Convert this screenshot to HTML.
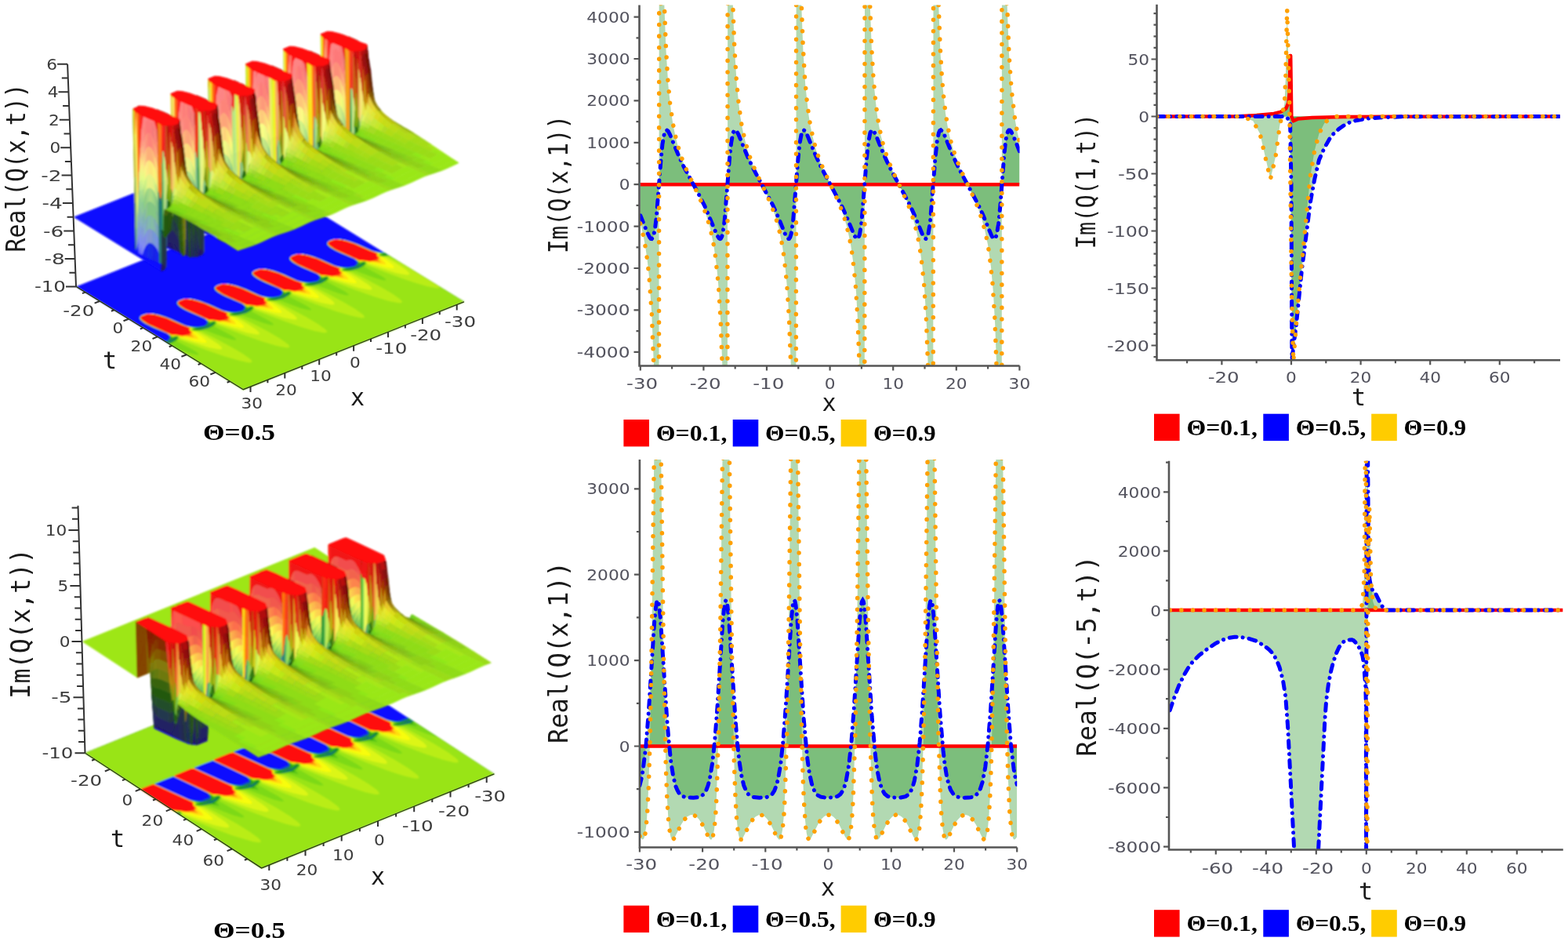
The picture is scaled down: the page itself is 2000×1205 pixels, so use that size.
<!DOCTYPE html><html><head><meta charset="utf-8"><title>Plots</title><style>html,body{margin:0;padding:0;background:#fff;overflow:hidden}svg{display:block}.m path{fill:currentColor;stroke:currentColor;stroke-width:.7;stroke-linejoin:round}</style></head><body><svg width="2000" height="1205" viewBox="0 0 2000 1205"><defs><clipPath id="c2"><rect x="815.5" y="6.5" width="485" height="460"/></clipPath><clipPath id="c5"><rect x="815.9" y="586" width="481.3" height="494.5"/></clipPath><clipPath id="c3"><rect x="1475.5" y="5.8" width="514.5" height="453.4"/></clipPath><clipPath id="c6"><rect x="1491" y="587.8" width="502.8" height="495.7"/></clipPath><filter id="fb1" x="-5%" y="-5%" width="110%" height="110%"><feGaussianBlur stdDeviation="0.9"/></filter><filter id="fb2" x="-5%" y="-5%" width="110%" height="110%"><feGaussianBlur stdDeviation="0.85"/></filter></defs><rect width="2000" height="1205" fill="#fff"/><g filter="url(#fb1)"><path fill="#0a0aff" d="M97 365.4 310.3 496.7 591.9 384.8 378.7 253.5Z"/><path fill="#0a2be2" fill-rule="evenodd" d="M310.3 496.7 210.1 435 213.5 433.7 215.5 431.7 216 429.1 214.8 426.8 212.1 425.1 196.2 418.6 185.4 413.4 178.7 408.7 177.2 406.9 177.1 405.5 181.9 401.4 189.9 399.7 195.7 399.7 203.6 401.3 213.3 404.3 240.9 416.2 251.2 416.9 259.7 415.5 262.2 414.1 263.7 412 263.8 409.7 262.4 407.6 235.4 395.6 228.7 391.5 225.2 388.2 224.8 386.9 225.3 385.7 229.8 382.4 239 380.6 246.6 381.2 257.6 384.1 289 397.2 299.2 397.9 307.6 396.4 310.1 395 311.5 393 311.6 390.6 310.3 388.6 283.6 376.8 277 372.9 273.3 369.5 272.7 368 273 366.9 277.5 363.5 284.8 361.8 292.5 361.9 303.9 364.6 314.6 368.6 332.7 376.9 336.9 378.2 347.2 378.9 355.6 377.4 358 376 359.4 373.9 359.4 371.5 358.1 369.6 331.1 357.6 324.7 353.7 321.1 350.5 320.5 348.5 322 346.8 325.4 344.4 331.4 343 339.2 342.7 350.4 345.2 361.5 349.2 380.7 358 384.7 359.2 395.1 359.9 403.5 358.4 405.9 356.9 407.2 354.8 407.1 352.4 405.8 350.5 379.7 339 373.3 335.3 369.5 332.2 368.4 330.4 368.6 329 373.3 325.4 382.7 323.6 390.4 324.2 406.3 329 431.8 340.1 441 340.9 449.4 340 452.8 338.6 454.7 336.6 455.1 333.9 453.9 331.8 451.1 330 436.4 324.1 425.3 318.8 418.9 314.6 416.2 311.2 417 309.3 421.2 306.4 427.9 304.9 434.1 304.6 443.3 306.4 457.9 311.5 477.4 320.4 482.3 321.6 489.8 321.9 591.9 384.8 310.3 496.7Z"/><path fill="#137277" fill-rule="evenodd" d="M310.3 496.7 210.7 435.4 214.3 433.9 216.3 431.9 216.7 429.2 215.2 426.6 212.3 424.7 197.7 418.8 186.8 413.6 180.5 409.5 177.7 406.1 178.4 404.1 182.4 401.5 189.6 399.9 195.1 400 203 401.5 211.9 404.3 236.2 415 240.3 416.3 251.3 417.2 260.6 415.7 263.2 414.1 264.5 412 264.3 409.5 262.9 407.5 259.9 405.6 235.6 395.1 229.5 391.4 226 388.1 225.4 386.8 225.9 385.5 230.1 382.5 238.5 380.8 246.3 381.5 257 384.4 268.9 389 284.1 396 288.3 397.3 299.7 398.2 308.5 396.7 310.9 395.2 312.2 393.4 312.3 391 311.2 389 307.8 386.6 285.9 377.4 276.6 371.9 274 369.4 273.3 367.4 274.4 365.8 278 363.5 287.5 361.8 297.8 363.3 310.7 367.5 332.1 377.1 337.1 378.5 347.7 379.2 355.9 377.9 358.6 376.3 360 374.3 360.1 371.8 358.7 369.6 355.8 367.7 338.3 360.5 327.6 355 321.7 350.2 321.1 348.6 321.9 347.1 325.9 344.5 330.2 343.4 334.8 342.8 339.7 343.1 347.3 344.7 356.4 347.7 379.7 358 383.7 359.3 394.8 360.2 403.8 358.8 406.5 357.3 407.9 355.2 407.9 352.7 406.5 350.6 403.6 348.7 386.8 341.8 376.5 336.7 370.4 332.2 369 330.3 369.1 328.9 373.5 325.5 380.9 323.9 386.8 324 394.6 325.6 403.7 328.5 427.5 339 431.8 340.3 442.8 341.2 451.7 339.8 454.4 338.2 455.7 336.1 455.7 333.7 454.2 331.5 451.1 329.6 426.7 319 420.3 315 417.1 311.8 417.2 309.5 421.5 306.5 427.8 305 432.7 304.8 440.7 306.2 450.8 309.2 476.8 320.6 482.8 321.9 490.3 322.2 591.9 384.8 310.3 496.7Z"/><path fill="#1c902e" fill-rule="evenodd" d="M310.3 496.7 214.3 437.6 221.1 434.6 223.3 432.9 223.9 431.5 212.7 436.7 211.4 435.8 215.1 434.4 217.1 432.2 217.4 429.3 215.8 426.7 212.3 424.4 195.5 417.4 185.3 412.3 179.1 407.6 178.1 406 178.4 404.6 182.6 401.6 185.6 400.8 190.3 400 195.4 400.2 202.5 401.7 211.4 404.5 235.6 415.1 240.2 416.5 251.9 417.6 261.3 416.2 263.9 414.6 265.3 412.2 265 409.6 263.2 407.3 260.1 405.4 236.1 394.9 229.8 391.1 226.4 387.9 226.1 385.8 228.1 383.9 233.4 381.8 238.2 381 245.9 381.7 256.5 384.6 268.2 389.1 283.4 396.1 288.3 397.5 299.8 398.6 309.3 397.2 311.8 395.5 313.1 393.3 312.8 390.6 311 388.3 307.7 386.3 284.3 376.1 278.1 372.4 274.4 369.2 273.8 367.2 275.3 365.3 278.2 363.6 284.1 362.2 291.7 362.3 302.8 365 314.9 369.6 331.3 377.1 336.2 378.6 347.8 379.6 357.2 378.1 359.8 376.3 360.9 374.1 360.6 371.6 358.8 369.3 355.6 367.3 331.7 356.9 325.7 353.3 322.3 350.2 321.6 348.2 322.8 346.6 326.1 344.6 330.7 343.4 338.1 343.1 349.3 345.6 362 350.3 379.3 358.2 384.3 359.6 395.8 360.6 404.8 359.2 407.4 357.6 408.7 355.2 408.4 352.6 406.7 350.3 403.6 348.4 380 338.1 373.7 334.4 370.2 331.3 369.4 329.4 370.3 327.8 373.8 325.7 377.3 324.7 385.2 324.1 396.3 326.4 409 330.9 427.1 339.2 432.3 340.7 443.7 341.6 452.7 340.2 455.1 338.7 456.5 336.6 456.5 334.2 455.2 332 451.4 329.4 429 319.8 420.6 314.7 417.9 312.2 417.2 310.2 418.4 308.6 421.6 306.6 430 305 439.3 306.1 454.4 311 476 320.6 482.7 322.1 490.9 322.6 493.9 324.4 491.4 325.3 494.9 325.1 591.9 384.8 310.3 496.7ZM443.9 344.3 449.4 343.6 456.1 341.7 460.6 339.4 463.1 336.7 453.1 341.2 443.9 344.3ZM395.9 363.3 401.6 362.6 408.2 360.7 412.8 358.4 415.3 355.7 404.6 360.4 395.9 363.3ZM347.9 382.3 353.7 381.6 360.5 379.7 365.6 376.9 367.4 374.5 359.4 378.4 347.9 382.3ZM300.4 401.3 305.9 400.6 312.6 398.7 317.1 396.4 319.6 393.7 309.6 398.2 300.4 401.3ZM252.4 420.3 258.1 419.6 264.7 417.7 269.3 415.4 271.8 412.7 261.2 417.4 252.4 420.3Z"/><path fill="#239d19" fill-rule="evenodd" d="M310.3 496.7 214.7 437.9 223.3 433.8 225.5 431.5 225.5 429.8 224.1 429.8 220.1 432.7 217.5 433.7 217.9 429.6 215.5 426.3 212.5 424.3 195.9 417.4 185.5 412.2 179.5 407.7 178.3 405.9 178.6 404.5 180.8 402.6 185.9 400.7 190.9 400 196.2 400.5 203.7 402.2 213 405.2 237.3 415.8 246.2 417.5 257.8 417.7 248 420.3 247.5 420.7 248 420.9 256.1 420.4 265.1 418 271.9 414.2 273.4 412.2 273.3 410.8 271.7 410.9 268 413.6 265.3 414.7 265.8 411.9 265.5 410 264.2 408.1 261.8 406.2 237.1 395.3 230.6 391.5 226.8 388.1 226.2 385.9 228.3 383.8 233.2 381.8 238.5 381 246 381.8 256.1 384.5 267.6 389 283 396.1 287.7 397.5 295.7 398.7 305.6 398.7 295.9 401.2 295.3 401.7 295.8 401.9 304 401.4 313.3 398.9 319.7 395.2 321.3 393.2 321.1 391.8 319.6 391.8 315.7 394.7 313.2 395.7 313.7 393 313.3 391 312 389.1 309.7 387.2 285.3 376.5 278.8 372.7 274.9 369.4 273.9 367.3 275.3 365.3 278.3 363.7 284.1 362.2 291.5 362.4 302.3 365 314.5 369.6 330.9 377.1 335.8 378.6 343.7 379.7 353.4 379.7 343.9 382.2 343.2 382.6 343.6 382.9 352 382.4 361.2 379.8 367.5 376.2 369.1 374.2 369 372.8 367.5 372.8 363.6 375.7 361 376.7 361.5 373.9 361.1 372 359.9 370.1 357.5 368.2 333.4 357.6 326.6 353.7 322.7 350.4 321.8 348.3 322.8 346.6 326.2 344.7 330.7 343.4 338.3 343.3 349.6 345.9 362.5 350.7 378.9 358.2 383.8 359.6 391.7 360.7 401.2 360.7 391.5 363.3 391 363.7 391.4 363.9 399.6 363.4 408.9 360.9 415.2 357.3 416.8 355.5 416.9 353.9 415.5 353.7 411.5 356.6 408.8 357.7 409.3 354.9 408.9 352.8 405.1 349.1 383.3 339.6 373.3 333.9 370.1 330.8 369.7 328.7 372 326.7 377.3 324.7 385 324.2 396.1 326.5 406.9 330.2 426.3 339 431.6 340.6 439.2 341.7 449.1 341.7 439.4 344.2 438.8 344.7 439.3 344.9 447.5 344.4 456.8 341.9 463.2 338.2 464.7 336.2 464.6 334.8 463.1 334.8 459.2 337.7 456.6 338.7 457.2 336 456.8 334 455.4 331.9 453 330.1 429.7 319.9 423.4 316.4 419.3 313.4 417.7 311.5 417.5 309.9 418.8 308.3 421.8 306.7 429.9 305 439.4 306.3 454 311 475.8 320.6 483 322.3 491.3 322.8 493.2 324 487.3 325.2 486.8 325.8 495.4 325.4 591.9 384.8 310.3 496.7Z"/><path fill="#2ca714" fill-rule="evenodd" d="M310.3 496.7 215.1 438.1 220.3 436 224.2 433.6 226.4 431 226.1 429.2 223.9 429.1 219 432.2 217.6 428.3 213.9 425 195.2 417 185.9 412.2 179.6 407.6 178.5 405.8 178.7 404.4 180.8 402.6 186 400.7 190.5 400.1 195.7 400.5 203.3 402.1 212.3 405.1 236.7 415.7 244.3 417.4 254 418.3 246.5 420.2 245.9 420.6 246.5 421.1 255.4 420.8 265.7 418.1 272.8 413.9 274.4 411.7 273.9 410.2 271.8 410.1 266.8 413.2 265.3 409.1 261.6 405.9 237.2 395.2 230.6 391.3 226.9 387.9 226.4 385.7 228.5 383.7 233.1 381.9 238.4 381.1 246.1 381.9 256.4 384.8 284.8 396.8 292.3 398.5 301.9 399.3 294.2 401.2 293.7 401.7 294.3 402.1 303.4 401.8 313.7 399.1 320.7 394.9 322.2 392.7 321.7 391.2 319.7 391.1 314.6 394.2 313.1 390.1 309.2 386.8 285.1 376.2 278.6 372.4 274.9 369.2 274.1 367.1 275.6 365.2 278.4 363.7 284.2 362.3 291.7 362.5 302.7 365.3 313.6 369.3 332.9 377.9 340 379.4 349.7 380.3 342.1 382.2 341.5 382.8 342.4 383.1 351.7 382.7 361.6 380 368.3 376.2 369.9 374.1 369.8 372.4 367.6 372 362.5 375.2 360.8 371 357.1 367.8 335.8 358.7 325.8 352.9 322.5 349.9 322.1 347.7 324.3 345.6 330.4 343.5 337.1 343.2 345.9 344.9 359.4 349.5 380 358.7 387.5 360.4 397.5 361.3 389.8 363.3 389.4 363.8 390.3 364.1 399.2 363.8 409.5 361 416.1 357.1 417.7 355.1 417.7 353.4 415.3 353.1 410.3 356.2 408.8 352.1 404.9 348.8 384.1 339.9 373.9 334.2 370.6 331.2 369.8 328.9 372 326.7 377.4 324.7 384.1 324.1 393.2 325.8 407.5 330.6 427.6 339.6 435.2 341.4 445.4 342.3 437.7 344.2 437.2 344.8 438.1 345.1 447.2 344.8 457.1 342.1 464 338 465.6 335.9 465.4 334.3 463.2 334.1 458.1 337.2 456.5 333 452.5 329.7 433.9 321.8 423.5 316.3 419.4 313.3 417.6 310.7 418.5 308.7 421.8 306.7 430 305.1 439.3 306.3 454.3 311.2 475.6 320.6 483.2 322.4 491.7 323.1 492.7 323.7 485.9 325.1 485.2 325.9 489.2 326.3 495.8 325.6 591.9 384.8 310.3 496.7Z"/><path fill="#59c417" fill-rule="evenodd" d="M310.3 496.7 215.4 438.3 220.7 436.3 224.8 433.7 227 431 226.6 429 224 428.7 219.6 431 217.2 427.5 213.3 424.5 194.4 416.5 183.9 411 179.4 407.2 178.5 405.6 178.8 404.4 180.8 402.6 186 400.7 190.9 400.1 196 400.6 204 402.4 212.7 405.3 236 415.6 242.7 417.3 251.2 418.5 245.3 420.2 245 420.7 246 421.3 255.1 421.1 266.1 418.3 270.7 416.1 273.5 413.8 274.9 411.6 274.4 410 271.9 409.7 267.4 412 265 408.5 261.3 405.6 237.3 395.2 230.9 391.4 227.1 388 226.4 385.8 228.6 383.7 233 381.9 238.3 381.1 244.4 381.7 253.2 383.8 265.7 388.4 283.5 396.4 290.4 398.2 299 399.5 293.3 401.2 292.8 401.7 293.8 402.3 303 402.1 314 399.3 321.1 395.1 322.7 392.9 322.5 391.2 319.9 390.6 315.2 393 312.7 389.4 308.9 386.5 288.3 377.7 277.9 371.8 274.6 368.6 274.5 366.4 278.4 363.8 283.9 362.3 290.2 362.4 299.7 364.4 312.9 369.1 331.4 377.4 338.1 379.2 346.8 380.5 340.9 382.3 340.7 382.9 341.7 383.3 351.3 383 361.9 380.3 369 376.1 370.5 373.9 370.3 372.2 367.8 371.6 363.1 374 360.6 370.5 356.8 367.5 336.6 358.9 326 353 322.6 349.9 322.2 347.6 324.3 345.6 330.4 343.5 337.3 343.3 346.9 345.3 360 349.8 379.4 358.5 386.2 360.3 394.7 361.5 388.8 363.2 388.5 363.8 389.8 364.3 399.2 364 409.9 361.2 416.9 357 418.3 354.9 418.2 353.2 417 352.6 415.4 352.7 410.9 355 408.3 351.4 404.6 348.5 384.8 340.1 374.2 334.3 370.7 331.2 369.9 328.8 372.1 326.7 377.4 324.7 381.7 324.1 386.2 324.4 400.3 328 427 339.4 433.8 341.2 442.5 342.5 436.5 344.3 436.4 344.9 437.6 345.3 447.2 345 457.5 342.3 464.6 338.1 466.2 335.9 465.9 334.1 463.4 333.6 458.7 336 456.2 332.4 452.2 329.4 433.8 321.6 423.8 316.4 419.4 313.1 417.7 310.6 418.5 308.7 421.9 306.8 430.1 305.1 440.6 306.7 454.9 311.5 474.9 320.4 481.6 322.2 490.3 323.5 484.6 325.1 484.1 325.7 484.8 326.2 489.5 326.6 496.1 325.8 591.9 384.8 310.3 496.7Z"/><path fill="#7dd918" fill-rule="evenodd" d="M310.3 496.7 215.9 438.6 221 436.7 225.2 433.9 227.4 431.1 227.6 429.8 226.9 428.8 224.3 428.4 219.8 430.2 216.6 426.8 213 424.3 194.5 416.5 184.5 411.3 179.5 407.3 178.7 405.8 178.9 404.4 180.8 402.6 186 400.7 190.9 400.2 195.9 400.6 211.9 405.1 235.9 415.6 249.1 418.5 244.6 420.3 244.5 420.9 245.6 421.4 255 421.4 267 418.6 270.9 416.5 274.1 413.9 275.4 411.5 274.7 409.8 272.3 409.3 267.7 411.2 261.2 405.5 237.4 395.1 231 391.3 227.3 388.1 226.5 385.8 228.7 383.6 232.9 382 238.2 381.2 245 381.8 254.2 384.2 266.1 388.6 283.4 396.4 297 399.5 292.5 401.2 292.4 401.9 293.5 402.4 303.3 402.3 314.9 399.6 318.8 397.5 321.8 395 323.2 392.9 322.9 391.1 320.2 390.3 315.5 392.2 312.2 388.8 308.8 386.4 288.2 377.6 277.9 371.7 274.7 368.5 274.5 366.4 278.4 363.8 283.9 362.4 290.9 362.5 300.7 364.8 313 369.2 331.3 377.5 344.5 380.4 344.7 380.8 340.2 382.3 340.2 382.9 341.6 383.5 351.3 383.3 362.5 380.6 369.4 376.3 371 373.9 370.7 372.1 367.9 371.3 363.3 373.2 360.2 369.9 356.6 367.4 336.4 358.8 326.3 353.1 322.7 349.8 322.2 347.6 324.3 345.6 330.5 343.6 334.8 343.2 340 343.7 354.2 347.6 378.7 358.3 392.6 361.5 388.1 363.3 388 363.9 389.4 364.5 399.2 364.3 410.4 361.6 417.2 357.2 418.8 354.9 418.5 353.1 415.8 352.3 411.2 354.2 407.9 350.8 404.3 348.3 384.7 340 374.4 334.3 370.7 331.1 370 328.8 372.1 326.6 377.1 324.8 381.7 324.2 386.5 324.5 400.5 328.1 426.9 339.4 440.4 342.5 435.8 344.4 435.8 344.9 437.3 345.5 446.8 345.3 458.4 342.6 462.3 340.5 465.3 338 466.7 335.7 466.2 334 463.6 333.3 459 335.2 455.7 331.8 452.1 329.3 434.5 321.9 424.2 316.6 419.7 313.4 417.8 310.8 418.6 308.7 421.9 306.8 426 305.6 430.5 305.2 440.8 306.8 455.1 311.6 474.8 320.5 488.3 323.5 483.9 325.2 483.6 325.8 484.3 326.3 489 326.8 496.5 326 591.9 384.8 310.3 496.7Z"/><path fill="#99e415" fill-rule="evenodd" d="M310.3 496.7 226.3 445.1 245.2 451.3 251.1 452.5 253.6 452.2 252.1 450.1 246.9 446.5 226 435.6 225.7 434.7 228 430.7 227.2 428.7 224.4 428.2 219.7 429.5 212.8 424.2 195.4 416.9 185 411.5 179.7 407.4 178.7 405.7 179 404.3 181.1 402.5 188.4 400.4 193.7 400.3 200.5 401.6 215.4 406.5 235.4 415.4 247.5 418.4 247.6 418.9 244.1 420.3 245.1 421.4 249.9 421.9 261.8 421.3 288.4 431 296.7 433.2 301.2 433.5 301.3 432.8 300.3 431.5 295.5 428 273.8 416.6 273.6 415.7 275.8 411.7 274.8 409.6 272.4 409.1 267.5 410.5 260.6 405.2 244.1 398.3 234.1 393.3 228.8 389.6 226.5 386.6 227 385.1 228.7 383.6 234.3 381.7 240 381.2 247.4 382.4 262.5 387.2 283.4 396.5 295.3 399.4 295.5 399.9 291.9 401.4 292.9 402.4 297.9 402.9 309.6 402.3 336.5 412.1 344.8 414.2 349.1 414.5 348.1 412.5 343.1 408.9 321.6 397.6 321.4 396.7 323.6 392.7 322.7 390.6 320.1 390.2 315.4 391.5 308.7 386.3 287.4 377.1 277.1 371 274.4 367.9 275.1 365.7 280.6 363 285.9 362.2 292.8 362.9 302.5 365.4 314.5 369.9 330.8 377.3 343.1 380.4 343.1 381 339.8 382.3 340.8 383.4 345.8 383.9 357.5 383.3 383.7 392.9 392.2 395.1 396.8 395.6 397 394.9 396.1 393.6 391.3 390.1 369.5 378.6 369.2 377.7 371.5 373.6 370.5 371.6 367.9 371.2 363.2 372.5 356.5 367.3 335.7 358.3 325 352.1 322.4 349.2 322.6 347.1 326.4 344.8 332.2 343.3 339.6 343.7 349.5 346.1 361.7 350.6 378.8 358.4 391 361.4 391 361.9 387.6 363.3 388.7 364.5 393.4 364.9 405.3 364.3 431.8 374 440.2 376.2 444.7 376.5 444.8 375.8 443.8 374.5 438.9 371 417.3 359.6 417.1 358.7 419.3 354.7 418.3 352.6 415.9 352.1 411 353.5 404.3 348.3 383.7 339.5 372.9 333.1 370.2 330.2 370.4 328.1 372.5 326.5 379.1 324.4 383.4 324.2 388.7 324.9 402.7 328.9 426.4 339.3 439 342.5 435.4 344.4 436.7 345.5 441.3 345.9 453.1 345.3 480 355.1 488.2 357.2 492.6 357.5 491.6 355.5 486.6 351.9 465.1 340.6 464.9 339.7 467.1 335.7 466.1 333.6 463.6 333.2 458.8 334.5 452.1 329.3 432.4 320.9 421.8 315 418.7 312.2 417.8 310.2 419.1 308.3 422 306.8 425.7 305.6 430.4 305.2 441.1 306.9 455.3 311.8 474.2 320.3 486.6 323.4 486.6 324 483.2 325.3 484 326.4 488.9 326.9 497 326.4 591.9 384.8 310.3 496.7Z"/><path fill="#b9ed14" fill-rule="evenodd" d="M428.7 319 422.1 315 418.5 311.8 418 309.5 420.2 307.6 425.7 305.7 432 305.3 440.4 306.8 449.9 309.8 473.9 320.2 485.3 323.4 485.6 323.9 482.8 325.3 483.7 326.5 495.7 327.5 511.1 335.2 560.5 365.5 560.6 366.3 559.4 367.2 556.1 367.3 544.5 365 526.7 359.7 503.2 351.6 468.6 338.6 467.6 337.7 467.5 334.8 466.2 333.4 463.6 333 458.8 333.9 451.8 329 428.7 319ZM380 337.5 374.1 333.9 370.7 330.8 370.2 328.5 372.5 326.5 377.8 324.7 383.8 324.3 391.7 325.6 401.8 328.7 426.1 339.3 437.5 342.4 437.7 342.9 434.9 344.4 435.7 345.4 447.8 346.5 463.1 354.1 484.9 365.6 500.8 374.8 510.2 381.6 512.3 383.8 512.8 385.4 511.5 386.2 508.1 386.2 496.5 383.9 478 378.4 453.9 370.1 420.8 357.6 419.7 356.7 419.7 353.7 418.4 352.4 416 352 410.9 352.9 404 348 380 337.5ZM331 355.9 325 351.9 322.3 348.7 322.4 347.5 323.5 346.2 328.3 344.1 333.2 343.3 338.5 343.6 345.9 345.1 354.5 347.9 378 358.2 389.7 361.4 390 361.8 387.2 363.3 387.8 364.4 400 365.5 416.7 373.8 438.1 385.2 453.5 394.2 462.5 400.7 464.6 402.9 464.9 404.5 463.6 405.2 460.1 405.2 447.6 402.6 428.7 396.9 403.6 388.2 372.9 376.6 371.9 375.7 371.8 372.6 370.6 371.4 368.1 371 363.2 372 356.1 367 331 355.9ZM285.2 376 278.6 372 275 368.8 274.6 366.5 276.7 364.6 282.2 362.7 288.5 362.3 296.9 363.8 306.4 366.8 330.5 377.2 341.9 380.4 342.1 380.9 339.3 382.3 340.2 383.5 352.2 384.5 367.7 392.2 389.3 403.6 404.9 412.7 414.4 419.4 416.6 421.6 417.1 423.3 415.9 424.2 412.6 424.3 401.1 422 383.2 416.7 359.7 408.6 325.1 395.6 324.1 394.7 324.1 391.8 322.7 390.4 320.1 390 315.3 390.9 308.3 386 285.2 376ZM236.6 394.5 230.6 390.9 227.2 387.8 226.7 385.5 229 383.5 234.3 381.7 240.3 381.3 248.2 382.6 258.4 385.7 282.7 396.3 294 399.4 294.2 399.9 291.5 401.4 292.2 402.4 304.3 403.5 319.6 411.1 341.5 422.6 357.3 431.8 366.7 438.6 368.8 440.8 369.3 442.4 368 443.2 364.6 443.2 353 440.9 334.5 435.4 310.4 427.1 277.3 414.6 276.3 413.7 276.2 410.7 274.9 409.4 272.5 409 267.5 409.9 260.5 405 236.6 394.5ZM187.5 412.9 181.5 408.9 178.8 405.7 178.9 404.5 180.1 403.2 184.8 401.1 189.7 400.3 195.1 400.6 202.4 402.1 211 404.9 234.6 415.2 246.2 418.4 246.5 418.8 243.7 420.3 244.4 421.4 256.5 422.5 273.2 430.8 294.6 442.2 310 451.2 319.1 457.7 321.1 459.9 321.4 461.5 320.1 462.2 316.6 462.2 304.2 459.6 285.2 453.9 260.1 445.2 229.5 433.6 228.4 432.7 228.3 429.6 227.1 428.4 224.6 428 219.7 429 212.7 424 187.5 412.9Z"/><path fill="#dcf613" fill-rule="evenodd" d="M428.1 318.6 422 314.9 418.6 311.8 418.1 309.5 420.2 307.6 425.1 305.8 431.1 305.3 438.3 306.4 447.1 308.8 458.6 313.3 473.6 320.2 484.4 323.4 484.6 323.9 482.4 325.4 482.9 326.2 492.1 328.2 503 334.3 518.1 344.2 521.7 347.7 522.3 349.7 521 350.5 517.6 350.5 505.6 348.2 470.6 337.3 469.3 336.5 467.3 333.9 465.7 333 458.8 333.6 451.6 328.9 428.1 318.6ZM379.1 337 373.5 333.4 370.5 330.5 370.3 328.5 372.5 326.5 377.3 324.8 383.3 324.3 390.5 325.4 399 327.8 410.5 332.2 426 339.3 436.6 342.4 436.8 342.9 434.6 344.3 435 345.2 444.3 347.2 454.2 352.8 469.9 363 473.6 366.4 474.6 368.5 473.4 369.4 470.1 369.6 458.2 367.3 422.8 356.3 421.4 355.5 419.5 352.9 417.9 352 411 352.6 403.8 347.9 379.1 337ZM329.3 354.9 324.3 351.3 322.3 348.3 324 345.9 328.3 344.1 332.7 343.3 337.4 343.4 351.7 346.9 362.5 351.1 378.1 358.2 388.8 361.4 388.9 361.9 386.8 363.3 387.2 364.2 396.4 366.2 407 372.1 422.3 382.1 425.9 385.5 426.7 387.6 425.5 388.5 422.2 388.5 410.1 386.2 375 375.3 373.6 374.5 371.7 371.9 370.1 371 363.1 371.6 356 366.9 339.7 360.1 329.3 354.9ZM284.7 375.6 278.5 371.9 275.1 368.8 274.6 366.5 276.7 364.6 281.6 362.8 287.6 362.3 294.8 363.4 303.6 365.8 315.1 370.3 330.2 377.2 340.9 380.4 341.1 380.9 338.9 382.4 339.4 383.2 348.6 385.2 359.5 391.3 374.6 401.2 378.2 404.7 378.9 406.7 377.6 407.5 374.2 407.5 362.1 405.2 327.2 394.3 325.8 393.5 323.9 390.9 322.3 390 315.3 390.6 308.2 385.9 284.7 375.6ZM235.6 394 230 390.4 227.1 387.5 226.8 385.5 229.1 383.5 233.8 381.8 239.8 381.3 247 382.4 255.5 384.8 267 389.2 282.6 396.3 293.1 399.4 293.3 399.9 291.2 401.3 291.5 402.2 300.8 404.2 310.7 409.8 326.4 420 330.1 423.4 331.1 425.5 329.9 426.4 326.7 426.6 314.7 424.3 279.3 413.3 277.9 412.5 276 409.9 274.4 409 267.5 409.6 260.3 404.9 235.6 394ZM185.9 411.9 180.8 408.3 178.8 405.3 180.5 402.9 184.8 401.1 189.2 400.3 193.9 400.4 208.2 403.9 219 408.1 234.7 415.2 245.3 418.4 245.4 418.9 243.3 420.3 243.7 421.2 252.9 423.2 263.5 429.1 278.8 439.1 282.4 442.5 283.2 444.6 282 445.5 278.7 445.5 266.7 443.2 231.5 432.3 230.1 431.5 228.2 428.9 226.6 428 219.7 428.6 212.5 423.9 196.2 417.1 185.9 411.9Z"/><path fill="#f8fd10" fill-rule="evenodd" d="M427 317.9 421.7 314.6 418.8 311.9 418.1 309.7 419.8 307.9 425 305.8 430.2 305.3 436.7 306.1 444.7 308.1 456.6 312.5 473.7 320.2 483.3 323.2 483.6 323.9 482 325.4 482.2 326.1 487.6 328.1 496.1 333.9 501.3 338.3 502.7 341.3 502.3 341.9 500.3 342 493.4 341.2 469.9 335.1 465.5 332.8 458.6 333.1 451.7 328.9 427 317.9ZM377.3 335.8 372.8 332.8 370.5 330.1 370.5 328.2 372.6 326.6 377.2 324.8 382.8 324.3 389.1 325.1 397.4 327.3 409.5 331.8 425.5 339.1 435.5 342.2 435.8 342.8 434.2 344.2 434.4 345.1 439.8 347.1 448.5 353 453.6 357.5 454.8 360.4 454.4 360.9 450.5 360.9 440.8 359.2 422.1 354.1 417.4 351.7 410.7 352.1 403.7 347.8 387.6 341.1 377.3 335.8ZM332.6 356.6 326.9 353.2 323.3 350.2 322.4 347.9 324 346 329.2 343.9 334.4 343.3 340.4 343.9 348.5 346 361 350.5 377.9 358.2 387.7 361.2 388 361.9 386.4 363.3 386.6 364.1 392 366.1 400.6 372 405.8 376.5 407 379.4 406.4 379.9 402.5 379.9 392.7 378.2 374.3 373.1 369.5 370.7 362.9 371.1 355.9 366.8 332.6 356.6ZM283.5 374.9 278.2 371.6 275.3 368.9 274.6 366.7 276.3 364.9 281.5 362.8 286.7 362.3 293.2 363.1 301.2 365.1 313.2 369.5 330.2 377.2 339.8 380.2 340.1 380.9 338.5 382.4 338.8 383.1 344.2 385.1 352.6 390.9 357.8 395.3 359.2 398.3 358.8 398.9 356.9 399 349.9 398.2 326.4 392.1 322 389.8 315.1 390.1 308.2 385.9 283.5 374.9ZM233.8 392.8 229.3 389.8 227 387.1 227 385.2 229.1 383.6 233.7 381.8 239.3 381.3 245.7 382.1 253.9 384.3 266 388.8 282 396.1 292 399.2 292.3 399.8 290.7 401.2 290.9 402.1 296.3 404.1 305 410 310.1 414.5 311.3 417.4 310.9 417.9 307 417.9 297.3 416.2 278.6 411.1 273.9 408.7 267.2 409.1 260.2 404.8 244.1 398.1 233.8 392.8ZM189.1 413.6 183.4 410.2 179.8 407.2 178.9 404.9 180.5 403 185.7 400.9 190.9 400.3 196.9 400.9 205 403 217.5 407.5 234.4 415.2 244.2 418.2 244.5 418.9 242.9 420.3 243.1 421.1 248.5 423.1 257.2 429 262.3 433.5 263.5 436.4 262.9 436.9 259 436.9 249.3 435.2 230.8 430.1 226 427.7 219.4 428.1 212.4 423.8 189.1 413.6Z"/><path fill="#ffde0c" fill-rule="evenodd" d="M429.1 319 422.8 315.3 419.2 312.3 418.1 310.1 419.4 308.2 424.8 305.9 429.6 305.3 435.6 305.9 443.2 307.8 455.6 312.2 473.2 320.1 482.3 323.1 482.8 323.7 481.6 325.2 481.7 326 485.9 328.2 485.4 329.5 490.3 333.8 492.4 337.4 484.3 336.6 473.5 334.3 470.4 334.4 465 332.5 458.4 332.7 451.4 328.6 429.1 319ZM380.3 337.4 374.7 334.1 371.2 331.1 370.3 328.9 371.9 326.9 377 324.9 381.8 324.3 388.1 325 395.9 326.9 408.5 331.5 425.7 339.2 434.5 342.1 435 342.8 433.8 344.2 433.9 345 438 347.2 437.6 348.5 442.5 352.8 444.6 356.5 436.2 355.6 425.7 353.3 422.5 353.4 417.3 351.5 410.4 351.7 403.8 347.7 380.3 337.4ZM331.3 355.8 326.2 352.6 323.2 349.8 322.5 347.9 324.1 345.9 329.2 343.9 334.4 343.3 340.6 344 348.6 346.1 360.4 350.4 377.6 358.1 386.6 361.1 387.1 361.8 386 363.1 386 364 390.2 366.2 389.8 367.5 394.8 371.9 396.7 375.5 387.7 374.5 377.8 372.3 374.7 372.4 369.5 370.5 362.6 370.7 355.9 366.7 331.3 355.8ZM285.7 376 279.3 372.3 275.7 369.3 274.7 367.1 275.9 365.2 281.3 362.9 286.1 362.3 292.1 362.9 299.7 364.8 312.1 369.2 329.8 377.1 338.8 380.1 339.3 380.7 338.2 382.2 338.2 383 342.4 385.2 341.9 386.5 346.8 390.8 348.9 394.4 340.8 393.6 330 391.3 326.9 391.4 321.5 389.5 314.9 389.7 307.9 385.6 285.7 376ZM236.8 394.4 231.2 391.1 227.8 388.1 226.8 385.9 228.4 383.9 233.5 381.9 238.3 381.3 244.6 382 252.5 383.9 265 388.5 282.2 396.2 291 399.1 291.5 399.8 290.3 401.2 290.4 402 294.5 404.2 294.1 405.5 299 409.8 301.1 413.5 292.8 412.6 282.2 410.3 279.1 410.4 273.8 408.5 266.9 408.7 260.3 404.7 236.8 394.4ZM187.8 412.8 182.7 409.6 179.7 406.8 179 404.9 180.6 402.9 185.8 400.9 190.9 400.3 197.1 401 205.2 403.1 217 407.4 234.1 415.1 243.2 418.1 243.6 418.8 242.5 420.1 242.6 421 246.7 423.2 246.3 424.5 251.3 428.9 253.2 432.5 244.3 431.5 234.3 429.3 231.2 429.4 226 427.5 219.1 427.7 212.5 423.7 187.8 412.8Z"/><path fill="#ffa709" fill-rule="evenodd" d="M427.8 318.2 422.6 315 419.3 312.2 418.3 310 419.4 308.2 424.9 306 429.2 305.4 434.8 305.9 442.6 307.7 453.4 311.4 472.9 320.1 481.3 322.9 482 323.8 481.2 325.9 484.6 328.6 484.2 329.7 482.9 330.5 486.3 334.8 476 333.3 471.2 333.9 465.1 332.4 458.1 332.3 451.5 328.6 427.8 318.2ZM378.8 336.5 373.9 333.4 371.1 330.8 370.4 328.8 372 327 377.6 324.8 381.6 324.4 387.7 325 395.3 326.8 405.3 330.3 424.9 339 433.5 341.9 434.1 342.8 433.4 344.9 436.7 347.6 436.4 348.6 435.1 349.5 438.6 353.9 428.2 352.3 423.4 352.9 417.2 351.3 410.3 351.3 403.7 347.6 388.5 341.3 378.8 336.5ZM333.2 356.7 327.3 353.3 323.8 350.3 322.6 348.2 323.7 346.3 329.3 343.9 333.3 343.4 338.8 343.8 346.4 345.5 357.3 349.2 377 358 385.7 360.9 386.3 361.8 385.5 363.9 388.9 366.6 388.6 367.6 387.2 368.5 390.8 373 380.4 371.3 375.6 371.9 369.2 370.3 362.5 370.3 355.6 366.5 333.2 356.7ZM284.4 375.2 279.1 372 275.8 369.2 274.8 367 276 365.2 281.4 363 285.7 362.4 291.4 362.9 299.1 364.7 309.9 368.4 329.4 377.1 337.8 379.9 338.5 380.8 337.8 382.9 341.1 385.6 340.7 386.7 339.4 387.5 342.9 391.8 332.5 390.3 327.7 390.9 321.6 389.4 314.7 389.3 308 385.6 284.4 375.2ZM235.3 393.5 230.5 390.4 227.7 387.8 227 385.8 228.5 384 234.1 381.8 238.2 381.4 244.2 382 251.8 383.8 261.9 387.3 281.4 396 290 398.9 290.6 399.8 289.9 401.9 293.3 404.6 293 405.6 291.6 406.5 295.1 410.9 284.7 409.3 279.9 409.9 273.7 408.3 266.8 408.3 260.2 404.6 245 398.3 235.3 393.5ZM189.7 413.7 183.8 410.3 180.3 407.3 179.1 405.2 180.2 403.3 185.8 400.9 189.8 400.4 195.4 400.8 202.9 402.5 213.8 406.2 233.5 415 242.2 417.9 242.8 418.8 242.1 420.9 245.4 423.6 245.1 424.6 243.8 425.5 247.3 430 236.9 428.3 232.1 428.9 225.7 427.3 219 427.3 212.1 423.5 189.7 413.7Z"/><path fill="#ff6206" fill-rule="evenodd" d="M425.6 316.8 419 311.6 418.4 309.8 419.5 308.2 425.5 305.8 428.8 305.4 434.7 305.9 442.2 307.6 453.7 311.6 472.3 319.9 480.6 322.9 481.2 323.7 480.8 325.9 483.4 328.4 482.8 330.2 480.9 331.3 482.5 333.1 478 332.5 471.2 333.4 464.8 332.1 457.7 331.9 451.6 328.6 434.9 321.5 425.6 316.8ZM380.7 337.4 375.3 334.2 371.7 331.3 370.6 329.1 371.4 327.4 377.6 324.8 380.9 324.4 386.5 324.9 393.8 326.5 405.7 330.5 424.5 338.9 432.7 341.9 433.4 342.7 432.9 344.8 435.6 347.5 435 349.2 433.1 350.3 434.7 352.2 430.2 351.5 423.2 352.4 416.9 351.1 410.1 351 403.4 347.4 380.7 337.4ZM331.7 355.8 324 350.4 322.8 348.5 323.2 346.8 330.8 343.7 335.4 343.5 341 344.3 355.2 348.5 377.1 358.1 384.3 360.5 385.5 361.5 385.1 363.8 387.4 365.8 387.8 367 387.1 368.3 385.3 369.3 386.6 371.2 382.3 370.5 375.7 371.4 369.3 370.1 362.7 370.1 331.7 355.8ZM282.1 373.8 275.5 368.6 274.9 366.8 276 365.2 282 362.8 285.4 362.4 291.2 362.9 298.7 364.6 310.3 368.6 328.8 376.9 337.1 379.9 337.7 380.7 337.3 382.9 339.9 385.4 339.3 387.2 337.4 388.3 339 390.1 334.5 389.5 327.7 390.4 321.3 389.1 314.3 388.9 308.1 385.6 291.4 378.5 282.1 373.8ZM237.3 394.4 231.8 391.2 228.3 388.3 227.1 386.1 227.9 384.4 234.1 381.8 237.4 381.4 243.1 381.9 250.3 383.5 262.2 387.5 281 395.9 289.2 398.9 289.9 399.7 289.4 401.8 292.1 404.5 291.5 406.2 289.6 407.3 291.2 409.2 286.7 408.5 279.7 409.4 273.4 408.1 266.6 408 259.9 404.4 237.3 394.4ZM188.2 412.8 180.6 407.4 179.3 405.5 179.7 403.8 187.3 400.7 192 400.5 197.5 401.3 211.7 405.5 233.6 415.1 240.8 417.5 242 418.5 241.6 420.8 243.9 422.8 244.3 424 243.6 425.3 241.8 426.3 243.2 428.2 238.8 427.5 232.2 428.4 225.8 427.1 219.2 427.1 188.2 412.8Z"/><path fill="#ff2b0a" fill-rule="evenodd" d="M427.9 318 419.8 312.4 418.6 310.4 419 308.8 426.3 305.7 431 305.5 436.5 306.3 451 310.7 472.2 320 479.3 322.4 480.3 323.3 480.2 325.6 482.3 327.9 482.5 329.2 481.7 330.6 479.5 331.9 475.2 332.9 458.1 331.7 427.9 318ZM378.7 336.2 371.6 331 370.7 329.1 371.4 327.5 379.1 324.6 383.5 324.6 389.3 325.5 403.6 329.8 424.5 339.1 431.4 341.4 432.5 342.3 432.4 344.7 434.5 346.9 434.7 348.2 433.8 349.6 431.7 351 427.2 351.9 410.1 350.7 378.7 336.2ZM333.3 356.5 324.7 350.9 323.1 348.8 323.2 347 331.1 343.7 340.5 344.3 355.6 348.8 376.3 357.9 383.4 360.3 384.7 361.3 384.6 363.8 386.7 365.9 386.9 367.2 385.5 369 379.6 370.9 375 371 369.1 369.9 362.5 369.7 333.3 356.5ZM284.4 375 276.4 369.4 275.1 367.4 275.5 365.8 282.8 362.7 287.5 362.5 293 363.3 307.5 367.7 328.7 377 335.8 379.4 336.9 380.3 336.7 382.6 338.9 384.9 339 386.2 338.2 387.6 336 388.9 331.7 389.9 314.6 388.7 284.4 375ZM235.2 393.2 228.2 388 227.2 386.1 228 384.5 235.7 381.6 240 381.6 245.8 382.5 260.2 386.8 281 396.1 288 398.4 289 399.3 288.9 401.7 291 403.9 291.2 405.2 290.3 406.6 288.2 408 283.7 408.9 266.6 407.7 235.2 393.2ZM189.8 413.5 181.2 407.9 179.6 405.8 179.7 404 187.6 400.7 197 401.3 212.1 405.8 232.8 414.9 239.9 417.3 241.2 418.3 241.1 420.8 243.2 422.9 243.4 424.2 242 426 236.1 427.9 231.5 428 225.6 426.9 219 426.7 189.8 413.5Z"/><path fill="#ff0f0c" fill-rule="evenodd" d="M429.5 318.7 420.9 313.2 419 311 418.8 309.2 426.7 305.7 435.4 306.2 450.4 310.5 472 320 478.4 322.2 479.8 323.3 480 326.3 481.9 328.5 477.7 331 471.7 332.7 457.9 331.5 429.5 318.7ZM380.8 337.2 372.7 331.9 371 329.7 371.1 328 378.9 324.7 388.2 325.3 403 329.7 424 339 430.6 341.2 431.9 342.3 432 344.9 434 347.6 429.8 350 423.8 351.7 410.1 350.5 380.8 337.2ZM331.8 355.6 324.3 350.3 323.1 348.4 323.5 346.7 331.1 343.7 340.7 344.4 354.9 348.6 376.4 358 382.8 360.2 384 361.2 384.3 364.1 386.2 366.4 382.1 369 375.9 370.7 362.3 369.5 331.8 355.6ZM286 375.7 277.5 370.2 275.5 368 275.3 366.2 283.2 362.7 291.9 363.2 306.9 367.5 328.5 377 334.9 379.2 336.3 380.3 336.5 383.3 338.4 385.5 334.2 388 328.3 389.7 314.4 388.5 286 375.7ZM237.3 394.2 229.2 388.9 227.5 386.7 227.6 385 235.4 381.7 244.7 382.3 259.5 386.7 280.5 395.9 287.1 398.2 288.4 399.3 288.6 401.9 290.5 404.6 286.3 407 280.3 408.7 266.6 407.5 237.3 394.2ZM188.3 412.6 180.8 407.3 179.6 405.4 180 403.7 187.6 400.7 197.2 401.4 211.5 405.6 232.9 415 239.3 417.2 240.6 418.2 240.8 421.1 242.7 423.4 238.6 426 232.4 427.7 218.8 426.5 188.3 412.6Z"/><path fill="#ff0a0a" fill-rule="evenodd" d="M428 317.7 420.5 312.7 419 310.7 419.1 309 427.2 305.7 435.9 306.4 450.7 310.8 471.5 319.9 477.8 322.1 479.3 323.5 479.3 325.3 478.3 326.3 479.4 328 476.4 329.9 471.3 331.6 457.7 331.2 428 317.7ZM378.4 335.7 372.3 331.3 371.1 329.5 371.3 327.9 379.5 324.7 389 325.6 403.6 330.1 423.9 339 430 341.1 431.5 342.7 431.5 344.4 430.5 345.4 431.6 347 428.8 348.9 423.3 350.6 409.6 350.2 378.4 335.7ZM333.3 356.3 325.2 350.9 323.4 348.8 323.3 347.2 331.6 343.7 339.6 344.3 354.3 348.5 375.9 358 381.9 360 383.6 361.5 383.7 363.5 382.6 364.4 383.7 366 380.8 367.9 375.4 369.6 362 369.2 333.3 356.3ZM284.5 374.7 277 369.7 275.5 367.7 275.6 366 283.7 362.7 292.4 363.4 307.2 367.8 328 376.9 334.3 379.1 335.8 380.5 335.9 382.3 334.8 383.3 335.9 385 332.9 386.9 327.8 388.6 314.2 388.2 284.5 374.7ZM234.9 392.7 228.8 388.3 227.6 386.5 227.8 384.9 236 381.7 245.5 382.6 260.1 387.1 280.4 396 286.5 398.1 288 399.7 288 401.4 287 402.4 288.1 404 285.3 405.9 279.8 407.6 266.1 407.2 234.9 392.7ZM189.9 413.3 181.7 407.9 179.9 405.8 179.8 404.2 188.1 400.7 196.1 401.3 210.8 405.5 232.5 415 238.4 417 240.2 418.5 240.2 420.5 239.2 421.4 240.3 423 237.4 424.9 231.9 426.6 218.5 426.2 189.9 413.3Z"/></g>
<g filter="url(#fb2)"><path fill="#0a0aff" fill-rule="evenodd" d="M206.4 346.3 93.6 276.8 375.3 164.9 486.2 233.2 479.3 232.9 474.6 231.8 454.8 222.8 441.2 218 432.2 216 425.8 216 417.5 217.8 413 221.2 412.5 222.4 412.9 223.7 416.5 227.1 423.1 231 450.1 243 451.4 244.9 451.4 247.3 450 249.2 447.5 250.7 439.1 252.2 428.9 251.5 401 239.5 392.1 236.6 384.1 235 378.2 235 369.9 236.7 364.8 240.7 364.8 242.1 366.2 244 372.6 248.6 381.4 253 399.5 260.4 402.4 262.1 403.6 264.1 403.5 266.4 402.1 268.3 399.5 269.8 390.9 271.2 381.1 270.5 355 259.1 346.2 256.2 339 254.4 331.4 253.9 322.1 255.7 318 258.5 316.9 260.1 317.5 262.1 319.9 264.4 329.4 270 352.1 279.6 355.1 281.7 355.9 284.1 355 286.6 352.5 288.4 348.7 289.6 340.6 290.2 332.8 289.3 308.1 278.5 292.1 273.6 284 272.8 274.2 274.7 270.2 277.5 269 279.1 269.7 281.1 272.2 283.5 282.3 289.4 304.3 298.6 307.2 300.6 308.1 302.8 307.4 305.3 305.3 307.1 301.6 308.4 293.5 309.2 285.2 308.4 259.5 297.2 243.8 292.5 236.1 291.8 226.4 293.7 222.3 296.5 221.2 298.1 221.9 300.1 224.4 302.5 234.5 308.4 256.4 317.6 259.4 319.6 260.3 321.8 259.5 324.3 257.6 326 254.3 327.3 246.1 328.2 237.4 327.4 211.7 316.2 196 311.5 188.2 310.8 178.6 312.7 174.5 315.5 173.4 317.1 174 319.1 176.6 321.5 186.6 327.4 208.6 336.6 211.6 338.6 212.4 340.8 211.7 343.3 209.6 345.1 206.4 346.3Z"/><g class="m"><path color="#845800" d="M440.5 116.3l1.9-20.5-.8-15.2-1.8 22.2z"/><path color="#843700" d="M439.8 102.8l1.8-22.2-.8-15.2-1.7 23.9z"/><path color="#841600" d="M443.7 65.1l2.3-8.7 2.5-2.7 2.7 1.1 2.8 4.3 3 9.2 3.2 13.9-.8-15.8-3.2-14.7-2.7-1.2-2.7-1.2-2.7-1.1-2.7-1.2-2.6 1.7z"/><path color="#841600" d="M439.1 89.3l1.7-23.9 2-16.7 2.6-1.7-1.1 .4-2.7-1.2-2.6-1.1-2.7-1.2z"/><path color="#c6e74d" d="M408.9 45.8l1-.6 3 157.3-.3 20.7z"/><path color="#f2f216" d="M409.9 45.2l1.2 .5 2 133.8-.2 23z"/><path color="#fdb016" d="M411.1 45.7l1.8 .8 .5 95-.3 38z"/><path color="#fd3716" d="M412.9 46.5l2.7 1.1-1.8 35.9-.4 58z"/><path color="#fdd184" d="M413.8 83.5l1.4-33.5 1.8 77.6-1.3 34.5z"/><path color="#fd7963" d="M415.2 50l2.7 1.2 .6 46.3-1.5 30.1z"/><path color="#fd2121" d="M417.9 51.2l2.7 1.2-.3 21.1-1.8 24z"/><path color="#fd1616" d="M420.6 52.4l2.6 1.2 2.7 1.1-1.1 .5-2.5 1.6-2 16.7z"/><path color="#f21616" d="M436.7 59.4l2.7 1.2 .4 .2-.5 16.3-.5-2.6-3.2-14.6z"/><path color="#fd8484" d="M420.3 73.5l2-16.7 2.5-1.6 2.7 1.1 2.7 1.2 2.7 1.2 .2 8.7-2.8-4.3-2.7-1.1-2.6 2.7-2.3 8.7-2 15.5z"/><path color="#fd7979" d="M432.9 58.7l2.7 1.2 .5 16.7-3-9.2z"/><path color="#f27979" d="M435.6 59.9l3.2 14.6 .5 2.6 .5 16-.6-2.6-3.1-13.9z"/><path color="#fd9a84" d="M420.7 88.9l2-15.5 .5 16.5-2.1 14.3z"/><path color="#fd8484" d="M422.7 73.4l2.3-8.7 .5 17.2-2.3 8z"/><path color="#fd7979" d="M425 64.7l2.6-2.7 2.7 1.1 2.8 4.3 3 9.2 .4 16.7-3-8.6-2.8-4.1-2.6-1.1-2.6 2.4z"/><path color="#fd8479" d="M436.1 76.6l3.1 13.9 .5 16-3.2-13.2z"/><path color="#fd9a79" d="M439.2 90.5l.6 2.6 .4 15.8-.5-2.4z"/><path color="#fdc684" d="M421.1 104.2l2.1-14.3 .4 16.5-2.1 13.1z"/><path color="#fda584" d="M423.2 89.9l2.3-8 .5 17.3-2.4 7.2z"/><path color="#fd8f79" d="M425.5 81.9l2.6-2.4 2.6 1.1 2.8 4.1 .5 17.3-2.8-3.9-2.7-1.1-2.5 2.2z"/><path color="#fd9a79" d="M433.5 84.7l3 8.6 .5 16.8-3-8.1z"/><path color="#fdb079" d="M436.5 93.3l3.2 13.2 .4 15.9-3.1-12.3z"/><path color="#fdc679" d="M439.7 106.5l.5 2.4 .4 15.9-.5-2.4z"/><path color="#fdd184" d="M423.6 106.4l2.4-7.2 .4 17.2-2.4 6.6z"/><path color="#fdbb79" d="M426 99.2l2.5-2.2 2.7 1.1 2.8 3.9 .5 17.3-2.8-3.6-2.7-1.1-2.6 1.8z"/><path color="#fdd179" d="M434 102l3 8.1 .4 16.7-2.9-7.5z"/><path color="#fde779" d="M437 110.1l3.1 12.3 .4 15.9-3.1-11.5z"/><path color="#fdf279" d="M440.1 122.4l.5 2.4 .4 15.7-.5-2.2z"/><path color="#fdf284" d="M426.4 116.4l2.6-1.8 2.7 1.1 .4 17.5-2.7-1.1-2.5 1.6z"/><path color="#fdf279" d="M431.7 115.7l2.8 3.6 .4 17.4-2.8-3.5z"/><path color="#f2fd79" d="M434.5 119.3l2.9 7.5 .4 16.8-2.9-6.9z"/><path color="#e7f279" d="M437.4 126.8l3.1 11.5 .4 15.9-3.1-10.6z"/><path color="#d1f279" d="M440.5 138.3l.5 2.2 .4 15.8-.5-2.1z"/><path color="#d1f284" d="M426.9 133.7l2.5-1.6 .5 17.6-2.6 1.3z"/><path color="#dcf284" d="M429.4 132.1l2.7 1.1 .4 17.6-2.6-1.1z"/><path color="#d1f284" d="M432.1 133.2l2.8 3.5 .4 17.3-2.8-3.2z"/><path color="#c6e784" d="M434.9 136.7l2.9 6.9 .4 16.7-2.9-6.3z"/><path color="#b0dc84" d="M437.8 143.6l3.1 10.6 .3 15.9-3-9.8z"/><path color="#9ad179" d="M440.9 154.2l.5 2.1 .3 15.7-.5-1.9z"/><path color="#9ad184" d="M427.3 151l2.6-1.3 2.6 1.1 2.8 3.2 .4 17.4-2.8-3-2.7-1.2-2.6 1.1z"/><path color="#8fc684" d="M435.3 154l2.9 6.3 .4 16.8-2.9-5.7z"/><path color="#841600" d="M393.7 97.4l2-15.7 2.3-8.8 2.5-2.8 2.7 1.2 2.8 4.3 3 9.3 3.2 14-.7-15.9-3.2-12.3-2.7-1.2-2.6-1.2-2.7-1.1-2.7-1.2-2.7-.7-2 16.9z"/><path color="#9a0b0b" d="M394.9 65.3l2.7 .7-1.5 .6-2.7-1.2z"/><path color="#8fd158" d="M362.2 106.6l-.5-42.2 3.5 172.8-.9 5.2z"/><path color="#dcf263" d="M361.7 64.4l1.1 .4 2.8 153.4-.4 19z"/><path color="#fde716" d="M362.8 64.8l1.8 .8 1.5 121.1-.5 31.5z"/><path color="#fd8416" d="M364.6 65.6l2.7 1.2-.4 71.8-.8 48.1z"/><path color="#fd2c21" d="M367.3 66.8l2.7 1.2-2.2 25-.9 45.6z"/><path color="#fd1616" d="M370 68l2.7 1.2-3.1 1.2-1.8 22.6z"/><path color="#fda584" d="M367.8 93l1.8-22.6 1.2 48-1.5 29.9z"/><path color="#fd6e63" d="M369.6 70.4l2.7 1.2 .2 23.2-1.7 23.6z"/><path color="#fd1616" d="M372.3 71.6l2.7 1.1 2.7 1.2-.7 .3-2.5 4-2 16.6z"/><path color="#fd1616" d="M385.7 77.4l2.7 1.2-.6 2.7-2.8-3.6z"/><path color="#f21616" d="M388.4 78.6l2.7 1.2 .5 .2 0 18.4-.6-2.6-3.2-14.5z"/><path color="#fd8484" d="M372.5 94.8l2-16.6 2.5-4 2.7 1.2 2.7 1.1 2.6 1.2 .3 11.2-2.8-4.3-2.7-1.1-2.5 2.7-2.3 8.5-2.1 15.4z"/><path color="#fd7979" d="M385 77.7l2.8 3.6 .5 16.7-3-9.1z"/><path color="#f27979" d="M387.8 81.3l3.2 14.5 .5 16-3.2-13.8z"/><path color="#f28479" d="M391 95.8l.6 2.6 .4 16-.5-2.6z"/><path color="#fda584" d="M372.9 110.1l2.1-15.4 .4 16.6-2.1 14.1z"/><path color="#fd8484" d="M375 94.7l2.3-8.5 .5 17.2-2.4 7.9z"/><path color="#fd8479" d="M377.3 86.2l2.5-2.7 .5 17.5-2.5 2.4z"/><path color="#fd7979" d="M379.8 83.5l2.7 1.1 2.8 4.3 .5 17.3-2.8-4-2.7-1.2z"/><path color="#fd8479" d="M385.3 88.9l3 9.1 .5 16.7-3-8.5z"/><path color="#fd8f79" d="M388.3 98l3.2 13.8 .4 16-3.1-13.1z"/><path color="#fda579" d="M391.5 111.8l.5 2.6 .4 15.8-.5-2.4z"/><path color="#fda579" d="M375.4 111.3l2.4-7.9 .4 17.3-2.4 7.1z"/><path color="#fd9a79" d="M377.8 103.4l2.5-2.4 2.7 1.2 2.8 4 .5 17.3-2.8-3.8-2.7-1.1-2.6 2.1z"/><path color="#fda579" d="M385.8 106.2l3 8.5 .4 16.8-2.9-8z"/><path color="#fdbb79" d="M388.8 114.7l3.1 13.1 .4 15.9-3.1-12.2z"/><path color="#fdd179" d="M391.9 127.8l.5 2.4 .5 15.9-.6-2.4z"/><path color="#fddc84" d="M375.8 127.8l2.4-7.1 .5 17.2-2.4 6.5z"/><path color="#fdc679" d="M378.2 120.7l2.6-2.1 2.7 1.1 2.8 3.8 .4 17.4-2.8-3.7-2.7-1.1-2.5 1.8z"/><path color="#fdd179" d="M386.3 123.5l2.9 8 .4 16.7-2.9-7.3z"/><path color="#fde779" d="M389.2 131.5l3.1 12.2 .4 15.9-3.1-11.4z"/><path color="#f2f279" d="M392.3 143.7l.6 2.4 .3 15.7-.5-2.2z"/><path color="#f2fd84" d="M376.3 144.4l2.4-6.5 .4 17.3-2.4 5.7z"/><path color="#fdfd84" d="M378.7 137.9l2.5-1.8 .5 17.6-2.6 1.5z"/><path color="#fdf284" d="M381.2 136.1l2.7 1.1 .5 17.6-2.7-1.1z"/><path color="#fdfd84" d="M383.9 137.2l2.8 3.7 .4 17.3-2.7-3.4z"/><path color="#f2f279" d="M386.7 140.9l2.9 7.3 .4 16.8-2.9-6.8z"/><path color="#dcf279" d="M389.6 148.2l3.1 11.4 .4 15.9-3.1-10.5z"/><path color="#c6e779" d="M392.7 159.6l.5 2.2 .4 15.8-.5-2.1z"/><path color="#d1f284" d="M379.1 155.2l2.6-1.5 2.7 1.1 2.7 3.4 .4 17.3-2.7-3.1-2.7-1.2-2.6 1.3z"/><path color="#bbe784" d="M387.1 158.2l2.9 6.8 .4 16.8-2.9-6.3z"/><path color="#a5dc84" d="M390 165l3.1 10.5 .3 15.9-3-9.6z"/><path color="#8fc679" d="M393.1 175.5l.5 2.1 .4 15.7-.6-1.9z"/><path color="#841600" d="M345.7 114.2l2.1-15.9 2.3-8.9 2.5-2.8 2.7 1.1 2.8 4.4 3 9.3 3.2 14.2 .5 2.6-.7-15.8-.6-2.7-3-10-2.7-1.2-2.7-1.1-2.7-1.2-2.7-1.2-2.7-1.2-2 15.1z"/><path color="#d1d10b" d="M313.6 81l.9 .4 1.6 122.9 .8 44.3z"/><path color="#f2790b" d="M314.5 81.4l.9 .4-.1 78.6 .8 43.9z"/><path color="#8fdc21" d="M314.2 104.8l.3-20.8 3.5 169.5-.8 8.5z"/><path color="#dcf221" d="M314.5 84l1.8 .8 2.4 142.7-.7 26z"/><path color="#fdc616" d="M316.3 84.8l2.7 1.2 .8 101.7-1.1 39.8z"/><path color="#fd6316" d="M319 86l2.7 1.2-.7 62.8-1.2 37.7z"/><path color="#fd2c21" d="M321.7 87.2l2.7 1.1-2 28.7-1.4 33z"/><path color="#fd2116" d="M324.4 88.3l2.7 1.2-3.1 1.3-1.6 26.2z"/><path color="#fd8f84" d="M322.4 117l1.6-26.2 .7 25.2-1.7 23.4z"/><path color="#fd8484" d="M324 90.8l2.7 1.1 0 7.7-2 16.4z"/><path color="#fd6363" d="M326.7 91.9l2.7 1.2-.3 .1-2.4 6.4z"/><path color="#fd6363" d="M337.5 96.6l2.6 1.2 0 4.9-2.9-6z"/><path color="#fd8484" d="M340.1 97.8l2.7 1.2 .5 .2 .5 20.6-.5-2.6-3.2-14.5z"/><path color="#fd8f84" d="M324.7 116l2-16.4 .5 16.6-2.1 15.1z"/><path color="#fd8484" d="M326.7 99.6l2.4-6.4 2.7 1.2 2.7 1.1 2.7 1.2 .4 13.7-2.9-4.2-2.6-1.1-2.6 2.6-2.3 8.5z"/><path color="#fd7979" d="M337.2 96.7l2.9 6 .4 16.7-2.9-9z"/><path color="#f27979" d="M340.1 102.7l3.2 14.5 .4 16-3.2-13.8z"/><path color="#fd8479" d="M343.3 117.2l.5 2.6 .5 15.9-.6-2.5z"/><path color="#fda584" d="M325.1 131.3l2.1-15.1 .4 16.5-2.1 14z"/><path color="#fd8f84" d="M327.2 116.2l2.3-8.5 .5 17.2-2.4 7.8z"/><path color="#fd8479" d="M329.5 107.7l2.6-2.6 .4 17.5-2.5 2.3z"/><path color="#fd7979" d="M332.1 105.1l2.6 1.1 .5 17.5-2.7-1.1z"/><path color="#fd8479" d="M334.7 106.2l2.9 4.2 2.9 9 .5 16.8-3-8.5-2.8-4z"/><path color="#fd8f79" d="M340.5 119.4l3.2 13.8 .4 15.9-3.1-12.9z"/><path color="#fda579" d="M343.7 133.2l.6 2.5 .4 15.8-.6-2.4z"/><path color="#fdd184" d="M325.5 146.7l2.1-14 .5 16.5-2.2 12.8z"/><path color="#fdb079" d="M327.6 132.7l2.4-7.8 .5 17.3-2.4 7z"/><path color="#fda579" d="M330 124.9l2.5-2.3 .5 17.5-2.5 2.1z"/><path color="#fd9a79" d="M332.5 122.6l2.7 1.1 2.8 4 .5 17.4-2.8-3.9-2.7-1.1z"/><path color="#fda579" d="M338 127.7l3 8.5 .4 16.7-2.9-7.8z"/><path color="#fdc679" d="M341 136.2l3.1 12.9 .5 16-3.2-12.2z"/><path color="#fddc79" d="M344.1 149.1l.6 2.4 .4 15.8-.5-2.2z"/><path color="#fde784" d="M328.1 149.2l2.4-7 .4 17.2-2.4 6.4z"/><path color="#fdd179" d="M330.5 142.2l2.5-2.1 .5 17.6-2.6 1.7z"/><path color="#fdc679" d="M333 140.1l2.7 1.1 .5 17.6-2.7-1.1z"/><path color="#fdd179" d="M335.7 141.2l2.8 3.9 .4 17.3-2.7-3.6z"/><path color="#fddc79" d="M338.5 145.1l2.9 7.8 .5 16.8-3-7.3z"/><path color="#fdf279" d="M341.4 152.9l3.2 12.2 .3 15.8-3-11.2z"/><path color="#f2f279" d="M344.6 165.1l.5 2.2 .4 15.8-.6-2.2z"/><path color="#f2fd84" d="M330.9 159.4l2.6-1.7 .4 17.5-2.6 1.5z"/><path color="#fdfd84" d="M333.5 157.7l2.7 1.1 .4 17.5-2.7-1.1z"/><path color="#f2fd84" d="M336.2 158.8l2.7 3.6 .5 17.3-2.8-3.4z"/><path color="#f2f284" d="M338.9 162.4l3 7.3 .4 16.7-2.9-6.7z"/><path color="#d1f279" d="M341.9 169.7l3 11.2 .4 15.9-3-10.4z"/><path color="#bbe779" d="M344.9 180.9l.6 2.2 .3 15.7-.5-2z"/><path color="#c6e784" d="M331.3 176.7l2.6-1.5 .4 17.6-2.6 1.2z"/><path color="#c6f284" d="M333.9 175.2l2.7 1.1 .4 17.6-2.7-1.1z"/><path color="#c6e784" d="M336.6 176.3l2.8 3.4 .4 17.3-2.8-3.1z"/><path color="#bbe784" d="M339.4 179.7l2.9 6.7 .4 16.8-2.9-6.2z"/><path color="#9ad184" d="M342.3 186.4l3 10.4 .4 15.9-3-9.5z"/><path color="#84c679" d="M345.3 196.8l.5 2 .4 15.7-.5-1.8z"/><path color="#841600" d="M297.8 130.9l2-16 2.3-9 2.6-.8-.1 .1-2.7-1.2-2.7-1.2-2.2 12.9z"/><path color="#841600" d="M307.4 106.3l2.8 2.3 3 9.4 3.2 14.3 .5 2.6-.8-15.9-.5-2.6-3-7.7-2.7-1.2-2.6-1.1z"/><path color="#841600" d="M295.3 140.4l1.7-24.7 2.2-12.9-2.4 1-2.7-1.2-2.7-1.2z"/><path color="#bbd116" d="M265.5 105.8l.7-5.2 2.4 144.2 .5 33.9z"/><path color="#f2c60b" d="M266.2 100.6l.9 .4 1 107.4 .5 36.4z"/><path color="#f2580b" d="M267.1 101l1.1 .5-.8 60.7 .7 46.2z"/><path color="#63bb58" d="M267.4 162.2l-.7-47.6 3.5 161.7-1 4.8z"/><path color="#d1f263" d="M266.7 114.6l1.3-10.6 3 147.5-.8 24.8z"/><path color="#fddc16" d="M268 104l2.7 1.2 1.4 108.4-1.1 37.9z"/><path color="#fd6e16" d="M270.7 105.2l2.7 1.1 0 71.4-1.3 35.9z"/><path color="#fd3716" d="M273.4 106.3l2.7 1.2-1.3 38.8-1.4 31.4z"/><path color="#fd2116" d="M276.1 107.5l2.7 1.2-2.3 12.7-1.7 24.9z"/><path color="#fd1616" d="M278.8 108.7l2.7 1.2-2.7 1.1-2.3 10.4z"/><path color="#fd1616" d="M294.9 115.7l2.7 1.2-2.6 5.1-2.8-5.2z"/><path color="#f21616" d="M297.6 116.9l.5 .2-2.5 7.5-.6-2.6z"/><path color="#fd9a84" d="M274.8 146.3l1.7-24.9 .5 15.8-1.8 23.2z"/><path color="#fd8484" d="M276.5 121.4l2.3-10.4 2.6 1.1-.1 .1-2.3 8.8-2 16.2z"/><path color="#fd8484" d="M289.5 115.7l2.7 1.1 .1 7.3-3-8.4z"/><path color="#fd7979" d="M292.2 116.8l2.8 5.2 .5 16.5-3.2-14.4z"/><path color="#f26e6e" d="M295 122l.6 2.6 .5 16.5-.6-2.6z"/><path color="#fd8f84" d="M277 137.2l2-16.2 .4 16.6-2 14.9z"/><path color="#fd8484" d="M279 121l2.3-8.8 2.7 1.2 2.7 1.1 .3 13.2-2.7-1.1-2.5 2.6-2.4 8.4z"/><path color="#fd8479" d="M286.7 114.5l2.6 1.2 .5 16.2-2.8-4.2z"/><path color="#fd7979" d="M289.3 115.7l3 8.4 .5 16.8-3-9z"/><path color="#f27979" d="M292.3 124.1l3.2 14.4 .5 16-3.2-13.6z"/><path color="#fd8479" d="M295.5 138.5l.6 2.6 .4 15.9-.5-2.5z"/><path color="#fdb084" d="M277.4 152.5l2-14.9 .5 16.5-2.1 13.8z"/><path color="#fd8f84" d="M279.4 137.6l2.4-8.4 .4 17.2-2.3 7.7z"/><path color="#fd8479" d="M281.8 129.2l2.5-2.6 2.7 1.1 2.8 4.2 3 9 .4 16.7-2.9-8.3-2.8-4-2.7-1.2-2.6 2.3z"/><path color="#fd9a79" d="M292.8 140.9l3.2 13.6 .4 15.9-3.2-12.8z"/><path color="#fdb079" d="M296 154.5l.5 2.5 .4 15.8-.5-2.4z"/><path color="#fdb079" d="M279.9 154.1l2.3-7.7 .5 17.3-2.4 6.9z"/><path color="#fda579" d="M282.2 146.4l2.6-2.3 2.7 1.2 2.8 4 .4 17.3-2.8-3.8-2.6-1.1-2.6 2z"/><path color="#fdb079" d="M290.3 149.3l2.9 8.3 .5 16.8-3-7.8z"/><path color="#fdc679" d="M293.2 157.6l3.2 12.8 .4 16-3.1-12z"/><path color="#fddc79" d="M296.4 170.4l.5 2.4 .4 15.8-.5-2.2z"/><path color="#fde784" d="M280.3 170.6l2.4-6.9 .4 17.2-2.4 6.3z"/><path color="#fddc84" d="M282.7 163.7l2.6-2 .4 17.5-2.6 1.7z"/><path color="#fdd179" d="M285.3 161.7l2.6 1.1 .5 17.5-2.7-1.1z"/><path color="#fddc79" d="M287.9 162.8l2.8 3.8 .5 17.3-2.8-3.6z"/><path color="#fde779" d="M290.7 166.6l3 7.8 .4 16.7-2.9-7.2z"/><path color="#fdfd79" d="M293.7 174.4l3.1 12 .4 15.9-3.1-11.2z"/><path color="#e7f279" d="M296.8 186.4l.5 2.2 .4 15.8-.5-2.1z"/><path color="#f2fd84" d="M283.1 180.9l2.6-1.7 2.7 1.1 .4 17.6-2.7-1.1-2.5 1.4z"/><path color="#f2f284" d="M288.4 180.3l2.8 3.6 .4 17.3-2.8-3.3z"/><path color="#e7f284" d="M291.2 183.9l2.9 7.2 .4 16.8-2.9-6.7z"/><path color="#d1f279" d="M294.1 191.1l3.1 11.2 .3 15.8-3-10.2z"/><path color="#bbe784" d="M297.2 202.3l.5 2.1 .4 15.7-.6-2z"/><path color="#bbe784" d="M283.6 198.2l2.5-1.4 2.7 1.1 2.8 3.3 .4 17.4-2.8-3.1-2.7-1.2-2.5 1.2z"/><path color="#b0dc84" d="M291.6 201.2l2.9 6.7 .4 16.7-2.9-6z"/><path color="#8fd184" d="M294.5 207.9l3 10.2 .4 15.9-3-9.4z"/><path color="#21166e" d="M261.5 295.6l2.7 1.1 2.7 1.2 2.7 1.2 2.7 1.2 2.7 1.1 2.6 1.2-3.1-2.5-2.8-3.7-2.7-2.2-2.7-1.2-2.7 .1-2.5 2-2.6 1.7z"/><path color="#212163" d="M258.5 296.8l2.6-1.7 2.5-2 2.7-.1 2.7 1.2 2.7 2.2 2.8 3.7 2.8 4.9 .5 .2-1.1-13.7-.5-1.3-2.9-6.5-2.8-4.4-2.7-2.4-2.7-1.2-2.6 .4-2.6 2.7-2.4 5.4z"/><path color="#844200" d="M248.8 184.5l1.8-21.6-.7-15.2-1.8 23.3z"/><path color="#841600" d="M252.7 147.9l2.3-8.4 2.5-2.5 2.7 1.1 2.8 4.2 3 8.9-.8-16.6-2.9-8.1-2.7-1.2-2.7-1.2-2.7-1.1-2.3 8.5z"/><path color="#842c00" d="M248.1 171l1.8-23.3-.8-15.7-1.7 24.9z"/><path color="#841600" d="M249.9 147.7l2-16.2 2.3-8.5-.2 0-2.7-1.2-2.2 10.2z"/><path color="#841600" d="M262.3 126.5l2.9 8.1 3.2 14.4 .6 2.6-.9-16.4-.5-2.7-2.8-4.8-2.7-1.2z"/><path color="#841600" d="M247.4 156.9l1.7-24.9 2.2-10.2-2.7 1.2-2.7-1.2-2.7-1.2z"/><path color="#e7e716" d="M217.9 119.8l.9 .4 2 131.3 .2 30.2z"/><path color="#f2a516" d="M218.8 120.2l1.1 .5 .5 92.5 .4 38.3z"/><path color="#bbe784" d="M220 173.7l-.2-50.5 3.3 148.4-.8 24.6z"/><path color="#fde763" d="M219.8 123.2l2.7 1.1 1.8 109.9-1.2 37.4z"/><path color="#fd7916" d="M222.5 124.3l2.7 1.2 .4 73.3-1.3 35.4z"/><path color="#fd3716" d="M225.2 125.5l2.6 1.2-.7 41-1.5 31.1z"/><path color="#fd2121" d="M227.8 126.7l2.7 1.2-1.7 15.2-1.7 24.6z"/><path color="#fd1616" d="M230.5 127.9l2.7 1.1-2.3 1-2.1 13.1z"/><path color="#f21616" d="M246.7 134.9l2.7 1.2 .4 .2-2 10.1-.5-2.6-3-8z"/><path color="#fd9a84" d="M227.1 167.7l1.7-24.6 .4 15.3-1.8 23z"/><path color="#fd8484" d="M228.8 143.1l2.1-13.1 2.7 1.1 2.7 1.2-.2 .1-2.6 1-2.3 9-2 16z"/><path color="#fd8484" d="M239 133.5l2.7 1.2 2.6 1.1 .3 9.7-3.1-9.4-2.7-2.5z"/><path color="#fd7979" d="M244.3 135.8l3 8 .4 16-3.1-14.3z"/><path color="#f26e6e" d="M247.3 143.8l.5 2.6 .5 16-.6-2.6z"/><path color="#fd8f84" d="M229.2 158.4l2-16 .5 16.6-2.1 14.8z"/><path color="#fd8479" d="M231.2 142.4l2.3-9 .5 17.3-2.3 8.3z"/><path color="#fd7979" d="M233.5 133.4l2.6-1 .4 15.7-2.5 2.6z"/><path color="#fd8479" d="M236.1 132.4l2.7 1.2 .4 15.7-2.7-1.2z"/><path color="#fd7979" d="M238.8 133.6l2.7 2.5 .5 17.4-2.8-4.2z"/><path color="#f27979" d="M241.5 136.1l3.1 9.4 .4 16.8-3-8.8z"/><path color="#f28479" d="M244.6 145.5l3.1 14.3 .5 16-3.2-13.5z"/><path color="#fd8f79" d="M247.7 159.8l.6 2.6 .4 15.9-.5-2.5z"/><path color="#fdb084" d="M229.6 173.8l2.1-14.8 .4 16.5-2.1 13.6z"/><path color="#fd8f84" d="M231.7 159l2.3-8.3 .5 17.2-2.4 7.6z"/><path color="#fd8479" d="M234 150.7l2.5-2.6 2.7 1.2 2.8 4.2 .5 17.3-2.8-4-2.7-1.1-2.5 2.2z"/><path color="#fd8f79" d="M242 153.5l3 8.8 .5 16.7-3-8.2z"/><path color="#fda579" d="M245 162.3l3.2 13.5 .4 15.9-3.1-12.7z"/><path color="#fdb079" d="M248.2 175.8l.5 2.5 .4 15.8-.5-2.4z"/><path color="#fdbb79" d="M232.1 175.5l2.4-7.6 .4 17.3-2.3 6.8z"/><path color="#fdb079" d="M234.5 167.9l2.5-2.2 .5 17.5-2.6 2z"/><path color="#fda579" d="M237 165.7l2.7 1.1 2.8 4 .5 17.3-2.8-3.8-2.7-1.1z"/><path color="#fdb079" d="M242.5 170.8l3 8.2 .4 16.8-2.9-7.7z"/><path color="#fdd179" d="M245.5 179l3.1 12.7 .4 16-3.1-11.9z"/><path color="#fde779" d="M248.6 191.7l.5 2.4 .4 15.8-.5-2.2z"/><path color="#fdf284" d="M232.6 192l2.3-6.8 .5 17.3-2.4 6.1z"/><path color="#fddc84" d="M234.9 185.2l2.6-2 .5 17.5-2.6 1.8z"/><path color="#fddc79" d="M237.5 183.2l2.7 1.1 2.8 3.8 .4 17.3-2.8-3.5-2.6-1.2z"/><path color="#fde779" d="M243 188.1l2.9 7.7 .4 16.7-2.9-7.1z"/><path color="#f2f279" d="M245.9 195.8l3.1 11.9 .4 15.9-3.1-11.1z"/><path color="#e7f279" d="M249 207.7l.5 2.2 .4 15.8-.5-2.1z"/><path color="#e7f284" d="M235.4 202.5l2.6-1.8 .4 17.6-2.6 1.4z"/><path color="#f2f284" d="M238 200.7l2.6 1.2 .5 17.5-2.7-1.1z"/><path color="#e7f284" d="M240.6 201.9l2.8 3.5 .4 17.3-2.7-3.3z"/><path color="#dcf284" d="M243.4 205.4l2.9 7.1 .4 16.8-2.9-6.6z"/><path color="#c6e779" d="M246.3 212.5l3.1 11.1 .4 15.8-3.1-10.1z"/><path color="#b0e784" d="M249.4 223.6l.5 2.1 .4 15.7-.5-2z"/><path color="#bbe784" d="M238.4 218.3l2.7 1.1 .4 17.6-2.7-1.1z"/><path color="#b0e784" d="M241.1 219.4l2.7 3.3 .4 17.4-2.7-3.1z"/><path color="#a5dc84" d="M243.8 222.7l2.9 6.6 .4 16.8-2.9-6z"/><path color="#84c684" d="M246.7 229.3l3.1 10.1 .5 2 .3 15.7-.5-1.8-3-9.2z"/><path color="#21166e" d="M213.2 314.7l2.7 1.2 2.7 1.2-3-7.5-2.5 2.1-2.5 4.1z"/><path color="#211663" d="M218.6 317.1l2.7 1.2-3-8.8-2.7 .1z"/><path color="#212163" d="M221.3 318.3l2.7 1.1 2.7 1.2-3-7.7-2.7-2.2-2.7-1.2z"/><path color="#21166e" d="M226.7 320.6l2.7 1.2-2.9-5.1-2.8-3.8z"/><path color="#0b0b9a" d="M229.4 321.8l2.7 1.2 .4 .2-2.7 .4-.5-1.1-2.8-5.8z"/><path color="#212163" d="M207.9 314.6l2.7 1.2 2.5-4.1 2.5-2.1 2.7-.1 2.7 1.2 2.7 2.2 2.8 3.8 2.8 5.8 .5 1.1-1-15.3-.5-1.3-2.9-6.7-2.9-4.5-2.7-2.4-2.7-1.2-2.6 .4-2.5 2.8-2.5 5.6-2.3 8.3z"/><path color="#214237" d="M217.1 292.2l2.7 1.2-1.1-17.3-2.6-1.2z"/><path color="#214242" d="M219.8 293.4l2.7 2.4-1-17-2.8-2.7z"/><path color="#213742" d="M222.5 295.8l2.9 4.5-1.1-16.5-2.8-5z"/><path color="#21374d" d="M225.4 300.3l2.9 6.7-1-15.6-3-7.6z"/><path color="#212c58" d="M228.3 307l.5 1.3-1-15.4-.5-1.5z"/><path color="#214d16" d="M213.4 275.6l2.7-.7 2.6 1.2 2.8 2.7-1-17.1-2.8-2.9-2.7-1.2-2.6 1z"/><path color="#214d21" d="M221.5 278.8l2.8 5-1-16.5-2.8-5.6z"/><path color="#214d2c" d="M224.3 283.8l3 7.6-1-15.6-3-8.5z"/><path color="#214237" d="M227.3 291.4l.5 1.5-1-15.4-.5-1.7z"/><path color="#21580b" d="M223.3 267.3l3 8.5-.9-15.6-3-9.5z"/><path color="#214d16" d="M226.3 275.8l.5 1.7-.9-15.4-.5-1.9z"/><path color="#426e0b" d="M200.6 251.8l1.7-23.3-.7-13.5-1.7 25.4z"/><path color="#846300" d="M201.6 215l1.9-20.1-.8-15.2-1.8 21.8z"/><path color="#844200" d="M200.9 201.5l1.8-21.8-.8-15.2-1.7 23.5z"/><path color="#841600" d="M204.7 164.5l2.4-8.4 2.5-2.7 2.7 1.2 2.8 4.2 3 9-.8-16.6-2.9-5.7-2.7-1.2-2.7-1.2-2.7-1.1-2.4 6.1z"/><path color="#842100" d="M200.2 188l1.7-23.5-1.2-24.8-1.8 22z"/><path color="#841600" d="M201.9 164.5l2-16.4 2.4-6.1-.3 .1-2.7-1.2-2.6-1.2z"/><path color="#841600" d="M214.4 145.5l2.9 5.7 3.2 14.5 .5 2.6-1.1-20.1-.4-.2-2.7-1.2-2.7-1.2z"/><path color="#842100" d="M180 204.7l-2.1-69.8-3 1.2 .6 32.9z"/><path color="#213742" d="M173.8 286l-2-67 .7 98.1-.7-.3z"/><path color="#2c580b" d="M171.8 219l-2.2-80 3.7 176.6-.8 1.5z"/><path color="#c6e737" d="M169.6 139l.9 .4 2.8 151.1 0 25.1z"/><path color="#f2dc16" d="M170.5 139.4l1.2 .4 1.4 119 .2 31.7z"/><path color="#f28f16" d="M171.7 139.8l1.1 .5 .2 85.7 .1 32.8z"/><path color="#fd3716" d="M172.8 140.3l1.8 .8-2 30.7 .4 54.2z"/><path color="#0b0bf2" d="M172.5 317.1l.8-1.5-1.8 2.6-.9-.4z"/><path color="#1637c6" d="M173.3 290.5l-.2-31.7 .4 60.3-1.1-.5z"/><path color="#589aa5" d="M173.1 258.8l-.1-32.8 1.5 89.9-1 3.2z"/><path color="#84c684" d="M173 226l-.4-54.2 2.7 119.8-.8 24.3z"/><path color="#fdfd63" d="M172.6 171.8l1.6-28.3 2.3 111.1-1.2 37z"/><path color="#fd7916" d="M174.2 143.5l2.7 1.2 .9 74.7-1.3 35.2z"/><path color="#fd3716" d="M176.9 144.7l2.7 1.2-.3 42.8-1.5 30.7z"/><path color="#fd2121" d="M179.6 145.9l2.7 1.1-1.3 17.3-1.7 24.4z"/><path color="#fd1616" d="M182.3 147l2.6 1.2-1.8 .8-2.1 15.3z"/><path color="#f21616" d="M198.4 154.1l2.7 1.2 .4 .2-1.4 12.2-.6-2.6-3-10.2z"/><path color="#1616f2" d="M173.5 319.1l1-3.2 0 3.8-1.1-.5z"/><path color="#84bbb0" d="M175.3 291.6l1.2-37 .2 9.1-1.3 34.5z"/><path color="#b0e78f" d="M176.5 254.6l1.3-35.2 .3 11.6-1.4 32.7z"/><path color="#fdf284" d="M177.8 219.4l1.5-30.7 .4 13.7-1.6 28.6z"/><path color="#fd9a84" d="M179.3 188.7l1.7-24.4 .4 15.4-1.7 22.7z"/><path color="#fd8484" d="M181 164.3l2.1-15.3 2.6 1.1 2.7 1.2 2.7 1.2 2.7 1.2 0 4-2.8-4.4-2.7-1.1-2.5 2.7-2.3 8.9-2.1 15.9z"/><path color="#fd7979" d="M193.8 153.7l2.7 1.2 3 10.2 .5 16-3.2-14.1-3-9.3z"/><path color="#f27979" d="M199.5 165.1l.6 2.6 .4 16-.5-2.6z"/><path color="#7984f2" d="M174.5 319.7l.9-21.5 .1 6.7-1.2 14.8z"/><path color="#84b0c6" d="M175.4 298.2l1.3-34.5 .2 9.2-1.4 32z"/><path color="#8fd18f" d="M176.7 263.7l1.4-32.7 .3 11.5-1.5 30.4z"/><path color="#f2fd84" d="M178.1 231l1.6-28.6 .3 13.6-1.6 26.5z"/><path color="#fdc684" d="M179.7 202.4l1.7-22.7 .4 15.3-1.8 21z"/><path color="#fd8f84" d="M181.4 179.7l2.1-15.9 .4 16.6-2.1 14.6z"/><path color="#fd8479" d="M183.5 163.8l2.3-8.9 .4 17.3-2.3 8.2z"/><path color="#fd7979" d="M185.8 154.9l2.5-2.7 2.7 1.1 2.8 4.4 .5 17.3-2.8-4.2-2.7-1.1-2.6 2.5z"/><path color="#f27979" d="M193.8 157.7l3 9.3 .5 16.7-3-8.7z"/><path color="#fd8479" d="M196.8 167l3.2 14.1 .4 16-3.1-13.4z"/><path color="#fd8f79" d="M200 181.1l.5 2.6 .5 15.9-.6-2.5z"/><path color="#4d58f2" d="M174.3 319.7l1.2-14.8 .1 6.6-1.5 8.3z"/><path color="#84a5d1" d="M175.5 304.9l1.4-32 .2 9.1-1.5 29.5z"/><path color="#8fc68f" d="M176.9 272.9l1.5-30.4 .2 11.6-1.5 27.9z"/><path color="#d1f28f" d="M178.4 242.5l1.6-26.5 .3 13.7-1.7 24.4z"/><path color="#fdf284" d="M180 216l1.8-21 .4 15.3-1.9 19.4z"/><path color="#fdbb84" d="M181.8 195l2.1-14.6 .5 16.5-2.2 13.4z"/><path color="#fd9a84" d="M183.9 180.4l2.3-8.2 .5 17.2-2.3 7.5z"/><path color="#fd8f79" d="M186.2 172.2l2.6-2.5 .5 17.5-2.6 2.2z"/><path color="#fd8479" d="M188.8 169.7l2.7 1.1 2.8 4.2 .5 17.3-2.8-4-2.7-1.1z"/><path color="#fd8f79" d="M194.3 175l3 8.7 .4 16.8-2.9-8.2z"/><path color="#fda579" d="M197.3 183.7l3.1 13.4 .4 16-3.1-12.6z"/><path color="#fdbb79" d="M200.4 197.1l.6 2.5 .4 15.8-.6-2.3z"/><path color="#1616f2" d="M174.1 319.8l1.5-8.3 0 6.7-1.7 1.7z"/><path color="#848fe7" d="M175.6 311.5l1.5-29.5 .1 9.2-1.6 27z"/><path color="#8fbba5" d="M177.1 282l1.5-27.9 .3 11.5-1.7 25.6z"/><path color="#9adc8f" d="M178.6 254.1l1.7-24.4 .4 13.6-1.8 22.3z"/><path color="#e7fd84" d="M180.3 229.7l1.9-19.4 .4 15.4-1.9 17.6z"/><path color="#fde784" d="M182.2 210.3l2.2-13.4 .4 16.6-2.2 12.2z"/><path color="#fdc684" d="M184.4 196.9l2.3-7.5 .5 17.3-2.4 6.8z"/><path color="#fdb079" d="M186.7 189.4l2.6-2.2 2.7 1.1 2.8 4 .4 17.3-2.8-3.7-2.7-1.1-2.5 1.9z"/><path color="#fdbb79" d="M194.8 192.3l2.9 8.2 .5 16.7-3-7.6z"/><path color="#fddc79" d="M197.7 200.5l3.1 12.6 .4 15.9-3-11.8z"/><path color="#fde779" d="M200.8 213.1l.6 2.3 .4 15.8-.6-2.2z"/><path color="#1616fd" d="M173.9 319.9l1.7-1.7-.1 2.6-1.8-.8z"/><path color="#848ff2" d="M175.6 318.2l1.6-27 .1 9.2-1.8 20.4z"/><path color="#84b0bb" d="M177.2 291.2l1.7-25.6 .2 11.6-1.8 23.2z"/><path color="#8fd18f" d="M178.9 265.6l1.8-22.3 .3 13.7-1.9 20.2z"/><path color="#bbe78f" d="M180.7 243.3l1.9-17.6 .4 15.3-2 16z"/><path color="#e7fd84" d="M182.6 225.7l2.2-12.2 .4 16.5-2.2 11z"/><path color="#fdf284" d="M184.8 213.5l2.4-6.8 .4 17.3-2.4 6z"/><path color="#fde784" d="M187.2 206.7l2.5-1.9 .5 17.5-2.6 1.7z"/><path color="#fde779" d="M189.7 204.8l2.7 1.1 2.8 3.7 .5 17.3-2.8-3.5-2.7-1.1z"/><path color="#fdf279" d="M195.2 209.6l3 7.6 .4 16.8-2.9-7.1z"/><path color="#f2f279" d="M198.2 217.2l3 11.8 .4 15.9-3-10.9z"/><path color="#dcf279" d="M201.2 229l.6 2.2 .4 15.8-.6-2.1z"/><path color="#636ef2" d="M175.5 320.8l1.8-20.4 .1 9.2-2.2 11.3z"/><path color="#84a5dc" d="M177.3 300.4l1.8-23.2 .2 11.6-1.9 20.8z"/><path color="#8fc6a5" d="M179.1 277.2l1.9-20.2 .2 13.7-1.9 18.1z"/><path color="#8fd18f" d="M181 257l2-16 .3 15.4-2.1 14.3z"/><path color="#bbe784" d="M183 241l2.2-11 .4 16.6-2.3 9.8z"/><path color="#d1f284" d="M185.2 230l2.4-6 .4 17.2-2.4 5.4z"/><path color="#e7f284" d="M187.6 224l2.6-1.7 2.7 1.1 2.8 3.5 .4 17.4-2.8-3.3-2.7-1.1-2.6 1.3z"/><path color="#dcf284" d="M195.7 226.9l2.9 7.1 .4 16.7-2.9-6.4z"/><path color="#bbe784" d="M198.6 234l3 10.9 .4 15.8-3-10z"/><path color="#a5dc84" d="M201.6 244.9l.6 2.1 .3 15.7-.5-2z"/><path color="#1621f2" d="M175.2 320.9l2.2-11.3 .1 9.2-2.5 2.2z"/><path color="#848ff2" d="M177.4 309.6l1.9-20.8 .1 11.6-1.9 18.4z"/><path color="#84b0c6" d="M179.3 288.8l1.9-18.1 .3 13.7-2.1 16z"/><path color="#8fc69a" d="M181.2 270.7l2.1-14.3 .3 15.4-2.1 12.6z"/><path color="#8fd184" d="M183.3 256.4l2.3-9.8 .3 16.6-2.3 8.6z"/><path color="#9ad184" d="M185.6 246.6l2.4-5.4 .4 17.3-2.5 4.7z"/><path color="#a5dc84" d="M188 241.2l2.6-1.3 .4 17.5-2.6 1.1z"/><path color="#b0dc84" d="M190.6 239.9l2.7 1.1 .4 17.6-2.7-1.2z"/><path color="#a5dc84" d="M193.3 241l2.8 3.3 .4 17.3-2.8-3z"/><path color="#9ad184" d="M196.1 244.3l2.9 6.4 .3 16.8-2.8-5.9z"/><path color="#84c684" d="M199 250.7l3 10 .5 2 .3 15.7-.5-1.8-3-9.1z"/><path color="#1616fd" d="M175 321l2.5-2.2-.2 3.5-2.7-1.2z"/><path color="#848ffd" d="M177.5 318.8l1.9-18.4 .2 11.6-2.3 10.3z"/><path color="#849adc" d="M179.4 300.4l2.1-16 .2 13.7-2.1 13.9z"/><path color="#84b0bb" d="M181.5 284.4l2.1-12.6 .3 15.4-2.2 10.9z"/><path color="#84bba5" d="M183.6 271.8l2.3-8.6 .4 16.5-2.4 7.5z"/><path color="#8fc68f" d="M185.9 263.2l2.5-4.7 .4 17.3-2.5 3.9z"/><path color="#84c684" d="M188.4 258.5l2.6-1.1 2.7 1.2 2.8 3 2.8 5.9 .4 16.8-2.9-5.3-2.7-2.9-2.7-1.1-2.6 .8z"/><path color="#84bb8f" d="M199.3 267.5l3 9.1 .3 15.8-2.9-8.1z"/><path color="#84bb9a" d="M202.3 276.6l.5 1.8 .3 15.6-.5-1.6z"/><path color="#5858fd" d="M177.3 322.3l2.3-10.3 .1 11.6-2.7-1.2z"/><path color="#848ff2" d="M179.6 312l2.1-13.9 .1 13.7-2.1 11.8z"/><path color="#849adc" d="M181.7 298.1l2.2-10.9 .2 15.4-2.3 9.2z"/><path color="#84b0c6" d="M183.9 287.2l2.4-7.5 .2 16.7-2.4 6.2z"/><path color="#84b0b0" d="M186.3 279.7l2.5-3.9 .3 17.3-2.6 3.3z"/><path color="#84bbb0" d="M188.8 275.8l2.6-.8 .3 17.6-2.6 .5z"/><path color="#84bba5" d="M191.4 275l2.7 1.1 2.7 2.9 .3 17.3-2.7-2.5-2.7-1.2z"/><path color="#84b0b0" d="M196.8 279l2.9 5.3 .2 16.8-2.8-4.8z"/><path color="#79a5bb" d="M199.7 284.3l2.9 8.1 .3 15.9-3-7.2z"/><path color="#6363fd" d="M179.7 323.6l2.1-11.8 .1 13.1-2.7-1.1z"/><path color="#848ff2" d="M181.8 311.8l2.3-9.2 .2 15.4-2.4 6.9z"/><path color="#848fe7" d="M184.1 302.6l2.4-6.2 .2 16.6-2.4 5z"/><path color="#849adc" d="M186.5 296.4l2.6-3.3 .2 17.4-2.6 2.5z"/><path color="#849ad1" d="M189.1 293.1l2.6-.5 2.7 1.2 .2 17.6-2.7-1.2-2.6 .3z"/><path color="#799ad1" d="M194.4 293.8l2.7 2.5 .2 17.4-2.7-2.3z"/><path color="#799adc" d="M197.1 296.3l2.8 4.8 .3 16.8-2.9-4.2z"/><path color="#798fe7" d="M199.9 301.1l3 7.2 .1 15.9-2.8-6.3z"/><path color="#7984e7" d="M202.9 308.3l.5 1.4 .1 15.7-.5-1.2z"/><path color="#1616fd" d="M181.9 324.9l2.4-6.9-.9 8.6-2.7-1.2z"/><path color="#1621f2" d="M184.3 318l2.4-5 2.6-2.5-.6 18.5-2.6-1.2-2.7-1.2z"/><path color="#162ce7" d="M189.3 310.5l2.6-.3 2.7 1.2-.5 19.9-2.7-1.2-2.7-1.1z"/><path color="#1621e7" d="M194.6 311.4l2.7 2.3 2.9 4.2-.7 15.8-2.7-1.2-2.7-1.2z"/><path color="#1621f2" d="M200.2 317.9l2.8 6.3 .5 1.2-.9 9.6-.4-.2-2.7-1.1z"/><path color="#f29a16" d="M440 60.7l1.6 103.3 1.8 7-1.8-109.6z"/><path color="#f2dc16" d="M391.8 79.9l2.4 127.7 1.8 6.2-2.7-133.2z"/><path color="#f2f263" d="M343.5 99.1l3.3 147.9 1.7 5.5-3.4-152.7z"/><path color="#f21616" d="M297.6 117.3l-1.7 18.1 1.8 7 1.5-24.4z"/><path color="#bbe779" d="M295.9 135.4l3.2 147.6 1.8 4.9-3.2-145.5z"/><path color="#214d21" d="M277.9 305.1l-6.4-103.3 1.8 7.5 6.2 96.5z"/><path color="#f23716" d="M249.4 136.5l-.3 57.1 1.9 7.5-.1-64z"/><path color="#84c68f" d="M249.1 193.6l2.3 122.1 1.6 .6-2-115.2z"/><path color="#2c580b" d="M229.4 318.2l-7.5-132.6 1.8 7.4 7.5 129.7z"/><path color="#f26e16" d="M201.1 155.6l1 89.4 1.8 7.2-1.2-95.9z"/><path color="#21796e" d="M202.1 245l1 89.8 1.6 .7-.8-83.3z"/><path color="#f2a516" d="M441.6 61.4l1.8 109.6 1.7 4.3-1.9-113.2z"/><path color="#f2e716" d="M393.3 80.6l2.7 133.2 1.8 5.1-2.9-137.6z"/><path color="#e7f263" d="M345.1 99.8l3.4 152.7 1.7 5.1-3.6-157.2z"/><path color="#fd2116" d="M299.2 118l-1.5 24.4 1.4-4.8 1.7-18.9z"/><path color="#b0e784" d="M297.7 142.4l3.2 145.5 1.7 4.7-3.5-155z"/><path color="#214d21" d="M279.5 305.8l-6.2-96.5 1.7 2.3 6.1 94.9z"/><path color="#f23716" d="M250.9 137.1l.1 64 1.5 .6 0-63.9z"/><path color="#6eb079" d="M251 201.1l2 115.2 1.5 .7-2-115.3z"/><path color="#2c580b" d="M231.2 322.7l-7.5-129.7 1.5-1.7 7.6 134.4z"/><path color="#f28416" d="M202.7 156.3l1.2 95.9 1.7 3.6-1.4-98.8z"/><path color="#217979" d="M203.9 252.2l.8 83.3 1.6 .7-.7-80.4z"/><path color="#fda516" d="M443.2 62.1l1.9 113.2 1.2-7.3-1.6-105.2z"/><path color="#fde721" d="M394.9 81.3l2.9 137.6 1.4-2.2-2.7-134.7z"/><path color="#dcf221" d="M346.6 100.4l3.6 157.2 1.6 .8-3.6-157.3z"/><path color="#c6e784" d="M299.1 137.6l3.5 155 1.6 2.3-4.3-174.6z"/><path color="#214d21" d="M281.1 306.5l-6.1-94.9 .9-15.1 6.7 110.7z"/><path color="#fd2c16" d="M252.5 137.8l0 63.9 .8-19.8 .8-43.4z"/><path color="#2c9a2c" d="M252.5 201.7l2 115.3 1.6 .7-2.8-135.8z"/><path color="#2c580b" d="M232.8 325.7l-7.6-134.4 .6-24.6 8.6 159.6z"/><path color="#fd7916" d="M204.2 157l1.4 98.8 1.1-11-.9-87.1z"/><path color="#218479" d="M205.6 255.8l.7 80.4 1.5 .7-1.1-92.1z"/><path color="#fd6e16" d="M444.7 62.8l1.6 105.2 .3-32.1-.3-72.4z"/><path color="#21846e" d="M446.3 168l.4 74 1.6 .7-1.7-106.8z"/><path color="#fdd116" d="M396.5 82l2.7 134.7 .7-23-1.9-111.1z"/><path color="#f2fd21" d="M348.2 101.1l3.6 157.3 1-14.4-3-142.2z"/><path color="#d1f26e" d="M299.9 120.3l4.3 174.6 1.3-7.9-4-166z"/><path color="#2c580b" d="M282.6 307.2l-6.7-110.7 .1-38.2 8.2 149.6z"/><path color="#841600" d="M254.1 138.5l-.8 43.4 .1-38.7 2.3-4z"/><path color="#8fd16e" d="M253.3 181.9l2.8 135.8 1.6 .7-4.3-175.2z"/><path color="#21166e" d="M236.8 325.4l-2.4 .9 1.4-2 2.6 1.8z"/><path color="#4d6e0b" d="M234.4 326.3l-8.6-159.6 .9-16 9.1 173.6z"/><path color="#fd4216" d="M205.8 157.7l.9 87.1 .2-35.8 .5-50.6z"/><path color="#2c8f42" d="M206.7 244.8l1.1 92.1 1.6 .7-2.5-128.6z"/><path color="#fd3716" d="M446.3 63.5l.3 72.4 .7-22.6 .6-49.1z"/><path color="#2c9a37" d="M446.6 135.9l1.7 106.8 1.6 .7-2.6-130.1z"/><path color="#fd8416" d="M398 82.6l1.9 111.1 .4-29.1-.7-81.3z"/><path color="#217979" d="M399.9 193.7l.1 68.1 1.6 .7-1.3-97.9z"/><path color="#fddc21" d="M349.8 101.8l3 142.2 .5-28-2-113.5z"/><path color="#e7f221" d="M301.5 121l4 166 .6-22.2-3-143.1z"/><path color="#37630b" d="M284.2 307.9l-8.2-149.6 1.2-8.6 8.6 158.8z"/><path color="#f21616" d="M255.7 139.2l-2.3 4 1.5 .4 2.3-3.7z"/><path color="#d1f284" d="M253.4 143.2l4.3 175.2 1.1-9.4-3.9-165.4z"/><path color="#212163" d="M238.4 326.1l-2.6-1.8 .9-18.6 3.2 21.1z"/><path color="#6e790b" d="M235.8 324.3l-9.1-173.6 1.6 .7 8.4 154.3z"/><path color="#fd2121" d="M207.4 158.4l-.5 50.6 .9-16.4 1.2-33.5z"/><path color="#6ebb63" d="M206.9 209l2.5 128.6 1.6 .7-3.2-145.7z"/><path color="#c60b0b" d="M467.2 56.5l-2.4 .9 1.5 .7 2.8 7.3z"/><path color="#f22c16" d="M447.9 64.2l-.6 49.1 1.5-.4 .6-48.1z"/><path color="#79c66e" d="M447.3 113.3l2.6 130.1 1-14.9-2.1-115.6z"/><path color="#fd4d16" d="M399.6 83.3l.7 81.3 .9-15.8 0-64.8z"/><path color="#6eb084" d="M400.3 164.6l1.3 97.9 1.6 .7-2-114.4z"/><path color="#fda558" d="M351.3 102.5l2 113.5 .4-29.1-.8-83.7z"/><path color="#217984" d="M353.3 216l.1 65.7 1.5 .7-1.2-95.5z"/><path color="#e70b0b" d="M305.5 120.7l-2.4 1 1.9 8.9 2.1-9.2z"/><path color="#fde763" d="M303.1 121.7l3 143.1 .1-37.3-1.2-96.9z"/><path color="#586e0b" d="M285.8 308.5l-8.6-158.8 2.1 14.8 6.6 106.6z"/><path color="#e7160b" d="M257.2 139.9l-2.3 3.7 2.4 21.9 1.5-24.9z"/><path color="#e7f284" d="M254.9 143.6l3.9 165.4 .1-39.1-1.6-104.4z"/><path color="#212c58" d="M239.9 326.8l-3.2-21.1 0-38.9 4.8 60.6z"/><path color="#84840b" d="M236.7 305.7l-8.4-154.3 2.2 16.9 6.2 98.5z"/><path color="#f21616" d="M209 159.1l-1.2 33.5 1.8 7.4 .9-40.3z"/><path color="#a5dc84" d="M207.8 192.6l3.2 145.7 .5-25.9-1.9-112.4z"/><path color="#840b0b" d="M469.1 65.4l-2.8-7.3 1.6 .7 3.9 38.3z"/><path color="#e70b0b" d="M451.9 63.9l-2.5 .9 1.9 7.9 2.1-8.1z"/><path color="#e7422c" d="M449.4 64.8l-.6 48.1 2 11.8 .5-52z"/><path color="#bbe78f" d="M448.8 112.9l2.1 115.6-.2-44.3 .1-59.5z"/><path color="#9a0b0b" d="M420.5 76.3l-2.4 1 1.5 .7 3.6 29.2z"/><path color="#e70b0b" d="M403.6 83.1l-2.4 .9 2.3 20.4 1.7-20.7z"/><path color="#e76e42" d="M401.2 84l0 64.8 1.7 2.6 .6-47z"/><path color="#8fd18f" d="M401.2 148.8l2 114.4-.1-42.6-.2-69.2z"/><path color="#c60b0b" d="M372.2 95.5l-2.4 1 1.6 .7 3.1 18.7z"/><path color="#e70b0b" d="M355.3 102.2l-2.4 1 2.7 30.9 1.3-31.2z"/><path color="#f2b06e" d="M352.9 103.2l.8 83.7 1.2-8.2 .7-44.6z"/><path color="#6eb079" d="M353.7 186.9l1.2 95.5 .6-24.4-.6-79.3z"/><path color="#c60b0b" d="M323.9 114.7l-2.4 .9 1.6 .7 2.7 6.2z"/><path color="#dc0b0b" d="M307.1 121.4l-2.1 9.2 2.7 31.7 .9-40.2z"/><path color="#f2d16e" d="M305 130.6l1.2 96.9 .8-20.1 .7-45.1z"/><path color="#589a8f" d="M306.2 227.5l.5 74.1 1.2-6.7-.9-87.5z"/><path color="#dc0b0b" d="M258.8 140.6l-1.5 24.9 2.5 23.9 .6-48.1z"/><path color="#f2fd84" d="M257.3 165.5l1.6 104.4 .3-31.8 .6-48.7z"/><path color="#214237" d="M241.5 327.4l-4.8-60.6 .5-26.1 5.9 87.4z"/><path color="#dc372c" d="M210.5 159.7l-.9 40.3 2.2 16 .3-55.6z"/><path color="#d1f284" d="M209.6 200l1.9 112.4 0-41.2 .3-55.2z"/><path color="#581600" d="M471.8 97.1l-3.9-38.3 2.5 25 4.1 42.6z"/><path color="#840b0b" d="M467.9 58.8l-2.4 1 1.6 2.6 3.3 21.4z"/><path color="#dc0b0b" d="M455.8 63.6l-2.4 1 2 10.8 2-11.1z"/><path color="#bb0b0b" d="M453.4 64.6l-2.1 8.1 3.3 46.2 .8-43.5z"/><path color="#c6630b" d="M451.3 72.7l-.5 52 2.2 16.8 1.6-22.6z"/><path color="#d1e779" d="M450.8 124.7l-.1 59.5 .7-21.9 1.6-20.8z"/><path color="#b00b0b" d="M419.6 78l-2.4 .9 1.6 .7 2.9 11.4z"/><path color="#dc0b0b" d="M407.6 82.8l-2.4 .9 2 12.6 1.9-12.8z"/><path color="#b0160b" d="M405.2 83.7l-1.7 20.7 3.1 40.3 .6-48.4z"/><path color="#c68f16" d="M403.5 104.4l-.6 47 2 11.5 1.7-18.2z"/><path color="#bbe784" d="M402.9 151.4l.2 69.2 .3-31.7 1.5-26z"/><path color="#630b00" d="M374.5 115.9l-3.1-18.7 2 12.5 4.2 46.5z"/><path color="#e70b0b" d="M359.3 102l-2.4 .9 2 13 2-13.3z"/><path color="#bb160b" d="M356.9 102.9l-1.3 31.2 2.9 34.7 .4-52.9z"/><path color="#d1b021" d="M355.6 134.1l-.7 44.6 1.8 5.9 1.8-15.8z"/><path color="#9ad184" d="M354.9 178.7l.6 79.3 0-40.5 1.2-32.9z"/><path color="#4d2100" d="M330.2 172.7l-4.4-50.2 3.3 46.2 3.3 20.7z"/><path color="#580000" d="M325.8 122.5l-2.7-6.2 2 10.9 4 41.5z"/><path color="#e70b0b" d="M313.4 120.2l-2.4 .9 1.7 2.7 2.3-2.9z"/><path color="#d10b0b" d="M311 121.1l-2.4 1 2.5 25 1.6-23.3z"/><path color="#c62c0b" d="M308.6 122.1l-.9 40.2 2.7 29.3 .7-44.5z"/><path color="#dcd137" d="M307.7 162.3l-.7 45.1 1.5-.5 1.9-15.3z"/><path color="#84c684" d="M307 207.4l.9 87.5-.2-46.9 .8-41.1z"/><path color="#4d1600" d="M281.6 184.6l-4.3-50 3.2 44.3 3.5 27.4z"/><path color="#630000" d="M277.3 134.6l-2.5 .9 1.9 8.2 3.8 35.2z"/><path color="#e70b0b" d="M265.2 139.3l-2.4 1 1.8 6.6 2.2-6.9z"/><path color="#d10b0b" d="M262.8 140.3l-2.4 1 3 38.7 1.2-33.1z"/><path color="#c6370b" d="M260.4 141.3l-.6 48.1 2.4 24.2 1.2-33.6z"/><path color="#dce758" d="M259.8 189.4l-.6 48.7 1.2-8.2 1.8-16.3z"/><path color="#79bb8f" d="M259.2 238.1l.8 83.3-.1-41.1 .5-50.4z"/><path color="#212163" d="M260 321.4l-2.5 1 1.6 .7 .8-42.8z"/><path color="#212163" d="M245.5 327.2l-2.4 .9-.3-47.8 4.2 47.6z"/><path color="#214d16" d="M243.1 328.1l-5.9-87.4 1.4-4.2 4.2 43.8z"/><path color="#581600" d="M233.1 196.1l-4.1-42.4 2.8 32.4 3.8 36.7z"/><path color="#840b0b" d="M229 153.7l-2.4 1 1.7 4.7 3.5 26.7z"/><path color="#c60b0b" d="M226.6 154.7l-2.4 .9 1.5 .7 2.6 3.1z"/><path color="#dc0b0b" d="M216.9 158.5l-2.4 1 1.9 9.7 2.1-10z"/><path color="#bb0b0b" d="M214.5 159.5l-2.4 .9 3.4 49.2 .9-40.4z"/><path color="#c64d0b" d="M212.1 160.4l-.3 55.6 2.3 19.2 1.4-25.6z"/><path color="#dce76e" d="M211.8 216l-.3 55.2 .8-17.1 1.8-18.9z"/><path color="#4d9a84" d="M211.5 271.2l.2 69.4 .5-27.1 .1-59.4z"/><path color="#212163" d="M211.7 340.6l-2.4 1 1.5 .6 1.4-28.7z"/><path color="#8f0b0b" d="M467.1 62.4l-2.5-1 1.6 .7 2.8 9.9z"/><path color="#d10b0b" d="M457.4 64.3l-2 11.1 2 13.2 1.6-23.6z"/><path color="#c64d0b" d="M455.4 75.4l-.8 43.5 2.7 30.9 .1-61.2z"/><path color="#9aa50b" d="M454.6 118.9l-1.6 22.6 2.4 21.1 1.9-12.8z"/><path color="#6ea50b" d="M453 141.5l-1.6 20.8 1.5-.7 2.5 1z"/><path color="#84c684" d="M451.4 162.3l0 63.4-.1-40.9 1.6-23.2z"/><path color="#bb0b0b" d="M418.8 79.6l-2.4 1 1.5 .7 2.7 5.5z"/><path color="#e70b0b" d="M411.6 82.5l-2.5 1 1.7 3.2 2.3-3.5z"/><path color="#c60b0b" d="M409.1 83.5l-1.9 12.8 2.2 16.3 1.4-25.9z"/><path color="#bb5800" d="M407.2 96.3l-.6 48.4 2.7 29.8 .1-61.9z"/><path color="#8fa50b" d="M406.6 144.7l-1.7 18.2 2.2 18.1 2.2-6.5z"/><path color="#84bb2c" d="M404.9 162.9l-1.5 26 1.3-6.7 2.4-1.2z"/><path color="#6eb079" d="M403.4 188.9l.3 69.9-.3-46.5 1.3-30.1z"/><path color="#c60b0b" d="M370.5 98.8l-2.4 1 1.6 .6 2.5 1.6z"/><path color="#f20b0b" d="M363.3 101.7l-2.4 .9 1.8 7.2 2.2-7.4z"/><path color="#dc2c2c" d="M360.9 102.6l-2 13.3 2.8 33 1-39.1z"/><path color="#bb790b" d="M358.9 115.9l-.4 52.9 2.7 28.5 .5-48.4z"/><path color="#849a0b" d="M358.5 168.8l-1.8 15.8 2.1 14.8 2.4-2.1z"/><path color="#9ad158" d="M356.7 184.6l-1.2 32.9 1-13.8 2.3-4.3z"/><path color="#4d9a79" d="M355.5 217.5l.1 67.2-.1-43.7 1-37.3z"/><path color="#dc0b0b" d="M315 120.9l-2.3 2.9 1.9 9.6 2-11.9z"/><path color="#dc4237" d="M312.7 123.8l-1.6 23.3 2.9 35.2 .6-48.9z"/><path color="#bb9a0b" d="M311.1 147.1l-.7 44.5 2.6 27 1-36.3z"/><path color="#799a0b" d="M310.4 191.6l-1.9 15.3 2 11 2.5 .7z"/><path color="#9ad179" d="M308.5 206.9l-.8 41.1 .7-21.5 2.1-8.6z"/><path color="#dc0b0b" d="M266.8 140l-2.2 6.9 1.9 10.3 1.8-16.5z"/><path color="#dc422c" d="M264.6 146.9l-1.2 33.1 2.8 33 .3-55.8z"/><path color="#bbb00b" d="M263.4 180l-1.2 33.6 2.5 25 1.5-25.6z"/><path color="#799a0b" d="M262.2 213.6l-1.8 16.3 1.8 6.8 2.5 1.9z"/><path color="#8fd184" d="M260.4 229.9l-.5 50.4 .4-29.8 1.9-13.8z"/><path color="#212163" d="M259.1 323.1l-2.4 .9 1.6 .7 1.5-24.8z"/><path color="#212163" d="M249.5 326.9l-2.5 1 .5-28.4 3.5 28.1z"/><path color="#214237" d="M247 327.9l-4.2-47.6 .5-25.7 4.2 44.9z"/><path color="#8f0b0b" d="M228.3 159.4l-2.6-3.1 1.6 .7 2.9 12.3z"/><path color="#dc0b0b" d="M218.5 159.2l-2.1 10 2 12 1.7-21.3z"/><path color="#d14d16" d="M216.4 169.2l-.9 40.4 2.8 31.5 .1-59.9z"/><path color="#a5b00b" d="M215.5 209.6l-1.4 25.6 2.4 22.5 1.8-16.6z"/><path color="#6ea50b" d="M214.1 235.2l-1.8 18.9 1.7 2 2.5 1.6z"/><path color="#8fc684" d="M212.3 254.1l-.1 59.4 .1-37.5 1.7-19.9z"/><path color="#214da5" d="M212.2 313.5l-1.4 28.7 1.1-12.9 .4-53.3z"/><path color="#21166e" d="M210.8 342.2l-2.4 1 1.6 .7 1.9-14.6z"/><path color="#630000" d="M469 72l-2.8-9.9 1.8 7.6 2.8 9z"/><path color="#a50b0b" d="M466.2 62.1l-2.4 1 1.7 4.8 2.5 1.8z"/><path color="#b00b0b" d="M463.8 63.1l-2.4 .9 1.7 5.6 2.4-1.7z"/><path color="#bb0b0b" d="M461.4 64l-2.4 1 1.9 10.7 2.2-6.1z"/><path color="#dc2c21" d="M459 65l-1.6 23.6 2 10.6 1.5-23.5z"/><path color="#e7bb58" d="M457.4 88.6l-.1 61.2 1.9 9.2 .2-59.8z"/><path color="#589a16" d="M457.3 149.8l-1.9 12.8 2.3 19.4 1.5-23z"/><path color="#21630b" d="M455.4 162.6l-2.5-1 2.1 14.3 2.7 6.1z"/><path color="#378f21" d="M452.9 161.6l-1.6 23.2 1.1-11.6 2.6 2.7z"/><path color="#630000" d="M420.6 86.8l-2.7-5.5 1.8 6.7 2.8 7.2z"/><path color="#a50b0b" d="M417.9 81.3l-2.4 .9 1.8 4.8 2.4 1z"/><path color="#b00b0b" d="M415.5 82.2l-2.4 1 1.8 6.1 2.4-2.3z"/><path color="#bb0b0b" d="M413.1 83.2l-2.3 3.5 1.9 10.1 2.2-7.5z"/><path color="#dc3737" d="M410.8 86.7l-1.4 25.9 2.2 19 1.1-34.8z"/><path color="#e7d14d" d="M409.4 112.6l-.1 61.9 1.9 10.6 .4-53.5z"/><path color="#42840b" d="M409.3 174.5l-2.2 6.5 2.3 20.2 1.8-16.1z"/><path color="#21630b" d="M407.1 181l-2.4 1.2 2 11 2.7 8z"/><path color="#79c679" d="M404.7 182.2l-1.3 30.1 .8-18.2 2.5-.9z"/><path color="#630000" d="M372.2 102l-2.5-1.6 1.8 6.2 2.6 5.5z"/><path color="#b00b0b" d="M369.7 100.4l-2.4 1 1.7 4.8 2.5 .4z"/><path color="#bb0b0b" d="M367.3 101.4l-2.4 1 1.8 6.7 2.3-2.9z"/><path color="#c60b0b" d="M364.9 102.4l-2.2 7.4 1.9 8.4 2.1-9.1z"/><path color="#e75842" d="M362.7 109.8l-1 39.1 2.1 14 .8-44.7z"/><path color="#dce74d" d="M361.7 148.9l-.5 48.4 2 12.6 .6-47z"/><path color="#2c790b" d="M361.2 197.3l-2.4 2.1 2.3 20.2 2.1-9.7z"/><path color="#216e0b" d="M358.8 199.4l-2.3 4.3 1.8 7.2 2.8 8.7z"/><path color="#84c679" d="M356.5 203.7l-1 37.3 .6-25 2.2-5.1z"/><path color="#6e0000" d="M323.8 118.7l-2.4 .9 1.8 5.6 2.6 4.2z"/><path color="#b00b0b" d="M321.4 119.6l-2.4 1 1.7 4.9 2.5-.3z"/><path color="#bb0b0b" d="M319 120.6l-2.4 .9 1.8 7.6 2.3-3.6z"/><path color="#d10b0b" d="M316.6 121.5l-2 11.9 1.8 6.6 2-10.9z"/><path color="#e7794d" d="M314.6 133.4l-.6 48.9 2 10.7 .4-53z"/><path color="#bbdc42" d="M314 182.3l-1 36.3 2.1 14.8 .9-40.4z"/><path color="#2c6e0b" d="M313 218.6l-2.5-.7 2.3 19.4 2.3-3.9z"/><path color="#216e0b" d="M310.5 217.9l-2.1 8.6 1.6 2.6 2.8 8.2z"/><path color="#6ebb6e" d="M308.4 226.5l-.8 43.8 .4-31.5 2-9.7z"/><path color="#841600" d="M278.7 154.8l-3.1-17 1.9 9.3 2.9 12.2z"/><path color="#9a0b0b" d="M275.6 137.8l-2.5 1 1.8 5.2 2.6 3.1z"/><path color="#b00b0b" d="M273.1 138.8l-2.4 1 1.8 5.1 2.4-.9z"/><path color="#bb0b0b" d="M270.7 139.8l-2.4 .9 1.9 8.7 2.3-4.5z"/><path color="#d11616" d="M268.3 140.7l-1.8 16.5 1.7 5.2 2-13z"/><path color="#f29a58" d="M266.5 157.2l-.3 55.8 1.9 9 .1-59.6z"/><path color="#8fc62c" d="M266.2 213l-1.5 25.6 2.2 17 1.2-33.6z"/><path color="#21630b" d="M264.7 238.6l-2.5-1.9 2.3 17.9 2.4 1z"/><path color="#216e0b" d="M262.2 236.7l-1.9 13.8 1.4-2.6 2.8 6.7z"/><path color="#21374d" d="M259.8 299.9l-1.5 24.8 .4-29.4 1.2-32.9z"/><path color="#212163" d="M258.3 324.7l-2.4 1 1.2-7.6 1.6-22.8z"/><path color="#211663" d="M255.9 325.7l-2.5 .9 1.3-8.6 2.4 .1z"/><path color="#212163" d="M253.4 326.6l-2.4 1 .3-32.3 3.4 22.7z"/><path color="#213742" d="M251 327.6l-3.5-28.1 .2-34.6 3.6 30.4z"/><path color="#21580b" d="M247.5 299.5l-4.2-44.9-2.8-9.1 2.3 18.7 2.1-9.5 2.8 10.2z"/><path color="#a50b0b" d="M227.3 157l-2.4 1 1.7 5 2.6 2.1z"/><path color="#b00b0b" d="M224.9 158l-2.4 .9 1.7 5.4 2.4-1.3z"/><path color="#bb0b0b" d="M222.5 158.9l-2.4 1 1.9 10 2.2-5.6z"/><path color="#d12116" d="M220.1 159.9l-1.7 21.3 1.8 5.8 1.8-17.1z"/><path color="#f2b058" d="M218.4 181.2l-.1 59.9 1.9 8.9 0-63z"/><path color="#63a516" d="M218.3 241.1l-1.8 16.6 2.2 18.8 1.5-26.5z"/><path color="#21630b" d="M216.5 257.7l-2.5-1.6 2.1 15.7 2.6 4.7z"/><path color="#21790b" d="M214 256.1l-1.7 19.9 1.2-8.5 2.6 4.3z"/><path color="#212c58" d="M211.9 329.3l-1.9 14.6 .6-24 1.2-33.1z"/><path color="#212163" d="M210 343.9l-2.4 .9 1.3-5.9 1.7-19z"/><path color="#211663" d="M207.6 344.8l-2.1 .9 .8-11 2.6 4.2z"/><path color="#4d0000" d="M470.8 78.7l-2.8-9 2.1 13.6 2.7 7.1z"/><path color="#790b00" d="M468 69.7l-2.5-1.8 2.1 14.3 2.5 1.1z"/><path color="#8f0b0b" d="M465.5 67.9l-2.4 1.7 2.1 14.1 2.4-1.5z"/><path color="#9a0b0b" d="M463.1 69.6l-2.2 6.1 2 12.4 2.3-4.4z"/><path color="#c62116" d="M460.9 75.7l-1.5 23.5 2.2 16.5 1.3-27.6z"/><path color="#fde779" d="M459.4 99.2l-.2 59.8 1.3-7.1 1.1-36.2z"/><path color="#9adc84" d="M459.2 159l-1.5 23 1.5 .4 1.3-30.5z"/><path color="#580000" d="M422.5 95.2l-2.8-7.2 2.1 13.9 2.6 3.6z"/><path color="#840b0b" d="M419.7 88l-2.4-1 2.1 14.3 2.4 .6z"/><path color="#8f0b0b" d="M417.3 87l-2.4 2.3 2.1 14 2.4-2z"/><path color="#a50b0b" d="M414.9 89.3l-2.2 7.5 2 11.4 2.3-4.9z"/><path color="#d14221" d="M412.7 96.8l-1.1 34.8 2 10.2 1.1-33.6z"/><path color="#f2fd84" d="M411.6 131.6l-.4 53.5 1.3-8 1.1-35.3z"/><path color="#8fd184" d="M411.2 185.1l-1.8 16.1 1.7 4.2 1.4-28.3z"/><path color="#630b00" d="M374.1 112.1l-2.6-5.5 2 14 2.6 3z"/><path color="#840b0b" d="M371.5 106.6l-2.5-.4 2.1 14.2 2.4 .2z"/><path color="#8f0b0b" d="M369 106.2l-2.3 2.9 2 13.9 2.4-2.6z"/><path color="#a50b0b" d="M366.7 109.1l-2.1 9.1 1.9 10.3 2.2-5.5z"/><path color="#dc632c" d="M364.6 118.2l-.8 44.7 1.8 4.7 .9-39.1z"/><path color="#e7fd84" d="M363.8 162.9l-.6 47 1.2-7.8 1.2-34.5z"/><path color="#842100" d="M329.1 151l-3.3-21.6 2 12.3 3.4 25.7z"/><path color="#6e0b00" d="M325.8 129.4l-2.6-4.2 2.1 14.1 2.5 2.4z"/><path color="#840b0b" d="M323.2 125.2l-2.5 .3 2.1 14.2 2.5-.4z"/><path color="#9a0b0b" d="M320.7 125.5l-2.3 3.6 2.1 13.6 2.3-3z"/><path color="#bb0b0b" d="M318.4 129.1l-2 10.9 2 11.7 2.1-9z"/><path color="#e78f4d" d="M316.4 140l-.4 53 1.5 .1 .9-41.4z"/><path color="#d1f284" d="M316 193l-.9 40.4 1.3-6.5 1.1-33.8z"/><path color="#4d0b00" d="M280.4 159.3l-2.9-12.2 2 13 3.2 18.9z"/><path color="#6e0b00" d="M277.5 147.1l-2.6-3.1 2.1 14.2 2.5 1.9z"/><path color="#8f0b0b" d="M274.9 144l-2.4 .9 2.1 14.1 2.4-.8z"/><path color="#9a0b0b" d="M272.5 144.9l-2.3 4.5 2 13.2 2.4-3.6z"/><path color="#bb160b" d="M270.2 149.4l-2 13 2.3 17.4 1.7-17.2z"/><path color="#f2bb63" d="M268.2 162.4l-.1 59.6 1.4-3.5 1-38.7z"/><path color="#bbe784" d="M268.1 222l-1.2 33.6 1.4-4.3 1.2-32.8z"/><path color="#214237" d="M258.7 295.3l-1.6 22.8-.1-42.3 2.1-10.2z"/><path color="#213742" d="M257.1 318.1l-2.4-.1-.1-41.8 2.4-.4z"/><path color="#214237" d="M254.7 318l-3.4-22.7 .5-27.8 2.8 8.7z"/><path color="#214d16" d="M251.3 295.3l-3.6-30.4 1.5-.5 2.6 3.1z"/><path color="#4d0b00" d="M232 175.1l-2.8-10 2 13.4 2.9 11.3z"/><path color="#790b00" d="M229.2 165.1l-2.6-2.1 2.1 14.2 2.5 1.3z"/><path color="#8f0b0b" d="M226.6 163l-2.4 1.3 2.1 14.2 2.4-1.3z"/><path color="#9a0b0b" d="M224.2 164.3l-2.2 5.6 2 12.6 2.3-4z"/><path color="#c6210b" d="M222 169.9l-1.8 17.1 2.3 19.9 1.5-24.4z"/><path color="#f2d16e" d="M220.2 187l0 63 1.3-6.2 1-36.9z"/><path color="#a5dc84" d="M220.2 250l-1.5 26.5 1.5-1.3 1.3-31.4z"/><path color="#214d21" d="M211.8 286.8l-1.2 33.1 .3-33.3 2.1-8z"/><path color="#213742" d="M210.6 319.9l-1.7 19-2.6-4.2-.3-41.5 .3 .8 2.5 1.8 2.1-9.2z"/><path color="#580b00" d="M472.8 90.4l-2.7-7.1 2 11.5 3.2 20.1z"/><path color="#790b00" d="M470.1 83.3l-2.5-1.1 2 11.6 2.5 1z"/><path color="#8f0b0b" d="M467.6 82.2l-2.4 1.5 2 11.7 2.4-1.6z"/><path color="#a5160b" d="M465.2 83.7l-2.3 4.4 2.2 14.6 2.1-7.3z"/><path color="#c64d0b" d="M462.9 88.1l-1.3 27.6 2 13.4 1.5-26.4z"/><path color="#f2e76e" d="M461.6 115.7l-1.1 36.2 1.3-5.8 1.8-17z"/><path color="#a5dc63" d="M460.5 151.9l-1.3 30.5 .9-16.9 1.7-19.4z"/><path color="#844d00" d="M428.3 142.7l-3.9-37.2 2.5 23.9 3.2 19.3z"/><path color="#630b00" d="M424.4 105.5l-2.6-3.6 2 11.6 3.1 15.9z"/><path color="#840b0b" d="M421.8 101.9l-2.4-.6 1.9 11.6 2.5 .6z"/><path color="#8f0b0b" d="M419.4 101.3l-2.4 2 2 11.6 2.3-2z"/><path color="#a5160b" d="M417 103.3l-2.3 4.9 2.3 19.8 2-13.1z"/><path color="#c6580b" d="M414.7 108.2l-1.1 33.6 1.9 9.7 1.5-23.5z"/><path color="#fdfd84" d="M413.6 141.8l-1.1 35.3 1.2-8.9 1.8-16.7z"/><path color="#8fd158" d="M412.5 177.1l-1.4 28.3 .9-16.9 1.7-20.3z"/><path color="#844200" d="M379.8 155.2l-3.7-31.6 2.3 19.7 3.3 21.6z"/><path color="#630b00" d="M376.1 123.6l-2.6-3 2 11.6 2.9 11.1z"/><path color="#840b0b" d="M373.5 120.6l-2.4-.2 2 11.7 2.4 .1z"/><path color="#8f0b0b" d="M371.1 120.4l-2.4 2.6 2 11.6 2.4-2.5z"/><path color="#a5160b" d="M368.7 123l-2.2 5.5 2.5 24 1.7-17.9z"/><path color="#d17916" d="M366.5 128.5l-.9 39.1 1.7 6 1.7-21.1z"/><path color="#f2fd84" d="M365.6 167.6l-1.2 34.5 1.1-11.6 1.8-16.9z"/><path color="#6ebb4d" d="M364.4 202.1l-1.4 25.4 .9-15.8 1.6-21.2z"/><path color="#630b00" d="M327.8 141.7l-2.5-2.4 1.9 11.7 2.7 5.4z"/><path color="#840b0b" d="M325.3 139.3l-2.5 .4 2 11.6 2.4-.3z"/><path color="#9a160b" d="M322.8 139.7l-2.3 3 2 11.6 2.3-3z"/><path color="#b0210b" d="M320.5 142.7l-2.1 9 2.5 24.6 1.6-22z"/><path color="#e7a537" d="M318.4 151.7l-.9 41.4 1.7 2.5 1.7-19.3z"/><path color="#e7f284" d="M317.5 193.1l-1.1 33.8 1-13.9 1.8-17.4z"/><path color="#4d1600" d="M282.7 179l-3.2-18.9 2 11.4 3.4 25.1z"/><path color="#6e0b00" d="M279.5 160.1l-2.5-1.9 2 11.6 2.5 1.7z"/><path color="#8f0b0b" d="M277 158.2l-2.4 .8 2 11.7 2.4-.9z"/><path color="#9a160b" d="M274.6 159l-2.4 3.6 2 11.4 2.4-3.3z"/><path color="#b02c0b" d="M272.2 162.6l-1.7 17.2 2.3 19.7 1.4-25.5z"/><path color="#e7c64d" d="M270.5 179.8l-1 38.7 1.5-.9 1.8-18.1z"/><path color="#d1f279" d="M269.5 218.5l-1.2 32.8 1-15.7 1.7-18z"/><path color="#846300" d="M238 227.9l-3.9-38.1 2.4 22.1 3.1 16.8z"/><path color="#581600" d="M234.1 189.8l-2.9-11.3 2 11.5 3.3 21.9z"/><path color="#790b00" d="M231.2 178.5l-2.5-1.3 2 11.6 2.5 1.2z"/><path color="#8f0b0b" d="M228.7 177.2l-2.4 1.3 2 11.6 2.4-1.3z"/><path color="#9a160b" d="M226.3 178.5l-2.3 4 2 11.6 2.3-4z"/><path color="#bb420b" d="M224 182.5l-1.5 24.4 2.1 15.4 1.4-28.2z"/><path color="#f2dc63" d="M222.5 206.9l-1 36.9 1.4-4.2 1.7-17.3z"/><path color="#b0e76e" d="M221.5 243.8l-1.3 31.4 .9-16.7 1.8-18.9z"/><path color="#166337" d="M208.8 295.8l-2.5-1.8 1.6 3.6 2.4-1.1z"/><path color="#0b4d21" d="M206.3 294l-.3-.8 1.4 4.7 .5-.3z"/><path color="#4d4d00" d="M478.4 132.4l-3.1-17.5 2.2 16.8 2.7 6z"/><path color="#582c00" d="M475.3 114.9l-3.2-20.1 2.7 29.1 2.7 7.8z"/><path color="#632100" d="M472.1 94.8l-2.5-1 2.2 16.1 3 14z"/><path color="#8f2c00" d="M469.6 93.8l-2.4 1.6 2.5 23.6 2.1-9.1z"/><path color="#b04200" d="M467.2 95.4l-2.1 7.3 2.6 28.5 2-12.2z"/><path color="#c68f0b" d="M465.1 102.7l-1.5 26.4 2 10.7 2.1-8.6z"/><path color="#e7e74d" d="M463.6 129.1l-1.8 17 1.6 1.3 2.2-7.6z"/><path color="#d1e76e" d="M461.8 146.1l-1.7 19.4 1.2-9.9 2.1-8.2z"/><path color="#4d4200" d="M430.1 148.7l-3.2-19.3 2.3 20.1 2.7 6.1z"/><path color="#582c00" d="M426.9 129.4l-3.1-15.9 2.6 27.5 2.8 8.5z"/><path color="#632100" d="M423.8 113.5l-2.5-.6 2 11.9 3.1 16.2z"/><path color="#842c00" d="M421.3 112.9l-2.3 2 2.5 25.8 1.8-15.9z"/><path color="#b04d00" d="M419 114.9l-2 13.1 2.5 23.9 2-11.2z"/><path color="#c6a516" d="M417 128l-1.5 23.5 1.9 8.7 2.1-8.3z"/><path color="#e7f263" d="M415.5 151.5l-1.8 16.7 1.5-.5 2.2-7.5z"/><path color="#bbe758" d="M413.7 168.2l-1.7 20.3 1.1-12.2 2.1-8.6z"/><path color="#4d4200" d="M381.7 164.9l-3.3-21.6 2.5 23.9 2.7 6.4z"/><path color="#582c00" d="M378.4 143.3l-2.9-11.1 2.6 25.7 2.8 9.3z"/><path color="#8f2c00" d="M375.5 132.2l-2.4-.1 2 11.9 3 13.9z"/><path color="#a53700" d="M373.1 132.1l-2.4 2.5 2.6 27.5 1.8-18.1z"/><path color="#b06300" d="M370.7 134.6l-1.7 17.9 2.3 20 2-10.4z"/><path color="#d1b016" d="M369 152.5l-1.7 21.1 1.8 7 2.2-8.1z"/><path color="#e7f26e" d="M367.3 173.6l-1.8 16.9 1.5-2.3 2.1-7.6z"/><path color="#a5dc42" d="M365.5 190.5l-1.6 21.2 1-14.5 2.1-9z"/><path color="#4d3700" d="M333.3 180.9l-3.4-24.5 2.6 28.4 2.8 6.7z"/><path color="#582100" d="M329.9 156.4l-2.7-5.4 2.5 23.6 2.8 10.2z"/><path color="#8f2c00" d="M327.2 151l-2.4 .3 2.2 16.1 2.7 7.2z"/><path color="#a53700" d="M324.8 151.3l-2.3 3 2.6 29 1.9-15.9z"/><path color="#b06e00" d="M322.5 154.3l-1.6 22 2.2 16.8 2-9.8z"/><path color="#dcc621" d="M320.9 176.3l-1.7 19.3 1.7 5.3 2.2-7.8z"/><path color="#e7fd79" d="M319.2 195.6l-1.8 17.4 1.4-4.4 2.1-7.7z"/><path color="#586e0b" d="M317.4 213l-1.6 21.8 .9-16.6 2.1-9.6z"/><path color="#6e790b" d="M291 228.8l-3-16.5 1.6 2.9 2.7 6z"/><path color="#585800" d="M288 212.3l-3.1-15.7 2 12.8 2.7 5.8z"/><path color="#4d3700" d="M284.9 196.6l-3.4-25.1 2.7 30.9 2.7 7z"/><path color="#632100" d="M281.5 171.5l-2.5-1.7 2.3 21 2.9 11.6z"/><path color="#8f2c00" d="M279 169.8l-2.4 .9 2.2 19.5 2.5 .6z"/><path color="#a53700" d="M276.6 170.7l-2.4 3.3 2.7 30.4 1.9-14.2z"/><path color="#bb790b" d="M274.2 174l-1.4 25.5 2.1 14.1 2-9.2z"/><path color="#dcd137" d="M272.8 199.5l-1.8 18.1 1.7 3.7 2.2-7.7z"/><path color="#e7f279" d="M271 217.6l-1.7 18 1.3-6.5 2.1-7.8z"/><path color="#584d00" d="M239.6 228.7l-3.1-16.8 2.1 15.4 2.7 5.9z"/><path color="#4d3700" d="M236.5 211.9l-3.3-21.9 2.7 29.8 2.7 7.5z"/><path color="#632100" d="M233.2 190l-2.5-1.2 2.2 17.9 3 13.1z"/><path color="#8f2c00" d="M230.7 188.8l-2.4 1.3 2.4 22.4 2.2-5.8z"/><path color="#a54200" d="M228.3 190.1l-2.3 4 2.7 31.2 2-12.8z"/><path color="#c6840b" d="M226 194.1l-1.4 28.2 2 11.7 2.1-8.7z"/><path color="#e7e742" d="M224.6 222.3l-1.7 17.3 1.6 2.1 2.1-7.7z"/><path color="#dcf26e" d="M222.9 239.6l-1.8 18.9 1.2-8.8 2.2-8z"/><path color="#426e0b" d="M221.1 258.5l-1.6 22.2 .8-20.1 2-10.9z"/><path color="#2c580b" d="M219.5 280.7l-1.8 14.8 .7-20.6 1.9-14.3z"/><path color="#214d16" d="M217.7 295.5l-2.4 2.3 1.2-9.1 1.9-13.8z"/><path color="#214d21" d="M215.3 297.8l-2.5-1.6 1.6 1.9 2.1-9.4z"/><path color="#16794d" d="M210.3 296.5l-2.4 1.1 1.8 4.9 2.4 0z"/><path color="#166342" d="M207.9 297.6l-.5 .3 1.4 3.6 .9 1z"/><path color="#844200" d="M471.8 109.9l-2.1 9.1 1.7 4.5 2.2-7.3z"/><path color="#d19a16" d="M469.7 119l-2 12.2 1.6 2.5 2.1-10.2z"/><path color="#dcd12c" d="M467.7 131.2l-2.1 8.6 1.6 1.6 2.1-7.7z"/><path color="#e7e74d" d="M465.6 139.8l-2.2 7.6 1.6 .8 2.2-6.8z"/><path color="#e7f263" d="M463.4 147.4l-2.1 8.2 1.5-1.2 2.2-6.2z"/><path color="#b0dc42" d="M461.3 155.6l-2 11.2 1.2-6.8 2.3-5.6z"/><path color="#79790b" d="M434.6 161.3l-2.7-5.7 1.6 1.4 2.6 4.7z"/><path color="#794200" d="M423.3 124.8l-1.8 15.9 1.7 4 2-12.5z"/><path color="#d1a516" d="M421.5 140.7l-2 11.2 1.6 2.3 2.1-9.5z"/><path color="#dcdc2c" d="M419.5 151.9l-2.1 8.3 1.6 1.5 2.1-7.5z"/><path color="#e7f24d" d="M417.4 160.2l-2.2 7.5 1.6 .7 2.2-6.7z"/><path color="#dcf263" d="M415.2 167.7l-2.1 8.6 1.4-1.8 2.3-6.1z"/><path color="#9ad137" d="M413.1 176.3l-2 11.9 1.2-8.2 2.2-5.5z"/><path color="#79790b" d="M386.2 179.2l-2.6-5.6 1.6 1.5 2.6 4.8z"/><path color="#d17916" d="M375.1 144l-1.8 18.1 1.7 3.6 1.9-14.4z"/><path color="#d1b021" d="M373.3 162.1l-2 10.4 1.6 2.1 2.1-8.9z"/><path color="#dcdc37" d="M371.3 172.5l-2.2 8.1 1.6 1.3 2.2-7.3z"/><path color="#e7f258" d="M369.1 180.6l-2.1 7.6 1.5 .4 2.2-6.7z"/><path color="#d1f263" d="M367 188.2l-2.1 9 1.4-2.7 2.2-5.9z"/><path color="#586e0b" d="M364.9 197.2l-2 12.6 1.2-9.8 2.2-5.5z"/><path color="#6e790b" d="M340.6 203.5l-2.7-6.3 1.6 .9 2.6 4.2z"/><path color="#79790b" d="M337.9 197.2l-2.6-5.7 1.6 1.6 2.6 5z"/><path color="#8f4d00" d="M329.7 174.6l-2.7-7.2 1.8 6.3 2.6 5.4z"/><path color="#d18416" d="M327 167.4l-1.9 15.9 1.7 3.3 2-12.9z"/><path color="#d1bb21" d="M325.1 183.3l-2 9.8 1.6 1.9 2.1-8.4z"/><path color="#e7e737" d="M323.1 193.1l-2.2 7.8 1.6 1.3 2.2-7.2z"/><path color="#e7f263" d="M320.9 200.9l-2.1 7.7 1.5 .1 2.2-6.5z"/><path color="#c6e758" d="M318.8 208.6l-2.1 9.6 1.4-3.7 2.2-5.8z"/><path color="#79790b" d="M292.3 221.2l-2.7-6 1.6 1 2.6 4.4z"/><path color="#844d00" d="M281.3 190.8l-2.5-.6 1.8 5.5 2.5 .3z"/><path color="#c68f16" d="M278.8 190.2l-1.9 14.2 1.7 2.9 2-11.6z"/><path color="#dcc621" d="M276.9 204.4l-2 9.2 1.6 1.8 2.1-8.1z"/><path color="#e7e742" d="M274.9 213.6l-2.2 7.7 1.6 1.1 2.2-7z"/><path color="#e7f263" d="M272.7 221.3l-2.1 7.8 1.5-.3 2.2-6.4z"/><path color="#bbe758" d="M270.6 229.1l-2.1 10.2 1.4-4.8 2.2-5.7z"/><path color="#79790b" d="M244 239l-2.7-5.8 1.6 1.2 2.6 4.5z"/><path color="#844d00" d="M232.9 206.7l-2.2 5.8 1.7 4.8 2.3-4.7z"/><path color="#c69a16" d="M230.7 212.5l-2 12.8 1.7 2.6 2-10.6z"/><path color="#dcd12c" d="M228.7 225.3l-2.1 8.7 1.6 1.7 2.2-7.8z"/><path color="#e7e74d" d="M226.6 234l-2.1 7.7 1.6 .9 2.1-6.9z"/><path color="#e7f263" d="M224.5 241.7l-2.2 8 1.5-.8 2.3-6.3z"/><path color="#b0dc4d" d="M222.3 249.7l-2 10.9 1.3-6.1 2.2-5.6z"/><path color="#4d6e0b" d="M220.3 260.6l-1.9 14.3 1-14.8 2.2-5.6z"/><path color="#2c580b" d="M218.4 274.9l-1.9 13.8-2.1 9.4 .5-26.7 2.3-5.5 2.2-5.8z"/><path color="#21580b" d="M214.4 298.1l-2.3 4.4-2.4 0-.9-1 .2-27.4 1.2 .9 2.4-.2 2.3-3.4z"/><path color="#79790b" d="M484.4 143.5l-2.6-4.6 1.6 1.4 2.6 4.3z"/><path color="#845800" d="M473.6 116.2l-2.2 7.3 1.7 4 2.2-5.9z"/><path color="#e7c642" d="M471.4 123.5l-2.1 10.2 1.7 2.3 2.1-8.5z"/><path color="#e7e74d" d="M469.3 133.7l-2.1 7.7 1.6 1.6 2.2-7z"/><path color="#e7f24d" d="M467.2 141.4l-2.2 6.8 1.6 1.3 2.2-6.5z"/><path color="#dcf258" d="M465 148.2l-2.2 6.2 1.6 .9 2.2-5.8z"/><path color="#c6f24d" d="M462.8 154.4l-2.3 5.6 1.6 .2 2.3-4.9z"/><path color="#a5dc37" d="M460.5 160l-2.2 5.6 1.5-1.4 2.3-4z"/><path color="#79790b" d="M436.1 161.7l-2.6-4.7 1.6 1.5 2.6 4.3z"/><path color="#8f5800" d="M425.2 132.2l-2 12.5 1.7 3.6 2-10z"/><path color="#e7d142" d="M423.2 144.7l-2.1 9.5 1.6 2.1 2.2-8z"/><path color="#f2e74d" d="M421.1 154.2l-2.1 7.5 1.6 1.5 2.1-6.9z"/><path color="#e7f24d" d="M419 161.7l-2.2 6.7 1.6 1.2 2.2-6.4z"/><path color="#d1f258" d="M416.8 168.4l-2.3 6.1 1.6 .8 2.3-5.7z"/><path color="#c6f24d" d="M414.5 174.5l-2.2 5.5 1.6 0 2.2-4.7z"/><path color="#9adc2c" d="M412.3 180l-2.2 5.7 1.5-1.9 2.3-3.8z"/><path color="#79790b" d="M387.8 179.9l-2.6-4.8 1.6 1.5 2.6 4.5z"/><path color="#dca537" d="M376.9 151.3l-1.9 14.4 1.7 3.2 2-11.5z"/><path color="#e7d142" d="M375 165.7l-2.1 8.9 1.6 2 2.2-7.7z"/><path color="#e7f24d" d="M372.9 174.6l-2.2 7.3 1.6 1.5 2.2-6.8z"/><path color="#dcf24d" d="M370.7 181.9l-2.2 6.7 1.6 1.1 2.2-6.3z"/><path color="#d1f24d" d="M368.5 188.6l-2.2 5.9 1.6 .7 2.2-5.5z"/><path color="#bbe74d" d="M366.3 194.5l-2.2 5.5 1.5-.2 2.3-4.6z"/><path color="#8fd12c" d="M364.1 200l-2.3 5.7 1.5-2.3 2.3-3.6z"/><path color="#79790b" d="M339.5 198.1l-2.6-5 1.6 1.7 2.6 4.5z"/><path color="#845800" d="M331.4 179.1l-2.6-5.4 1.7 5.4 2.6 4z"/><path color="#e7b042" d="M328.8 173.7l-2 12.9 1.7 2.9 2-10.4z"/><path color="#e7dc42" d="M326.8 186.6l-2.1 8.4 1.6 1.9 2.2-7.4z"/><path color="#e7f24d" d="M324.7 195l-2.2 7.2 1.6 1.4 2.2-6.7z"/><path color="#dcf24d" d="M322.5 202.2l-2.2 6.5 1.6 1 2.2-6.1z"/><path color="#d1f24d" d="M320.3 208.7l-2.2 5.8 1.5 .6 2.3-5.4z"/><path color="#b0e742" d="M318.1 214.5l-2.3 5.5 1.6-.5 2.2-4.4z"/><path color="#84d121" d="M315.8 220l-2.2 5.8 1.5-2.8 2.3-3.5z"/><path color="#845800" d="M283.1 196l-2.5-.3 1.7 4.7 2.5 .1z"/><path color="#e7bb42" d="M280.6 195.7l-2 11.6 1.6 2.6 2.1-9.5z"/><path color="#e7dc42" d="M278.6 207.3l-2.1 8.1 1.6 1.8 2.1-7.3z"/><path color="#e7f24d" d="M276.5 215.4l-2.2 7 1.6 1.4 2.2-6.6z"/><path color="#dcf24d" d="M274.3 222.4l-2.2 6.4 1.6 1 2.2-6z"/><path color="#d1f24d" d="M272.1 228.8l-2.2 5.7 1.5 .5 2.3-5.2z"/><path color="#b0e742" d="M269.9 234.5l-2.3 5.6 1.5-.9 2.3-4.2z"/><path color="#84c621" d="M267.6 240.1l-2.2 5.8 1.4-3.4 2.3-3.3z"/><path color="#845800" d="M234.7 212.6l-2.3 4.7 1.7 4.2 2.3-3.9z"/><path color="#e7c642" d="M232.4 217.3l-2 10.6 1.6 2.4 2.1-8.8z"/><path color="#e7e74d" d="M230.4 227.9l-2.2 7.8 1.6 1.7 2.2-7.1z"/><path color="#e7f24d" d="M228.2 235.7l-2.1 6.9 1.5 1.3 2.2-6.5z"/><path color="#dcf258" d="M226.1 242.6l-2.3 6.3 1.6 .9 2.2-5.9z"/><path color="#c6f24d" d="M223.8 248.9l-2.2 5.6 1.6 .3 2.2-5z"/><path color="#a5dc37" d="M221.6 254.5l-2.2 5.6 1.5-1.2 2.3-4.1z"/><path color="#79c616" d="M219.4 260.1l-2.2 5.8 1.3-3.8 2.4-3.2z"/><path color="#426e0b" d="M217.2 265.9l-2.3 5.5 1.3-6.9 2.3-2.4z"/><path color="#42630b" d="M214.9 271.4l-2.3 3.4-2.4 .2-1.2-.9 1-7.1 1.4-.1 2.4-.7 2.4-1.7z"/><path color="#84790b" d="M483.4 140.3l-2.7-4.7-2.6-5.6 1.6 2.7 2.7 4.7 2.6 4.3z"/><path color="#8f6300" d="M475.3 121.6l-2.2 5.9 1.7 3.4 2.2-4.8z"/><path color="#e7d137" d="M473.1 127.5l-2.1 8.5 1.6 2.2 2.2-7.3z"/><path color="#e7e742" d="M471 136l-2.2 7 1.6 1.6 2.2-6.4z"/><path color="#dce74d" d="M468.8 143l-2.2 6.5 1.6 1.2 2.2-6.1z"/><path color="#d1e74d" d="M466.6 149.5l-2.2 5.8 1.5 1 2.3-5.6z"/><path color="#bbe742" d="M464.4 155.3l-2.3 4.9 1.6 .8 2.2-4.7z"/><path color="#a5e72c" d="M462.1 160.2l-2.3 4 1.6 .6 2.3-3.8z"/><path color="#8fdc21" d="M459.8 164.2l-2.3 3.1 1.5 .4 2.4-2.9z"/><path color="#79d116" d="M457.5 167.3l-2.4 2.4 1.6 .2 2.3-2.2z"/><path color="#6ec616" d="M455.1 169.7l-2.4 1.6 1.6 .1 2.4-1.5z"/><path color="#6ebb16" d="M452.7 171.3l-2.4 .7 1.5 .1 2.5-.7z"/><path color="#79790b" d="M437.7 162.8l-2.6-4.3 1.6 1.4 2.6 4.1z"/><path color="#84790b" d="M435.1 158.5l-2.7-4.9-2.6-5.8 1.6 2.9 2.7 4.9 2.6 4.3z"/><path color="#8f6e0b" d="M426.9 138.3l-2 10 1.6 3.1 2.2-8z"/><path color="#e7d142" d="M424.9 148.3l-2.2 8 1.7 2.1 2.1-7z"/><path color="#e7e742" d="M422.7 156.3l-2.1 6.9 1.6 1.5 2.2-6.3z"/><path color="#dce74d" d="M420.6 163.2l-2.2 6.4 1.5 1.2 2.3-6.1z"/><path color="#d1e74d" d="M418.4 169.6l-2.3 5.7 1.6 .9 2.2-5.4z"/><path color="#bbe742" d="M416.1 175.3l-2.2 4.7 1.5 .8 2.3-4.6z"/><path color="#a5e72c" d="M413.9 180l-2.3 3.8 1.5 .6 2.3-3.6z"/><path color="#8fdc16" d="M411.6 183.8l-2.4 3 1.6 .4 2.3-2.8z"/><path color="#79d116" d="M409.2 186.8l-2.3 2.3 1.5 .1 2.4-2z"/><path color="#6ec616" d="M406.9 189.1l-2.4 1.4 1.5 .1 2.4-1.4z"/><path color="#63b016" d="M404.5 190.5l-2.5 .5 1.6 .1 2.4-.5z"/><path color="#79790b" d="M389.4 181.1l-2.6-4.5 1.6 1.6 2.6 4.1z"/><path color="#846300" d="M381.4 165.5l-2.7-8.1 1.7 5.1 2.7 6.2z"/><path color="#dcb02c" d="M378.7 157.4l-2 11.5 1.6 2.9 2.1-9.3z"/><path color="#e7dc42" d="M376.7 168.9l-2.2 7.7 1.6 2 2.2-6.8z"/><path color="#e7e74d" d="M374.5 176.6l-2.2 6.8 1.6 1.5 2.2-6.3z"/><path color="#dce74d" d="M372.3 183.4l-2.2 6.3 1.6 1.1 2.2-5.9z"/><path color="#d1e74d" d="M370.1 189.7l-2.2 5.5 1.6 .9 2.2-5.3z"/><path color="#b0e737" d="M367.9 195.2l-2.3 4.6 1.6 .7 2.3-4.4z"/><path color="#9adc2c" d="M365.6 199.8l-2.3 3.6 1.6 .6 2.3-3.5z"/><path color="#84dc16" d="M363.3 203.4l-2.3 2.9 1.5 .3 2.4-2.6z"/><path color="#79d116" d="M361 206.3l-2.4 2.1 1.5 .1 2.4-1.9z"/><path color="#6ec616" d="M358.6 208.4l-2.4 1.3 1.5 0 2.4-1.2z"/><path color="#63b016" d="M356.2 209.7l-2.4 .3 1.5 .2 2.4-.5z"/><path color="#79790b" d="M341.1 199.3l-2.6-4.5 1.6 1.6 2.6 4.2z"/><path color="#8f6e0b" d="M333.1 183.1l-2.6-4 1.7 4.5 2.6 3z"/><path color="#e7bb37" d="M330.5 179.1l-2 10.4 1.6 2.6 2.1-8.5z"/><path color="#e7dc42" d="M328.5 189.5l-2.2 7.4 1.6 1.8 2.2-6.6z"/><path color="#e7e74d" d="M326.3 196.9l-2.2 6.7 1.6 1.4 2.2-6.3z"/><path color="#dce74d" d="M324.1 203.6l-2.2 6.1 1.6 1.1 2.2-5.8z"/><path color="#c6e74d" d="M321.9 209.7l-2.3 5.4 1.6 .9 2.3-5.2z"/><path color="#b0e737" d="M319.6 215.1l-2.2 4.4 1.5 .7 2.3-4.2z"/><path color="#9adc21" d="M317.4 219.5l-2.3 3.5 1.5 .5 2.3-3.3z"/><path color="#84dc16" d="M315.1 223l-2.4 2.7 1.6 .3 2.3-2.5z"/><path color="#79c616" d="M312.7 225.7l-2.4 2 1.6 .1 2.4-1.8z"/><path color="#6ec616" d="M310.3 227.7l-2.4 1.1 1.6 0 2.4-1z"/><path color="#63a516" d="M307.9 228.8l-2.4 .1 1.5 .3 2.5-.4z"/><path color="#8f6e0b" d="M284.8 200.5l-2.5-.1 1.7 4.1 2.5-.2z"/><path color="#e7c637" d="M282.3 200.4l-2.1 9.5 1.7 2.5 2.1-7.9z"/><path color="#e7e742" d="M280.2 209.9l-2.1 7.3 1.6 1.7 2.2-6.5z"/><path color="#e7e74d" d="M278.1 217.2l-2.2 6.6 1.6 1.3 2.2-6.2z"/><path color="#dce74d" d="M275.9 223.8l-2.2 6 1.5 1 2.3-5.7z"/><path color="#c6e742" d="M273.7 229.8l-2.3 5.2 1.6 .8 2.2-5z"/><path color="#b0e737" d="M271.4 235l-2.3 4.2 1.6 .7 2.3-4.1z"/><path color="#9adc21" d="M269.1 239.2l-2.3 3.3 1.6 .5 2.3-3.1z"/><path color="#84d116" d="M266.8 242.5l-2.3 2.6 1.5 .3 2.4-2.4z"/><path color="#79c616" d="M264.5 245.1l-2.4 1.9 1.5 0 2.4-1.6z"/><path color="#6ec616" d="M262.1 247l-2.4 .9 1.5 0 2.4-.9z"/><path color="#8f6300" d="M236.4 217.6l-2.3 3.9 1.7 3.7 2.3-3.3z"/><path color="#e7c637" d="M234.1 221.5l-2.1 8.8 1.7 2.3 2.1-7.4z"/><path color="#e7e742" d="M232 230.3l-2.2 7.1 1.7 1.6 2.2-6.4z"/><path color="#e7e74d" d="M229.8 237.4l-2.2 6.5 1.6 1.3 2.3-6.2z"/><path color="#d1e74d" d="M227.6 243.9l-2.2 5.9 1.6 1 2.2-5.6z"/><path color="#bbe742" d="M225.4 249.8l-2.2 5 1.5 .8 2.3-4.8z"/><path color="#a5e72c" d="M223.2 254.8l-2.3 4.1 1.5 .6 2.3-3.9z"/><path color="#8fdc21" d="M220.9 258.9l-2.4 3.2 1.6 .4 2.3-3z"/><path color="#79d116" d="M218.5 262.1l-2.3 2.4 1.5 .2 2.4-2.2z"/><path color="#79c616" d="M216.2 264.5l-2.4 1.7 1.6 .1 2.3-1.6z"/><path color="#6ebb16" d="M213.8 266.2l-2.4 .7 1.5 .1 2.5-.7z"/><path color="#63b016" d="M211.4 266.9l-1.4 .1 1.3 .2 1.6-.2z"/><path color="#79790b" d="M487.6 145.6l-2.6-3.9-2.6-4.3 1.6 1.7 2.6 4 2.6 3.6z"/><path color="#8f790b" d="M477 126.1l-2.2 4.8 1.6 3.1 2.3-4z"/><path color="#e7d137" d="M474.8 130.9l-2.2 7.3 1.6 2.1 2.2-6.3z"/><path color="#e7e742" d="M472.6 138.2l-2.2 6.4 1.6 1.6 2.2-5.9z"/><path color="#dce74d" d="M470.4 144.6l-2.2 6.1 1.6 1.2 2.2-5.7z"/><path color="#d1e74d" d="M468.2 150.7l-2.3 5.6 1.6 1 2.3-5.4z"/><path color="#bbe742" d="M465.9 156.3l-2.2 4.7 1.5 .8 2.3-4.5z"/><path color="#a5dc2c" d="M463.7 161l-2.3 3.8 1.5 .7 2.3-3.7z"/><path color="#8fdc16" d="M461.4 164.8l-2.4 2.9 1.6 .7 2.3-2.9z"/><path color="#84dc16" d="M459 167.7l-2.3 2.2 1.5 .5 2.4-2z"/><path color="#79dc16" d="M456.7 169.9l-2.4 1.5 1.5 .5 2.4-1.5z"/><path color="#79d116" d="M454.3 171.4l-2.5 .7 1.6 .5 2.4-.7z"/><path color="#84790b" d="M436.7 159.9l-2.6-4.3-2.7-4.9 1.7 2.6 2.6 4.1 2.6 4z"/><path color="#8f790b" d="M428.7 143.4l-2.2 8 1.7 2.8 2.2-6.5z"/><path color="#e7dc37" d="M426.5 151.4l-2.1 7 1.6 1.9 2.2-6.1z"/><path color="#e7e742" d="M424.4 158.4l-2.2 6.3 1.6 1.5 2.2-5.9z"/><path color="#dce74d" d="M422.2 164.7l-2.3 6.1 1.6 1.2 2.3-5.8z"/><path color="#d1e742" d="M419.9 170.8l-2.2 5.4 1.6 1 2.2-5.2z"/><path color="#b0e737" d="M417.7 176.2l-2.3 4.6 1.6 .8 2.3-4.4z"/><path color="#9adc2c" d="M415.4 180.8l-2.3 3.6 1.6 .7 2.3-3.5z"/><path color="#8fdc16" d="M413.1 184.4l-2.3 2.8 1.5 .6 2.4-2.7z"/><path color="#84dc16" d="M410.8 187.2l-2.4 2 1.6 .5 2.3-1.9z"/><path color="#79dc16" d="M408.4 189.2l-2.4 1.4 1.6 .5 2.4-1.4z"/><path color="#6ec616" d="M406 190.6l-2.4 .5 1.5 .6 2.5-.6z"/><path color="#84790b" d="M388.4 178.2l-2.6-4.5-2.7-5 1.7 2.8 2.6 4.2 2.6 3.9z"/><path color="#dcbb2c" d="M380.4 162.5l-2.1 9.3 1.7 2.6 2.1-7.6z"/><path color="#e7dc37" d="M378.3 171.8l-2.2 6.8 1.7 1.8 2.2-6z"/><path color="#e7e742" d="M376.1 178.6l-2.2 6.3 1.6 1.4 2.3-5.9z"/><path color="#dce74d" d="M373.9 184.9l-2.2 5.9 1.6 1.1 2.2-5.6z"/><path color="#c6e742" d="M371.7 190.8l-2.2 5.3 1.5 .9 2.3-5.1z"/><path color="#b0e737" d="M369.5 196.1l-2.3 4.4 1.6 .8 2.2-4.3z"/><path color="#9adc21" d="M367.2 200.5l-2.3 3.5 1.5 .6 2.4-3.3z"/><path color="#84dc16" d="M364.9 204l-2.4 2.6-2.4 1.9 1.6 .5 2.4-1.8 2.3-2.6z"/><path color="#79d116" d="M360.1 208.5l-2.4 1.2 1.6 .5 2.4-1.2z"/><path color="#6ebb16" d="M357.7 209.7l-2.4 .5 1.6 .5 2.4-.5z"/><path color="#8f790b" d="M334.8 186.6l-2.6-3 1.7 3.9 2.6 2.1z"/><path color="#e7c637" d="M332.2 183.6l-2.1 8.5 1.6 2.4 2.2-7z"/><path color="#e7e737" d="M330.1 192.1l-2.2 6.6 1.6 1.8 2.2-6z"/><path color="#e7e742" d="M327.9 198.7l-2.2 6.3 1.6 1.3 2.2-5.8z"/><path color="#dce74d" d="M325.7 205l-2.2 5.8 1.6 1.1 2.2-5.6z"/><path color="#c6e742" d="M323.5 210.8l-2.3 5.2 1.6 .9 2.3-5z"/><path color="#b0e737" d="M321.2 216l-2.3 4.2 1.6 .8 2.3-4.1z"/><path color="#9adc21" d="M318.9 220.2l-2.3 3.3 1.6 .7 2.3-3.2z"/><path color="#84dc16" d="M316.6 223.5l-2.3 2.5-2.4 1.8 1.5 .5 2.4-1.7 2.4-2.4z"/><path color="#79d116" d="M311.9 227.8l-2.4 1 1.5 .6 2.4-1.1z"/><path color="#6ebb16" d="M309.5 228.8l-2.5 .4 1.6 .5 2.4-.3z"/><path color="#8f790b" d="M286.5 204.3l-2.5 .2 1.7 3.5 2.4-.4z"/><path color="#e7c637" d="M284 204.5l-2.1 7.9 1.6 2.2 2.2-6.6z"/><path color="#e7e742" d="M281.9 212.4l-2.2 6.5 1.6 1.7 2.2-6z"/><path color="#dce742" d="M279.7 218.9l-2.2 6.2 1.6 1.3 2.2-5.8z"/><path color="#d1e74d" d="M277.5 225.1l-2.3 5.7 1.6 1.1 2.3-5.5z"/><path color="#bbe742" d="M275.2 230.8l-2.2 5 1.6 .9 2.2-4.8z"/><path color="#a5dc2c" d="M273 235.8l-2.3 4.1 1.6 .7 2.3-3.9z"/><path color="#8fdc21" d="M270.7 239.9l-2.3 3.1 1.5 .7 2.4-3.1z"/><path color="#84dc16" d="M268.4 243l-2.4 2.4-2.4 1.6 1.6 .5 2.4-1.6 2.3-2.2z"/><path color="#79d116" d="M263.6 247l-2.4 .9 1.6 .6 2.4-1z"/><path color="#6eb016" d="M261.2 247.9l-2.4 .3 1.5 .5 2.5-.2z"/><path color="#8f790b" d="M238.1 221.9l-2.3 3.3 1.7 3.1 2.3-2.7z"/><path color="#e7d137" d="M235.8 225.2l-2.1 7.4 1.6 2.1 2.2-6.4z"/><path color="#e7e742" d="M233.7 232.6l-2.2 6.4 1.6 1.6 2.2-5.9z"/><path color="#dce74d" d="M231.5 239l-2.3 6.2 1.6 1.2 2.3-5.8z"/><path color="#d1e74d" d="M229.2 245.2l-2.2 5.6 1.6 1 2.2-5.4z"/><path color="#bbe742" d="M227 250.8l-2.3 4.8 1.6 .9 2.3-4.7z"/><path color="#a5dc2c" d="M224.7 255.6l-2.3 3.9 1.6 .7 2.3-3.7z"/><path color="#8fdc16" d="M222.4 259.5l-2.3 3 1.6 .6 2.3-2.9z"/><path color="#84dc16" d="M220.1 262.5l-2.4 2.2-2.3 1.6 1.5 .5 2.4-1.5 2.4-2.2z"/><path color="#79d116" d="M215.4 266.3l-2.5 .7 1.6 .6 2.4-.8z"/><path color="#6ebb16" d="M212.9 267l-1.6 .2 1.3 .5 1.9-.1z"/><path color="#79790b" d="M489.2 146.7l-2.6-3.6-2.6-4 1.6 1.7 2.6 3.6 2.5 3.4z"/><path color="#84790b" d="M484 139.1l-2.6-4 1.6 2.2 2.6 3.5z"/><path color="#9a840b" d="M478.7 130l-2.3 4 1.7 2.7 2.3-3.4z"/><path color="#e7dc2c" d="M476.4 134l-2.2 6.3 1.6 1.9 2.3-5.5z"/><path color="#e7e737" d="M474.2 140.3l-2.2 5.9 1.6 1.4 2.2-5.4z"/><path color="#dce742" d="M472 146.2l-2.2 5.7 1.6 1.2 2.2-5.5z"/><path color="#d1e742" d="M469.8 151.9l-2.3 5.4 1.6 1 2.3-5.2z"/><path color="#bbe737" d="M467.5 157.3l-2.3 4.5 1.6 .9 2.3-4.4z"/><path color="#9adc2c" d="M465.2 161.8l-2.3 3.7 1.6 .7 2.3-3.5z"/><path color="#8fdc16" d="M462.9 165.5l-2.3 2.9 1.6 .6 2.3-2.8z"/><path color="#84dc16" d="M460.6 168.4l-2.4 2-2.4 1.5 1.6 .5 2.4-1.4 2.4-2z"/><path color="#79d116" d="M455.8 171.9l-2.4 .7 1.6 .6 2.4-.8z"/><path color="#9a840b" d="M430.4 147.7l-2.2 6.5 1.6 2.5 2.3-5.4z"/><path color="#e7dc37" d="M428.2 154.2l-2.2 6.1 1.6 1.9 2.2-5.5z"/><path color="#e7e742" d="M426 160.3l-2.2 5.9 1.6 1.5 2.2-5.5z"/><path color="#dce742" d="M423.8 166.2l-2.3 5.8 1.6 1.1 2.3-5.4z"/><path color="#c6e742" d="M421.5 172l-2.2 5.2 1.6 .9 2.2-5z"/><path color="#b0e737" d="M419.3 177.2l-2.3 4.4 1.6 .8 2.3-4.3z"/><path color="#9adc21" d="M417 181.6l-2.3 3.5 1.6 .7 2.3-3.4z"/><path color="#8fdc16" d="M414.7 185.1l-2.4 2.7 1.6 .6 2.4-2.6z"/><path color="#84dc16" d="M412.3 187.8l-2.3 1.9-2.4 1.4 1.5 .5 2.4-1.3 2.4-1.9z"/><path color="#79c616" d="M407.6 191.1l-2.5 .6 1.6 .5 2.4-.6z"/><path color="#8f790b" d="M384.8 171.5l-2.7-4.7 1.7 3.7 2.6 3.5z"/><path color="#dcc621" d="M382.1 166.8l-2.1 7.6 1.6 2.3 2.2-6.2z"/><path color="#e7dc37" d="M380 174.4l-2.2 6 1.6 1.8 2.2-5.5z"/><path color="#e7e742" d="M377.8 180.4l-2.3 5.9 1.6 1.4 2.3-5.5z"/><path color="#dce742" d="M375.5 186.3l-2.2 5.6 1.6 1.2 2.2-5.4z"/><path color="#c6e742" d="M373.3 191.9l-2.3 5.1 1.6 .9 2.3-4.8z"/><path color="#b0e737" d="M371 197l-2.2 4.3 1.5 .8 2.3-4.2z"/><path color="#9adc21" d="M368.8 201.3l-2.4 3.3 1.6 .7 2.3-3.2z"/><path color="#84dc16" d="M366.4 204.6l-2.3 2.6-2.4 1.8 1.6 .6 2.3-1.8 2.4-2.5z"/><path color="#79dc16" d="M361.7 209l-2.4 1.2 1.6 .6 2.4-1.2z"/><path color="#6ebb16" d="M359.3 210.2l-2.4 .5 1.5 .6 2.5-.5z"/><path color="#9a840b" d="M336.5 189.6l-2.6-2.1 1.7 3.3 2.5 1.5z"/><path color="#dcc62c" d="M333.9 187.5l-2.2 7 1.7 2.2 2.2-5.9z"/><path color="#e7e737" d="M331.7 194.5l-2.2 6 1.6 1.6 2.3-5.4z"/><path color="#dce742" d="M329.5 200.5l-2.2 5.8 1.6 1.4 2.2-5.6z"/><path color="#d1e742" d="M327.3 206.3l-2.2 5.6 1.5 1.1 2.3-5.3z"/><path color="#c6e742" d="M325.1 211.9l-2.3 5 1.6 .9 2.2-4.8z"/><path color="#a5dc2c" d="M322.8 216.9l-2.3 4.1 1.6 .7 2.3-3.9z"/><path color="#8fdc21" d="M320.5 221l-2.3 3.2 1.5 .6 2.4-3.1z"/><path color="#84dc16" d="M318.2 224.2l-2.4 2.4-2.4 1.7 1.6 .6 2.4-1.7 2.3-2.4z"/><path color="#79dc16" d="M313.4 228.3l-2.4 1.1 1.6 .5 2.4-1z"/><path color="#6ebb16" d="M311 229.4l-2.4 .3 1.6 .6 2.4-.4z"/><path color="#84790b" d="M290.8 212.2l-2.7-4.6 1.7 2.9 2.6 3.7z"/><path color="#9a840b" d="M288.1 207.6l-2.4 .4 1.7 3 2.4-.5z"/><path color="#dcd12c" d="M285.7 208l-2.2 6.6 1.6 2.1 2.3-5.7z"/><path color="#e7e737" d="M283.5 214.6l-2.2 6 1.6 1.5 2.2-5.4z"/><path color="#dce742" d="M281.3 220.6l-2.2 5.8 1.6 1.3 2.2-5.6z"/><path color="#d1e742" d="M279.1 226.4l-2.3 5.5 1.6 1 2.3-5.2z"/><path color="#bbe742" d="M276.8 231.9l-2.2 4.8 1.5 .8 2.3-4.6z"/><path color="#a5dc2c" d="M274.6 236.7l-2.3 3.9 1.5 .7 2.3-3.8z"/><path color="#8fdc21" d="M272.3 240.6l-2.4 3.1 1.6 .6 2.3-3z"/><path color="#84dc16" d="M269.9 243.7l-2.3 2.2-2.4 1.6 1.5 .6 2.4-1.6 2.4-2.2z"/><path color="#79d116" d="M265.2 247.5l-2.4 1 1.5 .5 2.4-.9z"/><path color="#6eb016" d="M262.8 248.5l-2.5 .2 1.6 .6 2.4-.3z"/><path color="#847900" d="M242.5 230.5l-2.7-4.9 1.7 3.1 2.6 3.9z"/><path color="#9a840b" d="M239.8 225.6l-2.3 2.7 1.6 2.8 2.4-2.4z"/><path color="#e7d12c" d="M237.5 228.3l-2.2 6.4 1.6 2 2.2-5.6z"/><path color="#e7e737" d="M235.3 234.7l-2.2 5.9 1.6 1.5 2.2-5.4z"/><path color="#dce742" d="M233.1 240.6l-2.3 5.8 1.6 1.2 2.3-5.5z"/><path color="#d1e742" d="M230.8 246.4l-2.2 5.4 1.6 1 2.2-5.2z"/><path color="#bbe737" d="M228.6 251.8l-2.3 4.7 1.6 .8 2.3-4.5z"/><path color="#a5dc2c" d="M226.3 256.5l-2.3 3.7 1.6 .7 2.3-3.6z"/><path color="#8fdc16" d="M224 260.2l-2.3 2.9 1.5 .7 2.4-2.9z"/><path color="#84dc16" d="M221.7 263.1l-2.4 2.2-2.4 1.5 1.6 .5 2.4-1.5 2.3-2z"/><path color="#79d116" d="M216.9 266.8l-2.4 .8 1.6 .5 2.4-.8z"/><path color="#6ebb16" d="M214.5 267.6l-1.9 .1 1.3 .6 2.2-.2z"/><path color="#9a8f0b" d="M480.4 133.3l-2.3 3.4 1.6 2.4 2.3-2.9z"/><path color="#e7dc2c" d="M478.1 136.7l-2.3 5.5 1.6 1.8 2.3-4.9z"/><path color="#dce737" d="M475.8 142.2l-2.2 5.4 1.6 1.5 2.2-5.1z"/><path color="#dce742" d="M473.6 147.6l-2.2 5.5 1.5 1.2 2.3-5.2z"/><path color="#c6e742" d="M471.4 153.1l-2.3 5.2 1.6 .9 2.2-4.9z"/><path color="#b0e737" d="M469.1 158.3l-2.3 4.4 1.6 .8 2.3-4.3z"/><path color="#9adc21" d="M466.8 162.7l-2.3 3.5 1.6 .7 2.3-3.4z"/><path color="#8fdc16" d="M464.5 166.2l-2.3 2.8 1.5 .6 2.4-2.7z"/><path color="#84dc16" d="M462.2 169l-2.4 2-2.4 1.4 1.6 .6 2.4-1.4 2.3-2z"/><path color="#79d116" d="M457.4 172.4l-2.4 .8 1.5 .5 2.5-.7z"/><path color="#6eb016" d="M455 173.2l-2.5 .1 1.6 .6 2.4-.2z"/><path color="#635800" d="M434.7 155.7l-2.6-4.4 1.6 3.2 2.6 3.3z"/><path color="#a58f0b" d="M432.1 151.3l-2.3 5.4 1.7 2.3 2.2-4.5z"/><path color="#e7dc2c" d="M429.8 156.7l-2.2 5.5 1.6 1.7 2.3-4.9z"/><path color="#dce737" d="M427.6 162.2l-2.2 5.5 1.6 1.3 2.2-5.1z"/><path color="#dce742" d="M425.4 167.7l-2.3 5.4 1.6 1.1 2.3-5.2z"/><path color="#c6e742" d="M423.1 173.1l-2.2 5 1.5 .9 2.3-4.8z"/><path color="#b0e737" d="M420.9 178.1l-2.3 4.3 1.5 .8 2.3-4.2z"/><path color="#9adc21" d="M418.6 182.4l-2.3 3.4 1.5 .7 2.3-3.3z"/><path color="#8fdc16" d="M416.3 185.8l-2.4 2.6 1.6 .6 2.3-2.5z"/><path color="#84dc16" d="M413.9 188.4l-2.4 1.9-2.4 1.3 1.6 .6 2.4-1.3 2.4-1.9z"/><path color="#79c616" d="M409.1 191.6l-2.4 .6 1.6 .6 2.4-.6z"/><path color="#63b016" d="M406.7 192.2l-2.4 0 1.5 .6 2.5 0z"/><path color="#84790b" d="M389 177.5l-2.6-3.5 1.6 2.3 2.6 2.9z"/><path color="#9a8f0b" d="M386.4 174l-2.6-3.5 1.7 3.2 2.5 2.6z"/><path color="#dcc621" d="M383.8 170.5l-2.2 6.2 1.6 2.2 2.3-5.2z"/><path color="#e7e72c" d="M381.6 176.7l-2.2 5.5 1.6 1.6 2.2-4.9z"/><path color="#dce737" d="M379.4 182.2l-2.3 5.5 1.6 1.3 2.3-5.2z"/><path color="#d1e742" d="M377.1 187.7l-2.2 5.4 1.6 1 2.2-5.1z"/><path color="#c6e742" d="M374.9 193.1l-2.3 4.8 1.6 .9 2.3-4.7z"/><path color="#b0e72c" d="M372.6 197.9l-2.3 4.2 1.6 .7 2.3-4z"/><path color="#9adc21" d="M370.3 202.1l-2.3 3.2 1.6 .7 2.3-3.2z"/><path color="#84dc16" d="M368 205.3l-2.4 2.5-2.3 1.8-2.4 1.2 1.5 .5 2.4-1.1 2.4-1.8 2.4-2.4z"/><path color="#6ebb16" d="M360.9 210.8l-2.5 .5 1.6 .6 2.4-.6z"/><path color="#6e6e0b" d="M340.7 195.9l-2.6-3.6 1.6 2.4 2.6 3z"/><path color="#a58f0b" d="M338.1 192.3l-2.5-1.5 1.6 2.9 2.5 1z"/><path color="#dcd12c" d="M335.6 190.8l-2.2 5.9 1.6 2.1 2.2-5.1z"/><path color="#e7e72c" d="M333.4 196.7l-2.3 5.4 1.6 1.6 2.3-4.9z"/><path color="#dce742" d="M331.1 202.1l-2.2 5.6 1.6 1.2 2.2-5.2z"/><path color="#d1e742" d="M328.9 207.7l-2.3 5.3 1.6 1 2.3-5.1z"/><path color="#bbe742" d="M326.6 213l-2.2 4.8 1.6 .8 2.2-4.6z"/><path color="#a5dc2c" d="M324.4 217.8l-2.3 3.9 1.6 .7 2.3-3.8z"/><path color="#8fdc21" d="M322.1 221.7l-2.4 3.1 1.6 .7 2.4-3.1z"/><path color="#84dc16" d="M319.7 224.8l-2.3 2.4-2.4 1.7-2.4 1 1.6 .6 2.4-1.1 2.4-1.6 2.3-2.3z"/><path color="#6ebb16" d="M312.6 229.9l-2.4 .4 1.5 .6 2.5-.4z"/><path color="#6e630b" d="M292.4 214.2l-2.6-3.7 1.6 2.6 2.6 3z"/><path color="#a58f0b" d="M289.8 210.5l-2.4 .5 1.6 2.7 2.4-.6z"/><path color="#dcd12c" d="M287.4 211l-2.3 5.7 1.6 1.9 2.3-4.9z"/><path color="#e7e737" d="M285.1 216.7l-2.2 5.4 1.6 1.6 2.2-5.1z"/><path color="#dce742" d="M282.9 222.1l-2.2 5.6 1.5 1.2 2.3-5.2z"/><path color="#d1e742" d="M280.7 227.7l-2.3 5.2 1.6 1 2.2-5z"/><path color="#bbe737" d="M278.4 232.9l-2.3 4.6 1.6 .9 2.3-4.5z"/><path color="#a5dc2c" d="M276.1 237.5l-2.3 3.8 1.6 .8 2.3-3.7z"/><path color="#8fdc16" d="M273.8 241.3l-2.3 3 1.6 .6 2.3-2.8z"/><path color="#84dc16" d="M271.5 244.3l-2.4 2.2-2.4 1.6 1.6 .6 2.4-1.6 2.4-2.2z"/><path color="#79d116" d="M266.7 248.1l-2.4 .9 1.6 .6 2.4-.9z"/><path color="#6ebb16" d="M264.3 249l-2.4 .3 1.6 .6 2.4-.3z"/><path color="#63630b" d="M244.1 232.6l-2.6-3.9 1.6 2.8 2.6 3.1z"/><path color="#9a8f0b" d="M241.5 228.7l-2.4 2.4 1.7 2.5 2.3-2.1z"/><path color="#dcdc2c" d="M239.1 231.1l-2.2 5.6 1.6 1.8 2.3-4.9z"/><path color="#dce737" d="M236.9 236.7l-2.2 5.4 1.6 1.5 2.2-5.1z"/><path color="#dce742" d="M234.7 242.1l-2.3 5.5 1.6 1.2 2.3-5.2z"/><path color="#d1e742" d="M232.4 247.6l-2.2 5.2 1.5 1 2.3-5z"/><path color="#bbe737" d="M230.2 252.8l-2.3 4.5 1.6 .8 2.2-4.3z"/><path color="#9adc2c" d="M227.9 257.3l-2.3 3.6 1.6 .7 2.3-3.5z"/><path color="#8fdc16" d="M225.6 260.9l-2.4 2.9 1.6 .6 2.4-2.8z"/><path color="#84dc16" d="M223.2 263.8l-2.3 2-2.4 1.5 1.5 .6 2.4-1.5 2.4-2z"/><path color="#79d116" d="M218.5 267.3l-2.4 .8 1.5 .6 2.4-.8z"/><path color="#6ebb16" d="M216.1 268.1l-2.2 .2 1.2 .6 .1 0 2.4-.2z"/><path color="#6e630b" d="M484.6 139.3l-2.6-3.1 1.7 2.6 2.5 2.4z"/><path color="#a59a0b" d="M482 136.2l-2.3 2.9 1.6 2.2 2.4-2.5z"/><path color="#dcdc21" d="M479.7 139.1l-2.3 4.9 1.6 1.7 2.3-4.4z"/><path color="#dce737" d="M477.4 144l-2.2 5.1 1.6 1.4 2.2-4.8z"/><path color="#dce742" d="M475.2 149.1l-2.3 5.2 1.6 1.1 2.3-4.9z"/><path color="#c6e742" d="M472.9 154.3l-2.2 4.9 1.6 1 2.2-4.8z"/><path color="#b0e737" d="M470.7 159.2l-2.3 4.3 1.6 .8 2.3-4.1z"/><path color="#9adc21" d="M468.4 163.5l-2.3 3.4 1.5 .7 2.4-3.3z"/><path color="#8fdc16" d="M466.1 166.9l-2.4 2.7 1.6 .6 2.3-2.6z"/><path color="#84dc16" d="M463.7 169.6l-2.3 2-2.4 1.4 1.5 .6 2.4-1.4 2.4-2z"/><path color="#79d116" d="M459 173l-2.5 .7 1.6 .6 2.4-.7z"/><path color="#6eb016" d="M456.5 173.7l-2.4 .2 1.6 .6 2.4-.2z"/><path color="#6e630b" d="M436.3 157.8l-2.6-3.3 1.7 2.7 2.5 2.6z"/><path color="#b0a50b" d="M433.7 154.5l-2.2 4.5 1.6 2.1 2.3-3.9z"/><path color="#dce72c" d="M431.5 159l-2.3 4.9 1.6 1.6 2.3-4.4z"/><path color="#dce737" d="M429.2 163.9l-2.2 5.1 1.5 1.4 2.3-4.9z"/><path color="#d1e742" d="M427 169l-2.3 5.2 1.6 1.1 2.2-4.9z"/><path color="#c6e742" d="M424.7 174.2l-2.3 4.8 1.6 1 2.3-4.7z"/><path color="#b0e72c" d="M422.4 179l-2.3 4.2 1.6 .7 2.3-3.9z"/><path color="#9adc21" d="M420.1 183.2l-2.3 3.3 1.6 .6 2.3-3.2z"/><path color="#8fdc16" d="M417.8 186.5l-2.3 2.5 1.5 .6 2.4-2.5z"/><path color="#84dc16" d="M415.5 189l-2.4 1.9-2.4 1.3 1.6 .6 2.4-1.3 2.3-1.9z"/><path color="#79c616" d="M410.7 192.2l-2.4 .6 1.5 .6 2.5-.6z"/><path color="#a59a0b" d="M388 176.3l-2.5-2.6 1.6 2.7 2.5 1.9z"/><path color="#dcd116" d="M385.5 173.7l-2.3 5.2 1.6 2 2.3-4.5z"/><path color="#dce72c" d="M383.2 178.9l-2.2 4.9 1.6 1.6 2.2-4.5z"/><path color="#dce737" d="M381 183.8l-2.3 5.2 1.6 1.3 2.3-4.9z"/><path color="#d1e742" d="M378.7 189l-2.2 5.1 1.5 1.1 2.3-4.9z"/><path color="#bbe737" d="M376.5 194.1l-2.3 4.7 1.6 .9 2.2-4.5z"/><path color="#a5dc2c" d="M374.2 198.8l-2.3 4 1.6 .8 2.3-3.9z"/><path color="#9adc21" d="M371.9 202.8l-2.3 3.2 1.5 .6 2.4-3z"/><path color="#84dc16" d="M369.6 206l-2.4 2.4-2.4 1.8-2.4 1.1 1.6 .6 2.4-1.2 2.4-1.7 2.3-2.4z"/><path color="#6ec616" d="M362.4 211.3l-2.4 .6 1.6 .5 2.4-.5z"/><path color="#a59a0b" d="M339.7 194.7l-2.5-1 1.7 2.6 2.5 .6z"/><path color="#dcd121" d="M337.2 193.7l-2.2 5.1 1.6 1.8 2.3-4.3z"/><path color="#dce72c" d="M335 198.8l-2.3 4.9 1.6 1.5 2.3-4.6z"/><path color="#dce737" d="M332.7 203.7l-2.2 5.2 1.6 1.3 2.2-5z"/><path color="#d1e742" d="M330.5 208.9l-2.3 5.1 1.6 1.1 2.3-4.9z"/><path color="#bbe737" d="M328.2 214l-2.2 4.6 1.5 .9 2.3-4.4z"/><path color="#a5dc2c" d="M326 218.6l-2.3 3.8 1.5 .8 2.3-3.7z"/><path color="#8fdc16" d="M323.7 222.4l-2.4 3.1 1.6 .6 2.3-2.9z"/><path color="#84dc16" d="M321.3 225.5l-2.3 2.3-2.4 1.6-2.4 1.1 1.5 .5 2.4-1 2.4-1.6 2.4-2.3z"/><path color="#6ebb16" d="M314.2 230.5l-2.5 .4 1.6 .6 2.4-.5z"/><path color="#a59a0b" d="M291.4 213.1l-2.4 .6 1.6 2.4 2.5-.6z"/><path color="#dcdc21" d="M289 213.7l-2.3 4.9 1.7 1.8 2.2-4.3z"/><path color="#dce72c" d="M286.7 218.6l-2.2 5.1 1.6 1.4 2.3-4.7z"/><path color="#dce742" d="M284.5 223.7l-2.3 5.2 1.6 1.2 2.3-5z"/><path color="#d1e742" d="M282.2 228.9l-2.2 5 1.6 1 2.2-4.8z"/><path color="#bbe737" d="M280 233.9l-2.3 4.5 1.6 .8 2.3-4.3z"/><path color="#a5dc2c" d="M277.7 238.4l-2.3 3.7 1.6 .7 2.3-3.6z"/><path color="#8fdc16" d="M275.4 242.1l-2.3 2.8 1.5 .7 2.4-2.8z"/><path color="#84dc16" d="M273.1 244.9l-2.4 2.2-2.4 1.6 1.6 .5 2.4-1.5 2.3-2.1z"/><path color="#84d116" d="M268.3 248.7l-2.4 .9 1.6 .6 2.4-1z"/><path color="#6ebb16" d="M265.9 249.6l-2.4 .3 1.5 .6 2.5-.3z"/><path color="#a59a0b" d="M243.1 231.5l-2.3 2.1 1.6 2.3 2.4-1.9z"/><path color="#dcdc21" d="M240.8 233.6l-2.3 4.9 1.6 1.8 2.3-4.4z"/><path color="#dce737" d="M238.5 238.5l-2.2 5.1 1.6 1.4 2.2-4.7z"/><path color="#dce742" d="M236.3 243.6l-2.3 5.2 1.6 1.2 2.3-5z"/><path color="#c6e742" d="M234 248.8l-2.3 5 1.6 1 2.3-4.8z"/><path color="#b0e737" d="M231.7 253.8l-2.2 4.3 1.5 .8 2.3-4.1z"/><path color="#9adc21" d="M229.5 258.1l-2.3 3.5 1.5 .7 2.3-3.4z"/><path color="#8fdc16" d="M227.2 261.6l-2.4 2.8 1.6 .6 2.3-2.7z"/><path color="#84dc16" d="M224.8 264.4l-2.4 2-2.4 1.5 1.6 .6 2.4-1.5 2.4-2z"/><path color="#79d116" d="M220 267.9l-2.4 .8 1.6 .6 2.4-.8z"/><path color="#6ebb16" d="M217.6 268.7l-2.4 .2-.1 0 1.3 .6 .3 0 2.5-.2z"/><path color="#6e6e0b" d="M486.2 141.2l-2.5-2.4 2.5 2.4z"/><path color="#a5a50b" d="M483.7 138.8l-2.4 2.5 2.4-2.5z"/><path color="#6e630b" d="M437.9 159.8l-2.5-2.6 2.5 2.6z"/><path color="#b0a50b" d="M435.4 157.2l-2.3 3.9 2.3-3.9z"/><path color="#dcdc21" d="M433.1 161.1l-2.3 4.4 2.3-4.4z"/><path color="#dce737" d="M430.8 165.5l-2.3 4.9 2.3-4.9z"/><path color="#79c616" d="M412.3 192.8l-2.5 .6 2.5-.6z"/><path color="#79790b" d="M394.8 183.8l-2.6-2.9 2.6 2.9z"/><path color="#a59a0b" d="M389.6 178.3l-2.5-1.9 2.5 1.9z"/><path color="#d1d116" d="M387.1 176.4l-2.3 4.5 2.3-4.5z"/><path color="#79c616" d="M364 211.9l-2.4 .5 2.4-.5z"/><path color="#79790b" d="M346.5 202.2l-2.6-2.8 2.6 2.8z"/><path color="#b0a50b" d="M341.4 196.9l-2.5-.6 2.5 .6z"/><path color="#dcdc21" d="M338.9 196.3l-2.3 4.3 2.3-4.3z"/><path color="#dce72c" d="M336.6 200.6l-2.3 4.6 2.3-4.6z"/><path color="#dce737" d="M334.3 205.2l-2.2 5 2.2-5z"/><path color="#79790b" d="M298.2 220.7l-2.6-2.8 2.6 2.8z"/><path color="#b0a50b" d="M293.1 215.5l-2.5 .6 2.5-.6z"/><path color="#dcdc21" d="M290.6 216.1l-2.2 4.3 2.2-4.3z"/><path color="#6e790b" d="M252.4 242.2l-2.5-3.1-2.6-2.7 2.6 2.7 2.5 3.1z"/><path color="#dcdc21" d="M242.4 235.9l-2.3 4.4 2.3-4.4z"/><path color="#b0b00b" d="M437.9 159.8l-4.8 1.3 4.8-1.3z"/><path color="#63a516" d="M409.8 193.4l-4.9-.5 4.9 .5z"/><path color="#84d116" d="M366.4 210.7l-4.8 1.7 4.8-1.7z"/><path color="#63a50b" d="M361.6 212.4l-5-.7 5 .7z"/><path color="#79d116" d="M318.1 230l-4.8 1.5 4.8-1.5z"/><path color="#639a0b" d="M313.3 231.5l-4.9-1 4.9 1z"/><path color="#79c616" d="M269.9 249.2l-4.9 1.3 4.9-1.3z"/><path color="#79c616" d="M221.6 268.5l-4.9 1 4.9-1z"/><path color="#b0bb0b" d="M486.2 141.2l-4.9 .1 4.6 5.3 4.9-.6z"/><path color="#dcdc21" d="M481.3 141.3l-4.5 9.2 4.5 3.7 4.6-7.6z"/><path color="#c6e737" d="M476.8 150.5l-4.5 9.7 4.5 2.6 4.5-8.6z"/><path color="#a5dc21" d="M472.3 160.2l-4.7 7.4 4.5 2 4.7-6.8z"/><path color="#8fdc16" d="M467.6 167.6l-4.7 4.6 4.5 1.6 4.7-4.2z"/><path color="#84dc16" d="M462.9 172.2l-4.8 2.1 4.5 1.7 4.8-2.2z"/><path color="#6eb016" d="M458.1 174.3l-4.9-.3 4.5 1.9 4.9 .1z"/><path color="#bbbb0b" d="M437.9 159.8l-4.8 1.3 4.6 5.1 4.8-1.5z"/><path color="#dcdc21" d="M433.1 161.1l-4.6 9.3 4.6 3.6 4.6-7.8z"/><path color="#c6e737" d="M428.5 170.4l-4.5 9.6 4.5 2.5 4.6-8.5z"/><path color="#a5dc21" d="M424 180l-4.6 7.1 4.5 2 4.6-6.6z"/><path color="#84dc16" d="M419.4 187.1l-4.7 4.4-4.9 1.9 4.5 1.6 4.8-1.9 4.8-4z"/><path color="#6ea516" d="M409.8 193.4l-4.9-.5 4.5 1.9 4.9 .2z"/><path color="#bbbb0b" d="M389.6 178.3l-4.8 2.6 4.6 4.9 4.9-2.3z"/><path color="#d1e72c" d="M384.8 180.9l-4.5 9.4 4.5 3.5 4.6-8z"/><path color="#c6e737" d="M380.3 190.3l-4.5 9.4 4.5 2.5 4.5-8.4z"/><path color="#9adc21" d="M375.8 199.7l-4.7 6.9 4.5 1.9 4.7-6.3z"/><path color="#84dc16" d="M371.1 206.6l-4.7 4.1 4.5 1.7 4.7-3.9z"/><path color="#84d116" d="M366.4 210.7l-4.8 1.7 4.4 1.7 4.9-1.7z"/><path color="#63a50b" d="M361.6 212.4l-5-.7 4.5 2 4.9 .4z"/><path color="#79790b" d="M346.5 202.2l-5.1-5.3 4.6 5.3 5 3.7z"/><path color="#bbbb0b" d="M341.4 196.9l-4.8 3.7 4.6 4.8 4.8-3.2z"/><path color="#d1e72c" d="M336.6 200.6l-4.5 9.6 4.5 3.4 4.6-8.2z"/><path color="#c6e737" d="M332.1 210.2l-4.6 9.3 4.5 2.4 4.6-8.3z"/><path color="#9adc21" d="M327.5 219.5l-4.6 6.6 4.5 1.9 4.6-6.1z"/><path color="#84dc16" d="M322.9 226.1l-4.8 3.9 4.5 1.6 4.8-3.6z"/><path color="#79d116" d="M318.1 230l-4.8 1.5 4.5 1.7 4.8-1.6z"/><path color="#63a50b" d="M313.3 231.5l-4.9-1 4.4 2 5 .7z"/><path color="#79790b" d="M298.2 220.7l-5.1-5.2 4.6 5.5 5 3.5z"/><path color="#bbbb0b" d="M293.1 215.5l-4.7 4.9 4.5 4.7 4.8-4.1z"/><path color="#d1e72c" d="M288.4 220.4l-4.6 9.7 4.6 3.3 4.5-8.3z"/><path color="#bbe737" d="M283.8 230.1l-4.5 9.1 4.5 2.4 4.6-8.2z"/><path color="#9adc16" d="M279.3 239.2l-4.7 6.4 4.5 1.8 4.7-5.8z"/><path color="#84dc16" d="M274.6 245.6l-4.7 3.6 4.4 1.7 4.8-3.5z"/><path color="#79c616" d="M269.9 249.2l-4.9 1.3 4.5 1.7 4.8-1.3z"/><path color="#639a0b" d="M265 250.5l-4.9-1.2 4.5 2 4.9 .9z"/><path color="#79790b" d="M255 245.1l-5.1-6-5.1-5.1 4.6 5.9 5 3.2 5.1 4.8z"/><path color="#bbbb0b" d="M244.8 234l-4.7 6.3 4.6 4.4 4.7-4.8z"/><path color="#d1e72c" d="M240.1 240.3l-4.5 9.7 4.5 3.2 4.6-8.5z"/><path color="#bbe737" d="M235.6 250l-4.6 8.9 4.5 2.3 4.6-8z"/><path color="#8fdc16" d="M231 258.9l-4.6 6.1 4.4 1.8 4.7-5.6z"/><path color="#84dc16" d="M226.4 265l-4.8 3.5 4.5 1.6 4.7-3.3z"/><path color="#79c616" d="M221.6 268.5l-4.9 1 4.5 1.7 4.9-1.1z"/><path color="#6eb016" d="M216.7 269.5l-.3 0 3.7 1.7 1.1 0z"/><path color="#79840b" d="M495.9 150.3l-5.1-4.3 4.6 4.1 5 3.4z"/><path color="#bbbb0b" d="M490.8 146l-4.9 .6 4.6 4.5 4.9-1z"/><path color="#d1dc16" d="M485.9 146.6l-4.6 7.6 4.6 3.4 4.6-6.5z"/><path color="#c6e72c" d="M481.3 154.2l-4.5 8.6 4.5 2.5 4.6-7.7z"/><path color="#a5dc21" d="M476.8 162.8l-4.7 6.8 4.5 1.9 4.7-6.2z"/><path color="#8fdc16" d="M472.1 169.6l-4.7 4.2 4.5 1.7 4.7-4z"/><path color="#84dc16" d="M467.4 173.8l-4.8 2.2 4.4 1.6 4.9-2.1z"/><path color="#6eb016" d="M462.6 176l-4.9-.1 4.4 1.9 4.9-.2z"/><path color="#638f0b" d="M457.7 175.9l-5-2.4 4.5 2.4 4.9 1.9z"/><path color="#79840b" d="M447.6 168.8l-5.1-4.1 4.6 4.3 5 3.1z"/><path color="#bbc60b" d="M442.5 164.7l-4.8 1.5 4.6 4.4 4.8-1.6z"/><path color="#d1dc16" d="M437.7 166.2l-4.6 7.8 4.5 3.3 4.7-6.7z"/><path color="#bbe72c" d="M433.1 174l-4.6 8.5 4.5 2.5 4.6-7.7z"/><path color="#9adc16" d="M428.5 182.5l-4.6 6.6 4.5 1.9 4.6-6z"/><path color="#8fdc16" d="M423.9 189.1l-4.8 4 4.5 1.7 4.8-3.8z"/><path color="#84dc16" d="M419.1 193.1l-4.8 1.9 4.5 1.7 4.8-1.9z"/><path color="#6eb016" d="M414.3 195l-4.9-.2 4.5 1.9 4.9 0z"/><path color="#79840b" d="M399.3 187.4l-5-3.9 4.5 4.3 5 2.9z"/><path color="#bbc60b" d="M394.3 183.5l-4.9 2.3 4.6 4.2 4.8-2.2z"/><path color="#d1dc21" d="M389.4 185.8l-4.6 8 4.6 3.2 4.6-7z"/><path color="#bbe72c" d="M384.8 193.8l-4.5 8.4 4.5 2.4 4.6-7.6z"/><path color="#9adc16" d="M380.3 202.2l-4.7 6.3 4.5 1.9 4.7-5.8z"/><path color="#8fdc16" d="M375.6 208.5l-4.7 3.9 4.4 1.7 4.8-3.7z"/><path color="#84d116" d="M370.9 212.4l-4.9 1.7 4.5 1.7 4.8-1.7z"/><path color="#6ea516" d="M366 214.1l-4.9-.4 4.5 1.9 4.9 .2z"/><path color="#79840b" d="M351 205.9l-5-3.7 4.6 4.5 5 2.7z"/><path color="#bbc60b" d="M346 202.2l-4.8 3.2 4.6 4.2 4.8-2.9z"/><path color="#d1dc21" d="M341.2 205.4l-4.6 8.2 4.5 3.1 4.7-7.1z"/><path color="#bbe72c" d="M336.6 213.6l-4.6 8.3 4.5 2.3 4.6-7.5z"/><path color="#9adc16" d="M332 221.9l-4.6 6.1 4.4 1.8 4.7-5.6z"/><path color="#84dc16" d="M327.4 228l-4.8 3.6 4.5 1.7 4.7-3.5z"/><path color="#84d116" d="M322.6 231.6l-4.8 1.6 4.4 1.7 4.9-1.6z"/><path color="#6ea50b" d="M317.8 233.2l-5-.7 4.5 2 4.9 .4z"/><path color="#79840b" d="M302.7 224.5l-5-3.5 4.6 4.6 5 2.4z"/><path color="#bbc60b" d="M297.7 221l-4.8 4.1 4.6 4 4.8-3.5z"/><path color="#d1e721" d="M292.9 225.1l-4.5 8.3 4.5 3 4.6-7.3z"/><path color="#bbe72c" d="M288.4 233.4l-4.6 8.2 4.5 2.2 4.6-7.4z"/><path color="#9adc16" d="M283.8 241.6l-4.7 5.8 4.5 1.8 4.7-5.4z"/><path color="#84dc16" d="M279.1 247.4l-4.8 3.5 4.5 1.6 4.8-3.3z"/><path color="#79d116" d="M274.3 250.9l-4.8 1.3 4.5 1.7 4.8-1.4z"/><path color="#63a50b" d="M269.5 252.2l-4.9-.9 4.4 2.1 5 .5z"/><path color="#79840b" d="M254.4 243.1l-5-3.2 4.6 4.7 5 2.1z"/><path color="#bbc60b" d="M249.4 239.9l-4.7 4.8 4.6 4 4.7-4.1z"/><path color="#d1e721" d="M244.7 244.7l-4.6 8.5 4.5 3 4.7-7.5z"/><path color="#b0e72c" d="M240.1 253.2l-4.6 8 4.5 2.2 4.6-7.2z"/><path color="#8fdc16" d="M235.5 261.2l-4.7 5.6 4.5 1.8 4.7-5.2z"/><path color="#84dc16" d="M230.8 266.8l-4.7 3.3 4.4 1.6 4.8-3.1z"/><path color="#79c616" d="M226.1 270.1l-4.9 1.1 4.5 1.8 4.8-1.3z"/><path color="#6ebb16" d="M221.2 271.2l-1.1 0 3.7 1.7 1.9 .1z"/><path color="#848f0b" d="M500.4 153.5l-5-3.4 4.5 3.8 5 2.5z"/><path color="#bbc60b" d="M495.4 150.1l-4.9 1 4.6 3.9 4.8-1.1z"/><path color="#c6dc16" d="M490.5 151.1l-4.6 6.5 4.5 3.2 4.7-5.8z"/><path color="#bbe721" d="M485.9 157.6l-4.6 7.7 4.5 2.5 4.6-7z"/><path color="#9adc16" d="M481.3 165.3l-4.7 6.2 4.5 2 4.7-5.7z"/><path color="#8fdc16" d="M476.6 171.5l-4.7 4 4.4 1.8 4.8-3.8z"/><path color="#84dc16" d="M471.9 175.5l-4.9 2.1 4.5 1.7 4.8-2z"/><path color="#6eb016" d="M467 177.6l-4.9 .2 4.5 1.9 4.9-.4z"/><path color="#639a0b" d="M462.1 177.8l-4.9-1.9 4.5 2.3 4.9 1.5z"/><path color="#848f0b" d="M452.1 172.1l-5-3.1 4.6 3.8 4.9 2.3z"/><path color="#bbd10b" d="M447.1 169l-4.8 1.6 4.5 3.8 4.9-1.6z"/><path color="#c6dc16" d="M442.3 170.6l-4.7 6.7 4.6 3.1 4.6-6z"/><path color="#bbe721" d="M437.6 177.3l-4.6 7.7 4.5 2.4 4.7-7z"/><path color="#9adc16" d="M433 185l-4.6 6 4.4 1.9 4.7-5.5z"/><path color="#8fdc16" d="M428.4 191l-4.8 3.8 4.5 1.7 4.7-3.6z"/><path color="#84dc16" d="M423.6 194.8l-4.8 1.9 4.4 1.7 4.9-1.9z"/><path color="#6eb016" d="M418.8 196.7l-4.9 0 4.5 2 4.8-.3z"/><path color="#639a0b" d="M413.9 196.7l-5-2.1 4.5 2.4 5 1.7z"/><path color="#848f0b" d="M403.8 190.7l-5-2.9 4.6 3.9 5 2.1z"/><path color="#c6d10b" d="M398.8 187.8l-4.8 2.2 4.6 3.8 4.8-2.1z"/><path color="#c6dc16" d="M394 190l-4.6 7 4.5 3.1 4.7-6.3z"/><path color="#bbdc21" d="M389.4 197l-4.6 7.6 4.5 2.4 4.6-6.9z"/><path color="#9adc16" d="M384.8 204.6l-4.7 5.8 4.5 1.9 4.7-5.3z"/><path color="#8fdc16" d="M380.1 210.4l-4.8 3.7 4.5 1.7 4.8-3.5z"/><path color="#84dc16" d="M375.3 214.1l-4.8 1.7 4.5 1.7 4.8-1.7z"/><path color="#6eb016" d="M370.5 215.8l-4.9-.2 4.5 2 4.9-.1z"/><path color="#639a0b" d="M365.6 215.6l-5-2.3 4.5 2.4 5 1.9z"/><path color="#848f0b" d="M355.6 209.4l-5-2.7 4.5 3.9 5 2z"/><path color="#c6d10b" d="M350.6 206.7l-4.8 2.9 4.5 3.7 4.8-2.7z"/><path color="#c6dc16" d="M345.8 209.6l-4.7 7.1 4.6 3 4.6-6.4z"/><path color="#b0dc21" d="M341.1 216.7l-4.6 7.5 4.5 2.3 4.7-6.8z"/><path color="#9adc16" d="M336.5 224.2l-4.7 5.6 4.5 1.9 4.7-5.2z"/><path color="#8fdc16" d="M331.8 229.8l-4.7 3.5 4.4 1.7 4.8-3.3z"/><path color="#84d116" d="M327.1 233.3l-4.9 1.6 4.5 1.7 4.8-1.6z"/><path color="#6eb016" d="M322.2 234.9l-4.9-.4 4.5 2 4.9 .1z"/><path color="#848f0b" d="M307.3 228l-5-2.4 4.5 4 5 1.7z"/><path color="#c6d10b" d="M302.3 225.6l-4.8 3.5 4.6 3.7 4.7-3.2z"/><path color="#c6dc21" d="M297.5 229.1l-4.6 7.3 4.5 3 4.7-6.6z"/><path color="#b0dc21" d="M292.9 236.4l-4.6 7.4 4.5 2.3 4.6-6.7z"/><path color="#8fdc16" d="M288.3 243.8l-4.7 5.4-4.8 3.3 4.5 1.7 4.8-3.1 4.7-5z"/><path color="#84d116" d="M278.8 252.5l-4.8 1.4 4.4 1.8 4.9-1.5z"/><path color="#6ea50b" d="M274 253.9l-5-.5 4.5 2 4.9 .3z"/><path color="#638f0b" d="M269 253.4l-5-2.8 4.5 2.6 5 2.2z"/><path color="#849a0b" d="M259 246.7l-5-2.1 4.6 4.1 4.9 1.3z"/><path color="#c6d10b" d="M254 244.6l-4.7 4.1 4.5 3.6 4.8-3.6z"/><path color="#c6dc21" d="M249.3 248.7l-4.7 7.5 4.6 2.8 4.6-6.7z"/><path color="#b0dc21" d="M244.6 256.2l-4.6 7.2 4.5 2.2 4.7-6.6z"/><path color="#8fdc16" d="M240 263.4l-4.7 5.2 4.5 1.8 4.7-4.8z"/><path color="#84dc16" d="M235.3 268.6l-4.8 3.1 4.5 1.7 4.8-3z"/><path color="#79d116" d="M230.5 271.7l-4.8 1.3 4.5 1.7 4.8-1.3z"/><path color="#79bb16" d="M225.7 273l-1.9-.1 3.6 1.8 2.8 0z"/><path color="#79a50b" d="M509 158.9l-4.1-2.5 4.5 2.9 3.3 1.6z"/><path color="#849a0b" d="M504.9 156.4l-5-2.5 4.6 3.4 4.9 2z"/><path color="#bbc60b" d="M499.9 153.9l-4.8 1.1 4.5 3.6 4.9-1.3z"/><path color="#c6dc16" d="M495.1 155l-4.7 5.8 4.5 3 4.7-5.2z"/><path color="#b0dc21" d="M490.4 160.8l-4.6 7 4.5 2.4 4.6-6.4z"/><path color="#9adc16" d="M485.8 167.8l-4.7 5.7 4.5 1.9 4.7-5.2z"/><path color="#8fdc16" d="M481.1 173.5l-4.8 3.8 4.5 1.7 4.8-3.6z"/><path color="#84dc16" d="M476.3 177.3l-4.8 2 4.5 1.8 4.8-2.1z"/><path color="#79bb16" d="M471.5 179.3l-4.9 .4 4.5 1.9 4.9-.5z"/><path color="#6e9a0b" d="M466.6 179.7l-4.9-1.5 4.5 2.3 4.9 1.1z"/><path color="#6e8f0b" d="M461.7 178.2l-5.1-3.1 4.6 2.9 5 2.5z"/><path color="#849a0b" d="M456.6 175.1l-4.9-2.3 4.5 3.4 5 1.8z"/><path color="#bbd10b" d="M451.7 172.8l-4.9 1.6 4.6 3.6 4.8-1.8z"/><path color="#c6dc16" d="M446.8 174.4l-4.6 6 4.5 3 4.7-5.4z"/><path color="#b0dc21" d="M442.2 180.4l-4.7 7 4.5 2.3 4.7-6.3z"/><path color="#9adc16" d="M437.5 187.4l-4.7 5.5 4.5 1.9 4.7-5.1z"/><path color="#8fdc16" d="M432.8 192.9l-4.7 3.6 4.4 1.8 4.8-3.5z"/><path color="#84dc16" d="M428.1 196.5l-4.9 1.9 4.5 1.8 4.8-1.9z"/><path color="#6ebb16" d="M423.2 198.4l-4.8 .3 4.4 1.9 4.9-.4z"/><path color="#6e9a0b" d="M418.4 198.7l-5-1.7 4.5 2.3 4.9 1.3z"/><path color="#798f0b" d="M413.4 197l-5-3.2 4.5 3 5 2.5z"/><path color="#849a0b" d="M408.4 193.8l-5-2.1 4.5 3.5 5 1.6z"/><path color="#c6d10b" d="M403.4 191.7l-4.8 2.1 4.5 3.5 4.8-2.1z"/><path color="#c6dc16" d="M398.6 193.8l-4.7 6.3 4.5 2.9 4.7-5.7z"/><path color="#b0dc21" d="M393.9 200.1l-4.6 6.9 4.5 2.2 4.6-6.2z"/><path color="#9adc16" d="M389.3 207l-4.7 5.3 4.5 1.9 4.7-5z"/><path color="#8fdc16" d="M384.6 212.3l-4.8 3.5 4.5 1.7 4.8-3.3z"/><path color="#84dc16" d="M379.8 215.8l-4.8 1.7 4.4 1.8 4.9-1.8z"/><path color="#6eb016" d="M375 217.5l-4.9 .1 4.5 1.9 4.8-.2z"/><path color="#6e9a0b" d="M370.1 217.6l-5-1.9 4.5 2.4 5 1.4z"/><path color="#799a0b" d="M365.1 215.7l-5-3.1 4.5 3 5 2.5z"/><path color="#8f9a0b" d="M360.1 212.6l-5-2 4.6 3.6 4.9 1.4z"/><path color="#c6d10b" d="M355.1 210.6l-4.8 2.7 4.5 3.4 4.9-2.5z"/><path color="#c6dc16" d="M350.3 213.3l-4.6 6.4 4.5 2.8 4.6-5.8z"/><path color="#b0dc21" d="M345.7 219.7l-4.7 6.8 4.5 2.3 4.7-6.3z"/><path color="#8fdc16" d="M341 226.5l-4.7 5.2-4.8 3.3 4.5 1.7 4.8-3.1 4.7-4.8z"/><path color="#84d116" d="M331.5 235l-4.8 1.6 4.5 1.8 4.8-1.7z"/><path color="#6eb016" d="M326.7 236.6l-4.9-.1 4.5 2 4.9-.1z"/><path color="#6e9a0b" d="M321.8 236.5l-5-2 4.5 2.4 5 1.6z"/><path color="#798f0b" d="M316.8 234.5l-5-3.2 4.5 3.1 5 2.5z"/><path color="#8f9a0b" d="M311.8 231.3l-5-1.7 4.6 3.7 4.9 1.1z"/><path color="#c6d10b" d="M306.8 229.6l-4.7 3.2 4.5 3.4 4.8-2.9z"/><path color="#bbdc16" d="M302.1 232.8l-4.7 6.6 4.5 2.7 4.7-5.9z"/><path color="#b0dc21" d="M297.4 239.4l-4.6 6.7 4.5 2.2 4.6-6.2z"/><path color="#8fdc16" d="M292.8 246.1l-4.7 5-4.8 3.1 4.5 1.7 4.7-3 4.8-4.6z"/><path color="#84d116" d="M283.3 254.2l-4.9 1.5 4.5 1.7 4.9-1.5z"/><path color="#6eb016" d="M278.4 255.7l-4.9-.3 4.5 2 4.9 0z"/><path color="#6e9a0b" d="M273.5 255.4l-5-2.2 4.5 2.5 5 1.7z"/><path color="#798f0b" d="M268.5 253.2l-5-3.2 4.5 3.1 5 2.6z"/><path color="#8fa50b" d="M263.5 250l-4.9-1.3 4.5 3.6 4.9 .8z"/><path color="#c6d116" d="M258.6 248.7l-4.8 3.6 4.5 3.3 4.8-3.3z"/><path color="#bbdc16" d="M253.8 252.3l-4.6 6.7 4.5 2.7 4.6-6.1z"/><path color="#a5dc16" d="M249.2 259l-4.7 6.6 4.5 2.2 4.7-6.1z"/><path color="#8fdc16" d="M244.5 265.6l-4.7 4.8-4.8 3 4.5 1.7 4.8-2.9 4.7-4.4z"/><path color="#84d116" d="M235 273.4l-4.8 1.3 4.4 1.8 4.9-1.4z"/><path color="#79bb16" d="M230.2 274.7l-2.8 0 3.7 1.8 3.5 0z"/><path color="#84a50b" d="M512.7 160.9l-3.3-1.6-4.9-2 9 6.3 5 1 1.5 .5z"/><path color="#bbd116" d="M504.5 157.3l-4.9 1.3 9.1 6.4 4.8-1.4z"/><path color="#bbdc16" d="M499.6 158.6l-4.7 5.2 9.1 5.6 4.7-4.4z"/><path color="#b0dc16" d="M494.9 163.8l-4.6 6.4 9 4.6 4.7-5.4z"/><path color="#9adc16" d="M490.3 170.2l-4.7 5.2 8.9 3.9 4.8-4.5z"/><path color="#8fdc16" d="M485.6 175.4l-4.8 3.6-4.8 2.1 8.9 3.5 4.9-2.1 4.7-3.2z"/><path color="#79bb16" d="M476 181.1l-4.9 .5 9 3.8 4.8-.8z"/><path color="#6ea50b" d="M471.1 181.6l-4.9-1.1 8.9 4.4 5 .5z"/><path color="#799a0b" d="M466.2 180.5l-5-2.5 9 5.5 4.9 1.4z"/><path color="#84a50b" d="M461.2 178l-5-1.8 9.1 6.4 4.9 .9z"/><path color="#bbdc16" d="M456.2 176.2l-4.8 1.8-4.7 5.4 9 5.5 4.7-4.6 4.9-1.7z"/><path color="#a5dc16" d="M446.7 183.4l-4.7 6.3 9 4.5 4.7-5.3z"/><path color="#9adc16" d="M442 189.7l-4.7 5.1 9 3.8 4.7-4.4z"/><path color="#8fdc16" d="M437.3 194.8l-4.8 3.5 9 3.5 4.8-3.2z"/><path color="#84dc16" d="M432.5 198.3l-4.8 1.9 9 3.5 4.8-1.9z"/><path color="#79bb16" d="M427.7 200.2l-4.9 .4 9 3.8 4.9-.7z"/><path color="#6ea50b" d="M422.8 200.6l-4.9-1.3 9 4.5 4.9 .6z"/><path color="#799a0b" d="M417.9 199.3l-5-2.5 9 5.5 5 1.5z"/><path color="#8fa50b" d="M412.9 196.8l-5-1.6 9.1 6.4 4.9 .7z"/><path color="#bbdc16" d="M407.9 195.2l-4.8 2.1-4.7 5.7 9 5.4 4.8-4.7 4.8-2.1z"/><path color="#a5dc16" d="M398.4 203l-4.6 6.2 8.9 4.5 4.7-5.3z"/><path color="#9adc16" d="M393.8 209.2l-4.7 5 8.9 3.8 4.7-4.3z"/><path color="#8fdc16" d="M389.1 214.2l-4.8 3.3 8.9 3.5 4.8-3z"/><path color="#84dc16" d="M384.3 217.5l-4.9 1.8 9 3.5 4.8-1.8z"/><path color="#79bb16" d="M379.4 219.3l-4.8 .2 8.9 3.9 4.9-.6z"/><path color="#6ea50b" d="M374.6 219.5l-5-1.4 9 4.6 4.9 .7z"/><path color="#799a0b" d="M369.6 218.1l-5-2.5 9 5.6 5 1.5z"/><path color="#8fa50b" d="M364.6 215.6l-4.9-1.4 9 6.5 4.9 .5z"/><path color="#bbdc16" d="M359.7 214.2l-4.9 2.5-4.6 5.8 9 5.4 4.7-4.9 4.8-2.3z"/><path color="#a5dc16" d="M350.2 222.5l-4.7 6.3 9 4.3 4.7-5.2z"/><path color="#8fdc16" d="M345.5 228.8l-4.7 4.8-4.8 3.1 9 3.5 4.8-2.9 4.7-4.2z"/><path color="#84dc16" d="M336 236.7l-4.8 1.7 8.9 3.5 4.9-1.7z"/><path color="#79bb16" d="M331.2 238.4l-4.9 .1 8.9 3.9 4.9-.5z"/><path color="#6ea50b" d="M326.3 238.5l-5-1.6 9 4.7 4.9 .8z"/><path color="#799a0b" d="M321.3 236.9l-5-2.5 9.1 5.7 4.9 1.5z"/><path color="#8fb00b" d="M316.3 234.4l-4.9-1.1 9 6.4 5 .4z"/><path color="#bbdc16" d="M311.4 233.3l-4.8 2.9-4.7 5.9 9 5.3 4.7-5 4.8-2.7z"/><path color="#a5dc16" d="M301.9 242.1l-4.6 6.2 8.9 4.2 4.7-5.1z"/><path color="#8fdc16" d="M297.3 248.3l-4.8 4.6-4.7 3 8.9 3.5 4.8-2.8 4.7-4.1z"/><path color="#84d116" d="M287.8 255.9l-4.9 1.5 9 3.6 4.8-1.6z"/><path color="#79b016" d="M282.9 257.4l-4.9 0 9 4 4.9-.4z"/><path color="#6ea50b" d="M278 257.4l-5-1.7 9 4.7 5 1z"/><path color="#799a0b" d="M273 255.7l-5-2.6 9.1 5.8 4.9 1.5z"/><path color="#9ab00b" d="M268 253.1l-4.9-.8 9.1 6.5 4.9 .1z"/><path color="#bbdc16" d="M263.1 252.3l-4.8 3.3-4.6 6.1 9 5.2 4.7-5.1 4.8-3z"/><path color="#a5dc16" d="M253.7 261.7l-4.7 6.1 9 4.2 4.7-5.1z"/><path color="#8fdc16" d="M249 267.8l-4.7 4.4-4.8 2.9 8.9 3.5 4.8-2.7 4.8-3.9z"/><path color="#84d116" d="M239.5 275.1l-4.9 1.4 9 3.6 4.8-1.5z"/><path color="#79bb16" d="M234.6 276.5l-3.5 0 7.4 3.8 .2 0 4.9-.2z"/><path color="#8fbb0b" d="M520 165.1l-1.5-.5 8.9 5z"/><path color="#8fb00b" d="M518.5 164.6l-5-1 9.1 5.6 4.8 .4z"/><path color="#b0d116" d="M513.5 163.6l-4.8 1.4 9 5.8 4.9-1.6z"/><path color="#b0dc16" d="M508.7 165l-4.7 4.4 9 5.2 4.7-3.8z"/><path color="#a5dc16" d="M504 169.4l-4.7 5.4 8.9 4.4 4.8-4.6z"/><path color="#9adc16" d="M499.3 174.8l-4.8 4.5 9 3.8 4.7-3.9z"/><path color="#8fdc16" d="M494.5 179.3l-4.7 3.2-4.9 2.1 9 3.5 4.8-2 4.8-3z"/><path color="#79c616" d="M484.9 184.6l-4.8 .8 8.9 3.8 4.9-1.1z"/><path color="#79b00b" d="M480.1 185.4l-5-.5 9 4.3 4.9 0z"/><path color="#79a50b" d="M475.1 184.9l-4.9-1.4 9 5 4.9 .7z"/><path color="#8fb00b" d="M470.2 183.5l-4.9-.9 9 5.7 4.9 .2z"/><path color="#b0dc16" d="M465.3 182.6l-4.9 1.7-4.7 4.6 9 5.1 4.8-3.9 4.8-1.8z"/><path color="#a5dc16" d="M455.7 188.9l-4.7 5.3 9 4.4 4.7-4.6z"/><path color="#9adc16" d="M451 194.2l-4.7 4.4 8.9 3.9 4.8-3.9z"/><path color="#8fdc16" d="M446.3 198.6l-4.8 3.2-4.8 1.9 8.9 3.6 4.8-1.9 4.8-2.9z"/><path color="#79c616" d="M436.7 203.7l-4.9 .7 9 3.8 4.8-.9z"/><path color="#79b00b" d="M431.8 204.4l-4.9-.6 8.9 4.4 5 0z"/><path color="#79a50b" d="M426.9 203.8l-5-1.5 9 5.1 4.9 .8z"/><path color="#8fb00b" d="M421.9 202.3l-4.9-.7 9 5.7 4.9 .1z"/><path color="#bbdc16" d="M417 201.6l-4.8 2.1 9 5.7 4.8-2.1z"/><path color="#b0dc16" d="M412.2 203.7l-4.8 4.7 9.1 5 4.7-4z"/><path color="#a5dc16" d="M407.4 208.4l-4.7 5.3 9 4.3 4.8-4.6z"/><path color="#9adc16" d="M402.7 213.7l-4.7 4.3 9 3.8 4.7-3.8z"/><path color="#8fdc16" d="M398 218l-4.8 3-4.8 1.8 8.9 3.6 4.9-1.8 4.8-2.8z"/><path color="#79c616" d="M388.4 222.8l-4.9 .6 9 3.8 4.8-.8z"/><path color="#79b00b" d="M383.5 223.4l-4.9-.7 9 4.4 4.9 .1z"/><path color="#79a50b" d="M378.6 222.7l-5-1.5 9 5.2 5 .7z"/><path color="#8fb00b" d="M373.6 221.2l-4.9-.5 9 5.7 4.9 0z"/><path color="#bbdc16" d="M368.7 220.7l-4.8 2.3 9 5.7 4.8-2.3z"/><path color="#b0dc16" d="M363.9 223l-4.7 4.9 9 4.9 4.7-4.1z"/><path color="#a5dc16" d="M359.2 227.9l-4.7 5.2 9 4.2 4.7-4.5z"/><path color="#8fdc16" d="M354.5 233.1l-4.7 4.2-4.8 2.9 8.9 3.6 4.8-2.7 4.8-3.8z"/><path color="#84dc16" d="M345 240.2l-4.9 1.7 9 3.6 4.8-1.7z"/><path color="#79bb16" d="M340.1 241.9l-4.9 .5 9 3.9 4.9-.8z"/><path color="#79b00b" d="M335.2 242.4l-4.9-.8 9 4.4 4.9 .3z"/><path color="#84a50b" d="M330.3 241.6l-4.9-1.5 9 5.2 4.9 .7z"/><path color="#9abb0b" d="M325.4 240.1l-5-.4 9.1 5.8 4.9-.2z"/><path color="#bbdc16" d="M320.4 239.7l-4.8 2.7 9.1 5.6 4.8-2.5z"/><path color="#b0dc16" d="M315.6 242.4l-4.7 5 9 4.9 4.8-4.3z"/><path color="#a5dc16" d="M310.9 247.4l-4.7 5.1 9 4.2 4.7-4.4z"/><path color="#8fdc16" d="M306.2 252.5l-4.7 4.1-4.8 2.8 8.9 3.6 4.8-2.7 4.8-3.6z"/><path color="#84d116" d="M296.7 259.4l-4.8 1.6 8.9 3.6 4.8-1.6z"/><path color="#79bb16" d="M291.9 261l-4.9 .4 8.9 3.9 4.9-.7z"/><path color="#79b00b" d="M287 261.4l-5-1 9 4.6 4.9 .3z"/><path color="#84a50b" d="M282 260.4l-4.9-1.5 9 5.4 4.9 .7z"/><path color="#9abb0b" d="M277.1 258.9l-4.9-.1 9 5.9 4.9-.4z"/><path color="#bbdc16" d="M272.2 258.8l-4.8 3 9 5.5 4.8-2.6z"/><path color="#b0dc16" d="M267.4 261.8l-4.7 5.1 9 4.8 4.7-4.4z"/><path color="#9adc16" d="M262.7 266.9l-4.7 5.1 9 4.1 4.7-4.4z"/><path color="#8fdc16" d="M258 272l-4.8 3.9-4.8 2.7 9 3.6 4.8-2.6 4.8-3.5z"/><path color="#84d116" d="M248.4 278.6l-4.8 1.5 8.9 3.6 4.9-1.5z"/><path color="#79bb16" d="M243.6 280.1l-4.9 .2-.2 0 7.3 4 1.9 0 4.8-.6z"/><path color="#9ac616" d="M527.4 169.6l-4.8-.4 9 5.3 3.2-.2z"/><path color="#b0dc16" d="M522.6 169.2l-4.9 1.6-4.7 3.8 9 4.9 4.7-3.4 4.9-1.6z"/><path color="#a5dc16" d="M513 174.6l-4.8 4.6 9 4.3 4.8-4z"/><path color="#9adc16" d="M508.2 179.2l-4.7 3.9 9 3.9 4.7-3.5z"/><path color="#8fdc16" d="M503.5 183.1l-4.8 3-4.8 2 8.9 3.7 4.9-2 4.8-2.8z"/><path color="#84c616" d="M493.9 188.1l-4.9 1.1 9 3.8 4.8-1.2z"/><path color="#79bb16" d="M489 189.2l-4.9 0 9 4.2 4.9-.4z"/><path color="#84b00b" d="M484.1 189.2l-4.9-.7 9 4.8 4.9 .1z"/><path color="#8fbb0b" d="M479.2 188.5l-4.9-.2 9 5.2 4.9-.2z"/><path color="#b0dc16" d="M474.3 188.3l-4.8 1.8-4.8 3.9 9 4.8 4.8-3.4 4.8-1.9z"/><path color="#a5dc16" d="M464.7 194l-4.7 4.6 9 4.2 4.7-4z"/><path color="#9adc16" d="M460 198.6l-4.8 3.9 9 3.8 4.8-3.5z"/><path color="#8fdc16" d="M455.2 202.5l-4.8 2.9-4.8 1.9 9 3.6 4.8-1.9 4.8-2.7z"/><path color="#84c616" d="M445.6 207.3l-4.8 .9 8.9 3.8 4.9-1.1z"/><path color="#79bb16" d="M440.8 208.2l-5 0 9 4.2 4.9-.4z"/><path color="#84b00b" d="M435.8 208.2l-4.9-.8 9 4.9 4.9 .1z"/><path color="#8fbb0b" d="M430.9 207.4l-4.9-.1 9 5.3 4.9-.3z"/><path color="#b0dc16" d="M426 207.3l-4.8 2.1 9 5.2 4.8-2z"/><path color="#a5dc16" d="M421.2 209.4l-4.7 4 8.9 4.8 4.8-3.6z"/><path color="#9adc16" d="M416.5 213.4l-4.8 4.6-4.7 3.8 8.9 3.8 4.8-3.5 4.7-3.9z"/><path color="#8fdc16" d="M407 221.8l-4.8 2.8-4.9 1.8 9 3.6 4.8-1.8 4.8-2.6z"/><path color="#84c616" d="M397.3 226.4l-4.8 .8 8.9 3.9 4.9-1.1z"/><path color="#79bb0b" d="M392.5 227.2l-4.9-.1 9 4.3 4.8-.3z"/><path color="#84b00b" d="M387.6 227.1l-5-.7 9 4.9 5 .1z"/><path color="#8fbb0b" d="M382.6 226.4l-4.9 0 9.1 5.3 4.8-.4z"/><path color="#b0dc16" d="M377.7 226.4l-4.8 2.3 9 5.2 4.9-2.2z"/><path color="#a5dc16" d="M372.9 228.7l-4.7 4.1 9 4.8 4.7-3.7z"/><path color="#9adc16" d="M368.2 232.8l-4.7 4.5-4.8 3.8 9 3.7 4.7-3.3 4.8-3.9z"/><path color="#8fdc16" d="M358.7 241.1l-4.8 2.7-4.8 1.7 8.9 3.7 4.9-1.8 4.8-2.6z"/><path color="#84c616" d="M349.1 245.5l-4.9 .8 9 3.9 4.8-1z"/><path color="#79bb0b" d="M344.2 246.3l-4.9-.3 9 4.4 4.9-.2z"/><path color="#84b00b" d="M339.3 246l-4.9-.7 9 5 4.9 .1z"/><path color="#9ac60b" d="M334.4 245.3l-4.9 .2 9 5.4 4.9-.6z"/><path color="#b0dc16" d="M329.5 245.5l-4.8 2.5 9 5.2 4.8-2.3z"/><path color="#a5dc16" d="M324.7 248l-4.8 4.3 9 4.6 4.8-3.7z"/><path color="#9adc16" d="M319.9 252.3l-4.7 4.4 9 4.1 4.7-3.9z"/><path color="#8fdc16" d="M315.2 256.7l-4.8 3.6-4.8 2.7-4.8 1.6 9 3.7 4.8-1.7 4.8-2.5 4.8-3.3z"/><path color="#84c616" d="M300.8 264.6l-4.9 .7 9 3.9 4.9-.9z"/><path color="#79b00b" d="M295.9 265.3l-4.9-.3 9 4.4 4.9-.2z"/><path color="#84b00b" d="M291 265l-4.9-.7 9 5 4.9 .1z"/><path color="#9ac616" d="M286.1 264.3l-4.9 .4 9 5.3 4.9-.7z"/><path color="#b0dc16" d="M281.2 264.7l-4.8 2.6 9 5.2 4.8-2.5z"/><path color="#a5dc16" d="M276.4 267.3l-4.7 4.4 9 4.6 4.7-3.8z"/><path color="#9adc16" d="M271.7 271.7l-4.7 4.4 8.9 4 4.8-3.8z"/><path color="#8fdc16" d="M267 276.1l-4.8 3.5-4.8 2.6 8.9 3.6 4.8-2.4 4.8-3.3z"/><path color="#84dc16" d="M257.4 282.2l-4.9 1.5 9 3.7 4.8-1.6z"/><path color="#84c616" d="M252.5 283.7l-4.8 .6-1.9 0 7.4 4.1 3.4-.2 4.9-.8z"/><path color="#9ad116" d="M534.8 174.3l-3.2 .2 9 4.9 1.6-.3z"/><path color="#a5dc16" d="M531.6 174.5l-4.9 1.6-4.7 3.4 9 4.6 4.7-3 4.9-1.7z"/><path color="#9adc16" d="M522 179.5l-4.8 4-4.7 3.5 8.9 3.9 4.8-3.3 4.8-3.5z"/><path color="#8fdc16" d="M512.5 187l-4.8 2.8-4.9 2 9 3.6 4.8-1.9 4.8-2.6z"/><path color="#84d116" d="M502.8 191.8l-4.8 1.2 8.9 3.8 4.9-1.4z"/><path color="#84c616" d="M498 193l-4.9 .4 9 4.1 4.8-.7z"/><path color="#84bb0b" d="M493.1 193.4l-4.9-.1 9 4.5 4.9-.3z"/><path color="#8fc616" d="M488.2 193.3l-4.9 .2 9 5 4.9-.7z"/><path color="#a5dc16" d="M483.3 193.5l-4.8 1.9-4.8 3.4 9 4.6 4.8-3.1 4.8-1.8z"/><path color="#9adc16" d="M473.7 198.8l-4.7 4-4.8 3.5 9 3.8 4.7-3.1 4.8-3.6z"/><path color="#8fdc16" d="M464.2 206.3l-4.8 2.7-4.8 1.9 8.9 3.7 4.9-1.9 4.8-2.6z"/><path color="#84d116" d="M454.6 210.9l-4.9 1.1 9 3.9 4.8-1.3z"/><path color="#84bb16" d="M449.7 212l-4.9 .4 9 4.1 4.9-.6z"/><path color="#84bb0b" d="M444.8 212.4l-4.9-.1 9 4.6 4.9-.4z"/><path color="#8fc616" d="M439.9 212.3l-4.9 .3 9 5 4.9-.7z"/><path color="#b0dc16" d="M435 212.6l-4.8 2 9 5 4.8-2z"/><path color="#a5dc16" d="M430.2 214.6l-4.8 3.6 9 4.6 4.8-3.2z"/><path color="#9adc16" d="M425.4 218.2l-4.7 3.9-4.8 3.5 9 3.8 4.8-3.1 4.7-3.5z"/><path color="#8fdc16" d="M415.9 225.6l-4.8 2.6-4.8 1.8 9 3.7 4.8-1.8 4.8-2.5z"/><path color="#84d116" d="M406.3 230l-4.9 1.1 9 3.9 4.9-1.3z"/><path color="#84bb16" d="M401.4 231.1l-4.8 .3 8.9 4.2 4.9-.6z"/><path color="#84bb0b" d="M396.6 231.4l-5-.1 9 4.6 4.9-.3z"/><path color="#9ac616" d="M391.6 231.3l-4.8 .4 9 5 4.8-.8z"/><path color="#b0dc16" d="M386.8 231.7l-4.9 2.2 9.1 4.9 4.8-2.1z"/><path color="#a5dc16" d="M381.9 233.9l-4.7 3.7 9 4.5 4.8-3.3z"/><path color="#9adc16" d="M377.2 237.6l-4.8 3.9-4.7 3.3 8.9 3.8 4.8-3 4.8-3.5z"/><path color="#8fdc16" d="M367.7 244.8l-4.8 2.6-4.9 1.8 9 3.7 4.8-1.8 4.8-2.5z"/><path color="#84c616" d="M358 249.2l-4.8 1 8.9 3.8 4.9-1.1z"/><path color="#84bb16" d="M353.2 250.2l-4.9 .2 9 4.2 4.8-.6z"/><path color="#84bb0b" d="M348.3 250.4l-4.9-.1 9 4.6 4.9-.3z"/><path color="#9ac616" d="M343.4 250.3l-4.9 .6 9 4.9 4.9-.9z"/><path color="#b0dc16" d="M338.5 250.9l-4.8 2.3 9 4.9 4.8-2.3z"/><path color="#a5dc16" d="M333.7 253.2l-4.8 3.7 9 4.5 4.8-3.3z"/><path color="#9adc16" d="M328.9 256.9l-4.7 3.9-4.8 3.3 9 3.8 4.7-3 4.8-3.5z"/><path color="#8fdc16" d="M319.4 264.1l-4.8 2.5-4.8 1.7 8.9 3.7 4.9-1.7 4.8-2.4z"/><path color="#84c616" d="M309.8 268.3l-4.9 .9 9 3.9 4.8-1.1z"/><path color="#84bb16" d="M304.9 269.2l-4.9 .2 9 4.2 4.9-.5z"/><path color="#84bb0b" d="M300 269.4l-4.9-.1 9 4.7 4.9-.4z"/><path color="#9ad116" d="M295.1 269.3l-4.9 .7 9 5 4.9-1z"/><path color="#a5dc16" d="M290.2 270l-4.8 2.5-4.7 3.8 9 4.4 4.7-3.3 4.8-2.4z"/><path color="#9adc16" d="M280.7 276.3l-4.8 3.8 9 4.1 4.8-3.5z"/><path color="#8fdc16" d="M275.9 280.1l-4.8 3.3-4.8 2.4-4.8 1.6 9 3.7 4.8-1.7 4.8-2.3 4.8-2.9z"/><path color="#84c616" d="M261.5 287.4l-4.9 .8-3.4 .2 7.5 4.3 4.9-.5 4.9-1.1z"/><path color="#8fd116" d="M253.2 288.4l7.4 4.3 .1 0z"/><path color="#9ad116" d="M542.2 179.1l-1.6 .3 9 4.7 0-.1z"/><path color="#a5dc16" d="M540.6 179.4l-4.9 1.7-4.7 3 8.9 4.5 4.8-2.8 4.9-1.7z"/><path color="#9adc16" d="M531 184.1l-4.8 3.5-4.8 3.3 9 3.8 4.8-2.9 4.7-3.2z"/><path color="#8fdc16" d="M521.4 190.9l-4.8 2.6-4.8 1.9 8.9 3.8 4.9-2 4.8-2.5z"/><path color="#84d116" d="M511.8 195.4l-4.9 1.4 9 3.8 4.8-1.4z"/><path color="#84c616" d="M506.9 196.8l-4.8 .7-4.9 .3 9 4.4 4.8-.6 4.9-1z"/><path color="#8fc616" d="M497.2 197.8l-4.9 .7 9 4.7 4.9-1z"/><path color="#a5dc16" d="M492.3 198.5l-4.8 1.8-4.8 3.1 9 4.5 4.8-2.9 4.8-1.8z"/><path color="#9adc16" d="M482.7 203.4l-4.8 3.6-4.7 3.1 8.9 3.9 4.8-3 4.8-3.1z"/><path color="#8fdc16" d="M473.2 210.1l-4.8 2.6-4.9 1.9 9 3.7 4.8-1.9 4.8-2.4z"/><path color="#84d116" d="M463.5 214.6l-4.8 1.3 8.9 3.8 4.9-1.4z"/><path color="#84c616" d="M458.7 215.9l-4.9 .6-4.9 .4 9 4.4 4.9-.7 4.8-.9z"/><path color="#9ad116" d="M448.9 216.9l-4.9 .7 9 4.7 4.9-1z"/><path color="#a5e716" d="M444 217.6l-4.8 2 9 4.7 4.8-2z"/><path color="#a5dc16" d="M439.2 219.6l-4.8 3.2 9 4.4 4.8-2.9z"/><path color="#9adc16" d="M434.4 222.8l-4.7 3.5-4.8 3.1 8.9 3.8 4.8-2.9 4.8-3.1z"/><path color="#8fe716" d="M424.9 229.4l-4.8 2.5 8.9 3.7 4.8-2.4z"/><path color="#8fdc16" d="M420.1 231.9l-4.8 1.8 8.9 3.8 4.8-1.9z"/><path color="#84d116" d="M415.3 233.7l-4.9 1.3 9 3.8 4.8-1.3z"/><path color="#84c616" d="M410.4 235l-4.9 .6 9 4.1 4.9-.9z"/><path color="#8fc616" d="M405.5 235.6l-4.9 .3 9 4.5 4.9-.7z"/><path color="#9ad116" d="M400.6 235.9l-4.8 .8 9 4.7 4.8-1z"/><path color="#a5dc16" d="M395.8 236.7l-4.8 2.1-4.8 3.3 9 4.4 4.7-3 4.9-2.1z"/><path color="#9adc16" d="M386.2 242.1l-4.8 3.5-4.8 3 9 3.8 4.8-2.8 4.8-3.1z"/><path color="#8fe716" d="M376.6 248.6l-4.8 2.5 9 3.7 4.8-2.4z"/><path color="#8fdc16" d="M371.8 251.1l-4.8 1.8 8.9 3.7 4.9-1.8z"/><path color="#84d116" d="M367 252.9l-4.9 1.1 9 3.9 4.8-1.3z"/><path color="#84c616" d="M362.1 254l-4.8 .6 8.9 4.2 4.9-.9z"/><path color="#8fc616" d="M357.3 254.6l-4.9 .3 9 4.5 4.8-.6z"/><path color="#9ad116" d="M352.4 254.9l-4.9 .9 9 4.8 4.9-1.2z"/><path color="#a5dc16" d="M347.5 255.8l-4.8 2.3-4.8 3.3 9 4.3 4.8-3 4.8-2.1z"/><path color="#9adc16" d="M337.9 261.4l-4.8 3.5-4.7 3 8.9 3.8 4.8-2.8 4.8-3.2z"/><path color="#8fdc16" d="M328.4 267.9l-4.8 2.4-4.9 1.7 9 3.7 4.8-1.7 4.8-2.3z"/><path color="#84d116" d="M318.7 272l-4.8 1.1 8.9 3.9 4.9-1.3z"/><path color="#84c616" d="M313.9 273.1l-4.9 .5 9 4.2 4.8-.8z"/><path color="#8fc616" d="M309 273.6l-4.9 .4 9 4.5 4.9-.7z"/><path color="#9ad116" d="M304.1 274l-4.9 1 9 4.7 4.9-1.2z"/><path color="#a5dc16" d="M299.2 275l-4.8 2.4-4.7 3.3 8.9 4.3 4.8-3 4.8-2.3z"/><path color="#9adc16" d="M289.7 280.7l-4.8 3.5-4.8 2.9 9 3.8 4.8-2.7 4.7-3.2z"/><path color="#8fdc16" d="M280.1 287.1l-4.8 2.3-4.8 1.7 8.9 3.8 4.8-1.7 4.9-2.3z"/><path color="#84d116" d="M270.5 291.1l-4.9 1.1 9 3.9 4.8-1.2z"/><path color="#84c616" d="M265.6 292.2l-4.9 .5 9 4.2 4.9-.8z"/><path color="#8fd116" d="M260.7 292.7l-.1 0 7.4 4.4 1.7-.2z"/><path color="#a5e716" d="M549.6 184.1l-4.9 1.7 9 4.6 3.3-1.4z"/><path color="#a5dc16" d="M544.7 185.8l-4.8 2.8 9 4.3 4.8-2.5z"/><path color="#9adc16" d="M539.9 188.6l-4.7 3.2-4.8 2.9 8.9 3.9 4.8-2.8 4.8-2.9z"/><path color="#8fe716" d="M530.4 194.7l-4.8 2.5 8.9 3.7 4.8-2.3z"/><path color="#8fdc16" d="M525.6 197.2l-4.9 2 9 3.7 4.8-2z"/><path color="#8fd116" d="M520.7 199.2l-4.8 1.4 9 3.8 4.8-1.5z"/><path color="#84d116" d="M515.9 200.6l-4.9 1 9 4 4.9-1.2z"/><path color="#8fc616" d="M511 201.6l-4.8 .6 8.9 4.3 4.9-.9z"/><path color="#8fd116" d="M506.2 202.2l-4.9 1 9 4.5 4.8-1.2z"/><path color="#a5dc16" d="M501.3 203.2l-4.8 1.8-4.8 2.9 9 4.3 4.8-2.6 4.8-1.9z"/><path color="#9adc16" d="M491.7 207.9l-4.8 3.1-4.8 3 9 3.8 4.8-2.7 4.8-2.9z"/><path color="#8fe716" d="M482.1 214l-4.8 2.4 9 3.7 4.8-2.3z"/><path color="#8fdc16" d="M477.3 216.4l-4.8 1.9 8.9 3.8 4.9-2z"/><path color="#8fd116" d="M472.5 218.3l-4.9 1.4 9 3.9 4.8-1.5z"/><path color="#84d116" d="M467.6 219.7l-4.8 .9 8.9 4.1 4.9-1.1z"/><path color="#8fc616" d="M462.8 220.6l-4.9 .7 9 4.3 4.8-.9z"/><path color="#9ad116" d="M457.9 221.3l-4.9 1 9 4.5 4.9-1.2z"/><path color="#a5e716" d="M453 222.3l-4.8 2 9 4.5 4.8-2z"/><path color="#a5dc16" d="M448.2 224.3l-4.8 2.9 9 4.3 4.8-2.7z"/><path color="#9adc16" d="M443.4 227.2l-4.8 3.1-4.8 2.9 9 3.8 4.8-2.6 4.8-2.9z"/><path color="#8fe716" d="M433.8 233.2l-4.8 2.4 9 3.7 4.8-2.3z"/><path color="#8fdc16" d="M429 235.6l-4.8 1.9 9 3.7 4.8-1.9z"/><path color="#8fd116" d="M424.2 237.5l-4.8 1.3 8.9 3.9 4.9-1.5z"/><path color="#84d116" d="M419.4 238.8l-4.9 .9 9 4.1 4.8-1.1z"/><path color="#8fc616" d="M414.5 239.7l-4.9 .7 9 4.3 4.9-.9z"/><path color="#9ad116" d="M409.6 240.4l-4.8 1 9 4.6 4.8-1.3z"/><path color="#a5e716" d="M404.8 241.4l-4.9 2.1 9 4.5 4.9-2z"/><path color="#9adc16" d="M399.9 243.5l-4.7 3-4.8 3.1-4.8 2.8 8.9 3.9 4.8-2.7 4.8-2.9 4.8-2.7z"/><path color="#8fe716" d="M385.6 252.4l-4.8 2.4 8.9 3.7 4.8-2.2z"/><path color="#8fdc16" d="M380.8 254.8l-4.9 1.8 9 3.8 4.8-1.9z"/><path color="#8fd116" d="M375.9 256.6l-4.8 1.3 9 3.9 4.8-1.4z"/><path color="#84c616" d="M371.1 257.9l-4.9 .9 9 4.1 4.9-1.1z"/><path color="#8fc616" d="M366.2 258.8l-4.8 .6 8.9 4.4 4.9-.9z"/><path color="#9ad116" d="M361.4 259.4l-4.9 1.2 9 4.5 4.8-1.3z"/><path color="#a5e716" d="M356.5 260.6l-4.8 2.1 9 4.5 4.8-2.1z"/><path color="#9adc16" d="M351.7 262.7l-4.8 3-4.8 3.2-4.8 2.8 9 3.8 4.8-2.6 4.8-2.9 4.8-2.8z"/><path color="#8fe716" d="M337.3 271.7l-4.8 2.3 9 3.7 4.8-2.2z"/><path color="#8fdc16" d="M332.5 274l-4.8 1.7 8.9 3.8 4.9-1.8z"/><path color="#8fd116" d="M327.7 275.7l-4.9 1.3 9 3.9 4.8-1.4z"/><path color="#84c616" d="M322.8 277l-4.8 .8 8.9 4.1 4.9-1z"/><path color="#8fd116" d="M318 277.8l-4.9 .7 9 4.4 4.8-1z"/><path color="#9ad116" d="M313.1 278.5l-4.9 1.2 9 4.6 4.9-1.4z"/><path color="#a5e716" d="M308.2 279.7l-4.8 2.3 9 4.4 4.8-2.1z"/><path color="#9adc16" d="M303.4 282l-4.8 3-4.7 3.2-4.8 2.7 8.9 3.8 4.8-2.6 4.8-2.9 4.8-2.8z"/><path color="#8fe716" d="M289.1 290.9l-4.9 2.3 9 3.7 4.8-2.2z"/><path color="#8fdc16" d="M284.2 293.2l-4.8 1.7 9 3.7 4.8-1.7z"/><path color="#8fd116" d="M279.4 294.9l-4.8 1.2 8.9 3.9 4.9-1.4z"/><path color="#84c616" d="M274.6 296.1l-4.9 .8 9 4.1 4.8-1z"/><path color="#8fd116" d="M269.7 296.9l-1.7 .2 7.3 4.6 3.4-.7z"/><path color="#a5e716" d="M557 189l-3.3 1.4 9 4.3 1.7-.7z"/><path color="#9ae716" d="M553.7 190.4l-4.8 2.5 9 4.3 4.8-2.5z"/><path color="#9adc16" d="M548.9 192.9l-4.8 2.9-4.8 2.8 9 3.8 4.8-2.5 4.8-2.7z"/><path color="#9ae716" d="M539.3 198.6l-4.8 2.3 9 3.8 4.8-2.3z"/><path color="#8fdc16" d="M534.5 200.9l-4.8 2-4.8 1.5 8.9 3.9 4.9-1.6 4.8-2z"/><path color="#8fd116" d="M524.9 204.4l-4.9 1.2-4.9 .9 9 4.2 4.9-1.1 4.8-1.3z"/><path color="#9ad116" d="M515.1 206.5l-4.8 1.2 9 4.3 4.8-1.3z"/><path color="#a5e716" d="M510.3 207.7l-4.8 1.9 8.9 4.3 4.9-1.9z"/><path color="#9adc16" d="M505.5 209.6l-4.8 2.6-4.8 2.9-4.8 2.7 8.9 3.9 4.8-2.6 4.8-2.7 4.8-2.5z"/><path color="#9ae716" d="M491.1 217.8l-4.8 2.3 8.9 3.8 4.8-2.2z"/><path color="#8fdc16" d="M486.3 220.1l-4.9 2-4.8 1.5 9 3.8 4.8-1.6 4.8-1.9z"/><path color="#8fd116" d="M476.6 223.6l-4.9 1.1-4.8 .9 8.9 4.2 4.9-1.1 4.9-1.3z"/><path color="#9ad116" d="M466.9 225.6l-4.9 1.2 9 4.4 4.8-1.4z"/><path color="#a5e716" d="M462 226.8l-4.8 2 9 4.3 4.8-1.9z"/><path color="#9adc16" d="M457.2 228.8l-4.8 2.7-4.8 2.9-4.8 2.6 9 3.9 4.8-2.6 4.8-2.6 4.8-2.6z"/><path color="#9ae716" d="M442.8 237l-4.8 2.3 9 3.8 4.8-2.2z"/><path color="#8fdc16" d="M438 239.3l-4.8 1.9-4.9 1.5 9 3.8 4.8-1.5 4.9-1.9z"/><path color="#8fd116" d="M428.3 242.7l-4.8 1.1-4.9 .9 9 4.2 4.8-1.1 4.9-1.3z"/><path color="#9adc16" d="M418.6 244.7l-4.8 1.3 8.9 4.3 4.9-1.4z"/><path color="#a5e716" d="M413.8 246l-4.9 2 9 4.3 4.8-2z"/><path color="#9adc16" d="M408.9 248l-4.8 2.7-4.8 2.9 9 4 4.8-2.7 4.8-2.6z"/><path color="#9ae716" d="M399.3 253.6l-4.8 2.7-4.8 2.2 9 3.8 4.8-2.2 4.8-2.5z"/><path color="#8fdc16" d="M389.7 258.5l-4.8 1.9 9 3.7 4.8-1.8z"/><path color="#8fd116" d="M384.9 260.4l-4.8 1.4-4.9 1.1-4.9 .9 9 4.2 4.9-1.1 4.8-1.2 4.9-1.6z"/><path color="#9adc16" d="M370.3 263.8l-4.8 1.3 9 4.4 4.8-1.5z"/><path color="#a5e716" d="M365.5 265.1l-4.8 2.1 8.9 4.4 4.9-2.1z"/><path color="#9adc16" d="M360.7 267.2l-4.8 2.8-4.8 2.9 8.9 3.9 4.8-2.7 4.8-2.5z"/><path color="#9ae716" d="M351.1 272.9l-4.8 2.6 8.9 3.8 4.8-2.5z"/><path color="#8fe716" d="M346.3 275.5l-4.8 2.2 8.9 3.8 4.8-2.2z"/><path color="#8fdc16" d="M341.5 277.7l-4.9 1.8 9 3.8 4.8-1.8z"/><path color="#8fd116" d="M336.6 279.5l-4.8 1.4-4.9 1-4.8 1 8.9 4.3 4.9-1.2 4.9-1.2 4.8-1.5z"/><path color="#9adc16" d="M322.1 282.9l-4.9 1.4 9 4.4 4.8-1.5z"/><path color="#a5e716" d="M317.2 284.3l-4.8 2.1 9 4.4 4.8-2.1z"/><path color="#9adc16" d="M312.4 286.4l-4.8 2.8-4.8 2.9 9 4 4.8-2.7 4.8-2.6z"/><path color="#9ae716" d="M302.8 292.1l-4.8 2.6 9 3.8 4.8-2.4z"/><path color="#8fe716" d="M298 294.7l-4.8 2.2 9 3.8 4.8-2.2z"/><path color="#8fdc16" d="M293.2 296.9l-4.8 1.7 8.9 3.8 4.9-1.7z"/><path color="#8fd116" d="M288.4 298.6l-4.9 1.4-4.8 1-3.4 .7 7.5 4.6 4.8-1.2 4.9-1.2 4.8-1.5z"/><path color="#9adc16" d="M275.3 301.7l7.4 4.6 .1 0z"/><path color="#9ae716" d="M564.4 194l-1.7 .7-4.8 2.5-4.8 2.7-4.8 2.5-4.8 2.3 8.9 3.8 4.9-2.2 4.8-2.4 4.8-2.6 4.8-2.3 .1 0z"/><path color="#8fe716" d="M543.5 204.7l-4.8 2 8.9 3.8 4.8-2z"/><path color="#8fdc16" d="M538.7 206.7l-4.9 1.6 9 3.8 4.8-1.6z"/><path color="#8fd116" d="M533.8 208.3l-4.8 1.3-4.9 1.1 9 4.2 4.8-1.3 4.9-1.5z"/><path color="#9adc16" d="M524.1 210.7l-4.8 1.3 8.9 4.3 4.9-1.4z"/><path color="#9ae716" d="M519.3 212l-4.9 1.9-4.8 2.5-4.8 2.7-4.8 2.6-4.8 2.2 9 3.8 4.8-2.2 4.8-2.4 4.8-2.5 4.8-2.4 4.8-1.9z"/><path color="#8fe716" d="M495.2 223.9l-4.8 1.9 9 3.8 4.8-1.9z"/><path color="#8fdc16" d="M490.4 225.8l-4.8 1.6 8.9 3.9 4.9-1.7z"/><path color="#8fd116" d="M485.6 227.4l-4.9 1.3-4.9 1.1 9 4.2 4.9-1.3 4.8-1.4z"/><path color="#9adc16" d="M475.8 229.8l-4.8 1.4 9 4.3 4.8-1.5z"/><path color="#9ae716" d="M471 231.2l-4.8 1.9-4.8 2.6-4.8 2.6-4.8 2.6-4.8 2.2 8.9 3.8 4.8-2.2 4.8-2.4 4.8-2.5 4.9-2.4 4.8-1.9z"/><path color="#8fdc16" d="M447 243.1l-4.9 1.9-4.8 1.5 8.9 3.9 4.9-1.6 4.8-1.9z"/><path color="#8fd116" d="M437.3 246.5l-4.9 1.3-4.8 1.1 9 4.2 4.8-1.3 4.8-1.4z"/><path color="#9adc16" d="M427.6 248.9l-4.9 1.4 9 4.3 4.9-1.5z"/><path color="#9ae716" d="M422.7 250.3l-4.8 2-4.8 2.6-4.8 2.7-4.8 2.5-4.8 2.2 9 3.8 4.8-2.2 4.8-2.4 4.8-2.5 4.8-2.4 4.8-2z"/><path color="#8fdc16" d="M398.7 262.3l-4.8 1.8-4.9 1.6 9 3.8 4.8-1.5 4.9-1.9z"/><path color="#8fd116" d="M389 265.7l-4.8 1.2-4.9 1.1 9 4.2 4.8-1.3 4.9-1.4z"/><path color="#9adc16" d="M379.3 268l-4.8 1.5 8.9 4.3 4.9-1.6z"/><path color="#9ae716" d="M374.5 269.5l-4.9 2.1-4.8 2.5-4.8 2.7-4.8 2.5-4.8 2.2 9 3.8 4.8-2.2 4.8-2.3 4.8-2.6 4.8-2.4 4.8-2z"/><path color="#8fdc16" d="M350.4 281.5l-4.8 1.8-4.8 1.5 8.9 3.9 4.9-1.6 4.8-1.8z"/><path color="#8fd116" d="M340.8 284.8l-4.9 1.2-4.9 1.2 9 4.2 4.9-1.4 4.8-1.3z"/><path color="#9adc16" d="M331 287.2l-4.8 1.5 9 4.2 4.8-1.5z"/><path color="#9ae716" d="M326.2 288.7l-4.8 2.1-4.8 2.6-4.8 2.7-4.8 2.4-4.8 2.2 8.9 3.8 4.8-2.1 4.8-2.4 4.9-2.5 4.8-2.5 4.8-2.1z"/><path color="#8fdc16" d="M302.2 300.7l-4.9 1.7-4.8 1.5 8.9 3.9 4.9-1.5 4.8-1.8z"/><path color="#8fd116" d="M292.5 303.9l-4.9 1.2 9 4.1 4.8-1.4z"/><path color="#8fdc16" d="M287.6 305.1l-4.8 1.2 8.9 4.2 4.9-1.3z"/><path color="#9adc16" d="M282.8 306.3l-.1 0 7.4 4.7 1.6-.5z"/><path color="#9ae716" d="M571.8 199l-.1 0-4.8 2.3-4.8 2.6-4.8 2.4-4.9 2.2-4.8 2 9 3.8 4.8-1.9 4.8-2.2 4.8-2.4 4.8-2.4 3.4-1.6z"/><path color="#8fdc16" d="M547.6 210.5l-4.8 1.6-4.9 1.5-4.8 1.3 9 4 4.8-1.4 4.8-1.5 4.9-1.7z"/><path color="#9adc16" d="M533.1 214.9l-4.9 1.4 9 4.2 4.9-1.6z"/><path color="#9ae716" d="M528.2 216.3l-4.8 1.9-4.8 2.4-4.8 2.5-4.8 2.4-4.8 2.2-4.8 1.9 8.9 3.9 4.8-2 4.9-2.1 4.8-2.3 4.8-2.4 4.8-2.3 4.8-1.9z"/><path color="#8fdc16" d="M499.4 229.6l-4.9 1.7-4.8 1.4-4.9 1.3 9 4.1 4.8-1.5 4.9-1.5 4.8-1.6z"/><path color="#9adc16" d="M484.8 234l-4.8 1.5 9 4.2 4.8-1.6z"/><path color="#9ae716" d="M480 235.5l-4.8 1.9-4.9 2.4-4.8 2.5-4.8 2.4-4.8 2.2 9 3.8 4.8-2.1 4.8-2.3 4.8-2.4 4.8-2.3 4.9-1.9z"/><path color="#9adc16" d="M455.9 246.9l-4.8 1.9 8.9 3.8 4.9-1.9z"/><path color="#8fdc16" d="M451.1 248.8l-4.9 1.6-4.8 1.4-4.8 1.3 8.9 4.1 4.9-1.4 4.8-1.5 4.8-1.7z"/><path color="#9adc16" d="M436.6 253.1l-4.9 1.5 9 4.2 4.8-1.6z"/><path color="#9ae716" d="M431.7 254.6l-4.8 2-4.8 2.4-4.8 2.5-4.8 2.4-4.8 2.2 8.9 3.8 4.8-2.1 4.8-2.3 4.8-2.4 4.9-2.3 4.8-2z"/><path color="#8fdc16" d="M407.7 266.1l-4.9 1.9-4.8 1.5-4.9 1.4-4.8 1.3 9 4.1 4.8-1.4 4.8-1.5 4.9-1.6 4.8-1.9z"/><path color="#9adc16" d="M388.3 272.2l-4.9 1.6 9 4.2 4.9-1.7z"/><path color="#9ae716" d="M383.4 273.8l-4.8 2-4.8 2.4-4.8 2.6-4.8 2.3-4.8 2.2 8.9 3.8 4.9-2.1 4.8-2.3 4.8-2.4 4.8-2.3 4.8-2z"/><path color="#8fdc16" d="M359.4 285.3l-4.8 1.8-4.9 1.6-4.8 1.3-4.9 1.4 9 4.1 4.8-1.5 4.9-1.4 4.8-1.7 4.8-1.8z"/><path color="#9adc16" d="M340 291.4l-4.8 1.5 9 4.2 4.8-1.6z"/><path color="#9ae716" d="M335.2 292.9l-4.8 2.1-4.8 2.5-4.9 2.5-4.8 2.4-4.8 2.1 9 3.8 4.8-2.1 4.8-2.3 4.8-2.4 4.8-2.3 4.9-2.1z"/><path color="#8fdc16" d="M311.1 304.5l-4.8 1.8-4.9 1.5-4.8 1.4-4.9 1.3 9 4.1 4.9-1.4 4.8-1.5 4.8-1.6 4.9-1.8z"/><path color="#9adc16" d="M291.7 310.5l-1.6 .5 7.4 4.7 3.2-1.1z"/><path color="#9ae716" d="M579.2 203.8l-3.4 1.6-4.8 2.4-4.8 2.4-4.8 2.2-4.8 1.9 7.1 3.1 4.9-2 4.8-2.1 4.8-2.3 4.8-2.3 2.1-1z"/><path color="#8fdc16" d="M556.6 214.3l-4.9 1.7-4.8 1.5-4.8 1.4 7.1 3.3 4.9-1.5 4.8-1.6 4.8-1.7z"/><path color="#9adc16" d="M542.1 218.9l-4.9 1.6 7.2 3.3 4.8-1.6z"/><path color="#9ae716" d="M537.2 220.5l-4.8 1.9-4.8 2.3-4.8 2.4-4.8 2.3-4.9 2.1-4.8 2 7.2 3 4.8-1.9 4.8-2.1 4.8-2.3 4.9-2.3 4.8-2.2 4.8-1.9z"/><path color="#8fdc16" d="M508.3 233.5l-4.8 1.6-4.9 1.5-4.8 1.5 7.2 3.2 4.8-1.5 4.8-1.6 4.9-1.7z"/><path color="#9adc16" d="M493.8 238.1l-4.8 1.6 7.1 3.3 4.9-1.7z"/><path color="#9ae716" d="M489 239.7l-4.9 1.9-4.8 2.3-4.8 2.4-4.8 2.3-4.8 2.1-4.9 1.9 7.2 3.1 4.8-1.9 4.9-2.1 4.8-2.3 4.8-2.3 4.8-2.2 4.8-1.9z"/><path color="#8fdc16" d="M460 252.6l-4.8 1.7-4.8 1.5-4.9 1.4 7.2 3.3 4.8-1.5 4.9-1.6 4.8-1.7z"/><path color="#9adc16" d="M445.5 257.2l-4.8 1.6 7.2 3.3 4.8-1.6z"/><path color="#9ae716" d="M440.7 258.8l-4.8 2-4.9 2.3-4.8 2.4-4.8 2.3-4.8 2.1 7.2 3.1 4.8-2.1 4.8-2.3 4.8-2.3 4.8-2.2 4.9-2z"/><path color="#9adc16" d="M416.6 269.9l-4.8 1.9 7.1 3.1 4.9-1.9z"/><path color="#8fdc16" d="M411.8 271.8l-4.9 1.6-4.8 1.5-4.8 1.4 7.1 3.3 4.9-1.5 4.8-1.6 4.8-1.6z"/><path color="#9adc16" d="M397.3 276.3l-4.9 1.7 7.2 3.3 4.8-1.7z"/><path color="#9ae716" d="M392.4 278l-4.8 2-4.8 2.3-4.8 2.4-4.8 2.3-4.9 2.1 7.2 3.1 4.8-2.1 4.8-2.2 4.9-2.4 4.8-2.2 4.8-2z"/><path color="#8fdc16" d="M368.3 289.1l-4.8 1.8-4.8 1.7-4.9 1.4-4.8 1.5 7.2 3.2 4.8-1.5 4.8-1.5 4.9-1.7 4.8-1.8z"/><path color="#9adc16" d="M349 295.5l-4.8 1.6 7.1 3.4 4.9-1.8z"/><path color="#9ae716" d="M344.2 297.1l-4.9 2.1-4.8 2.3-4.8 2.4-4.8 2.3-4.8 2.1 7.1 3 4.9-2 4.8-2.2 4.8-2.4 4.8-2.2 4.8-2z"/><path color="#8fdc16" d="M320.1 308.3l-4.9 1.8-4.8 1.6-4.8 1.5 7.1 3.2 4.9-1.6 4.8-1.6 4.8-1.9z"/><path color="#9adc16" d="M305.6 313.2l-4.9 1.4-3.2 1.1 5.9 3.8 4.5-1.6 4.8-1.5z"/></g><path fill="#ff0a0a" fill-rule="evenodd" d="M417.5 51.6 410.5 46.8 408.9 44.8 408.8 43.3 417.2 39.8 423.2 40.1 433.3 42.5 445.6 47 461.3 54.1 467.2 56.1 468.6 57.3 468.8 59.1 466.9 60.2 467.4 61.7 467 62.5 462.1 64.6 459.6 65 455.5 64.7 453.1 65.5 448 65.2 445.1 64.4 441.2 62.1 426.8 56.1 417.5 51.6ZM369.7 70.6 362.6 65.8 361.1 63.8 361 62.3 369.4 58.8 375.3 59.1 385.5 61.5 397.8 66 413.4 73.1 419.4 75.1 420.8 76.3 420.9 78.1 419.1 79.2 419.6 80.7 419.1 81.5 414.3 83.6 411.8 84 407.7 83.7 405.2 84.5 400.2 84.2 397.2 83.4 393.3 81.1 379 75.1 369.7 70.6ZM321.9 89.6 314.8 84.8 313.3 82.8 313.1 81.3 321.6 77.8 327.5 78.1 337.6 80.5 350 85 365.6 92.1 371.5 94.1 372.9 95.3 373.1 97.1 371.2 98.2 371.8 99.7 371.3 100.5 366.4 102.6 363.9 103 359.8 102.7 357.4 103.5 352.3 103.2 349.4 102.4 345.5 100.1 331.2 94.1 321.9 89.6ZM274 108.6 267 103.8 265.4 101.8 265.3 100.3 273.7 96.8 279.7 97.1 289.8 99.5 302.2 104 317.8 111.1 323.7 113.1 325.1 114.3 325.3 116.1 323.4 117.2 324 118.7 323.5 119.5 318.6 121.6 316.1 122 312 121.7 309.6 122.5 304.5 122.2 301.6 121.4 297.7 119.1 283.3 113.1 274 108.6ZM226.2 127.6 219.1 122.8 217.6 120.8 217.5 119.3 225.9 115.8 231.9 116.1 242 118.5 254.3 123 270 130.1 275.9 132.1 277.3 133.3 277.5 135.1 275.6 136.2 276.1 137.7 275.7 138.5 270.8 140.6 268.3 141 264.2 140.7 261.8 141.5 256.7 141.2 253.8 140.4 249.9 138.1 235.5 132.1 226.2 127.6ZM178.4 146.6 171.3 141.8 169.8 139.8 169.7 138.3 178.1 134.8 184 135.1 194.2 137.5 206.5 142 222.1 149.1 228.1 151.1 229.4 152.3 229.6 154.1 227.8 155.2 228.3 156.7 227.8 157.5 223 159.6 220.4 160 216.4 159.7 213.9 160.5 208.8 160.2 205.9 159.4 202 157.1 187.7 151.1 178.4 146.6Z"/></g>
<path fill="none" stroke="#333" stroke-width="2" d="M97 365.4L86.1 81.8M97 365.4h-13M95.7 330h-13M94.3 294.5h-13M92.9 259.1h-13M91.6 223.6h-13M90.2 188.2h-13M88.8 152.7h-13M87.5 117.2h-13M86.1 81.8h-13M96.4 347.7h-8M95 312.3h-8M93.6 276.8h-8M92.3 241.3h-8M90.9 205.9h-8M89.5 170.4h-8M88.1 135h-8M86.8 99.5h-8M127.1 384L120.6 386.6M164 406.7L157.5 409.3M201 429.4L194.5 432M237.9 452.2L231.4 454.7M274.8 474.9L268.3 477.5M108.7 372.6L105 374.1M145.6 395.3L141.9 396.8M182.5 418.1L178.8 419.5M219.4 440.8L215.7 442.3M256.3 463.5L252.6 465M293.3 486.3L289.6 487.7M582.7 388.5v7M538.9 405.9v7M495 423.3v7M451.1 440.8v7M407.2 458.2v7M363.3 475.6v7M319.5 493.1v7M560.8 397.2v4M516.9 414.6v4M473 432v4M429.2 449.5v4M385.3 466.9v4M341.4 484.3v4"/><path fill="none" stroke="#2a3a10" stroke-width="1.3" d="M97 365.4 310.3 496.7 591.9 384.8"/><text x="84" y="372.4" font-size="19.5" font-family="DejaVu Sans, sans-serif" fill="#3c3c3c" text-anchor="end" textLength="40.1" lengthAdjust="spacingAndGlyphs">-10</text><text x="82.7" y="337" font-size="19.5" font-family="DejaVu Sans, sans-serif" fill="#3c3c3c" text-anchor="end" textLength="26.3" lengthAdjust="spacingAndGlyphs">-8</text><text x="81.3" y="301.5" font-size="19.5" font-family="DejaVu Sans, sans-serif" fill="#3c3c3c" text-anchor="end" textLength="26.3" lengthAdjust="spacingAndGlyphs">-6</text><text x="79.9" y="266.1" font-size="19.5" font-family="DejaVu Sans, sans-serif" fill="#3c3c3c" text-anchor="end" textLength="26.3" lengthAdjust="spacingAndGlyphs">-4</text><text x="78.6" y="230.6" font-size="19.5" font-family="DejaVu Sans, sans-serif" fill="#3c3c3c" text-anchor="end" textLength="26.3" lengthAdjust="spacingAndGlyphs">-2</text><text x="77.2" y="195.2" font-size="19.5" font-family="DejaVu Sans, sans-serif" fill="#3c3c3c" text-anchor="end" textLength="13.8" lengthAdjust="spacingAndGlyphs">0</text><text x="75.8" y="159.7" font-size="19.5" font-family="DejaVu Sans, sans-serif" fill="#3c3c3c" text-anchor="end" textLength="13.8" lengthAdjust="spacingAndGlyphs">2</text><text x="74.5" y="124.2" font-size="19.5" font-family="DejaVu Sans, sans-serif" fill="#3c3c3c" text-anchor="end" textLength="13.8" lengthAdjust="spacingAndGlyphs">4</text><text x="73.1" y="88.8" font-size="19.5" font-family="DejaVu Sans, sans-serif" fill="#3c3c3c" text-anchor="end" textLength="13.8" lengthAdjust="spacingAndGlyphs">6</text><text x="120.3" y="402.5" font-size="19.5" font-family="DejaVu Sans, sans-serif" fill="#3c3c3c" text-anchor="end" textLength="40.1" lengthAdjust="spacingAndGlyphs">-20</text><text x="157.2" y="425.2" font-size="19.5" font-family="DejaVu Sans, sans-serif" fill="#3c3c3c" text-anchor="end" textLength="13.8" lengthAdjust="spacingAndGlyphs">0</text><text x="194.2" y="447.9" font-size="19.5" font-family="DejaVu Sans, sans-serif" fill="#3c3c3c" text-anchor="end" textLength="27.6" lengthAdjust="spacingAndGlyphs">20</text><text x="231.1" y="470.7" font-size="19.5" font-family="DejaVu Sans, sans-serif" fill="#3c3c3c" text-anchor="end" textLength="27.6" lengthAdjust="spacingAndGlyphs">40</text><text x="268" y="493.4" font-size="19.5" font-family="DejaVu Sans, sans-serif" fill="#3c3c3c" text-anchor="end" textLength="27.6" lengthAdjust="spacingAndGlyphs">60</text><text x="587" y="416.5" font-size="19.5" font-family="DejaVu Sans, sans-serif" fill="#3c3c3c" text-anchor="middle" textLength="40.1" lengthAdjust="spacingAndGlyphs">-30</text><text x="543.2" y="433.9" font-size="19.5" font-family="DejaVu Sans, sans-serif" fill="#3c3c3c" text-anchor="middle" textLength="40.1" lengthAdjust="spacingAndGlyphs">-20</text><text x="499.3" y="451.3" font-size="19.5" font-family="DejaVu Sans, sans-serif" fill="#3c3c3c" text-anchor="middle" textLength="40.1" lengthAdjust="spacingAndGlyphs">-10</text><text x="452.9" y="468.8" font-size="19.5" font-family="DejaVu Sans, sans-serif" fill="#3c3c3c" text-anchor="middle" textLength="13.8" lengthAdjust="spacingAndGlyphs">0</text><text x="409" y="486.2" font-size="19.5" font-family="DejaVu Sans, sans-serif" fill="#3c3c3c" text-anchor="middle" textLength="27.6" lengthAdjust="spacingAndGlyphs">10</text><text x="365.1" y="503.6" font-size="19.5" font-family="DejaVu Sans, sans-serif" fill="#3c3c3c" text-anchor="middle" textLength="27.6" lengthAdjust="spacingAndGlyphs">20</text><text x="321.3" y="521.1" font-size="19.5" font-family="DejaVu Sans, sans-serif" fill="#3c3c3c" text-anchor="middle" textLength="27.6" lengthAdjust="spacingAndGlyphs">30</text>
<text transform="translate(31.5 214) rotate(-90)" text-anchor="middle" font-size="33" font-family="DejaVu Sans Mono, monospace" fill="#1a1a1a" textLength="215" lengthAdjust="spacingAndGlyphs">Real(Q(x,t))</text>
<text x="140" y="470" font-size="30" font-family="DejaVu Sans Mono, monospace" fill="#1a1a1a" text-anchor="middle">t</text>
<text x="456" y="517" font-size="30" font-family="DejaVu Sans Mono, monospace" fill="#1a1a1a" text-anchor="middle">x</text>
<text x="305" y="561" font-size="30" font-family="Liberation Serif, serif" font-weight="bold" fill="#000" text-anchor="middle" textLength="92" lengthAdjust="spacingAndGlyphs">&#920;=0.5</text>
<g filter="url(#fb1)"><path fill="#0a0aff" d="M108.5 960.2 333.6 1106.9 630.4 986.9 405.3 840.2Z"/><path fill="#0a2be2" fill-rule="evenodd" d="M333.6 1106.9 108.5 960.2 300.5 882.6 405.3 840.2 483.2 891 476.5 888.4 472.3 888.2 451.5 896.4 449.8 897.4 450.5 898.3 477.2 911 494.3 918.1 506.1 919.7 519.2 914.4 630.4 986.9 333.6 1106.9ZM401.9 919.7 428 931.9 443.9 938.4 455.6 940.1 468.9 934.7 466.7 930.3 463.5 928 447.2 919.8 422.9 908.9 418.7 909.6 400.2 917.2 399.4 918.1 401.9 919.7ZM350.8 939.7 377.1 952 393.5 958.8 405.4 960.4 418.5 954.9 416.2 950.5 412.9 948.3 396.6 940.1 372.5 929.2 368.2 930 350.2 937.3 348.9 938.3 350.8 939.7ZM301.7 960.8 327.7 972.9 343.1 979.2 354.9 980.8 368.1 975.3 366 971.1 362.7 968.8 346.6 960.7 322.1 949.6 317.7 950.4 299.2 958 298.7 959 301.7 960.8ZM250.7 980.8 276.8 993 292.7 999.6 304.4 1001.2 317.7 995.8 315.5 991.4 312.3 989.1 296 980.9 271.7 970 267.5 970.7 249 978.3 248.2 979.3 250.7 980.8ZM199.6 1000.8 225.9 1013.2 242.3 1019.9 254.2 1021.5 267.3 1016 265 1011.6 261.7 1009.4 245.4 1001.2 221.3 990.3 217 991.1 199 998.4 197.7 999.5 199.6 1000.8Z"/><path fill="#137277" fill-rule="evenodd" d="M333.6 1106.9 108.5 960.2 300.5 882.6 405.3 840.2 480.7 889.4 475.8 887.9 471.9 888.2 450.9 896.6 449.4 897.5 450 898.3 476.4 910.7 494 918.2 502.5 919.7 509.5 920.1 520.1 915.9 520.2 915.1 630.4 986.9 333.6 1106.9ZM521.1 921.2 521.7 920.8 520.6 920.6 521.1 921.2ZM400.9 919.4 427.2 931.6 443.6 938.6 451.7 940 459 940.5 469.8 936.2 469.1 933 466.3 929.4 449.7 920.9 423.2 908.8 419.3 909.4 400.2 917.1 399 918.1 400.9 919.4ZM470.5 941.6 471.3 941.1 470.1 941 470.5 941.6ZM349.7 939.3 376.3 951.8 393.2 958.9 401.3 960.4 408.4 960.9 419.4 956.4 418.7 953.4 415.9 949.7 398.8 941 372.7 929.1 369.1 929.7 350.7 937.1 348.6 938.3 349.7 939.3ZM419.9 961.9 420.9 961.5 419.6 961.5 419.9 961.9ZM300.8 960.5 342.8 979.3 357.9 981.3 369 976.8 368.2 973.6 365.5 970.1 348.2 961.3 322.4 949.5 318.3 950.2 298.9 958.1 298.3 959 300.8 960.5ZM369.8 982.3 370.5 981.9 369.4 981.7 369.8 982.3ZM249.7 980.5 276 992.7 292.4 999.7 300.5 1001.1 307.8 1001.7 318.6 997.3 317.9 994.1 315.1 990.5 298.5 982 272 969.9 268.1 970.5 249 978.3 247.8 979.2 249.7 980.5ZM319.3 1002.7 320.1 1002.3 318.9 1002.1 319.3 1002.7ZM198.5 1000.4 225.1 1012.9 242 1020.1 250.1 1021.5 257.2 1022 268.2 1017.5 267.5 1014.5 264.7 1010.9 247.6 1002.1 221.5 990.2 217.9 990.8 199.5 998.2 197.4 999.4 198.5 1000.4ZM268.7 1023.1 269.7 1022.6 268.4 1022.6 268.7 1023.1Z"/><path fill="#1c902e" fill-rule="evenodd" d="M333.6 1106.9 108.5 960.2 300.5 882.6 405.3 840.2 478.5 887.9 474.9 887.4 471.5 888.3 450.6 896.7 449.1 897.5 449.4 898.1 478.1 911.6 494.6 918.6 504.5 920.3 514.5 920.5 519.7 918.9 521.3 915.8 525 918.2 521.6 919.6 518.8 919.8 518.5 920.7 516.8 921.6 508.2 924.2 513.9 923.7 522.7 921.7 526.5 919.2 630.4 986.9 333.6 1106.9ZM458 944.6 463.5 944.1 472.2 942.1 477.6 938.4 479.2 936.1 472.1 939.7 468.1 940 468.2 941 466.3 942.1 458 944.6ZM400 919.1 443.3 938.7 453.2 940.6 462.8 940.9 468 940 469.7 938.9 470.7 937.1 470.2 933.3 466.6 929.2 423.1 908.6 419.8 909.1 400.1 917.1 398.6 918.1 400 919.1ZM350.9 940.1 392.9 959.1 406.2 961.3 413.1 961.3 417.5 960.4 417.9 961.2 416.3 962.2 407.4 964.9 413.1 964.5 422 962.4 426.8 959.1 428.8 956.7 428.1 956.4 421.6 960.1 417.8 960.5 420 958.4 420.4 955.4 419.4 953.1 416.2 949.6 397.8 940.4 372.4 928.9 360 933.1 348.9 937.9 348.3 938.6 350.9 940.1ZM357.4 985.3 362.7 984.8 371.5 982.8 376.8 979.1 378.4 976.9 371.9 980.2 367.6 980.9 367.3 981.7 365.8 982.6 357.4 985.3ZM299.8 960.1 342.8 979.5 352.4 981.4 362.1 981.7 365.4 981.3 368.5 980 369.9 977.8 369.4 974.1 365.8 970 322.3 949.3 318.8 950 298.9 958.1 297.9 959 299.8 960.1ZM306.8 1005.7 312.3 1005.2 321 1003.2 326.4 999.5 328 997.2 320.9 1000.8 316.9 1001.2 317 1002.1 315.1 1003.2 306.8 1005.7ZM248.8 980.2 292.1 999.8 302 1001.7 311.6 1002.1 316.8 1001.1 318.5 1000 319.5 998.2 319 994.5 315.4 990.4 271.9 969.7 268.6 970.3 248.9 978.2 247.4 979.2 248.8 980.2ZM199.7 1001.2 241.7 1020.2 255 1022.4 261.9 1022.4 266.3 1021.5 266.7 1022.3 265.1 1023.3 256.2 1026 261.9 1025.6 270.8 1023.5 275.6 1020.3 277.6 1017.8 276.9 1017.5 270.4 1021.2 266.6 1021.6 268.7 1019.5 269.2 1016.5 268.2 1014.2 265 1010.7 246.6 1001.5 221.2 990 208.8 994.2 197.7 999 197.1 999.7 199.7 1001.2Z"/><path fill="#239d19" fill-rule="evenodd" d="M333.6 1106.9 228.4 1038.4 229 1037 228.6 1036 227.3 1035.9 226 1036.8 108.5 960.2 300.5 882.6 405.3 840.2 477.5 887.3 474.8 887.3 470.6 888.6 450.3 896.8 448.9 897.5 449.1 898.1 493.5 918.4 506.3 920.8 512.9 920.9 517.3 920.1 517.2 920.8 515.1 921.7 504.5 923.9 503.4 924.4 503.8 924.7 508.7 924.9 516 923.8 523.2 922 527 919.5 630.4 986.9 333.6 1106.9ZM519.8 919.3 521.3 917.9 522 916.2 524.4 917.8 519.8 919.3ZM400.5 919.4 443.1 938.8 455.9 941.2 462.8 941.3 466.9 940.5 466.7 941.2 464.9 942 453.9 944.3 453 944.8 453.7 945.2 461.6 944.9 473 942.3 478.9 938.2 481 935.2 480.6 934.1 479.2 934 473.7 938.4 469 939.6 471.1 937.9 471.5 934.7 470.4 932.7 466.8 929.2 423 908.4 410.7 912.6 399.1 917.6 398.5 918.3 400.5 919.4ZM349.5 939.5 392.7 959.1 405.4 961.6 412.3 961.6 416.5 960.8 416.4 961.5 414.7 962.3 403.4 964.7 402.7 965.2 403.3 965.5 411.2 965.2 422.5 962.7 428.4 958.7 430.6 955.7 430.4 954.6 429 954.4 423.2 958.8 418.6 960 420.7 958.3 421.1 955.3 420 953 416.4 949.6 372.6 928.8 369.3 929.5 349.1 937.7 348 938.5 349.5 939.5ZM298.4 959.5 342.3 979.5 355.1 981.9 361.7 982 366.1 981.2 366 981.9 364.2 982.7 352.9 985.1 352.2 985.5 352.9 985.9 360.8 985.6 372 983.1 377.9 979.1 380.2 976.1 379.8 974.8 378.5 974.8 372.7 979.2 368.2 980.3 370.4 978.6 370.7 975.6 369.7 973.6 366 969.9 322.1 949.1 318.8 949.9 299.4 957.8 297.7 958.7 298.4 959.5ZM249.3 980.5 291.9 999.9 304.7 1002.3 311.6 1002.4 315.7 1001.6 315.5 1002.3 313.7 1003.1 302.7 1005.4 301.8 1005.9 302.5 1006.3 310.4 1006 321.8 1003.4 327.7 999.4 329.8 996.4 329.4 995.2 328 995.2 322.5 999.5 317.8 1000.7 319.9 999 320.3 995.8 319.2 993.8 315.6 990.3 271.8 969.5 259.5 973.7 247.9 978.7 247.3 979.4 249.3 980.5ZM198.3 1000.6 241.5 1020.2 254.2 1022.7 261.1 1022.7 265.3 1022 265.2 1022.6 263.5 1023.4 252.2 1025.8 251.4 1026.3 252.1 1026.6 260 1026.3 271.3 1023.9 277.2 1019.8 279.4 1016.8 279.2 1015.7 277.7 1015.5 272 1019.9 267.4 1021.1 269.5 1019.4 269.9 1016.4 268.8 1014.2 265.2 1010.7 221.4 989.9 218.1 990.6 197.9 998.9 196.8 999.6 198.3 1000.6Z"/><path fill="#2ca714" fill-rule="evenodd" d="M333.6 1106.9 228.9 1038.7 229.8 1036.7 229.2 1035.5 227.2 1035.3 225.4 1036.4 108.5 960.2 300.5 882.6 405.3 840.2 476.9 886.9 473.1 887.6 460.4 892.5 449.2 897.3 448.6 897.6 449 898.1 493.4 918.4 505.2 921.1 512.7 921.3 515.8 920.7 512.4 922.1 502.9 923.8 502 924.4 503 925 511 924.9 524.1 922.3 527.4 919.8 630.4 986.9 333.6 1106.9ZM520.9 918.6 522.4 917.8 522.8 916.8 523.9 917.5 520.9 918.6ZM399 918.7 443 938.8 455 941.5 462.6 941.7 465.4 941.1 462 942.4 452.4 944.2 451.6 944.8 452.9 945.5 460.9 945.3 473.6 942.7 479.9 938 481.8 935 481.1 933.5 478.8 933.5 473.9 937.6 470.5 939 472.2 937.7 472.2 934.6 471.1 932.8 466.9 929.1 422.8 908.3 399.5 917.3 398.2 918 399 918.7ZM349.9 939.7 392.6 959.2 404.8 961.8 412.1 962.1 415 961.4 411.6 962.8 401.9 964.6 401.2 965.3 402.5 965.9 410.7 965.6 423.4 963 429.4 958.5 431.4 955.4 430.7 953.9 428.6 953.8 423.5 958 420.1 959.4 421.8 958.2 421.7 954.8 416.5 949.5 372.4 928.7 348.5 938 347.8 938.6 349.9 939.7ZM298.9 959.8 342.2 979.5 354 982.2 361.5 982.5 364.6 981.8 361.2 983.2 351.7 984.9 350.8 985.6 352.1 986.2 360.2 986 372.9 983.5 379.1 978.7 381 975.8 380.3 974.2 378.1 974.2 373.1 978.4 369.7 979.7 371.5 978.4 371.4 975.4 370.3 973.6 366.1 969.9 322 949 298.3 958.3 297.4 959 298.9 959.8ZM247.8 979.9 291.8 999.9 303.8 1002.6 311.4 1002.8 314.2 1002.2 310.8 1003.6 301.2 1005.3 300.4 1005.9 301.7 1006.6 309.7 1006.4 322.4 1003.8 328.7 999.1 330.6 996.2 329.9 994.6 327.6 994.6 322.7 998.7 319.3 1000.1 321 998.9 321 995.7 319.9 993.9 315.7 990.3 271.6 969.4 248.3 978.4 247 979.1 247.8 979.9ZM198.7 1000.8 241.4 1020.3 253.6 1023 260.9 1023.2 263.8 1022.5 260.4 1023.9 250.7 1025.7 250 1026.4 251.3 1027 259.5 1026.7 272.2 1024.1 278.2 1019.6 280.2 1016.5 279.5 1015 277.4 1014.9 272.3 1019.1 268.9 1020.5 270.6 1019.3 270.5 1015.9 265.3 1010.6 221.2 989.8 197.3 999.1 196.6 999.7 198.7 1000.8Z"/><path fill="#59c417" fill-rule="evenodd" d="M333.6 1106.9 229.3 1039 230.4 1036.8 229.7 1035.3 227.5 1034.8 224.9 1036.1 108.5 960.2 300.5 882.6 405.3 840.2 476.6 886.6 459.8 892.7 449 897.4 448.7 898 493.3 918.5 508.1 921.9 501.7 923.8 501.2 924.5 502.5 925.2 509 925.4 522.1 923.1 526.1 923.4 525.7 921.8 527.9 920.1 630.4 986.9 333.6 1106.9ZM399.4 919 442.9 938.8 457.7 942.3 451.2 944.2 450.9 945.1 452.5 945.7 458.5 945.8 471.7 943.5 475.9 943.7 475.4 942.1 480.6 937.9 482.4 935 481.7 933.4 479.7 932.9 474 935.8 471.9 933.1 467 929.1 422.9 908.2 398.7 917.7 398.1 918.3 399.4 919ZM348.4 939.1 392.5 959.2 407.3 962.7 400.7 964.7 400.5 965.4 402.1 966 409.5 966 422 963.7 425.6 964.1 424.9 962.6 430.2 958.4 432 955.5 431.3 953.8 429.2 953.3 423.6 956.1 421.5 953.5 416.6 949.5 372.5 928.6 348.8 937.8 347.6 938.5 348.4 939.1ZM299.2 960 342.1 979.6 356.9 983.1 350.5 984.9 350.1 985.8 351.7 986.4 359.8 986.3 371.6 984.1 374.9 984.5 374.6 982.8 379.9 978.6 381.6 975.9 381.1 974.3 379 973.7 373.2 976.5 371.1 973.8 366.2 969.8 322.1 949 297.8 958.5 297.3 959 299.2 960ZM248.2 980.1 291.7 1000 306.5 1003.4 300 1005.4 299.7 1006.2 301.3 1006.8 307.3 1006.9 320.5 1004.6 324.7 1004.8 324.2 1003.3 329.4 999 331.2 996.1 330.5 994.6 328.5 994.1 322.8 996.9 320.7 994.2 315.8 990.2 271.7 969.4 247.5 978.8 246.9 979.4 248.2 980.1ZM197.2 1000.2 241.3 1020.3 256.1 1023.8 249.5 1025.8 249.3 1026.6 250.9 1027.2 258.3 1027.1 270.8 1024.9 274.4 1025.3 273.7 1023.7 278.9 1019.5 280.8 1016.6 280.1 1014.9 278 1014.4 272.4 1017.2 270.3 1014.6 265.4 1010.6 221.3 989.7 197.6 998.9 196.4 999.6 197.2 1000.2Z"/><path fill="#7dd918" fill-rule="evenodd" d="M333.6 1106.9 229.7 1039.2 230.9 1036.8 230 1035.2 227.3 1034.6 224.5 1035.8 108.5 960.2 300.5 882.6 405.3 840.2 476.3 886.5 459.8 892.7 448.4 897.9 493.3 918.5 504.7 921.9 504.8 922.3 500.8 924.1 501 924.8 502.2 925.4 509 925.6 521.5 924 532.2 926.2 528.2 921.9 528.5 920.5 630.4 986.9 333.6 1106.9ZM399.7 919.2 442.9 938.9 454.3 942.3 454.3 942.8 450.5 944.4 450.4 945.1 451.5 945.6 458.4 946 471.1 944.3 481.7 946.3 477.6 941.7 482.5 936.2 482.8 934.4 482.1 933.3 479.4 932.7 474.1 934.3 467.1 929.1 423 908.2 412.9 911.7 398.4 917.8 397.9 918.2 399.7 919.2ZM348.7 939.3 392.5 959.2 403.9 962.6 403.8 963.2 400 964.8 400 965.4 401.1 966 407.9 966.4 420.7 964.7 431.6 966.9 427.2 962.1 432 956.7 432.5 954.9 431.7 953.7 428.9 953.1 423.7 954.6 416.7 949.4 372.6 928.6 348.2 938.1 347.5 938.5 348.7 939.3ZM297.7 959.3 342.1 979.6 353.5 983 353.6 983.5 349.6 985.2 350.7 986.4 357.8 986.8 370.3 985.1 381 987.3 376.8 982.4 381.6 977.1 382.1 975.4 381.3 974.1 378.3 973.5 373.3 975 366.3 969.8 322.2 948.9 305 955.3 297.5 958.6 297.1 958.9 297.7 959.3ZM248.5 980.3 291.7 1000 303.1 1003.4 303.1 1003.9 299.3 1005.5 299.2 1006.2 300.3 1006.8 307.2 1007.1 319.9 1005.4 330.5 1007.4 326.4 1002.8 331.3 997.3 331.6 995.5 330.9 994.4 328.2 993.9 322.9 995.4 315.9 990.2 271.8 969.3 261.7 972.8 247.2 978.9 246.7 979.3 248.5 980.3ZM197.5 1000.4 241.2 1020.4 252.7 1023.8 252.6 1024.3 248.8 1025.9 248.8 1026.5 249.9 1027.1 256.7 1027.5 269.5 1025.8 280.4 1028 276 1023.2 280.8 1017.8 281.3 1016 280.5 1014.8 277.7 1014.2 272.5 1015.7 265.5 1010.6 221.4 989.7 197 999.2 196.3 999.6 197.5 1000.4Z"/><path fill="#99e415" fill-rule="evenodd" d="M333.6 1106.9 230.2 1039.6 231.3 1036.8 230.3 1035.1 227.3 1034.5 224.1 1035.6 108.5 960.2 300.5 882.6 405.3 840.2 476.2 886.4 448.1 897.8 491 917.6 502.9 921.8 503.1 922.4 500.4 924.2 501.4 925.3 505.8 925.9 518.1 925.5 544.1 935.7 558.7 940.2 630.4 986.9 333.6 1106.9ZM398.2 918.5 441.1 938.1 452.5 942.2 452.7 942.9 450 944.6 451.2 945.7 455.7 946.3 467.7 945.9 500.1 958.3 508.8 960.7 513.3 960.8 511.7 958.4 506.3 954.4 481.5 940.3 481.2 939.4 483.3 935.1 482.1 933.1 479.6 932.6 475.4 933.6 473.7 933.4 465.5 928.2 423.1 908.2 404.9 914.9 397.9 918 398.2 918.5ZM348.9 939.4 391.2 958.7 401.9 962.4 402.4 963.1 399.6 964.8 400.6 966 405.2 966.7 417.3 966.3 449.4 978.5 458.8 981.1 462.9 981.2 461.3 978.7 455.9 974.8 431.1 960.7 430.8 959.8 432.9 955.5 431.7 953.5 429 952.9 423.6 953.9 414.9 948.5 372.7 928.5 365.5 930.9 347.6 938.3 347.3 938.6 348.9 939.4ZM298 959.5 340.3 978.9 351.7 982.9 351.9 983.5 349.2 985.3 350.2 986.4 354.6 987.1 366.9 986.6 398.7 998.8 408.2 1001.5 412.5 1001.6 411.1 999.2 405.7 995.3 380.7 981.1 380.4 980.1 382.5 975.9 381.3 973.8 378.9 973.3 374.7 974.4 373.1 974.2 364.7 969 322.3 948.9 300.6 957.1 296.9 958.8 298 959.5ZM247 979.6 289.9 999.3 301.3 1003.3 301.5 1004 298.8 1005.7 300 1006.9 304.5 1007.4 316.5 1007 348.9 1019.4 357.6 1021.8 362.1 1021.9 360.5 1019.5 355.1 1015.5 330.3 1001.4 330 1000.5 332.1 996.2 330.9 994.2 328.4 993.7 324.2 994.8 322.5 994.5 314.3 989.4 271.9 969.3 253.7 976.1 246.7 979.1 247 979.6ZM197.7 1000.5 240 1019.9 250.7 1023.5 251.2 1024.2 248.4 1025.9 249.4 1027.1 254 1027.8 266.1 1027.4 298.2 1039.7 307.6 1042.2 311.7 1042.3 310.1 1039.8 304.7 1035.9 279.9 1021.8 279.6 1020.9 281.7 1016.6 280.5 1014.6 277.8 1014.1 272.4 1015 263.7 1009.6 221.5 989.6 214.3 992 196.4 999.4 196.1 999.7 197.7 1000.5Z"/><path fill="#b9ed14" fill-rule="evenodd" d="M423 908 437.9 901.6 448 897.9 490.9 917.6 501 921.3 502.1 922.3 500.1 924 500.9 925.3 504.2 926.1 513.4 926.6 529 934.7 553.4 948.3 571.3 959.2 581.8 966.9 584.3 969.8 584.7 971.5 582.9 972.4 579.1 972.2 564.9 968.8 543.5 961.8 515.6 951.2 484.5 938.5 483.7 937.6 483.7 934.3 482.1 932.9 479.4 932.4 475.1 933.2 473 932.6 465.4 928.1 423 908ZM373.7 928.9 372.6 928.2 375.8 926.7 393 919.8 397.8 918.4 440.9 938.1 450.6 941.7 451.7 942.5 449.7 944.4 450.5 945.6 453.6 946.4 463 947 479.3 955.4 503.7 969 521.1 979.7 531.5 987.4 533.8 990 534.3 991.8 532.8 992.7 529 992.6 515.9 989.6 494.8 982.7 467 972.3 434.1 958.8 433.3 957.9 433.3 954.7 431.7 953.2 429.2 952.8 424.6 953.5 422.6 953 414.7 948.4 373.7 928.9ZM322.9 949.1 322.4 948.5 326.7 946.6 347.4 938.8 390 958.3 400.2 962.1 401.3 963 399.3 964.9 400.1 966 403.6 966.8 412.6 967.4 428.2 975.4 452.6 989 470.3 999.8 480.9 1007.6 483.4 1010.4 483.9 1012.2 482.2 1013.1 478.5 1013 465.2 1009.9 444.1 1003 416.4 992.6 383.7 979.2 382.9 978.3 382.9 975 381.3 973.6 379.2 973.2 374.5 973.9 372.4 973.5 364.1 968.6 322.9 949.1ZM271.8 969.1 286.7 962.7 296.8 959.1 339.7 978.7 349.8 982.4 350.9 983.4 348.9 985.1 349.7 986.4 353 987.2 362.2 987.7 377.8 995.8 402.2 1009.4 420.1 1020.3 430.6 1028.1 433.1 1030.9 433.5 1032.6 431.7 1033.5 427.9 1033.3 413.7 1030 392.3 1022.9 364.4 1012.3 333.3 999.6 332.5 998.7 332.5 995.4 330.9 994 328.2 993.5 323.9 994.3 321.8 993.8 314.2 989.2 271.8 969.1ZM222.5 990.1 221.4 989.3 224.6 987.9 241.8 980.9 246.6 979.5 289.7 999.2 299.4 1002.8 300.5 1003.6 298.5 1005.5 299.3 1006.8 302.4 1007.5 311.8 1008.1 328.1 1016.5 352.5 1030.1 369.9 1040.8 380.3 1048.5 382.6 1051.1 383.1 1052.9 381.6 1053.8 377.8 1053.8 364.7 1050.7 343.5 1043.8 315.8 1033.4 282.9 1020 282.1 1019.1 282.1 1015.8 280.5 1014.4 278 1013.9 273.4 1014.7 271.4 1014.1 263.5 1009.5 222.5 990.1ZM223.6 1035.3 179 1006.2 195.9 999.8 238.8 1019.4 249 1023.2 250.1 1024.1 248.1 1026 248.9 1027.1 252.4 1027.9 261.3 1028.5 277 1036.6 301.4 1050.1 319.1 1060.9 329.7 1068.8 332.2 1071.5 332.7 1073.3 331.7 1074.1 329.8 1074.3 322.9 1073.3 296.1 1065.2 267.2 1054.5 233.2 1040.7 231.7 1039.4 231.6 1036 229.8 1034.6 227.1 1034.3 223.6 1035.3Z"/><path fill="#dcf613" fill-rule="evenodd" d="M424.6 908.8 423.2 907.9 424 907.4 439.6 900.9 448.3 898.1 492 918.1 500 921.1 501.2 922.3 499.8 924 500.3 925.1 509.4 927.2 523.1 935 539.5 946.3 543.5 950.2 544.3 952.5 542.7 953.5 539.1 953.5 525.4 950.4 507.6 944.8 488.1 937.7 485.5 936.4 483.8 933.8 481.9 932.6 479.6 932.3 475.2 932.8 472.8 932.3 465.4 928.1 424.6 908.8ZM373.6 928.8 373 928.1 381 924.6 396.5 918.5 398 918.5 441.1 938.3 449.6 941.5 450.8 942.6 449.3 944.5 449.9 945.5 459 947.6 473.1 955.7 489.2 966.8 493.1 970.6 493.9 973 492.2 973.9 488.5 973.8 474.7 970.7 456.7 965 437.4 957.9 435.1 956.8 433.4 954.2 431.4 953 424.8 953.2 422.5 952.7 414.8 948.3 373.6 928.8ZM324.3 949.7 322.4 948.7 323 948.3 338.9 941.6 346.3 938.9 347.6 938.9 390.3 958.4 399.2 961.9 400.4 963 398.9 964.8 399.5 965.9 408.6 967.9 422.7 976 438.8 987.2 442.7 991 443.5 993.3 442 994.2 438.4 994.2 424.8 991.2 407.1 985.6 387.3 978.4 384.7 977.2 383 974.6 381.3 973.4 378.7 973 374.3 973.5 372.1 973 363.9 968.5 324.3 949.7ZM273.4 969.9 272 969 272.7 968.6 288.4 962 297.1 959.2 340.8 979.2 348.8 982.2 350 983.4 348.6 985.2 349.1 986.2 358.2 988.3 371.9 996.2 388.3 1007.4 392.3 1011.3 393.1 1013.6 391.5 1014.6 387.9 1014.6 374.2 1011.5 356.4 1005.9 336.9 998.8 334.3 997.6 332.6 994.9 330.7 993.8 328.4 993.4 324 993.9 321.6 993.4 314.2 989.2 273.4 969.9ZM222.4 989.9 221.8 989.2 229.8 985.7 245.3 979.7 246.8 979.6 289.9 999.4 298.4 1002.6 299.6 1003.7 298.1 1005.6 298.7 1006.6 307.8 1008.7 321.9 1016.8 338 1027.9 341.9 1031.7 342.7 1034.1 341 1035 337.3 1034.9 323.5 1031.8 305.5 1026.1 286.2 1019 283.9 1017.9 282.2 1015.3 280.2 1014.1 273.6 1014.3 271.3 1013.8 263.6 1009.5 222.4 989.9ZM223.1 1034.9 179.1 1006.2 196.1 999.9 240.5 1020.2 248 1023 249.2 1024.1 247.7 1026 248.3 1027 257.4 1029 270.5 1036.5 287.3 1048 291.3 1051.8 292.4 1054.3 290.8 1055.3 287.2 1055.3 274.4 1052.6 256.5 1046.9 236.1 1039.5 233.5 1038.3 231.8 1035.7 230.1 1034.5 227.3 1034.2 223.1 1034.9Z"/><path fill="#f8fd10" fill-rule="evenodd" d="M424.3 908.5 423.4 907.8 424.8 907.1 445.9 898.6 448.3 898.2 493 918.6 498.9 920.8 500.4 922.2 499.4 924.1 499.7 924.9 505.8 927.4 516.3 934.8 521.9 940 523.1 941.8 523.1 943.1 522.6 943.6 519.6 943.7 511.9 942.5 486.7 935.1 481.7 932.4 475 932.4 472.1 931.8 467.4 929 424.3 908.5ZM375 929.5 373 928.4 373.8 927.8 387.4 922 396.2 918.7 397.9 918.6 442.6 939 448.5 941.1 450 942.6 449 944.4 449.5 945.5 455.4 947.8 465.4 954.8 471.2 959.9 472.5 961.9 472.7 963.3 472.1 964 470 964.1 462 963 436.3 955.5 431.3 952.8 424.6 952.8 421.7 952.1 417 949.3 375 929.5ZM324.1 949.6 322.6 948.8 323.5 948 344.9 939.4 347.5 938.9 392.2 959.4 398.1 961.5 399.6 962.9 398.6 964.7 398.9 965.7 405 968.2 415.2 975.3 421 980.5 422.2 982.4 422.3 983.7 421.9 984.3 419 984.5 411.3 983.3 385.9 975.9 380.9 973.1 374.2 973.2 371.5 972.5 366.6 969.7 324.1 949.6ZM273.1 969.6 272.2 969 273.6 968.2 294.7 959.7 297.1 959.3 341.8 979.7 347.7 981.9 349.2 983.3 348.2 985.2 348.5 986.1 354.6 988.5 365.1 996 370.7 1001.1 371.9 1003 371.9 1004.2 371.4 1004.7 368.4 1004.8 360.7 1003.6 335.5 996.3 330.5 993.5 323.8 993.6 320.9 992.9 316.2 990.1 273.1 969.6ZM223.8 990.6 221.8 989.5 222.6 988.9 236.2 983.1 245 979.8 246.7 979.7 291.4 1000.1 297.3 1002.2 298.8 1003.7 297.8 1005.5 298.3 1006.6 304.2 1008.9 314.2 1016 320 1021 321.3 1023 321.5 1024.4 320.9 1025.1 318.8 1025.2 310.8 1024.1 285.1 1016.6 280.1 1013.9 273.4 1013.9 270.5 1013.2 265.8 1010.4 223.8 990.6ZM222.5 1034.5 179.1 1006.3 196 1000 247.3 1022.9 248.4 1024 247.4 1025.9 247.7 1026.8 253.8 1029.3 265.6 1037.7 270.6 1042.7 271.2 1044.3 270.7 1045.5 264 1045.2 253.2 1042.7 234.7 1037 229.4 1034.2 222.5 1034.5Z"/><path fill="#ffde0c" fill-rule="evenodd" d="M425.7 909.2 423.6 908 424.3 907.4 445.6 898.7 448.4 898.3 498.2 920.6 499.7 922.1 499.3 924.9 503.7 927.5 504.3 928.7 503.9 929.6 509.3 934.2 511.6 938.5 502.1 937.2 491.9 934.5 486.9 934.2 481.1 932.1 475.3 932.1 471.6 931.4 425.7 909.2ZM374.6 929.2 373.2 928.3 374.3 927.5 395.1 919.1 398 918.7 447.8 941 449.3 942.4 448.9 945.3 453.3 947.8 453.9 949.2 453.5 950 458.8 954.4 461.3 958.7 452 957.6 441.5 954.9 436.5 954.6 430.6 952.5 424.8 952.5 421.2 951.7 374.6 929.2ZM323.5 949.2 322.8 948.7 323.1 948.3 333.3 943.9 345.5 939.2 347.6 939.1 397.4 961.4 398.9 962.9 398.4 965.5 402.9 968.2 403.5 969.6 403.1 970.4 408.5 975 410.9 979.2 401.2 977.9 391.1 975.2 386.1 975 380.5 972.9 374.2 972.9 370.8 972.1 323.5 949.2ZM274.5 970.3 272.4 969.1 273.1 968.5 294.4 959.8 297.2 959.4 347 981.7 348.5 983.2 348.1 986 352.5 988.6 353.1 989.8 352.7 990.7 358.1 995.3 360.4 999.6 350.9 998.3 340.7 995.6 335.7 995.3 329.9 993.2 324.1 993.3 320.4 992.5 274.5 970.3ZM223.4 990.3 222 989.5 223.1 988.6 243.9 980.2 246.8 979.8 296.6 1002.1 298.1 1003.6 297.7 1006.4 302.1 1008.9 302.7 1010.3 302.3 1011.1 307.6 1015.5 310.1 1019.8 300.8 1018.7 290.3 1016 285.3 1015.7 279.4 1013.6 273.6 1013.6 270 1012.8 223.4 990.3ZM221.7 1034 179.2 1006.3 194 1000.4 196.2 1000.1 246.2 1022.5 247.7 1024 247.2 1026.6 251.7 1029.3 252.3 1030.7 251.9 1031.5 257.3 1036.1 259.7 1040.3 250 1039 239.9 1036.3 234.9 1036.1 229.3 1034 221.7 1034Z"/><path fill="#ffa709" fill-rule="evenodd" d="M425.3 908.9 423.8 907.9 425.1 907 445.3 898.8 448.6 898.5 497.9 920.7 499 922.1 498.8 924.7 502.5 927.9 502.4 929.6 501.2 930.7 505.2 935.5 494.6 933.4 488.1 933.7 481.3 932 471.9 931.2 425.3 908.9ZM374 928.8 373.4 928.3 373.8 927.8 384.4 923.2 396 918.8 398.2 918.8 447.5 941.1 448.6 942.5 448.4 945.1 452 948.1 452 950 450.8 951.1 454.8 955.7 444.2 953.7 437.5 954.1 430.8 952.3 421.5 951.6 374 928.8ZM325.2 950 323.1 948.8 323.9 948 344.3 939.6 347.7 939.2 397.1 961.5 398.2 962.9 398.1 965.6 401.7 968.7 401.6 970.4 400.4 971.5 404.5 976.2 393.8 974.1 387.3 974.5 380.2 972.7 371.1 972 325.2 950ZM274.1 970 272.6 969 273.9 968.1 294.1 959.9 297.4 959.6 346.7 981.9 347.8 983.2 347.6 985.8 351.3 989.1 351.2 990.7 350 991.8 354 996.6 343.4 994.5 336.9 994.8 330.1 993.1 320.7 992.3 274.1 970ZM222.8 989.9 222.2 989.4 222.6 988.9 233.2 984.4 244.8 979.9 247 980 296.3 1002.2 297.4 1003.6 297.2 1006.2 300.8 1009.2 300.8 1011.1 299.6 1012.2 303.6 1016.8 293 1014.9 286.3 1015.2 279.6 1013.4 270.3 1012.7 222.8 989.9ZM221.1 1033.6 179.2 1006.3 193.4 1000.6 196 1000.2 245.9 1022.6 247 1024 246.9 1026.7 250.5 1029.8 250.4 1031.5 249.2 1032.6 253.3 1037.3 242.6 1035.2 236.6 1035.6 228.9 1033.8 221.1 1033.6Z"/><path fill="#ff6206" fill-rule="evenodd" d="M426.7 909.6 424 908 424.6 907.3 444.8 899 448.5 898.5 497.5 920.9 498.4 922.2 498.4 924.6 501.3 927.8 501 930.1 499.3 931.5 501 933.4 496.5 932.6 493.2 933.3 487.8 933.2 481 931.8 472.3 931.1 426.7 909.6ZM375.7 929.6 373.6 928.4 374.6 927.4 394.6 919.3 398.1 918.9 447.1 941.3 448 942.5 448 945.1 450.9 948.2 450.7 950.4 448.9 951.9 450.8 954 446.1 953 442.7 953.7 437.4 953.6 430.5 952.1 421.9 951.5 375.7 929.6ZM324.6 949.6 323.2 948.5 324.9 947.5 344.4 939.6 347.7 939.3 396.7 961.6 397.7 963.1 397.6 965.4 400.5 968.5 400.3 970.8 398.5 972.2 400.2 974.3 395.7 973.3 392.2 974 387 974 380.4 972.5 371.5 971.8 324.6 949.6ZM275.5 970.7 272.8 969.1 273.4 968.4 293.6 960.2 297.3 959.6 346.3 982 347.2 983.3 347.2 985.8 350.1 988.9 349.8 991.3 348.1 992.6 349.8 994.5 345.3 993.7 342 994.4 336.6 994.3 329.8 992.9 321.1 992.2 275.5 970.7ZM224.5 990.7 222.4 989.5 223.4 988.6 243.4 980.5 246.9 980 295.9 1002.4 296.8 1003.7 296.8 1006.2 299.7 1009.3 299.5 1011.5 297.7 1013 299.6 1015.1 294.9 1014.1 291.5 1014.8 286.2 1014.7 279.3 1013.2 270.7 1012.6 224.5 990.7ZM220.5 1033.3 179.2 1006.3 193.2 1000.8 196.2 1000.3 245.5 1022.7 246.4 1024.2 246.4 1026.5 249.3 1029.6 249.1 1031.9 247.3 1033.4 249 1035.4 244.5 1034.5 241 1035.2 236.3 1035.1 228.7 1033.6 220.5 1033.3Z"/><path fill="#ff2b0a" fill-rule="evenodd" d="M426.2 909.2 424.2 907.9 425.4 906.9 444.5 899.2 448.3 898.6 497.1 921 497.9 922.4 498 924.7 500.4 927.5 500.5 929.6 499.6 931 498 932 492.8 933 487.3 932.8 480.8 931.6 472.7 930.9 426.2 909.2ZM374.9 929.1 373.8 928.1 376 926.9 394.3 919.5 397.9 919 446.7 941.4 447.4 942.6 447.7 945.1 450 947.7 450.1 949.9 447.8 952.6 442.6 953.3 436.9 953.2 430.7 952 422.3 951.3 374.9 929.1ZM326 950.3 323.5 948.8 324.2 947.9 343.8 939.9 347.5 939.3 396.3 961.8 397 962.9 397.2 965.3 399.6 968.1 399.7 970.3 397.2 972.9 392.1 973.7 386.5 973.6 380.1 972.3 371.9 971.7 326 950.3ZM275 970.3 273 969 274.2 968 293.3 960.3 297.1 959.7 345.9 982.2 346.7 983.5 346.8 985.8 349.2 988.6 349.3 990.7 348.4 992.1 346.8 993.1 341.6 994.1 336.1 993.9 329.6 992.7 321.5 992 275 970.3ZM223.7 990.2 222.6 989.2 224.8 988 243.1 980.6 246.7 980.1 295.5 1002.5 296.2 1003.7 296.5 1006.3 298.8 1008.8 298.9 1011.1 296.6 1013.7 291.4 1014.4 285.7 1014.3 279.5 1013.1 271.1 1012.4 223.7 990.2ZM219.8 1032.7 179.2 1006.3 193.2 1000.8 196.2 1000.4 245.1 1022.9 245.8 1024.1 246 1026.5 248.2 1028.9 248.6 1030.2 248 1032.4 245.9 1034 237.1 1034.8 219.8 1032.7Z"/><path fill="#ff0f0c" fill-rule="evenodd" d="M427.6 909.8 424.7 908.1 424.9 907.2 444 899.4 448.2 898.7 496.4 920.9 497.4 922.2 497.7 924.7 499.7 927.2 499.9 929.1 496 931.3 491 932.7 473 930.8 427.6 909.8ZM376.5 929.9 374.1 928.4 375 927.4 393.7 919.7 397.8 919 446 941.3 447 942.6 447.3 945.1 449.3 947.6 449.5 949.6 445.8 951.6 440.9 953.1 422.6 951.2 376.5 929.9ZM325.5 949.9 323.6 948.6 325 947.5 343.5 940 347.4 939.4 395.4 961.6 396.5 962.7 396.9 965.5 398.9 967.9 399.1 969.8 395.6 971.9 390.4 973.5 372.2 971.5 325.5 949.9ZM276.4 971 273.5 969.3 273.7 968.3 292.8 960.5 297 959.8 345.2 982 346.2 983.3 346.5 985.8 348.5 988.3 348.7 990.2 344.8 992.4 339.8 993.8 321.8 991.9 276.4 971ZM225.3 991 222.9 989.5 223.8 988.5 242.5 980.8 246.6 980.1 294.8 1002.4 295.8 1003.7 296.1 1006.2 298.1 1008.7 298.3 1010.7 294.6 1012.7 289.7 1014.2 271.4 1012.3 225.3 991ZM219 1032.2 179.3 1006.3 192.9 1000.9 196.2 1000.5 244.8 1023 245.6 1026.4 247.6 1028.9 247.9 1030.9 243.2 1033.4 239.5 1034.5 236.9 1034.5 219 1032.2Z"/><path fill="#ff0a0a" fill-rule="evenodd" d="M427 909.5 424.7 907.9 425.7 906.8 444.3 899.3 448.3 898.8 495 920.4 496.6 921.5 497.3 924.5 499.3 927.5 494.8 930.2 488.1 932.3 473.3 930.7 427 909.5ZM375.8 929.4 374.2 928.1 376 926.9 393.8 919.7 397.8 919.1 444.8 940.9 446.3 942 446.9 945 448.9 948 444 950.7 437.6 952.7 422.9 951 375.8 929.4ZM326.9 950.5 324 948.8 324.5 947.8 343.3 940.1 347.5 939.5 394.4 961.3 395.9 962.4 396.5 965.2 398.5 968.5 393.5 971.1 387.1 973.1 372.5 971.4 326.9 950.5ZM275.8 970.6 273.5 969 274.5 968 293.1 960.4 297.1 959.9 343.8 981.6 345.4 982.6 346.1 985.6 348.1 988.7 343.6 991.3 336.9 993.4 322.1 991.8 275.8 970.6ZM224.6 990.5 223 989.2 224.8 988 242.6 980.8 246.6 980.3 293.6 1002.1 295.1 1003.1 295.7 1006.1 297.7 1009.1 292.8 1011.8 286.4 1013.8 271.7 1012.1 224.6 990.5ZM218 1031.6 179.3 1006.4 192.9 1000.9 196.3 1000.6 228.7 1015.3 244.3 1023 245.4 1026.5 247.3 1029.6 240 1033 235.4 1034.2 221.1 1032.6 218 1031.6Z"/></g>
<g filter="url(#fb2)"><path fill="#9ee614" d="M104.5 818.1 175.2 864.2 472 744.2 401.3 698.1Z"/><path fill="#0a0aff" fill-rule="evenodd" d="M449.4 827.8 447.9 826.3 451.6 824.3 468.7 817.6 471.3 817.1 473.9 817.3 482 820.4 516.8 843.1 503.2 848.5 492.6 847 476.6 840.5 449.4 827.8ZM399 848.1 397.4 846.8 399.2 845.6 415.1 839.1 418.8 837.9 420.8 837.8 444.9 848.7 460.7 856.6 464 858.6 466.6 863.2 452.8 868.8 442.2 867.4 426.2 860.9 399 848.1ZM348.6 868.5 347 867.2 348.8 866 364.7 859.5 368.4 858.2 370.4 858.2 394.5 869 410.3 877 413.6 878.9 416.2 883.6 402.4 889.2 391.8 887.8 375.8 881.2 348.6 868.5ZM298.2 888.9 296.6 887.5 298.4 886.3 314.3 879.8 318 878.6 320 878.6 344.1 889.4 359.9 897.3 363.2 899.3 365.8 903.9 352 909.6 341.4 908.1 325.4 901.6 298.2 888.9ZM247.8 909.3 246.2 907.9 248 906.7 263.9 900.2 267.6 899 269.6 898.9 293.7 909.8 309.5 917.7 312.8 919.7 315.4 924.3 301.6 930 291 928.5 274.9 922 247.8 909.3ZM197.4 929.6 195.8 928.3 197.6 927.1 213.5 920.6 217.2 919.4 219.2 919.3 243.3 930.1 259.1 938.1 262.4 940 265 944.7 251.2 950.3 240.6 948.9 224.5 942.3 197.4 929.6Z"/><g class="m"><path color="#842c00" d="M453.4 726.3l2.9 .7 2.8 1.2 2.8 1.3 2.9 1.3 2.8 .9 2.7-1.4-.4-12.5-2.8 1.2-2.8-.9-2.8-1.3-2.9-1.3-2.8-1.2-2.8-.6z"/><path color="#842100" d="M448 717.5l.8-1.6 1.2-1.2 1.1-.7 1.9-.3 2.8 .6 2.8 1.2 2.9 1.3 2.8 1.3 2.8 .9-.4-12.7-2.8-.9-2.9-1.4-2.8-1.3-2.9-1.1-2.8-.5-1.8 .4-1.2 .9-1.1 1.6-.9 1.9z"/><path color="#f24d37" d="M418.8 694.6l.4 .1 .3 45.4-.2 4.5z"/><path color="#fd2c16" d="M419.2 694.7l.4 .3 .2 40.3-.3 4.8z"/><path color="#fd2116" d="M419.6 695l.5 .2 .5 .2 0 32.5-.4 3.4-.4 4z"/><path color="#fd1616" d="M420.6 695.4l.7 .3 .7 .4-.2 24.2-.7 3.4-.5 4.2z"/><path color="#f21616" d="M422 696.1l.7 .3 1 .4 .9 .5 1.2 .5 1.2 .6 1.9 .9 2.8 1.3 2.8 1.3 2.9 1.3 2.8 1.4 2.9 1.3 2.8 1.3 2.8 1.3 2.9 1.3 2.8 1.4 2.8 1.3 2.9 1.3 .5 .2-.5 18.2-.5-1.3-3-6.8-2.9-5.2-2.9-3.3-2.9-1.4-2.8 .1-2.7 1-2.8-.9-2.9-1.4-2.8-1.2-2.9-1.2-2.8-.5-1.8 .5-1.2 .9-1.1 1.5-.9 2-.8 2.7-.6 2.6z"/><path color="#fd634d" d="M422.4 717.7l.8-2.7 .9-2 .3 12.1-.9 1.5-.9 2.2z"/><path color="#f2584d" d="M424.1 713l1.1-1.5 1.2-.9 1.8-.5 2.8 .5 .3 12.8-2.8-.6-1.9 .3-1.1 .7-1.1 1.3z"/><path color="#f24d4d" d="M431 710.6l2.9 1.2 2.8 1.2 2.9 1.4 2.8 .9 2.7-1 2.8-.1 2.9 1.4 2.9 3.3 2.9 5.2 .2 8.6-2.9-3.8-2.9-2.1-2.8-.6-2.8 .7-2.8 1.2-2.8-.9-2.8-1.4-2.9-1.2-2.8-1.2z"/><path color="#f2584d" d="M456.6 724.1l3 6.8 .5 1.3 .1 6.9-.5-1.1-2.9-5.3z"/><path color="#f2794d" d="M428.5 722.8l2.8 .6 .3 12.8-2.8-.7z"/><path color="#f26e4d" d="M431.3 723.4l2.8 1.2 2.9 1.2 2.8 1.4 2.8 .9 2.8-1.2 .3 12.6-2.8 1.4-2.8-.9-2.9-1.4-2.8-1.2-2.8-1.2z"/><path color="#f2634d" d="M445.4 726.9l2.8-.7 2.8 .6 2.9 2.1 2.9 3.8 .1 8.5-2.8-2.3-2.9-1-2.8 .4-2.7 1.2z"/><path color="#fd634d" d="M456.8 732.7l2.9 5.3 .1 7.1-2.9-3.9z"/><path color="#fd6e4d" d="M459.7 738l.5 1.1 .1 6.7-.5-.7z"/><path color="#fda54d" d="M442.9 740.9l2.8-1.4 .2 12.6-2.7 1.6z"/><path color="#fd8f4d" d="M445.7 739.5l2.7-1.2 .3 12-2.8 1.8z"/><path color="#fd844d" d="M448.4 738.3l2.8-.4 2.9 1 2.8 2.3 2.9 3.9 .1 6.9-2.8-2.3-2.9-.9-2.8 .3-2.7 1.2z"/><path color="#fd8f4d" d="M459.8 745.1l.5 .7 .1 6.8-.5-.6z"/><path color="#fde74d" d="M431.8 749l2.9 1.2 2.8 1.3 2.9 1.3 2.8 .9 2.7-1.6 .3 12.5-2.8 1.9-2.8-.9-2.8-1.3-2.9-1.3-2.8-1.2z"/><path color="#fdd14d" d="M445.9 752.1l2.8-1.8 .2 12-2.7 2.3z"/><path color="#fdc64d" d="M448.7 750.3l2.7-1.2 .3 11.1-2.8 2.1z"/><path color="#fdbb4d" d="M451.4 749.1l2.8-.3 .2 9.9-2.7 1.5z"/><path color="#fdb04d" d="M454.2 748.8l2.9 .9 2.8 2.3 .5 .6 .1 6.7-.5-.3-2.8-.8-2.8 .5z"/><path color="#dcf258" d="M443.4 766.5l2.8-1.9 .3 12.6-2.8 2z"/><path color="#e7f258" d="M446.2 764.6l2.7-2.3 .3 12-2.7 2.9z"/><path color="#f2fd58" d="M448.9 762.3l2.8-2.1 .2 11-2.7 3.1z"/><path color="#fde74d" d="M451.7 760.2l2.7-1.5 .2 9.8-2.7 2.7z"/><path color="#fddc4d" d="M454.4 758.7l2.8-.5 .2 8.4-2.8 1.9z"/><path color="#fdd14d" d="M457.2 758.2l2.8 .8 .5 .3 .1 6.6-.5 0-2.7 .7z"/><path color="#a5e758" d="M446.5 777.2l2.7-2.9 .2 12-2.7 3.5z"/><path color="#c6e758" d="M449.2 774.3l2.7-3.1 .2 11.1-2.7 4z"/><path color="#dcf258" d="M451.9 771.2l2.7-2.7 .2 9.9-2.7 3.9z"/><path color="#f2f258" d="M454.6 768.5l2.8-1.9 .1 8.4-2.7 3.4z"/><path color="#fdf258" d="M457.4 766.6l2.7-.7 .1 6.9-2.7 2.2z"/><path color="#fdf24d" d="M460.1 765.9l.5 0 .1 6.6-.5 .3z"/><path color="#79c658" d="M449.4 786.3l2.7-4 .2 11-2.6 4.9z"/><path color="#a5dc58" d="M452.1 782.3l2.7-3.9 .2 9.7-2.7 5.2z"/><path color="#c6e758" d="M454.8 778.4l2.7-3.4 .1 8.4-2.6 4.7z"/><path color="#dcf258" d="M457.5 775l2.7-2.2 .1 6.8-2.7 3.8z"/><path color="#e7f258" d="M460.2 772.8l.5-.3 .1 6.6-.5 .5z"/><path color="#63bb58" d="M452.3 793.3l2.7-5.2 .1 9.8-2.6 6.4z"/><path color="#8fd158" d="M455 788.1l2.6-4.7 .2 8.3-2.7 6.2z"/><path color="#b0e758" d="M457.6 783.4l2.7-3.8 .1 6.8-2.6 5.3z"/><path color="#c6f258" d="M460.3 779.6l.5-.5 .1 6.5-.5 .8z"/><path color="#63bb58" d="M455.1 797.9l2.7-6.2 .1 8.3-2.6 7.6z"/><path color="#84d158" d="M457.8 791.7l2.6-5.3 .1 6.7-2.6 6.9z"/><path color="#a5dc58" d="M460.4 786.4l.5-.8 .1 6.5-.5 1z"/><path color="#63bb58" d="M457.9 800l2.6-6.9 .1 6.7-2.5 8.4z"/><path color="#16589a" d="M458.1 808.2l2.5-8.4-.4 57.7-2.8-1.3z"/><path color="#84840b" d="M404 774.4l2.9 .8 2.8 1.2 2.8 1.3 2.9 1.3 2.8 .9-.5-12.7-2.8-.9-2.8-1.3-2.9-1.3-2.8-1.2-2.8-.8z"/><path color="#845800" d="M403.6 761.7l2.8 .8 2.8 1.2 2.9 1.3 2.8 1.3 2.8 .9 2.8-1.7-.5-12.5-2.7 1.5-2.9-.9-2.8-1.3-2.8-1.3-2.9-1.2-2.8-.7z"/><path color="#843700" d="M400.1 749.7l1.2-.5 1.8-.1 2.8 .7 2.9 1.2 2.8 1.3 2.8 1.3 2.9 .9 2.7-1.5-.4-12.5-2.8 1.3-2.8-.9-2.8-1.4-2.9-1.3-2.8-1.1-2.8-.6-1.9 .2-1.1 .7z"/><path color="#842100" d="M398.5 738.6l1.2-1.2 1.1-.7 1.9-.2 2.8 .6 2.8 1.1 2.9 1.3 2.8 1.4 2.8 .9 2.8-1.3-.5-12.5-2.7 1.1-2.9-1-2.8-1.3-2.8-1.3-2.9-1.1-2.8-.6-1.8 .5-1.2 .8-1.1 1.5z"/><path color="#841600" d="M396.3 731l.9-2.6 .9-1.8 1.1-1.5 1.2-.8 1.8-.5 2.8 .6 2.9 1.1 2.8 1.3 2.8 1.3 2.9 1 2.7-1.1 2.8-.3 2.9 1.3 2.8 3 3 4.8 3 6.5 .5 1.2-.5-10.6-.5-1.6-3-8.8-2.9-1.3-2.8-1.4-2.9-1.3-2.8-1.3-2.8-1.3-2.9-1.4-2.8-1.3-2.8-1.3-2.9-1.3-2.8-1.3-1.9-.9-1.2-.6-1.2-.5-.8 2.1-.9 3.4z"/><path color="#e73716" d="M368.8 714.6l.2 .1-.1 49.3-.1 4.1z"/><path color="#fd2c16" d="M369 714.7l.4 .2 .5 .2-.5 39.2-.3 5-.2 4.7z"/><path color="#fd2116" d="M369.9 715.1l.4 .2 .5 .2-.7 31.1-.3 3.5-.4 4.2z"/><path color="#fd1616" d="M370.8 715.5l.7 .4 .7 .3-.9 22.5-.6 3.5-.6 4.4z"/><path color="#f21616" d="M372.2 716.2l.7 .3 1 .5 .9 .4 1.2 .6 1.2 .5 1.9 .9 2.8 1.3 2.8 1.3 2.9 1.4 2.8 1.3 2.9 1.3 2.8 1.3 2.8 1.3 2.9 1.4 2.8 1.3 2.9 1.3 2.8 1.3 .5 .3-1.1 17.1-.5-1.3-3-7.2-3-5.4-2.9-3.5-2.8-1.6-2.8 0-2.8 1-2.8-1-2.8-1.3-2.9-1.3-2.8-1.1-2.8-.5-1.9 .5-1.1 .9-1.1 1.6-.9 2.1-.9 2.8-.6 2.7z"/><path color="#fd6e4d" d="M371.3 738.7l.6-2.7 .3 11.1-.7 2.2z"/><path color="#fd634d" d="M371.9 736l.9-2.8 .2 11.6-.8 2.3z"/><path color="#f2584d" d="M372.8 733.2l.9-2.1 1.1-1.6 1.1-.9 .3 12.5-1.2 .8-1.1 1.3-.9 1.6z"/><path color="#f24d4d" d="M375.9 728.6l1.9-.5 2.8 .5 2.8 1.1 2.9 1.3 2.8 1.3 2.8 1 2.8-1 2.8 0 2.8 1.6 2.9 3.5 3 5.4 .1 8.6-2.9-4-2.8-2.3-2.9-.8-2.7 .6-2.8 1.2-2.8-1-2.9-1.3-2.8-1.3-2.8-1.1-2.9-.6-1.8 .3z"/><path color="#f2584d" d="M406.2 742.8l3 7.2 .5 1.3 .1 6.8-.5-1-3-5.7z"/><path color="#fd6e4d" d="M375 741.9l1.2-.8 .2 12.6-1.1 .5z"/><path color="#f26e4d" d="M376.2 741.1l1.8-.3 2.9 .6 .2 12.8-2.8-.7-1.9 .2z"/><path color="#f2634d" d="M380.9 741.4l2.8 1.1 2.8 1.3 2.9 1.3 2.8 1 2.8-1.2 2.7-.6 .3 12.1-2.8 1.1-2.7 1.4-2.9-1-2.8-1.3-2.8-1.3-2.9-1.1z"/><path color="#f2584d" d="M397.7 744.3l2.9 .8 2.8 2.3 .2 10-2.8-1.2-2.8 .2z"/><path color="#f2634d" d="M403.4 747.4l2.9 4 3 5.7 .1 7-2.9-4.1-2.9-2.6z"/><path color="#fd6e4d" d="M409.3 757.1l.5 1 .1 6.8-.5-.8z"/><path color="#fd9a4d" d="M384 755.3l2.8 1.3 2.8 1.3 2.9 1 2.7-1.4 .3 12.6-2.8 1.5-2.8-.9-2.8-1.3-2.9-1.3z"/><path color="#fd8f4d" d="M395.2 757.5l2.8-1.1 .2 12-2.7 1.7z"/><path color="#fd844d" d="M398 756.4l2.8-.2 .2 11.1-2.8 1.1z"/><path color="#fd794d" d="M400.8 756.2l2.8 1.2 2.9 2.6 .1 8.5-2.8-1.2-2.8 0z"/><path color="#fd844d" d="M406.5 760l2.9 4.1 .5 .8 .1 6.8-.5-.6-2.9-2.6z"/><path color="#fddc4d" d="M384.2 768.1l2.9 1.3 2.8 1.3 2.8 .9 2.8-1.5 .2 12.5-2.7 1.8-2.8-.9-2.9-1.3-2.8-1.3z"/><path color="#fdc64d" d="M395.5 770.1l2.7-1.7 .3 12-2.8 2.2z"/><path color="#fdbb4d" d="M398.2 768.4l2.8-1.1 .2 11.1-2.7 2z"/><path color="#fdb04d" d="M401 767.3l2.8 0 .2 9.9-2.8 1.2z"/><path color="#fda54d" d="M403.8 767.3l2.8 1.2 2.9 2.6 .5 .6 .1 6.7-.5-.3-2.8-1.1-2.8 .2z"/><path color="#e7f258" d="M393 784.4l2.7-1.8 .3 12.6-2.7 2z"/><path color="#f2f258" d="M395.7 782.6l2.8-2.2 .2 12-2.7 2.8z"/><path color="#fdf24d" d="M398.5 780.4l2.7-2 .2 11.1-2.7 2.9z"/><path color="#fddc4d" d="M401.2 778.4l2.8-1.2 .2 9.8-2.8 2.5z"/><path color="#fdd14d" d="M404 777.2l2.8-.2 2.8 1.1 .1 6.9-2.8 .4-2.7 1.6z"/><path color="#fdc64d" d="M409.6 778.1l.5 .3 .1 6.6-.5 0z"/><path color="#bbe758" d="M396 795.2l2.7-2.8 .3 12-2.7 3.4z"/><path color="#d1f258" d="M398.7 792.4l2.7-2.9 .3 11.1-2.7 3.8z"/><path color="#e7f258" d="M401.4 789.5l2.8-2.5 .2 9.9-2.7 3.7z"/><path color="#f2fd58" d="M404.2 787l2.7-1.6 .2 8.4-2.7 3.1z"/><path color="#fdf24d" d="M406.9 785.4l2.8-.4 .1 6.9-2.7 1.9z"/><path color="#fde74d" d="M409.7 785l.5 0 .1 6.7-.5 .2z"/><path color="#63bb58" d="M393.5 810l2.8-2.2 2.7-3.4 .2 11.9-2.7 4-2.7 2.5z"/><path color="#8fd158" d="M399 804.4l2.7-3.8 .2 11-2.7 4.7z"/><path color="#b0e758" d="M401.7 800.6l2.7-3.7 .1 9.8-2.6 4.9z"/><path color="#d1f258" d="M404.4 796.9l2.7-3.1 .1 8.4-2.7 4.5z"/><path color="#e7f258" d="M407.1 793.8l2.7-1.9 .1 6.8-2.7 3.5z"/><path color="#f2f258" d="M409.8 791.9l.5-.2 .1 6.5-.5 .5z"/><path color="#63b058" d="M399.2 816.3l2.7-4.7 .2 11-2.7 5.7z"/><path color="#6ebb58" d="M401.9 811.6l2.6-4.9 .2 9.7-2.6 6.2z"/><path color="#9adc58" d="M404.5 806.7l2.7-4.5 .1 8.3-2.6 5.9z"/><path color="#bbe758" d="M407.2 802.2l2.7-3.5 .1 6.8-2.7 5z"/><path color="#d1f258" d="M409.9 798.7l.5-.5 0 6.5-.4 .8z"/><path color="#63bb58" d="M404.7 816.4l2.6-5.9 .2 8.3-2.6 7.4z"/><path color="#8fdc58" d="M407.3 810.5l2.7-5 .1 6.7-2.6 6.6z"/><path color="#63bb58" d="M407.5 818.8l2.6-6.6 .1 6.7-2.6 8.1z"/><path color="#16639a" d="M407.6 827l2.6-8.1 .2 58.7-2.8-1.3z"/><path color="#846300" d="M351.4 784.4l1.9 .1 2.8 .8 2.8 1.2 2.9 1.3 2.8 1.3 2.8 .9 2.8-1.7-.5-12.5-2.7 1.5-2.9-1-2.8-1.3-2.8-1.3-2.9-1.1-2.8-.8-1.9 .1z"/><path color="#843700" d="M355.6 772.6l2.9 1.1 2.8 1.3 2.8 1.3 2.9 1 2.7-1.5-.4-12.5-2.8 1.3-2.8-1-2.9-1.3-2.8-1.3-2.8-1.1z"/><path color="#841600" d="M347.8 749.2l1.1-1.4 1.1-.8 1.9-.4 2.8 .6 2.8 1.1 2.9 1.3 2.8 1.3 2.8 1 2.8-1.1 2.8-.4 2.8 1 2.9 2.8 2.9 4.5 3 6.3-.3-7.6-3-7.8-3-6.1-2.9-2.3-2.8-1.3-2.8-1.4-2.8-.3-2.9-1-2.8-1.3-2.8-1.3-2.9-1.1-2.8-.5-1.8 .6-1.2 1-1.1 1.8z"/><path color="#844200" d="M336.4 798.9l-1.7-70.9-3.3 1.3 1.8 70.9z"/><path color="#fd2c16" d="M319 734.7l.2 .1 .4 .2 .5 .2-1.1 38-.3 5.3-.2 4.9-.1 4.3z"/><path color="#fd2116" d="M320.1 735.2l.4 .2-1.2 33.5-.3 4.3z"/><path color="#fd1616" d="M320.5 735.4l.5 .3 .7 .3 .7 .3-1.5 20.8-.6 3.6-.6 4.5-.4 3.7z"/><path color="#f21616" d="M322.4 736.3l.7 .4 1 .4 .9 .4 1.2 .6 1.2 .5 1.9 .9 2.8 1.3 2.9 1.4 2.8 1.3 2.8 1.3 2.9 1.3 2.8 1.4 2.8 1.3 2.9 1.3 2.8 1.3 2.9 1.3 2.8 1.4 .5 .2-1.7 16.1-.5-1.4-3-7.4-3-5.7-2.9-3.8-2.8-1.7-2.9-.1-2.7 .9-2.9-.9-2.8-1.3-2.8-1.3-2.9-1.2-2.8-.5-1.8 .6-1.2 .9-1.1 1.7-.9 2.1-.8 2.9-.6 2.9z"/><path color="#fd6e4d" d="M320.3 760.7l.6-3.6 .2 10.6-.6 2.9z"/><path color="#fd634d" d="M320.9 757.1l.6-2.9 .8-2.9 .3 11.7-.9 2.3-.6 2.4z"/><path color="#f2584d" d="M322.3 751.3l.9-2.1 1.1-1.7 .3 12.4-1.1 1.4-.9 1.7z"/><path color="#f24d4d" d="M324.3 747.5l1.2-.9 1.8-.6 2.8 .5 2.9 1.2 2.8 1.3 2.8 1.3 2.9 .9 2.7-.9 2.9 .1 2.8 1.7 2.9 3.8 3 5.7 3 7.4 .1 7.1-3-5.9-2.9-4.3-2.9-2.6-2.8-.9-2.8 .5-2.8 1.1-2.8-.9-2.8-1.3-2.9-1.3-2.8-1.2-2.8-.5-1.9 .3-1.1 .8z"/><path color="#f2584d" d="M358.8 769l.5 1.4 .1 6.8-.5-1.1z"/><path color="#fd6e4d" d="M323.5 761.3l1.1-1.4 .2 12.3-1.1 1.1z"/><path color="#f26e4d" d="M324.6 759.9l1.1-.8 .3 12.6-1.2 .5z"/><path color="#f2634d" d="M325.7 759.1l1.9-.3 2.8 .5 2.8 1.2 2.9 1.3 2.8 1.3 2.8 .9 2.8-1.1 .3 12.6-2.8 1.3-2.8-.9-2.9-1.3-2.8-1.3-2.8-1.2-2.8-.6-1.9 .2z"/><path color="#f2584d" d="M344.5 762.9l2.8-.5 2.8 .9 2.9 2.6 2.9 4.3 .2 8.5-2.9-2.9-2.9-1.3-2.8 0-2.7 1z"/><path color="#f2634d" d="M355.9 770.2l3 5.9 .5 1.1 .1 6.8-.5-.9-2.9-4.4z"/><path color="#fd8f4d" d="M327.9 771.5l2.8 .6 2.8 1.2 2.8 1.3 2.9 1.3 2.8 .9 2.8-1.3 .2 12.6-2.7 1.5-2.8-.9-2.9-1.3-2.8-1.3-2.9-1.2-2.8-.7z"/><path color="#fd844d" d="M344.8 775.5l2.7-1 .3 12-2.8 1.6z"/><path color="#fd794d" d="M347.5 774.5l2.8 0 .3 11.1-2.8 .9z"/><path color="#fd6e4d" d="M350.3 774.5l2.9 1.3 .2 10-2.8-.2z"/><path color="#fd794d" d="M353.2 775.8l2.9 2.9 2.9 4.4 .1 7.1-2.9-2.9-2.8-1.5z"/><path color="#fd844d" d="M359 783.1l.5 .9 .1 6.8-.5-.6z"/><path color="#fdd14d" d="M333.8 786.1l2.8 1.3 2.9 1.3 2.8 .9 2.7-1.5 .3 12.5-2.8 1.8-2.8-.9-2.8-1.3-2.9-1.3z"/><path color="#fdbb4d" d="M345 788.1l2.8-1.6 .2 12-2.7 2.1z"/><path color="#fdb04d" d="M347.8 786.5l2.8-.9 .2 11.1-2.8 1.8z"/><path color="#fda54d" d="M350.6 785.6l2.8 .2 .2 9.9-2.8 1z"/><path color="#fd9a4d" d="M353.4 785.8l2.8 1.5 2.9 2.9 .5 .6 .1 6.7-.5-.4-2.8-1.4-2.8 0z"/><path color="#f2f258" d="M342.5 802.4l2.8-1.8 .3 12.6-2.8 2z"/><path color="#fdfd58" d="M345.3 800.6l2.7-2.1 .3 12-2.7 2.7z"/><path color="#fde74d" d="M348 798.5l2.8-1.8 .2 11.1-2.7 2.7z"/><path color="#fddc4d" d="M350.8 796.7l2.8-1 .1 9.9-2.7 2.2z"/><path color="#fdd14d" d="M353.6 795.7l2.8 0 .1 8.5-2.8 1.4z"/><path color="#fdc64d" d="M356.4 795.7l2.8 1.4 .5 .4 .1 6.7-.5-.2-2.8 .2z"/><path color="#c6e758" d="M345.6 813.2l2.7-2.7 .2 12-2.7 3.3z"/><path color="#dcf258" d="M348.3 810.5l2.7-2.7 .2 11.1-2.7 3.6z"/><path color="#f2f258" d="M351 807.8l2.7-2.2 .2 9.8-2.7 3.5z"/><path color="#fdf258" d="M353.7 805.6l2.8-1.4 .1 8.4-2.7 2.8z"/><path color="#fde74d" d="M356.5 804.2l2.8-.2 .5 .2 .1 6.6-.5 .1-2.8 1.7z"/><path color="#79c658" d="M345.8 825.8l2.7-3.3 .3 12-2.7 3.8z"/><path color="#9adc58" d="M348.5 822.5l2.7-3.6 .2 11-2.6 4.6z"/><path color="#bbe758" d="M351.2 818.9l2.7-3.5 .2 9.8-2.7 4.7z"/><path color="#dcf258" d="M353.9 815.4l2.7-2.8 .2 8.4-2.7 4.2z"/><path color="#e7f258" d="M356.6 812.6l2.8-1.7 .1 6.9-2.7 3.2z"/><path color="#f2f258" d="M359.4 810.9l.5-.1 0 6.6-.4 .4z"/><path color="#63bb58" d="M348.8 834.5l2.6-4.6 .2 11-2.6 5.5z"/><path color="#79c658" d="M351.4 829.9l2.7-4.7 .2 9.8-2.7 5.9z"/><path color="#a5dc58" d="M354.1 825.2l2.7-4.2 .1 8.3-2.6 5.7z"/><path color="#c6e758" d="M356.8 821l2.7-3.2 .1 6.8-2.7 4.7z"/><path color="#dcf258" d="M359.5 817.8l.4-.4 .1 6.5-.4 .7z"/><path color="#63b058" d="M351.6 840.9l2.7-5.9 .2 9.7-2.6 7.2z"/><path color="#63bb58" d="M354.3 835l2.6-5.7 .2 8.3-2.6 7.1z"/><path color="#9adc58" d="M356.9 829.3l2.7-4.7 .1 6.7-2.6 6.3z"/><path color="#b0e758" d="M359.6 824.6l.4-.7 .1 6.5-.4 .9z"/><path color="#63b058" d="M354.5 844.7l2.6-7.1 .1 8.2-2.6 8.6z"/><path color="#63bb58" d="M357.1 837.6l2.6-6.3 .1 6.7-2.6 7.8z"/><path color="#8fd158" d="M359.7 831.3l.4-.9 .1 6.4-.4 1.2z"/><path color="#4d84b0" d="M357.2 845.8l2.6-7.8 .8 59.8-2.8-1.4z"/><path color="#588fa5" d="M359.8 838l.4-1.2 .9 59.6-.5 1.4z"/><path color="#846e00" d="M298.8 807.8l1.1-.5 1.2-.2 1.8 .1 2.9 .8 2.8 1.2 2.8 1.3 2.9 1.3 2.8 .9-.5-12.7-2.8-.9-2.8-1.3-2.9-1.3-2.8-1.2-2.8-.7-1.9 .1-1.1 .3-1.2 .8z"/><path color="#844200" d="M300.6 794.7l1.9-.1 2.8 .7 2.8 1.2 2.9 1.3 2.8 1.3 2.8 .9 2.8-1.5-.4-12.5-2.8 1.3-2.8-.9-2.9-1.3-2.8-1.3-2.8-1.2-2.9-.6-1.8 .2z"/><path color="#dc2c0b" d="M269 754.7l.2 .1-1.3 52.1 0 6.1z"/><path color="#f22c16" d="M269.2 754.8l.2 .2-1.3 47.4-.2 4.5z"/><path color="#fd2c16" d="M269.4 755l.4 .1-1.5 42.1-.2 5.2z"/><path color="#fd2116" d="M269.8 755.1l.5 .2 .4 .3-1.8 31.5-.3 4.6-.3 5.5z"/><path color="#fd1616" d="M270.7 755.6l.5 .2 .7 .3 .7 .3-2.2 18.2-.6 3.8-.5 4.8-.4 3.9z"/><path color="#f21616" d="M272.6 756.4l.7 .4 1 .4 .9 .5 1.2 .5 1.2 .6 1.9 .8 2.8 1.4 2.9 1.3 2.8 1.3 2.8 1.3 2.9 1.4 2.8 1.3-2.7 1.1-2.8-.5-2.8-1-2.9-1.3-2.8-1.3-2.8-1.1-2.8-.5-1.9 .6-1.1 1-1.1 1.8-.9 2.2-.9 3-.6 3z"/><path color="#f21616" d="M302.2 770.2l2.8 1.3 2.9 1.4 2.8 1.3 .5 .2-2.3 14.5-.5-1.5-3.1-7.8-2.9-6.1-2.9-2.2z"/><path color="#fd634d" d="M269.8 778.4l.6-3.8 .6-3 .3 12-.7 2.4-.6 3.1z"/><path color="#fd584d" d="M271 771.6l.9-3 .2 12.5-.8 2.5z"/><path color="#f24d4d" d="M271.9 768.6l.9-2.2 1.1-1.8 1.1-1 1.9-.6 2.8 .5 2.8 1.1 2.8 1.3 2.9 1.3 2.8 1 2.8 .5 .3 12.2-2.8 1.1-2.8-1-2.9-1.3-2.8-1.3-2.8-1.1-2.9-.6-1.8 .4-1.2 .8-1.1 1.5-.9 1.7z"/><path color="#fd4d4d" d="M293.8 768.7l2.9 1.3 .2 10.5-2.8 .4z"/><path color="#f24d4d" d="M296.7 770l2.8 1.3 2.9 2.2 2.9 6.1 3.1 7.8 .1 7.7-3-6.2-2.9-4.5-2.9-2.8-2.8-1.1z"/><path color="#f2584d" d="M308.4 787.4l.5 1.5 .1 7.4-.5-1.2z"/><path color="#fd6e4d" d="M272.1 781.1l.9-1.7 .3 12-.9 1.4z"/><path color="#fd634d" d="M273 779.4l1.1-1.5 .3 12.4-1.1 1.1z"/><path color="#f2634d" d="M274.1 777.9l1.2-.8 1.8-.4 2.9 .6 .2 12.8-2.8-.7-1.9 .3-1.1 .6z"/><path color="#f2584d" d="M280 777.3l2.8 1.1 2.8 1.3 2.9 1.3 2.8 1 2.8-1.1 2.8-.4 2.8 1.1 2.9 2.8 2.9 4.5 .1 8.6-2.9-3.2-2.8-1.6-2.8-.1-2.8 .9-2.7 1.3-2.9-1-2.8-1.3-2.8-1.3-2.9-1.1z"/><path color="#f2634d" d="M305.5 788.9l3 6.2 .5 1.2 .1 6.8-.5-.9-3-4.7z"/><path color="#fd844d" d="M280.2 790.1l2.9 1.1 2.8 1.3 2.8 1.3 2.9 1 2.7-1.3 .3 12.6-2.8 1.5-2.8-1-2.8-1.3-2.9-1.3-2.8-1.1z"/><path color="#fd794d" d="M294.3 793.5l2.8-.9 .2 12-2.7 1.5z"/><path color="#fd6e4d" d="M297.1 792.6l2.8 .1 2.8 1.6 2.9 3.2 .2 8.5-2.9-1.7-2.8-.4-2.8 .7z"/><path color="#fd794d" d="M305.6 797.5l3 4.7 .5 .9 .1 6.8-.5-.7-2.9-3.2z"/><path color="#fdc64d" d="M283.3 804l2.9 1.3 2.8 1.3 2.8 1 2.8-1.5 .2 12.5-2.7 1.7-2.8-.9-2.9-1.3-2.8-1.3z"/><path color="#fdb04d" d="M294.6 806.1l2.7-1.5 .3 12-2.8 2z"/><path color="#fda54d" d="M297.3 804.6l2.8-.7 .2 11.1-2.7 1.6z"/><path color="#fd9a4d" d="M300.1 803.9l2.8 .4 .2 9.9-2.8 .8z"/><path color="#fd8f4d" d="M302.9 804.3l2.9 1.7 2.9 3.2 .1 7-2.9-1.7-2.8-.3z"/><path color="#fd9a4d" d="M308.7 809.2l.5 .7 .1 6.7-.5-.4z"/><path color="#f2fd58" d="M292.1 820.3l2.7-1.7 .3 12.6-2.7 1.9z"/><path color="#fdf24d" d="M294.8 818.6l2.8-2 .2 12-2.7 2.6z"/><path color="#fddc4d" d="M297.6 816.6l2.7-1.6 .3 11.1-2.8 2.5z"/><path color="#fdd14d" d="M300.3 815l2.8-.8 .2 9.9-2.7 2z"/><path color="#fdc64d" d="M303.1 814.2l2.8 .3 .2 8.5-2.8 1.1z"/><path color="#fdbb4d" d="M305.9 814.5l2.9 1.7 .5 .4 0 6.7-.4-.2-2.8-.1z"/><path color="#d1f258" d="M295.1 831.2l2.7-2.6 .3 12-2.7 3.2z"/><path color="#e7f258" d="M297.8 828.6l2.8-2.5 .2 11-2.7 3.5z"/><path color="#f2fd58" d="M300.6 826.1l2.7-2 .2 9.8-2.7 3.2z"/><path color="#fdf24d" d="M303.3 824.1l2.8-1.1 .1 8.4-2.7 2.5z"/><path color="#fde74d" d="M306.1 823l2.8 .1 .1 6.9-2.8 1.4z"/><path color="#fddc4d" d="M308.9 823.1l.4 .2 .1 6.6-.4 .1z"/><path color="#84d158" d="M295.4 843.8l2.7-3.2 .2 12-2.7 3.7z"/><path color="#a5e758" d="M298.1 840.6l2.7-3.5 .2 11.1-2.7 4.4z"/><path color="#c6e758" d="M300.8 837.1l2.7-3.2 .2 9.8-2.7 4.5z"/><path color="#dcf258" d="M303.5 833.9l2.7-2.5 .2 8.4-2.7 3.9z"/><path color="#f2f258" d="M306.2 831.4l2.8-1.4 .1 6.8-2.7 3z"/><path color="#f2fd58" d="M309 830l.4-.1 .1 6.6-.4 .3z"/><path color="#63bb58" d="M298.3 852.6l2.7-4.4 .2 11-2.6 5.3z"/><path color="#84d158" d="M301 848.2l2.7-4.5 .1 9.8-2.6 5.7z"/><path color="#b0e758" d="M303.7 843.7l2.7-3.9 .1 8.3-2.7 5.4z"/><path color="#d1f258" d="M306.4 839.8l2.7-3 .1 6.8-2.7 4.5z"/><path color="#dcf258" d="M309.1 836.8l.4-.3 .1 6.5-.4 .6z"/><path color="#63bb58" d="M301.2 859.2l2.6-5.7 .2 9.7-2.6 7z"/><path color="#79c658" d="M303.8 853.5l2.7-5.4 .1 8.3-2.6 6.8z"/><path color="#a5dc58" d="M306.5 848.1l2.7-4.5 .1 6.8-2.7 6z"/><path color="#bbe758" d="M309.2 843.6l.4-.6 .1 6.5-.4 .9z"/><path color="#63b058" d="M304 863.2l2.6-6.8 .2 8.3-2.6 8.2z"/><path color="#6ec658" d="M306.6 856.4l2.7-6 .1 6.7-2.6 7.6z"/><path color="#8fdc58" d="M309.3 850.4l.4-.9 .1 6.5-.4 1.1z"/><path color="#63b063" d="M306.8 864.7l2.6-7.6 .2 17.5-2.5 11.6z"/><path color="#63bb58" d="M309.4 857.1l.4-1.1 .2 16.7-.4 1.9z"/><path color="#844200" d="M230.4 841.8l-1.8-71-3.2 1.3 1.8 71z"/><path color="#844200" d="M223.9 844.4l-1.7-71-3.3 1.4 1.8 70.9z"/><path color="#842c00" d="M218.9 774.8l.3 .1-1.7 55.8 0 9.2z"/><path color="#dc2c0b" d="M219.2 774.9l.2 .1-1.9 48.6 0 7.1z"/><path color="#f22c16" d="M219.4 775l.3 .1-2.1 43.2-.1 5.3z"/><path color="#fd2116" d="M219.7 775.1l.3 .2 .5 .2-2.4 30.1-.3 6.5-.2 6.2z"/><path color="#fd1616" d="M220.5 775.5l.5 .2 .4 .2 .7 .3-2.8 13.9-.6 5.6-.3 4.5-.3 5.4z"/><path color="#f21616" d="M258.1 793l2.8 1.3 .5 .2-3 8.7-.5-1.7-3.1-7.2z"/><path color="#fd794d" d="M218.4 800.2l.3-4.5 .3 15.9-.4 3.2z"/><path color="#fd634d" d="M218.7 795.7l.6-5.6 .3 17.5-.6 4z"/><path color="#fd584d" d="M219.3 790.1l.5-4.4 .6-3.5 .4 19.7-.6 2.5-.6 3.2z"/><path color="#fd4d4d" d="M220.4 782.2l.9-3.6 .9 .5 .4 18.4-.9 1.8-.9 2.6z"/><path color="#fd584d" d="M222.2 779.1l1.2 .5 1.2 .6 1.9 .9 2.8 1.3 2.8 1.3 .2 12.7-2.8-1.2-2.8-.5-1.9 .4-1.1 .9-1.1 1.5z"/><path color="#fd4d4d" d="M232.1 783.7l2.9 1.3 2.8 1.4 2.9 1.3 2.8 1.3 2.8 1.3 2.9 1.4 2.8 1.3 2.8 1.3 .3 13.4-3-4.9-2.9-2.9-2.8-1.3-2.8 .3-2.8 1-2.8-.9-2.8-1.3-2.9-1.3z"/><path color="#f24d4d" d="M254.8 794.3l3.1 7.2 .5 1.7 .1 12.2-.5-1.2-2.9-6.5z"/><path color="#fd6e4d" d="M220.8 801.9l.9-2.6 .2 11.7-.9 2z"/><path color="#fd634d" d="M221.7 799.3l.9-1.8 .2 12-.9 1.5z"/><path color="#f2634d" d="M222.6 797.5l1.1-1.5 1.1-.9 .3 12.6-1.2 .6-1.1 1.2z"/><path color="#f2584d" d="M224.8 795.1l1.9-.4 2.8 .5 2.8 1.2 2.9 1.3 2.8 1.3 2.8 .9 2.8-1 .3 12.6-2.8 1.2-2.8-.9-2.9-1.3-2.8-1.3-2.8-1.2-2.8-.6-1.9 .3z"/><path color="#f24d4d" d="M243.6 798.9l2.8-.3 2.8 1.3 2.9 2.9 .2 10-2.8-1.8-2.8-.3-2.8 .8z"/><path color="#f2584d" d="M252.1 802.8l3 4.9 2.9 6.5 .2 7-3-5-2.9-3.4z"/><path color="#f2634d" d="M258 814.2l.5 1.2 .1 6.8-.4-1z"/><path color="#fd794d" d="M238.3 811.8l2.8 .9 2.8-1.2 .2 12.6-2.7 1.4-2.9-.9z"/><path color="#fd6e4d" d="M243.9 811.5l2.8-.8 .2 12-2.8 1.4z"/><path color="#f2634d" d="M246.7 810.7l2.8 .3 2.8 1.8 .2 10-2.8-.6-2.8 .5z"/><path color="#fd634d" d="M252.3 812.8l2.9 3.4 .2 8.6-2.9-2z"/><path color="#fd6e4d" d="M255.2 816.2l3 5 .1 7.1-2.9-3.5z"/><path color="#fd794d" d="M258.2 821.2l.4 1 .1 6.8-.4-.7z"/><path color="#fdb04d" d="M241.4 825.5l2.7-1.4 .3 12.5-2.8 1.7z"/><path color="#fda54d" d="M244.1 824.1l2.8-1.4 .2 12-2.7 1.9z"/><path color="#fd9a4d" d="M246.9 822.7l2.8-.5 .2 11.1-2.8 1.4z"/><path color="#fd8f4d" d="M249.7 822.2l2.8 .6 2.9 2 2.9 3.5 .4 .7 .1 6.7-.4-.5-2.9-1.9-2.8-.6-2.8 .6z"/><path color="#fdf24d" d="M241.6 838.3l2.8-1.7 .3 12.6-2.8 1.9z"/><path color="#fde74d" d="M244.4 836.6l2.7-1.9 .3 12-2.7 2.5z"/><path color="#fdd14d" d="M247.1 834.7l2.8-1.4 .2 11.1-2.7 2.3z"/><path color="#fdc64d" d="M249.9 833.3l2.8-.6 .2 9.9-2.8 1.8z"/><path color="#fdbb4d" d="M252.7 832.7l2.8 .6 2.9 1.9 .1 7-2.9-.4-2.7 .8z"/><path color="#fdb04d" d="M258.4 835.2l.4 .5 .1 6.7-.4-.2z"/><path color="#c6f258" d="M241.9 851.1l2.8-1.9 .2 12.6-2.7 2.1z"/><path color="#dcf258" d="M244.7 849.2l2.7-2.5 .2 12-2.7 3.1z"/><path color="#f2f258" d="M247.4 846.7l2.7-2.3 .2 11-2.7 3.3z"/><path color="#fdf258" d="M250.1 844.4l2.8-1.8 .1 9.8-2.7 3z"/><path color="#fde74d" d="M252.9 842.6l2.7-.8 .2 8.4-2.8 2.2z"/><path color="#fddc4d" d="M255.6 841.8l2.9 .4 .4 .2 .1 6.6-.4 .1-2.8 1.1z"/><path color="#9adc58" d="M244.9 861.8l2.7-3.1 .3 12-2.7 3.6z"/><path color="#b0e758" d="M247.6 858.7l2.7-3.3 .2 11.1-2.6 4.2z"/><path color="#d1f258" d="M250.3 855.4l2.7-3 .2 9.8-2.7 4.3z"/><path color="#e7f258" d="M253 852.4l2.8-2.2 .1 8.4-2.7 3.6z"/><path color="#f2fd58" d="M255.8 850.2l2.8-1.1 .1 6.8-2.8 2.7z"/><path color="#fdf258" d="M258.6 849.1l.4-.1 .1 6.6-.4 .3z"/><path color="#6ebb58" d="M247.9 870.7l2.6-4.2 .3 11-2.7 5.1z"/><path color="#9adc58" d="M250.5 866.5l2.7-4.3 .2 9.8-2.6 5.5z"/><path color="#bbe758" d="M253.2 862.2l2.7-3.6 .2 8.3-2.7 5.1z"/><path color="#dcf258" d="M255.9 858.6l2.8-2.7 0 6.8-2.6 4.2z"/><path color="#e7f258" d="M258.7 855.9l.4-.3 .1 6.6-.5 .5z"/><path color="#63bb58" d="M250.8 877.5l2.6-5.5 .2 9.8-2.6 6.7z"/><path color="#84d158" d="M253.4 872l2.7-5.1 .1 8.3-2.6 6.6z"/><path color="#b0e758" d="M256.1 866.9l2.6-4.2 .1 6.8-2.6 5.7z"/><path color="#bbe758" d="M258.7 862.7l.5-.5 .1 6.5-.5 .8z"/><path color="#63bb58" d="M253.6 881.8l2.6-6.6 .1 8.3-2.5 8z"/><path color="#79c658" d="M256.2 875.2l2.6-5.7 .1 6.7-2.6 7.3z"/><path color="#9adc58" d="M258.8 869.5l.5-.8 .1 6.4-.5 1.1z"/><path color="#63bb58" d="M256.3 883.5l2.6-7.3 .1 6.7-2.5 8.8z"/><path color="#6ec658" d="M258.9 876.2l.5-1.1 .1 6.5-.5 1.3z"/><path color="#16638f" d="M259 882.9l.5-1.3-1.2 57.9-.5-.2z"/><path color="#213742" d="M196.7 927.7l.2 .1-3.3-45.9-.5-7.2z"/><path color="#21374d" d="M196.9 927.8l.3 .1-3.2-40.7-.4-5.3z"/><path color="#212c58" d="M197.2 927.9l.3 .2 .5 .2-2.9-28.5-.6-6.4-.5-6.2z"/><path color="#212163" d="M198 928.3l.5 .2 .4 .2 .8 .4 .7 .3 .7 .3 .9 .5-2.2-7.1-1.1-2.6-.7-2.8-.8-3.7-.9-4.9-.6-4.2-.6-5.1z"/><path color="#211663" d="M202 930.2l1 .4-2.3-5.6-.9-1.9z"/><path color="#21166e" d="M203 930.6l1.1 .6 1.2 .5 1.9 .9 2.9 1.3 2.8 1.3 2.8 1.4 2.9 1.3 2.8 1.3-2.2-4.7-2.8-.8-2.8-1.3-2.9-1.3-2.8-1.3-2.9-1.2-1.9-1.1-1.1-1-1.3-1.5z"/><path color="#212163" d="M221.4 939.2l2.8 1.3 2.9 1.4 2.8 1.3-2.8-25.7-2.5 7.8-2.7 6-2.7 3.2z"/><path color="#212c58" d="M229.9 943.2l2.9 1.3-3.1-35.9-2.6 8.9z"/><path color="#212c4d" d="M232.8 944.5l2.8 1.3-3.4-46.3-2.5 9.1z"/><path color="#213742" d="M235.6 945.8l2.8 1.3-3.6-56-2.6 8.4z"/><path color="#214237" d="M238.4 947.1l.5 .3-3.7-57.6-.4 1.3z"/><path color="#214d21" d="M194 887.2l.5 6.2-.3-6.2-.5-5.1z"/><path color="#214d2c" d="M194.5 893.4l.6 6.4-.3-7.3-.6-5.3z"/><path color="#214237" d="M195.1 899.8l.6 5.1-.3-8.2-.6-4.2z"/><path color="#213742" d="M195.7 904.9l.6 4.2-.3-9-.6-3.4z"/><path color="#21374d" d="M196.3 909.1l.9 4.9-.4-9.9-.8-4z"/><path color="#212c58" d="M197.2 914l.8 3.7 .7 2.8-.4-11.1-.7-2.3-.8-3z"/><path color="#212163" d="M198.7 920.5l1.1 2.6 .9 1.9 1.3 1.5 1.1 1 1.9 1.1 2.9 1.2 2.8 1.3 2.9 1.3 2.8 1.3 2.8 .8 2.7-3.2-.4-12.5-2.7 3-2.9-.8-2.8-1.3-2.8-1.3-2.9-1.3-2.8-1.2-1.9-.9-1.2-.8-1.2-1.2-1-1.5-1-2.1z"/><path color="#212c4d" d="M221.9 931.3l2.7-6-.5-11.8-2.6 5.3z"/><path color="#213742" d="M224.6 925.3l2.5-7.8-.4-10.8-2.6 6.8z"/><path color="#214d2c" d="M227.1 917.5l2.6-8.9-.4-9.6-2.6 7.7z"/><path color="#214d16" d="M229.7 908.6l2.5-9.1-.3-8.1-2.6 7.6z"/><path color="#2c580b" d="M193 871.8l.4 5.9 .3 4.4-.2-5-.4-3.5-.3-4.7z"/><path color="#214d0b" d="M193.7 882.1l.5 5.1-.3-6.1-.4-4z"/><path color="#214d16" d="M194.2 887.2l.6 5.3-.3-7.3-.6-4.1z"/><path color="#214d21" d="M194.8 892.5l.6 4.2-.3-8.2-.6-3.3z"/><path color="#214d2c" d="M195.4 896.7l.6 3.4-.4-8.9-.5-2.7z"/><path color="#214237" d="M196 900.1l.8 4 .8 3-.4-10.5-.8-2.3-.8-3.1z"/><path color="#213742" d="M197.6 907.1l.7 2.3 1 2.1 1 1.5 1.2 1.2-.4-12.3-1.2-.9-1-1.1-1-1.6-.7-1.7z"/><path color="#21374d" d="M201.5 914.2l1.2 .8 1.9 .9 2.8 1.2 2.9 1.3 2.8 1.3 2.8 1.3-.4-12.7-2.9-1.3-2.8-1.3-2.8-1.3-2.9-1.1-1.9-.8-1.1-.6z"/><path color="#213742" d="M215.9 921l2.9 .8 2.7-3-.5-12.4-2.7 2.7-2.8-.8z"/><path color="#214237" d="M221.5 918.8l2.6-5.3-.4-11.8-2.7 4.7z"/><path color="#214d0b" d="M226.7 906.7l2.6-7.7-.4-9.6-2.6 6.4z"/><path color="#21370b" d="M192.4 862.9l.4 6-.2-2.9-.4-4.4z"/><path color="#2c580b" d="M192.8 868.9l.3 4.7 .4 3.5 .4 4-.2-6.1-.5-3-.3-2.6-.3-3.4z"/><path color="#21580b" d="M193.9 881.1l.6 4.1-.3-7.2-.5-3z"/><path color="#214d16" d="M194.5 885.2l.6 3.3 .5 2.7-.3-8.9-.5-1.9-.6-2.4z"/><path color="#214d21" d="M195.6 891.2l.8 3.1 .8 2.3 .7 1.7 1 1.6-.4-11.6-1-1.1-.7-1.2-.8-1.5-.7-2.2z"/><path color="#214d2c" d="M198.9 899.9l1 1.1 1.2 .9 1.1 .6 1.9 .8 2.9 1.1 2.8 1.3 2.8 1.3 2.9 1.3 2.8 .8-.5-12.7-2.8-.8-2.8-1.4-2.9-1.3-2.8-1.2-2.8-1-1.9-.7-1.2-.4-1.2-.6-.9-.7z"/><path color="#214d21" d="M218.3 909.1l2.7-2.7-.4-12.5-2.8 2.5z"/><path color="#214d16" d="M221 906.4l2.7-4.7-.4-11.9-2.7 4.1z"/><path color="#37630b" d="M192.9 869.4l.3 2.6-.2-5.1-.3-1.6z"/><path color="#2c580b" d="M193.2 872l.5 3 .5 3 .6 2.4 .5 1.9 .7 2.2-.3-9.9-.8-1.3-.5-1.1-.5-1.5-.5-1.9-.4-1.9z"/><path color="#21580b" d="M196 884.5l.8 1.5 .7 1.2 1 1.1 .9 .7 1.2 .6 1.2 .4 1.9 .7 2.8 1 2.8 1.2 2.9 1.3 2.8 1.4 2.8 .8-.4-12.7-2.8-.9-2.9-1.3-2.8-1.3-2.8-1.2-2.9-1-1.9-.5-1.1-.2-1.2-.3-.9-.3-1-.6-.7-.6-.7-.9z"/><path color="#2c580b" d="M217.8 896.4l2.8-2.5 2.7-4.1-.5-11.9-2.7 3.5-2.7 2.3z"/><path color="#4d6e0b" d="M192.1 860.3l.3 2.8 .3 2.2-.2-4.1-.3-1-.2-1.2z"/><path color="#42630b" d="M193 866.9l.4 1.9 .5 1.9-.3-7.2-.5-.8-.3-.8z"/><path color="#37630b" d="M193.9 870.7l.5 1.5 .5 1.1 .8 1.3 .7 .9 .7 .6 1 .6 .9 .3 1.2 .3 1.1 .2 1.9 .5 2.9 1 2.8 1.2 2.8 1.3 2.9 1.3-.5-12.7-2.8-1.3-2.9-1.3-2.8-1.2-2.8-.9-1.9-.3-1.2-.1-1.1 0-1 0-.9 .1-.7-.1-.7-.2-.7-.4-.5-.4-.5-.5z"/><path color="#42630b" d="M214.6 882.8l2.8 .9-.5-12.7-2.8-.9z"/><path color="#426e0b" d="M217.4 883.7l2.7-2.3-.4-12.4-2.8 2z"/><path color="#586e0b" d="M192 859l.2 1.2 .3 1 .3 .7 .3 .8 .5 .8 .5 .5 .5 .4 .7 .4-.4-9.8-.7 .5-.4 .4-.5 .3-.4 .4-.4 .2-.2 .2-.2 .3-.3 .4z"/><path color="#58790b" d="M195.3 864.8l.7 .2 .7 .1 .9-.1-.4-11.6-.9 .6-.7 .5-.7 .5z"/><path color="#63790b" d="M197.6 865l1 0 1.1 0 1.2 .1 1.9 .3-.5-12.6-1.9-.2-1.1 .1-1.2 .3-.9 .4z"/><path color="#6e790b" d="M202.8 865.4l2.8 .9 2.8 1.2 2.9 1.3 2.8 1.3 2.8 .9 2.8-2-.5-12.5-2.7 1.8-2.9-.9-2.8-1.3-2.8-1.3-2.9-1.2-2.8-.8z"/><path color="#63790b" d="M191.8 857.7l.3-.4 .2-.3 .2-.2-.2-5-.2 1.1-.2 1.5-.2 2z"/><path color="#6e790b" d="M192.5 856.8l.4-.2 .4-.4 .5-.3-.4-8.2-.4 1.3-.4 1.5-.3 1.3z"/><path color="#79790b" d="M193.8 855.9l.4-.4 .7-.5 .7-.5 .7-.5-.4-11.1-.7 1.1-.7 1.2-.6 1.4-.5 1.1z"/><path color="#84790b" d="M196.3 854l.9-.6 .9-.4-.4-11.9-.9 .8-.9 1z"/><path color="#84840b" d="M198.1 853l1.2-.3-.5-12.3-1.1 .7z"/><path color="#84790b" d="M199.3 852.7l1.1-.1 1.9 .2 2.8 .8 2.9 1.2 2.8 1.3 2.8 1.3 2.9 .9-.5-12.7-2.8-.9-2.8-1.3-2.9-1.3-2.8-1.2-2.8-.8-1.9 0-1.2 .3z"/><path color="#63790b" d="M191.5 857.5l.2-1.1 .2-2-.2-2.8-.1 3.5-.2 2.5z"/><path color="#79790b" d="M192.1 852.9l.2-1.1 .3-1.3-.3-6.1-.3 2.3-.1 2.1z"/><path color="#84790b" d="M192.6 850.5l.4-1.5-.3-7.2-.4 2.6z"/><path color="#84840b" d="M193 849l.4-1.3-.3-8.1-.4 2.2z"/><path color="#84790b" d="M193.4 847.7l.5-1.1 .6-1.4-.3-9.8-.7 2.3-.4 1.9z"/><path color="#846e00" d="M194.5 845.2l.7-1.2 .7-1.1-.4-11-.7 1.5-.6 2z"/><path color="#846300" d="M195.9 842.9l.9-1 .9-.8-.4-12-.9 1.2-.9 1.6z"/><path color="#845800" d="M197.7 841.1l1.1-.7 1.2-.3 1.9 0 2.8 .8-.5-12.7-2.8-.7-1.9 .1-1.1 .5-1.1 1z"/><path color="#844d00" d="M204.7 840.9l2.8 1.2 2.9 1.3 2.8 1.3 2.8 .9 2.8-1.6-.5-12.5-2.7 1.4-2.9-1-2.8-1.3-2.8-1.3-2.9-1.1z"/><path color="#63790b" d="M191.4 857.6l.2-2.5-.2-1.2-.1 3.7z"/><path color="#6e790b" d="M191.6 855.1l.1-3.5-.2-2.9-.1 5.2z"/><path color="#79790b" d="M191.7 851.6l.2-2.8-.3-4.1-.1 4z"/><path color="#84790b" d="M191.9 848.8l.1-2.1 .3-2.3-.3-6.1-.2 3.4-.2 3z"/><path color="#846e00" d="M192.3 844.4l.4-2.6 .4-2.2-.3-8.1-.4 3.1-.4 3.7z"/><path color="#846300" d="M193.1 839.6l.4-1.9-.3-8.8-.4 2.6z"/><path color="#845800" d="M193.5 837.7l.7-2.3-.4-9.8-.6 3.3z"/><path color="#844d00" d="M194.2 835.4l.6-2 .7-1.5-.4-11.1-.7 2.1-.6 2.7z"/><path color="#844200" d="M195.5 831.9l.9-1.6-.5-11.6-.8 2.1z"/><path color="#843700" d="M196.4 830.3l.9-1.2 1.1-1 1.1-.5 1.9-.1-.4-12.6-1.9 .3-1.2 .7-1.1 1.2-.9 1.6z"/><path color="#842c00" d="M201.4 827.5l2.8 .7 2.9 1.1 2.8 1.3 2.8 1.3 2.9 1 2.7-1.4-.4-12.5-2.8 1.2-2.8-1-2.9-1.3-2.8-1.3-2.8-1.1-2.8-.6z"/><path color="#79790b" d="M191.4 853.9l.1-5.2-.1-2.9-.1 6.8z"/><path color="#84790b" d="M191.5 848.7l.1-4 .2-3-.2-5-.2 3.9 0 5.2z"/><path color="#846e00" d="M191.8 841.7l.2-3.4-.2-6.1-.2 4.5z"/><path color="#846300" d="M192 838.3l.4-3.7-.3-7.3-.3 4.9z"/><path color="#844d00" d="M192.4 834.6l.4-3.1-.3-8.1-.4 3.9z"/><path color="#844200" d="M192.8 831.5l.4-2.6-.4-8.9-.3 3.4z"/><path color="#843700" d="M193.2 828.9l.6-3.3 .6-2.7-.4-10.4-.6 3.3-.6 4.2z"/><path color="#842c00" d="M194.4 822.9l.7-2.1-.5-11-.6 2.7z"/><path color="#842100" d="M195.1 820.8l.8-2.1 .9-1.6 1.1-1.2 1.2-.7 1.9-.3 2.8 .6 2.8 1.1 2.8 1.3 2.9 1.3 2.8 1-.5-12.7-2.8-1-2.8-1.3-2.9-1.3-2.8-1.1-2.8-.6-1.9 .5-1.1 .9-1.1 1.6-.9 1.9-.9 2.7z"/><path color="#6e790b" d="M191.2 857.6l.1-5-1.3-13.5 .3 18.9z"/><path color="#846e00" d="M191.3 852.6l.1-6.8-1.8-30.1 .4 23.4z"/><path color="#844200" d="M191.4 845.8l0-5.2-2.1-43.1 .3 18.2z"/><path color="#842c00" d="M191.4 840.6l.2-3.9-2.4-49.3 .1 10.1z"/><path color="#842100" d="M191.6 836.7l.2-4.5 .3-4.9 .4-3.9 .3-3.4-1.8-31.8-.5-.2-.4-.2-.5-.3-.4-.1z"/><path color="#841600" d="M192.8 820l.6-4.2 .6-3.3 .6-2.7 .9-2.7 .9-1.9 1.1-1.6 1.1-.9 1.9-.5 2.8 .6 2.8 1.1 2.9 1.3 2.8 1.3 2.8 1 2.8-1.1 2.8-.1 2.9 1.4 2.9 3.3 2.9 5.2 3 6.8 .5 1.3-1.4-17.5-.5-.2-2.8-1.3-2.9-1.3-2.8-1.4-2.8-1.3-2.9-1.3-2.8-1.3-2.9-1.3-2.8-1.4-2.8-1.3-2.9-1.3-2.8-1.3-1.9-.9-1.2-.6-1.2-.5-.9-.5-1-.4-.7-.3-.7-.4-.7-.3z"/><path color="#846300" d="M190.3 858l-.3-18.9-4.7-50.7 1.8 70.9z"/><path color="#842100" d="M190 839.1l-.4-23.4-4.1-27.2-.2-.1z"/><path color="#841600" d="M189.6 815.7l-.3-18.2-.1-10.1-3.2 1.3-.2-.1-.3-.1z"/><path color="#844200" d="M187.1 859.3l-1.8-70.9-3.2 1.3 1.7 70.9z"/><path color="#844200" d="M183.8 860.6l-1.7-70.9-3.3 1.3 1.8 70.9z"/><path color="#844200" d="M180.6 861.9l-1.8-70.9-3.2 1.3 1.8 70.9z"/><path color="#844200" d="M177.4 863.2l-1.8-70.9-2.3 .9 1.8 70.9z"/><path color="#f21616" d="M462.2 713.4l-2.1 19 1.8 4.8 1.9-23z"/><path color="#4db021" d="M460.1 732.4l1 125.2 1.7 .7-.9-121.1z"/><path color="#f23716" d="M411.3 733.9l-1.1 51.6 1.6 .5 1.2-51.3z"/><path color="#218f37" d="M410.2 785.5l0 92.6 1.7 .8-.1-92.9z"/><path color="#fd840b" d="M360.4 754.5l-.2 83.1 1.5-3.9 .4-78.4z"/><path color="#166e84" d="M360.2 837.6l-.8 61.1 1.6 .7 .7-65.7z"/><path color="#fdf216" d="M309.6 775.1l.7 115.1 1.4-8.5-.5-105.9z"/><path color="#b0e721" d="M258.7 795.6l1.5 143.2 1.4-7.4-1.2-135z"/><path color="#212c58" d="M239.8 947l-3.3-27 1.4-8.5 3.6 36.3z"/><path color="#84790b" d="M236.5 920l-5.8-113.1 1.7 .8 5.5 103.8z"/><path color="#f21616" d="M463.8 714.2l-1.9 23 1.6 0 2-22.3z"/><path color="#63c64d" d="M461.9 737.2l.9 121.1 1.6 .8-.9-121.9z"/><path color="#fd2c16" d="M413 734.7l-1.2 51.3 1.5-5.4 1.3-45.1z"/><path color="#219a2c" d="M411.8 786l.1 92.9 1.7 .8-.3-99.1z"/><path color="#fd6e0b" d="M362.1 755.3l-.4 78.4 1.4-11.2 .6-66.5z"/><path color="#21846e" d="M361.7 833.7l-.7 65.7 1.7 .8 .4-77.7z"/><path color="#fdc616" d="M311.2 775.8l.5 105.9 1.1-17.6 .1-87.5z"/><path color="#e7fd16" d="M260.4 796.4l1.2 135 .9-24.9-.5-109.3z"/><path color="#21374d" d="M241.5 947.8l-3.6-36.3 1.1-17.5 4.2 54.5z"/><path color="#846300" d="M237.9 911.5l-5.5-103.8 1.6 .8 5 85.5z"/><path color="#f21616" d="M465.5 714.9l-2 22.3 1.7 1 1.9-22.5z"/><path color="#b0e758" d="M463.5 737.2l.9 121.9 .7-32.1 .1-88.8z"/><path color="#fd2c16" d="M414.6 735.5l-1.3 45.1 1.5-4.3 1.5-40z"/><path color="#58b04d" d="M413.3 780.6l.3 99.1 1.2-14 0-89.4z"/><path color="#fd4d16" d="M363.7 756l-.6 66.5 1.3-9.7 1-56z"/><path color="#4da56e" d="M363.1 822.5l-.4 77.7 1.6 .8 .1-88.2z"/><path color="#fd840b" d="M312.9 776.6l-.1 87.5 1.2-15.6 .5-71.1z"/><path color="#217984" d="M312.8 864.1l-1 56.7 1.7 .7 .5-73z"/><path color="#fdd142" d="M262 797.2l.5 109.3 1-22.3 .2-86.3z"/><path color="#214237" d="M243.2 948.5l-4.2-54.5 1.2-15.6 4.6 70.9z"/><path color="#f20b0b" d="M211.2 817.7l-.2 .1 1.7 13 .1-12.3z"/><path color="#f21616" d="M467.1 715.7l-1.9 22.5 1.8 4.8 1.8-26.5z"/><path color="#f2fd58" d="M465.2 738.2l-.1 88.8 1.1-20.2 .8-63.8z"/><path color="#f22116" d="M416.3 736.3l-1.5 40 1.7 .8 1.4-40.1z"/><path color="#9adc58" d="M414.8 776.3l0 89.4 .9-26.8 .8-61.8z"/><path color="#fd3716" d="M365.4 756.8l-1 56 1.6-3.2 1.1-52z"/><path color="#63bb63" d="M364.4 812.8l-.1 88.2 .9-28.8 .8-62.6z"/><path color="#fd630b" d="M314.5 777.4l-.5 71.1 1.4-7.4 .8-63z"/><path color="#4d9a6e" d="M314 848.5l-.5 73 1.2-14 .7-66.4z"/><path color="#f20b0b" d="M266.2 796.9l-2.5 1 1.7 1.8 2.5-2z"/><path color="#fda54d" d="M263.7 797.9l-.2 86.3 1.3-12.1 .6-72.4z"/><path color="#42849a" d="M263.5 884.2l-.9 57.9 1.7 .8 .5-70.8z"/><path color="#211663" d="M247.4 948.3l-2.6 1 1.3-14 2.9 13.7z"/><path color="#214d21" d="M244.8 949.3l-4.6-70.9 1.5-7.5 4.4 64.4z"/><path color="#f20b0b" d="M215.4 817.5l-2.6 1 1.9 10.3 2.3-10.6z"/><path color="#e73737" d="M212.8 818.5l-.1 12.3 1.8 17.4 .2-19.4z"/><path color="#e7160b" d="M468.8 716.5l-1.8 26.5 2.1 16.1 1.3-41.9z"/><path color="#f2fd58" d="M467 743l-.8 63.8 1.4-8.4 1.5-39.3z"/><path color="#42848f" d="M466.2 806.8l-1 54.9 1.3-11.5 1.1-51.8z"/><path color="#f2210b" d="M417.9 737l-1.4 40.1 1.9 10.9 1.2-50.2z"/><path color="#c6f258" d="M416.5 777.1l-.8 61.8 1.2-13.2 1.5-37.7z"/><path color="#e74d2c" d="M367.1 757.6l-1.1 52 1.8 6.3 .9-57.5z"/><path color="#8fdc58" d="M366 809.6l-.8 62.6 1.1-18.5 1.5-37.8z"/><path color="#e70b0b" d="M318.7 777.1l-2.5 1 2 14.2 2.2-14.4z"/><path color="#f2792c" d="M316.2 778.1l-.8 63 1.7 2.1 1.1-50.9z"/><path color="#63bb58" d="M315.4 841.1l-.7 66.4 .9-24.8 1.5-39.5z"/><path color="#e70b0b" d="M267.9 797.7l-2.5 2 2.3 25.6 1.8-26.9z"/><path color="#f2b042" d="M265.4 799.7l-.6 72.4 1.6-2 1.3-44.8z"/><path color="#58a56e" d="M264.8 872.1l-.5 70.8 .8-29.9 1.3-42.9z"/><path color="#212163" d="M264.3 942.9l-2.6 1 1.7 .8 1.7-31.7z"/><path color="#212163" d="M249 949l-2.9-13.7 .9-24.9 3.7 39.4z"/><path color="#2c580b" d="M246.1 935.3l-4.4-64.4 1.6 2.1 3.7 37.4z"/><path color="#e70b0b" d="M217 818.2l-2.3 10.6 2.3 22.9 1.7-32.7z"/><path color="#dc4d21" d="M214.7 828.8l-.2 19.4 1.9 19.6 .6-16.1z"/><path color="#e70b0b" d="M473 716.2l-2.6 1 2.1 16.7 2.1-16.9z"/><path color="#d1370b" d="M470.4 717.2l-1.3 41.9 2.1 16.6 1.3-41.8z"/><path color="#dce742" d="M469.1 759.1l-1.5 39.3 1.5-3.1 2.1-19.6z"/><path color="#58a563" d="M467.6 798.4l-1.1 51.8 .9-26.8 1.7-28.1z"/><path color="#e70b0b" d="M422.1 736.8l-2.5 1 2.4 28.6 1.8-28.9z"/><path color="#d1580b" d="M419.6 737.8l-1.2 50.2 2 12 1.6-33.6z"/><path color="#bbe74d" d="M418.4 788l-1.5 37.7 1.5-6.2 2-19.5z"/><path color="#4d9a79" d="M416.9 825.7l-.9 57.3 .7-30.9 1.7-32.6z"/><path color="#d10b0b" d="M371.3 757.3l-2.6 1.1 2.7 37.7 1.5-38z"/><path color="#dc7916" d="M368.7 758.4l-.9 57.5 1.8 8.1 1.8-27.9z"/><path color="#a5e758" d="M367.8 815.9l-1.5 37.8 1.3-9.7 2-20z"/><path color="#378484" d="M366.3 853.7l-1.2 49.9 1.1-21 1.4-38.6z"/><path color="#d10b0b" d="M320.4 777.9l-2.2 14.4 2.6 31.5 1.2-45.1z"/><path color="#dcb021" d="M318.2 792.3l-1.1 50.9 1.8 4.6 1.9-24z"/><path color="#84d158" d="M317.1 843.2l-1.5 39.5 1.3-13.6 2-21.3z"/><path color="#c6160b" d="M269.5 798.4l-1.8 26.9 2.4 24.8 1.1-50.9z"/><path color="#e7dc37" d="M267.7 825.3l-1.3 44.8 1.7 1.5 2-21.5z"/><path color="#63bb58" d="M266.4 870.1l-1.3 42.9 1.1-18.2 1.9-23.2z"/><path color="#211663" d="M263.4 944.7l-2.6 1 1.5-5.9 2.5-2.5z"/><path color="#21166e" d="M260.8 945.7l-2.5 1-2.5 1.1-2.6 1 1.5-6.1 2.5-.2 2.6-1 2.5-1.7z"/><path color="#212163" d="M253.2 948.8l-2.5 1 1.4-8.7 2.6 1.6z"/><path color="#213742" d="M250.7 949.8l-3.7-39.4 1.2-13.6 3.9 44.3z"/><path color="#e70b0b" d="M221.2 818l-2.5 1 1.8 8.7 2.4-9z"/><path color="#c6210b" d="M218.7 819l-1.7 32.7 2.3 21.3 1.2-45.3z"/><path color="#bb8f0b" d="M217 851.7l-.6 16.1 1.8 14.2 1.1-9z"/><path color="#d1160b" d="M474.6 717l-2.1 16.9 2.8 39.8 1-55.9z"/><path color="#bb9a0b" d="M472.5 733.9l-1.3 41.8 2.1 16.8 2-18.8z"/><path color="#8fbb16" d="M471.2 775.7l-2.1 19.6 1.7 1 2.5-3.8z"/><path color="#63bb58" d="M469.1 795.3l-1.7 28.1 1.2-14.5 2.2-12.6z"/><path color="#d1210b" d="M423.8 737.5l-1.8 28.9 2.6 34.7 .8-62.8z"/><path color="#bbb00b" d="M422 766.4l-1.6 33.6 2 13.5 2.2-12.4z"/><path color="#8fc62c" d="M420.4 800l-2 19.5 1.6-1.5 2.4-4.5z"/><path color="#58b04d" d="M418.4 819.5l-1.7 32.6 1.1-18.7 2.2-15.4z"/><path color="#e70b0b" d="M375.5 757.1l-2.6 1 1.8 5.5 2.4-5.8z"/><path color="#c62c0b" d="M372.9 758.1l-1.5 38 2.5 30.3 .8-62.8z"/><path color="#b0b00b" d="M371.4 796.1l-1.8 27.9 2 10.3 2.3-7.9z"/><path color="#8fd142" d="M369.6 824l-2 20 1.6-3.9 2.4-5.8z"/><path color="#4da54d" d="M367.6 844l-1.4 38.6 .9-23.8 2.1-18.7z"/><path color="#e70b0b" d="M324.6 777.6l-2.6 1.1 2.4 24.9 1.8-25.2z"/><path color="#c64d0b" d="M322 778.7l-1.2 45.1 2.3 26.2 1.3-46.4z"/><path color="#9ab00b" d="M320.8 823.8l-1.9 24 1.8 7.4 2.4-5.2z"/><path color="#8fd14d" d="M318.9 847.8l-2 21.3 1.4-6.5 2.4-7.4z"/><path color="#378f58" d="M316.9 869.1l-1.3 46.3 .8-30.2 1.9-22.6z"/><path color="#d10b0b" d="M273.7 798.2l-2.5 1 2.7 39.9 1.5-40.1z"/><path color="#bb630b" d="M271.2 799.2l-1.1 50.9 2.2 22.3 1.6-33.3z"/><path color="#8fb00b" d="M270.1 850.1l-2 21.5 1.8 4.7 2.4-3.9z"/><path color="#79d158" d="M268.1 871.6l-1.9 23.2 1.3-9.3 2.4-9.2z"/><path color="#217958" d="M266.2 894.8l-1.4 42.5 1-24.3 1.7-27.5z"/><path color="#212c58" d="M264.8 937.3l-2.5 2.5 1.2-14.3 2.3-12.5z"/><path color="#212163" d="M262.3 939.8l-2.5 1.7-2.6 1-2.5 .2 1.2-14.3 2.6-.3 2.5-1 2.5-1.6z"/><path color="#212c58" d="M254.7 942.7l-2.6-1.6 .7-30.2 3.1 17.5z"/><path color="#214d21" d="M252.1 941.1l-3.9-44.3 1.5-6.5 3.1 20.6z"/><path color="#d10b0b" d="M222.9 818.7l-2.4 9 2.9 42.9 1.1-51.1z"/><path color="#bb840b" d="M220.5 827.7l-1.2 45.3 2.2 19.9 1.9-22.3z"/><path color="#849a0b" d="M219.3 873l-1.1 9 1.6 11.6 1.7-.7z"/><path color="#dc5821" d="M476.3 717.8l-1 55.9 2.1 17.9 .5-73.1z"/><path color="#6ea50b" d="M475.3 773.7l-2 18.8 2.1 17.2 2-18.1z"/><path color="#2c6e0b" d="M473.3 792.5l-2.5 3.8 1.9 8.1 2.7 5.3z"/><path color="#4da52c" d="M470.8 796.3l-2.2 12.6 1.5-5 2.6 .5z"/><path color="#378f37" d="M468.6 808.9l-1.6 33.5 .9-24.2 2.2-14.3z"/><path color="#9a0b0b" d="M440.7 732.1l-2.6 1.1 1.7 .7 3.3 26z"/><path color="#f20b0b" d="M428 737.3l-2.6 1 2.2 19.5 2-19.7z"/><path color="#dc7916" d="M425.4 738.3l-.8 62.8 2.2 17.4 .8-60.7z"/><path color="#588f0b" d="M424.6 801.1l-2.2 12.4 2.1 16.3 2.3-11.3z"/><path color="#2c6e0b" d="M422.4 813.5l-2.4 4.5 1.8 5.8 2.7 6z"/><path color="#58bb42" d="M420 818l-2.2 15.4 1.4-7.9 2.6-1.7z"/><path color="#217937" d="M417.8 833.4l-1.7 29.8 1.1-19.4 2-18.3z"/><path color="#e70b0b" d="M377.1 757.8l-2.4 5.8 2.5 30.6 1.6-35.6z"/><path color="#dca521" d="M374.7 763.6l-.8 62.8 2.1 17.4 1.2-49.6z"/><path color="#42840b" d="M373.9 826.4l-2.3 7.9 2 15 2.4-5.5z"/><path color="#2c6e0b" d="M371.6 834.3l-2.4 5.8 1.7 3.5 2.7 5.7z"/><path color="#58bb4d" d="M369.2 840.1l-2.1 18.7 1.3-11.1 2.5-4.1z"/><path color="#e7160b" d="M326.2 778.4l-1.8 25.2 2.3 24.5 1.2-48.9z"/><path color="#d1d116" d="M324.4 803.6l-1.3 46.4 2.2 17.6 1.4-39.5z"/><path color="#37790b" d="M323.1 850l-2.4 5.2 2 13.3 2.6-.9z"/><path color="#2c790b" d="M320.7 855.2l-2.4 7.4 1.7 1.1 2.7 4.8z"/><path color="#58b04d" d="M318.3 862.6l-1.9 22.6 1.2-14.8 2.4-6.7z"/><path color="#e72c0b" d="M275.4 799l-1.5 40.1 2.3 20.7 .8-60.1z"/><path color="#a5bb16" d="M273.9 839.1l-1.6 33.3 2.2 17.7 1.7-30.3z"/><path color="#2c6e0b" d="M272.3 872.4l-2.4 3.9 1.9 11.3 2.7 2.5z"/><path color="#37840b" d="M269.9 876.3l-2.4 9.2 1.6-1.2 2.7 3.3z"/><path color="#4da54d" d="M267.5 885.5l-1.7 27.5 1-19.2 2.3-9.5z"/><path color="#213742" d="M263.5 925.5l-2.5 1.6-2.5 1-2.6 .3 1.3-10.5 2.6-.4 2.5-.9 2.6-1.6z"/><path color="#214d21" d="M255.9 928.4l-3.1-17.5 1.2-14.8 3.2 21.8z"/><path color="#e75821" d="M224.5 819.5l-1.1 51.1 2.2 18.8 .6-69.1z"/><path color="#79a50b" d="M223.4 870.6l-1.9 22.3 2.1 18.1 2-21.6z"/><path color="#2c6e0b" d="M221.5 892.9l-1.7 .7 1.8 13.7 2 3.7z"/><path color="#d10b0b" d="M490.7 713.4l-2.6 1 1.7 .8 2.6 1z"/><path color="#c60b0b" d="M480.5 717.5l-2.6 1 2.4 26.3 1.8-26.5z"/><path color="#f2a542" d="M477.9 718.5l-.5 73.1 1.6-1.5 1.3-45.3z"/><path color="#6ebb4d" d="M477.4 791.6l-2 18.1 1.8 6.1 1.8-25.7z"/><path color="#16580b" d="M475.4 809.7l-2.7-5.3-2.6-.5 1.8 7.6 2.8 7.9 2.5-3.6z"/><path color="#37a52c" d="M470.1 803.9l-2.2 14.3 1.4-9.1 2.6 2.4z"/><path color="#d10b0b" d="M439.8 733.9l-2.5 1.1 1.6 .7 2.6-.1z"/><path color="#e70b0b" d="M432.2 737l-2.6 1.1 1.7 1.1 2.5-1.4z"/><path color="#d11616" d="M429.6 738.1l-2 19.7 2.2 17.7 1.5-36.3z"/><path color="#f2dc4d" d="M427.6 757.8l-.8 60.7 1.5-2 1.5-41z"/><path color="#4da542" d="M426.8 818.5l-2.3 11.3 1.9 8.6 1.9-21.9z"/><path color="#16580b" d="M424.5 829.8l-2.7-6-2.6 1.7 1.8 5.2 2.8 7.8 2.6-.1z"/><path color="#42a537" d="M419.2 825.5l-2 18.3 1.2-13.5 2.6 .4z"/><path color="#dc0b0b" d="M381.3 757.6l-2.5 1 1.7 2.2 2.5-2.4z"/><path color="#dc2c16" d="M378.8 758.6l-1.6 35.6 1.9 10.8 1.4-44.2z"/><path color="#e7f24d" d="M377.2 794.2l-1.2 49.6 1.6-1.4 1.5-37.4z"/><path color="#164d0b" d="M373.6 849.3l-2.7-5.7 2 13.9 2.7 2.8z"/><path color="#16580b" d="M370.9 843.6l-2.5 4.1 1.7 2.5 2.8 7.3z"/><path color="#2c580b" d="M368.4 847.7l-1.9 22.8 1.1-18.6 2.5-1.7z"/><path color="#6e0000" d="M340.6 774l-2.5 1.1 1.6 .7 3.1 18.9z"/><path color="#d10b0b" d="M330.4 778.1l-2.5 1.1 1.7 3.5 2.5-3.8z"/><path color="#dc3716" d="M327.9 779.2l-1.2 48.9 1.8 5.5 1.1-50.9z"/><path color="#c6e74d" d="M326.7 828.1l-1.4 39.5 1.6 .1 1.6-34.1z"/><path color="#0b4d0b" d="M322.7 868.5l-2.7-4.8 2 12.6 2.7 5.1z"/><path color="#16580b" d="M320 863.7l-2.4 6.7 1.6-.4 2.8 6.3z"/><path color="#a50b0b" d="M289.8 794.6l-2.6 1 1.7 .8 2.7 6.1z"/><path color="#d10b0b" d="M279.6 798.7l-2.6 1 1.9 8 2.3-8.2z"/><path color="#e7632c" d="M277 799.7l-.8 60.1 1.6 1.6 1.1-53.7z"/><path color="#9adc4d" d="M276.2 859.8l-1.7 30.3 1.7 2.2 1.6-30.9z"/><path color="#0b4d0b" d="M271.8 887.6l-2.7-3.3 2 10.8 2.7 6.7z"/><path color="#16630b" d="M269.1 884.3l-2.3 9.5 1.6-3.6 2.7 4.9z"/><path color="#c60b0b" d="M238.9 815.2l-2.6 1 1.7 .8 2.6 1.6z"/><path color="#dc0b0b" d="M228.7 819.3l-2.5 1 2.2 20.7 2-21z"/><path color="#f29a42" d="M226.2 820.3l-.6 69.1 1.6-.7 1.2-47.7z"/><path color="#79c64d" d="M225.6 889.4l-2 21.6 1.8 5.1 1.8-27.4z"/><path color="#166316" d="M223.6 911l-2-3.7 1.7 14.5 2.1-5.7z"/><path color="#630000" d="M492.4 716.2l-2.6-1 1.9 11.4 2.9 9.6z"/><path color="#b00b0b" d="M489.8 715.2l-2.6 1 1.9 10 2.6 .4z"/><path color="#bb0b0b" d="M487.2 716.2l-2.5 1 1.9 10.6 2.5-1.6z"/><path color="#a50b0b" d="M484.7 717.2l-2.6 1.1 2 12.9 2.5-3.4z"/><path color="#bb160b" d="M482.1 718.3l-1.8 26.5 2.1 16.6 1.7-30.2z"/><path color="#f2d14d" d="M480.3 744.8l-1.3 45.3 1.5-6.2 1.9-22.5z"/><path color="#84d14d" d="M479 790.1l-1.8 25.7 1.3-11.6 2-20.3z"/><path color="#6e0000" d="M441.5 735.6l-2.6 .1 2 11 2.6 2z"/><path color="#b00b0b" d="M438.9 735.7l-2.5 1.1 1.9 9.9 2.6 0z"/><path color="#bb0b0b" d="M436.4 736.8l-2.6 1 2 10.8 2.5-1.9z"/><path color="#a50b0b" d="M433.8 737.8l-2.5 1.4 2 13.2 2.5-3.8z"/><path color="#c6210b" d="M431.3 739.2l-1.5 36.3 1.9 11.2 1.6-34.3z"/><path color="#fdf258" d="M429.8 775.5l-1.5 41 1.4-8.6 2-21.2z"/><path color="#63bb42" d="M428.3 816.5l-1.9 21.9 1.3-10.1 2-20.4z"/><path color="#840b0b" d="M390.6 755.3l-2.6 1 2 10.7 2.6 1.6z"/><path color="#b00b0b" d="M388 756.3l-2.5 1 1.9 10 2.6-.3z"/><path color="#bb0b0b" d="M385.5 757.3l-2.5 1.1 1.9 11.2 2.5-2.3z"/><path color="#b00b0b" d="M383 758.4l-2.5 2.4 2 16.1 2.4-7.3z"/><path color="#d14216" d="M380.5 760.8l-1.4 44.2 1.9 6.5 1.5-34.6z"/><path color="#f2fd58" d="M379.1 805l-1.5 37.4 1.4-10.6 2-20.3z"/><path color="#580b00" d="M342.8 794.7l-3.1-18.9 2 12.7 3.3 25.7z"/><path color="#8f0b0b" d="M339.7 775.8l-2.5 1.1 1.9 10.3 2.6 1.3z"/><path color="#b00b0b" d="M337.2 776.9l-2.6 1-2.5 1-2.5 3.8 2.3 23.4 2.2-15.6 2.5-2.6 2.5-.7z"/><path color="#dc6321" d="M329.6 782.7l-1.1 50.9 1.7 2.3 1.7-29.8z"/><path color="#d1f258" d="M328.5 833.6l-1.6 34.1 1.3-11.8 2-20z"/><path color="#580000" d="M291.6 802.5l-2.7-6.1 1.9 12.1 3.2 20.2z"/><path color="#9a0b0b" d="M288.9 796.4l-2.6 1 1.9 10.2 2.6 .9z"/><path color="#b00b0b" d="M286.3 797.4l-2.5 1 1.9 10.2 2.5-1z"/><path color="#a50b0b" d="M283.8 798.4l-2.6 1.1 2 12.1 2.5-3z"/><path color="#b00b0b" d="M281.2 799.5l-2.3 8.2 2.4 26.2 1.9-22.3z"/><path color="#e78f37" d="M278.9 807.7l-1.1 53.7 1.6-1.4 1.9-26.1z"/><path color="#b0e74d" d="M277.8 861.4l-1.6 30.9 1.2-12.3 2-20z"/><path color="#630000" d="M240.6 818.6l-2.6-1.6 2 11.6 2.9 13.5z"/><path color="#a50b0b" d="M238 817l-2.5 1 1.9 10 2.6 .6z"/><path color="#b00b0b" d="M235.5 818l-2.6 1 1.9 10.4 2.6-1.4z"/><path color="#a50b0b" d="M232.9 819l-2.5 1 2 12.7 2.4-3.3z"/><path color="#b0160b" d="M230.4 820l-2 21 2.2 19.5 1.8-27.8z"/><path color="#f2c642" d="M228.4 841l-1.2 47.7 1.5-4.7 1.9-23.5z"/><path color="#9adc4d" d="M227.2 888.7l-1.8 27.4 1.3-12 2-20.1z"/><path color="#429a37" d="M225.4 916.1l-2.1 5.7 1.4 .4 2-18.1z"/><path color="#845800" d="M498 766.2l-3.4-30 2.2 21.5 3 13.3z"/><path color="#580b00" d="M494.6 736.2l-2.9-9.6 2 11 3.1 20.1z"/><path color="#840b0b" d="M491.7 726.6l-2.6-.4 2 11 2.6 .4z"/><path color="#8f0b0b" d="M489.1 726.2l-2.5 1.6 2 11 2.5-1.6z"/><path color="#a50b0b" d="M486.6 727.8l-2.5 3.4 2.2 18.5 2.3-10.9z"/><path color="#bb420b" d="M484.1 731.2l-1.7 30.2 2 10.6 1.9-22.3z"/><path color="#f2dc42" d="M482.4 761.4l-1.9 22.5 1.6-.9 2.3-11z"/><path color="#bbdc42" d="M480.5 783.9l-2 20.3 1.3-11.6 2.3-9.6z"/><path color="#4d2100" d="M447 782.7l-3.5-34 2.3 25.4 3.1 15.5z"/><path color="#580b00" d="M443.5 748.7l-2.6-2 1.9 11.1 3 16.3z"/><path color="#840b0b" d="M440.9 746.7l-2.6 0 1.9 11 2.6 .1z"/><path color="#8f0b0b" d="M438.3 746.7l-2.5 1.9 1.9 11 2.5-1.9z"/><path color="#a5160b" d="M435.8 748.6l-2.5 3.8 2.3 23.4 2.1-16.2z"/><path color="#c6580b" d="M433.3 752.4l-1.6 34.3 1.9 8.1 2-19z"/><path color="#f2f24d" d="M431.7 786.7l-2 21.2 1.6-2.9 2.3-10.2z"/><path color="#9ad137" d="M429.7 807.9l-2 20.4 1.3-13.4 2.3-9.9z"/><path color="#844200" d="M396 798.8l-3.4-30.2 2.2 21 3.1 18.5z"/><path color="#630b00" d="M392.6 768.6l-2.6-1.6 1.9 11 2.9 11.6z"/><path color="#840b0b" d="M390 767l-2.6 .3 2 10.9 2.5-.2z"/><path color="#8f0b0b" d="M387.4 767.3l-2.5 2.3 2 11 2.5-2.4z"/><path color="#b0160b" d="M384.9 769.6l-2.4 7.3 2.4 24 2-20.3z"/><path color="#d17916" d="M382.5 776.9l-1.5 34.6 1.8 5.8 2.1-16.4z"/><path color="#f2f24d" d="M381 811.5l-2 20.3 1.5-4.7 2.3-9.8z"/><path color="#4d6e0b" d="M379 831.8l-2 20.4 1.2-14.8 2.3-10.3z"/><path color="#846e00" d="M348.2 835.7l-3.2-21.5 2 12 2.8 9.5z"/><path color="#843700" d="M345 814.2l-3.3-25.7 2.1 15.6 3.2 22.1z"/><path color="#6e0b00" d="M341.7 788.5l-2.6-1.3 2 11 2.7 5.9z"/><path color="#8f0b0b" d="M339.1 787.2l-2.5 .7 1.9 11 2.6-.7z"/><path color="#9a0b0b" d="M336.6 787.9l-2.5 2.6 1.9 11.1 2.5-2.7z"/><path color="#b0210b" d="M334.1 790.5l-2.2 15.6 2.2 19.2 1.9-23.7z"/><path color="#dc9a21" d="M331.9 806.1l-1.7 29.8 1.7 3.8 2.2-14.4z"/><path color="#e7fd4d" d="M330.2 835.9l-2 20 1.4-6.8 2.3-9.4z"/><path color="#6e0b00" d="M290.8 808.5l-2.6-.9 2 11 2.6 1z"/><path color="#8f0b0b" d="M288.2 807.6l-2.5 1 1.9 11 2.6-1z"/><path color="#9a0b0b" d="M285.7 808.6l-2.5 3 2 11 2.4-3z"/><path color="#bb2c0b" d="M283.2 811.6l-1.9 22.3 2 15.3 1.9-26.6z"/><path color="#e7bb2c" d="M281.3 833.9l-1.9 26.1 1.7 1.9 2.2-12.7z"/><path color="#dcf24d" d="M279.4 860l-2 20 1.4-8.8 2.3-9.3z"/><path color="#580b00" d="M242.9 842.1l-2.9-13.5 1.9 11 3.2 21.7z"/><path color="#840b0b" d="M240 828.6l-2.6-.6 1.9 11 2.6 .6z"/><path color="#8f0b0b" d="M237.4 828l-2.6 1.4 2 11 2.5-1.4z"/><path color="#9a0b0b" d="M234.8 829.4l-2.4 3.3 2 15.6 2.4-7.9z"/><path color="#bb420b" d="M232.4 832.7l-1.8 27.8 2 12 1.8-24.2z"/><path color="#e7d137" d="M230.6 860.5l-1.9 23.5 1.6 0 2.3-11.5z"/><path color="#c6e742" d="M228.7 884l-2 20.1 1.3-10.7 2.3-9.4z"/><path color="#37630b" d="M226.7 904.1l-2 18.1 1.1-16.6 2.2-12.2z"/><path color="#2c580b" d="M224.7 922.2l.9-15.3 .2-1.3z"/><path color="#4d4200" d="M499.8 771l-3-13.3 2 11.7 2.7 5.3z"/><path color="#582c00" d="M496.8 757.7l-3.1-20.1 2.2 21.9 2.9 9.9z"/><path color="#791600" d="M493.7 737.6l-2.6-.4 1.9 8.8 2.9 13.5z"/><path color="#8f160b" d="M491.1 737.2l-2.5 1.6 2 13.7 2.4-6.5z"/><path color="#a53700" d="M488.6 738.8l-2.3 10.9 2.2 19.8 2.1-17z"/><path color="#bb8f0b" d="M486.3 749.7l-1.9 22.3 1.8 6.3 2.3-8.8z"/><path color="#dcdc21" d="M484.4 772l-2.3 11 1.7 1.8 2.4-6.5z"/><path color="#dcf242" d="M482.1 783l-2.3 9.6 1.6-2.2 2.4-5.6z"/><path color="#8fd121" d="M479.8 792.6l-2.2 12.4 1.4-9 2.4-5.6z"/><path color="#4d4200" d="M448.9 789.6l-3.1-15.5 2.1 14.4 2.7 5.8z"/><path color="#582c00" d="M445.8 774.1l-3-16.3 2.2 19.2 2.9 11.5z"/><path color="#791600" d="M442.8 757.8l-2.6-.1 1.9 8.8 2.9 10.5z"/><path color="#9a210b" d="M440.2 757.7l-2.5 1.9 2.1 17.6 2.3-10.7z"/><path color="#a54200" d="M437.7 759.6l-2.1 16.2 2.1 16 2.1-14.6z"/><path color="#c69a0b" d="M435.6 775.8l-2 19 1.7 5.1 2.4-8.1z"/><path color="#dcdc2c" d="M433.6 794.8l-2.3 10.2 1.6 1.2 2.4-6.3z"/><path color="#d1f242" d="M431.3 805l-2.3 9.9 1.5-3.1 2.4-5.6z"/><path color="#586e0b" d="M429 814.9l-2.2 13.1 1.3-10.6 2.4-5.6z"/><path color="#4d3700" d="M397.9 808.1l-3.1-18.5 2.2 17.8 2.7 6.4z"/><path color="#582100" d="M394.8 789.6l-2.9-11.6 2.1 15.8 3 13.6z"/><path color="#841600" d="M391.9 778l-2.5 .2 1.9 8.9 2.7 6.7z"/><path color="#9a2100" d="M389.4 778.2l-2.5 2.4 2.2 20.6 2.2-14.1z"/><path color="#b04d00" d="M386.9 780.6l-2 20.3 2 13 2.2-12.7z"/><path color="#c6b00b" d="M384.9 800.9l-2.1 16.4 1.7 4.2 2.4-7.6z"/><path color="#dce737" d="M382.8 817.3l-2.3 9.8 1.6 .5 2.4-6.1z"/><path color="#c6e737" d="M380.5 827.1l-2.3 10.3 1.5-4.3 2.4-5.5z"/><path color="#4d3700" d="M347 826.2l-3.2-22.1 2.3 22 2.7 7.1z"/><path color="#582100" d="M343.8 804.1l-2.7-5.9 1.9 11.6 3.1 16.3z"/><path color="#841600" d="M341.1 798.2l-2.6 .7 1.9 8.9 2.6 2z"/><path color="#9a2100" d="M338.5 798.9l-2.5 2.7 2.3 23 2.1-16.8z"/><path color="#b06300" d="M336 801.6l-1.9 23.7 1.9 10.6 2.3-11.3z"/><path color="#d1bb16" d="M334.1 825.3l-2.2 14.4 1.8 3.4 2.3-7.2z"/><path color="#dce737" d="M331.9 839.7l-2.3 9.4 1.7-.1 2.4-5.9z"/><path color="#b0dc37" d="M329.6 849.1l-2.2 10.9 1.5-5.5 2.4-5.5z"/><path color="#584d00" d="M298.9 854.7l-2.8-10.7 1.8 8.6 2.7 4.8z"/><path color="#4d2c00" d="M296.1 844l-3.3-24.4 2.3 25 2.8 8z"/><path color="#6e1600" d="M292.8 819.6l-2.6-1 1.9 8.9 3 17.1z"/><path color="#8f160b" d="M290.2 818.6l-2.6 1 1.9 8.9 2.6-1z"/><path color="#9a2c00" d="M287.6 819.6l-2.4 3 2.3 25 2-19.1z"/><path color="#bb6e00" d="M285.2 822.6l-1.9 26.6 1.9 8.5 2.3-10.1z"/><path color="#d1c616" d="M283.3 849.2l-2.2 12.7 1.7 2.7 2.4-6.9z"/><path color="#dcf242" d="M281.1 861.9l-2.3 9.3 1.6-.8 2.4-5.8z"/><path color="#a5dc2c" d="M278.8 871.2l-2.2 11.6 1.4-6.9 2.4-5.5z"/><path color="#4d4d00" d="M248 873.6l-2.9-12.3 1.9 10.5 2.8 5.2z"/><path color="#582c00" d="M245.1 861.3l-3.2-21.7 2.3 23.1 2.8 9.1z"/><path color="#792100" d="M241.9 839.6l-2.6-.6 1.9 8.9 3 14.8z"/><path color="#8f160b" d="M239.3 839l-2.5 1.4 2 11.5 2.4-4z"/><path color="#a53700" d="M236.8 840.4l-2.4 7.9 2.3 22 2.1-18.4z"/><path color="#bb840b" d="M234.4 848.3l-1.8 24.2 1.8 7 2.3-9.2z"/><path color="#dcdc21" d="M232.6 872.5l-2.3 11.5 1.7 2.1 2.4-6.6z"/><path color="#dcf242" d="M230.3 884l-2.3 9.4 1.6-1.6 2.4-5.7z"/><path color="#8fd121" d="M228 893.4l-2.2 12.2 1.4-8.4 2.4-5.4z"/><path color="#4d6e0b" d="M225.8 905.6l-.2 1.3 1.1-8.4 .5-1.3z"/><path color="#4d2c00" d="M495.9 759.5l-2.9-13.5 1.9 11.6 2.9 10z"/><path color="#8f4200" d="M493 746l-2.4 6.5 2 13.3 2.3-8.2z"/><path color="#c68f0b" d="M490.6 752.5l-2.1 17 1.8 4.7 2.3-8.4z"/><path color="#d1c616" d="M488.5 769.5l-2.3 8.8 1.7 2 2.4-6.1z"/><path color="#dcdc21" d="M486.2 778.3l-2.4 6.5 1.7 1.2 2.4-5.7z"/><path color="#d1e72c" d="M483.8 784.8l-2.4 5.6 1.6 .7 2.5-5.1z"/><path color="#bbe72c" d="M481.4 790.4l-2.4 5.6 1.6-.5 2.4-4.4z"/><path color="#8fd121" d="M479 796l-2.4 6.3 1.5-3 2.5-3.8z"/><path color="#4d2100" d="M445 777l-2.9-10.5 1.9 8.2 2.9 12.1z"/><path color="#9a4200" d="M442.1 766.5l-2.3 10.7 2 10.9 2.2-13.4z"/><path color="#c69a0b" d="M439.8 777.2l-2.1 14.6 1.7 3.9 2.4-7.6z"/><path color="#d1d116" d="M437.7 791.8l-2.4 8.1 1.7 1.9 2.4-6.1z"/><path color="#d1e72c" d="M435.3 799.9l-2.4 6.3-2.4 5.6 1.7 .5 2.4-5 2.4-5.5z"/><path color="#b0e72c" d="M430.5 811.8l-2.4 5.6 1.6-.8 2.5-4.3z"/><path color="#84c616" d="M428.1 817.4l-2.4 6.5 1.6-3.6 2.4-3.7z"/><path color="#4d3700" d="M397 807.4l-3-13.6 2 11.9 2.7 6z"/><path color="#793700" d="M394 793.8l-2.7-6.7 1.9 10 2.8 8.6z"/><path color="#bb580b" d="M391.3 787.1l-2.2 14.1 1.9 8.9 2.2-13z"/><path color="#c6a50b" d="M389.1 801.2l-2.2 12.7 1.7 3.4 2.4-7.2z"/><path color="#dcdc16" d="M386.9 813.9l-2.4 7.6 1.7 1.7 2.4-5.9z"/><path color="#d1e72c" d="M384.5 821.5l-2.4 6.1 1.7 1.1 2.4-5.5z"/><path color="#d1f22c" d="M382.1 827.6l-2.4 5.5 1.6 .4 2.5-4.8z"/><path color="#a5dc2c" d="M379.7 833.1l-2.4 5.8 1.6-1.2 2.4-4.2z"/><path color="#79c616" d="M377.3 838.9l-2.4 6.7 1.5-4.3 2.5-3.6z"/><path color="#4d3700" d="M346.1 826.1l-3.1-16.3 2.1 14.7 2.7 6.7z"/><path color="#792c00" d="M343 809.8l-2.6-2 2 13 2.7 3.7z"/><path color="#bb630b" d="M340.4 807.8l-2.1 16.8 1.8 7.4 2.3-11.2z"/><path color="#d1b016" d="M338.3 824.6l-2.3 11.3 1.8 2.9 2.3-6.8z"/><path color="#dcdc21" d="M336 835.9l-2.3 7.2 1.7 1.5 2.4-5.8z"/><path color="#d1e72c" d="M333.7 843.1l-2.4 5.9 1.6 1 2.5-5.4z"/><path color="#c6f22c" d="M331.3 849l-2.4 5.5 1.6 .2 2.4-4.7z"/><path color="#9adc21" d="M328.9 854.5l-2.5 5.9 1.6-1.6 2.5-4.1z"/><path color="#4d6e0b" d="M326.4 860.4l-2.3 6.9 1.5-5 2.4-3.5z"/><path color="#4d2c00" d="M295.1 844.6l-3-17.1 2 15.4 2.8 7.8z"/><path color="#843700" d="M292.1 827.5l-2.6 1 2.1 15.4 2.5-1z"/><path color="#c66e0b" d="M289.5 828.5l-2 19.1 1.8 6.1 2.3-9.8z"/><path color="#d1bb16" d="M287.5 847.6l-2.3 10.1 1.7 2.5 2.4-6.5z"/><path color="#dcdc21" d="M285.2 857.7l-2.4 6.9 1.7 1.4 2.4-5.8z"/><path color="#d1e72c" d="M282.8 864.6l-2.4 5.8 1.7 .9 2.4-5.3z"/><path color="#c6f22c" d="M280.4 870.4l-2.4 5.5 1.6 0 2.5-4.6z"/><path color="#9adc21" d="M278 875.9l-2.4 6 1.6-2.1 2.4-3.9z"/><path color="#584200" d="M247 871.8l-2.8-9.1 1.8 7.3 2.7 4.7z"/><path color="#4d2c00" d="M244.2 862.7l-3-14.8 2 13 2.8 9.1z"/><path color="#8f3700" d="M241.2 847.9l-2.4 4 2 14.7 2.4-5.7z"/><path color="#c6840b" d="M238.8 851.9l-2.1 18.4 1.8 5.1 2.3-8.8z"/><path color="#d1c616" d="M236.7 870.3l-2.3 9.2 1.7 2.2 2.4-6.3z"/><path color="#dcdc21" d="M234.4 879.5l-2.4 6.6 1.7 1.2 2.4-5.6z"/><path color="#d1e72c" d="M232 886.1l-2.4 5.7 1.6 .7 2.5-5.2z"/><path color="#bbe72c" d="M229.6 891.8l-2.4 5.4 1.6-.2 2.4-4.5z"/><path color="#9adc16" d="M227.2 897.2l-.5 1.3 1.3-.2 .8-1.3z"/><path color="#6ec616" d="M525 783.8l-1 1.5 1.6-.4 .7-.9z"/><path color="#63bb21" d="M524 785.3l-2.4 5.5 1.6-1.6 2.4-4.3z"/><path color="#8f5800" d="M494.9 757.6l-2.3 8.2 1.7 3.1 2.4-6.4z"/><path color="#e7c62c" d="M492.6 765.8l-2.3 8.4 1.6 1.8 2.4-7.1z"/><path color="#e7e72c" d="M490.3 774.2l-2.4 6.1 1.6 1.4 2.4-5.7z"/><path color="#dce72c" d="M487.9 780.3l-2.4 5.7 1.6 1.1 2.4-5.4z"/><path color="#d1e72c" d="M485.5 786l-2.5 5.1 1.7 .9 2.4-4.9z"/><path color="#b0e721" d="M483 791.1l-2.4 4.4 1.6 .8 2.5-4.3z"/><path color="#9ae721" d="M480.6 795.5l-2.5 3.8 1.7 .6 2.4-3.6z"/><path color="#84dc16" d="M478.1 799.3l-2.5 3.4 1.7 .1 2.5-2.9z"/><path color="#6ec616" d="M475.6 802.7l-2.4 3.7 1.6-.5 2.5-3.1z"/><path color="#58bb21" d="M473.2 806.4l-2.4 6.3 1.6-1.9 2.4-4.9z"/><path color="#a56300" d="M444 774.7l-2.2 13.4 1.7 2.7 2.3-10.4z"/><path color="#e7c62c" d="M441.8 788.1l-2.4 7.6 1.7 1.7 2.4-6.6z"/><path color="#f2e72c" d="M439.4 795.7l-2.4 6.1 1.7 1.3 2.4-5.7z"/><path color="#dce72c" d="M437 801.8l-2.4 5.5 1.7 1.1 2.4-5.3z"/><path color="#c6e72c" d="M434.6 807.3l-2.4 5 1.6 1 2.5-4.9z"/><path color="#b0e721" d="M432.2 812.3l-2.5 4.3 1.7 .8 2.4-4.1z"/><path color="#9ae721" d="M429.7 816.6l-2.4 3.7 1.6 .5 2.5-3.4z"/><path color="#84d116" d="M427.3 820.3l-2.5 3.4 1.6 0 2.5-2.9z"/><path color="#6ec616" d="M424.8 823.7l-2.5 4 1.6-.8 2.5-3.2z"/><path color="#429a16" d="M422.3 827.7l-2.4 6.4 1.6-2.2 2.4-5z"/><path color="#e7a52c" d="M393.2 797.1l-2.2 13 1.7 2.5 2.2-10.3z"/><path color="#e7d12c" d="M391 810.1l-2.4 7.2 1.7 1.6 2.4-6.3z"/><path color="#e7f22c" d="M388.6 817.3l-2.4 5.9 1.7 1.2 2.4-5.5z"/><path color="#dce72c" d="M386.2 823.2l-2.4 5.5 1.6 1 2.5-5.3z"/><path color="#c6e72c" d="M383.8 828.7l-2.5 4.8 1.7 .9 2.4-4.7z"/><path color="#b0e721" d="M381.3 833.5l-2.4 4.2 1.6 .7 2.5-4z"/><path color="#9ae721" d="M378.9 837.7l-2.5 3.6 1.7 .4 2.4-3.3z"/><path color="#79d116" d="M376.4 841.3l-2.5 3.4 1.7-.1 2.5-2.9z"/><path color="#6ec621" d="M373.9 844.7l-2.4 4.3 1.6-1 2.5-3.4z"/><path color="#429a16" d="M371.5 849l-2.5 4.1 1.6-1.7 2.5-3.4z"/><path color="#8f6300" d="M345.1 824.5l-2.7-3.7 1.8 4.4 2.6 2.6z"/><path color="#e7b02c" d="M342.4 820.8l-2.3 11.2 1.7 2.2 2.4-9z"/><path color="#e7dc2c" d="M340.1 832l-2.3 6.8 1.6 1.5 2.4-6.1z"/><path color="#e7f22c" d="M337.8 838.8l-2.4 5.8 1.6 1.2 2.4-5.5z"/><path color="#dce72c" d="M335.4 844.6l-2.5 5.4 1.7 1 2.4-5.2z"/><path color="#c6e72c" d="M332.9 850l-2.4 4.7 1.7 .9 2.4-4.6z"/><path color="#a5e721" d="M330.5 854.7l-2.5 4.1 1.7 .7 2.5-3.9z"/><path color="#8fdc16" d="M328 858.8l-2.4 3.5 1.6 .3 2.5-3.1z"/><path color="#79d116" d="M325.6 862.3l-2.5 3.4 1.6-.2 2.5-2.9z"/><path color="#63bb21" d="M323.1 865.7l-2.5 4.7 1.6-1.2 2.5-3.7z"/><path color="#79790b" d="M305 862l-2.7-3.2 1.7 1.1 2.6 3.1z"/><path color="#8f5800" d="M294.1 842.9l-2.5 1 1.7 3.9 2.6-1.1z"/><path color="#e7bb2c" d="M291.6 843.9l-2.3 9.8 1.7 2.1 2.3-8z"/><path color="#e7dc2c" d="M289.3 853.7l-2.4 6.5 1.7 1.5 2.4-5.9z"/><path color="#e7f22c" d="M286.9 860.2l-2.4 5.8 1.7 1.1 2.4-5.4z"/><path color="#d1e72c" d="M284.5 866l-2.4 5.3 1.6 .9 2.5-5.1z"/><path color="#bbe72c" d="M282.1 871.3l-2.5 4.6 1.7 .8 2.4-4.5z"/><path color="#a5e721" d="M279.6 875.9l-2.4 3.9 1.6 .6 2.5-3.7z"/><path color="#8fdc16" d="M277.2 879.8l-2.5 3.5 1.7 .2 2.4-3.1z"/><path color="#79d116" d="M274.7 883.3l-2.5 3.5 1.7-.4 2.5-2.9z"/><path color="#63bb21" d="M272.2 886.8l-2.4 5.2 1.6-1.5 2.5-4.1z"/><path color="#8f5800" d="M243.2 860.9l-2.4 5.7 1.7 3.4 2.5-4.7z"/><path color="#e7c62c" d="M240.8 866.6l-2.3 8.8 1.7 1.9 2.3-7.3z"/><path color="#e7e72c" d="M238.5 875.4l-2.4 6.3-2.4 5.6 1.6 1.2 2.5-5.5 2.4-5.7z"/><path color="#d1e72c" d="M233.7 887.3l-2.5 5.2 1.7 1 2.4-5z"/><path color="#bbe721" d="M231.2 892.5l-2.4 4.5 1.7 .8 2.4-4.3z"/><path color="#a5dc16" d="M228.8 897l-.8 1.3 1.4 1.2 1.1-1.7z"/><path color="#79d116" d="M526.3 784l-.7 .9 1.7 .3 .4-.4z"/><path color="#6ed121" d="M525.6 784.9l-2.4 4.3 1.6-.4 2.5-3.6z"/><path color="#8f6e0b" d="M496.7 762.5l-2.4 6.4 1.7 2.9 2.5-5.3z"/><path color="#e7c621" d="M494.3 768.9l-2.4 7.1 1.7 1.8 2.4-6z"/><path color="#e7e72c" d="M491.9 776l-2.4 5.7 1.7 1.4 2.4-5.3z"/><path color="#dce72c" d="M489.5 781.7l-2.4 5.4 1.7 1.1 2.4-5.1z"/><path color="#d1e72c" d="M487.1 787.1l-2.4 4.9 1.6 1 2.5-4.8z"/><path color="#b0e721" d="M484.7 792l-2.5 4.3 1.7 .9 2.4-4.2z"/><path color="#9adc16" d="M482.2 796.3l-2.4 3.6 1.6 .7 2.5-3.4z"/><path color="#8fdc16" d="M479.8 799.9l-2.5 2.9 1.6 .6 2.5-2.8z"/><path color="#79dc16" d="M477.3 802.8l-2.5 3.1 1.6 .3 2.5-2.8z"/><path color="#6ec62c" d="M474.8 805.9l-2.4 4.9 1.6-.6 2.4-4z"/><path color="#a5790b" d="M445.8 780.4l-2.3 10.4 1.7 2.6 2.3-8.2z"/><path color="#e7d121" d="M443.5 790.8l-2.4 6.6 1.7 1.7 2.4-5.7z"/><path color="#e7e72c" d="M441.1 797.4l-2.4 5.7 1.7 1.3 2.4-5.3z"/><path color="#dce72c" d="M438.7 803.1l-2.4 5.3 1.6 1.1 2.5-5.1z"/><path color="#c6e72c" d="M436.3 808.4l-2.5 4.9 1.7 .9 2.4-4.7z"/><path color="#b0e721" d="M433.8 813.3l-2.4 4.1 1.6 .8 2.5-4z"/><path color="#9adc16" d="M431.4 817.4l-2.5 3.4 1.7 .7 2.4-3.3z"/><path color="#84dc16" d="M428.9 820.8l-2.5 2.9 1.7 .6 2.5-2.8z"/><path color="#79d116" d="M426.4 823.7l-2.5 3.2 1.7 .2 2.5-2.8z"/><path color="#58b016" d="M423.9 826.9l-2.4 5 1.6-.7 2.5-4.1z"/><path color="#e7b02c" d="M394.9 802.3l-2.2 10.3 1.7 2.3 2.3-8.2z"/><path color="#e7d121" d="M392.7 812.6l-2.4 6.3 1.7 1.6 2.4-5.6z"/><path color="#e7e72c" d="M390.3 818.9l-2.4 5.5 1.6 1.3 2.5-5.2z"/><path color="#dce72c" d="M387.9 824.4l-2.5 5.3 1.7 1.1 2.4-5.1z"/><path color="#c6e72c" d="M385.4 829.7l-2.4 4.7 1.7 1 2.4-4.6z"/><path color="#a5dc21" d="M383 834.4l-2.5 4 1.7 .8 2.5-3.8z"/><path color="#8fdc16" d="M380.5 838.4l-2.4 3.3 1.6 .7 2.5-3.2z"/><path color="#84dc16" d="M378.1 841.7l-2.5 2.9 1.6 .5 2.5-2.7z"/><path color="#79d121" d="M375.6 844.6l-2.5 3.4 1.6 .1 2.5-3z"/><path color="#58b016" d="M373.1 848l-2.5 3.4 1.6-.5 2.5-2.8z"/><path color="#6e790b" d="M357.5 843.1l-2.6-2.9 1.6 1.1 2.7 2.8z"/><path color="#9a6e0b" d="M346.8 827.8l-2.6-2.6 1.7 3.9 2.6 1.7z"/><path color="#e7bb2c" d="M344.2 825.2l-2.4 9 1.7 2.2 2.4-7.3z"/><path color="#e7dc21" d="M341.8 834.2l-2.4 6.1 1.7 1.5 2.4-5.4z"/><path color="#e7e72c" d="M339.4 840.3l-2.4 5.5 1.7 1.2 2.4-5.2z"/><path color="#d1e72c" d="M337 845.8l-2.4 5.2 1.7 1 2.4-5z"/><path color="#bbe721" d="M334.6 851l-2.4 4.6 1.6 .9 2.5-4.5z"/><path color="#a5dc21" d="M332.2 855.6l-2.5 3.9 1.6 .7 2.5-3.7z"/><path color="#8fdc16" d="M329.7 859.5l-2.5 3.1 1.7 .7 2.4-3.1z"/><path color="#84dc16" d="M327.2 862.6l-2.5 2.9 1.7 .5 2.5-2.7z"/><path color="#79d121" d="M324.7 865.5l-2.5 3.7 1.7-.1 2.5-3.1z"/><path color="#58bb16" d="M322.2 869.2l-2.5 1.8 1.7-.3 2.5-1.6z"/><path color="#9a6e0b" d="M295.9 846.7l-2.6 1.1 1.8 3.3 2.5-1z"/><path color="#e7c621" d="M293.3 847.8l-2.3 8 1.7 2 2.4-6.7z"/><path color="#e7dc21" d="M291 855.8l-2.4 5.9 1.7 1.4 2.4-5.3z"/><path color="#dce72c" d="M288.6 861.7l-2.4 5.4 1.6 1.2 2.5-5.2z"/><path color="#d1e72c" d="M286.2 867.1l-2.5 5.1 1.7 1.1 2.4-5z"/><path color="#bbe721" d="M283.7 872.2l-2.4 4.5 1.7 .9 2.4-4.3z"/><path color="#9adc21" d="M281.3 876.7l-2.5 3.7 1.7 .8 2.5-3.6z"/><path color="#8fdc16" d="M278.8 880.4l-2.4 3.1 1.6 .7 2.5-3z"/><path color="#84dc16" d="M276.4 883.5l-2.5 2.9 1.6 .5 2.5-2.7z"/><path color="#6ed121" d="M273.9 886.4l-2.5 4.1 1.6-.2 2.5-3.4z"/><path color="#58bb16" d="M271.4 890.5l-2.6 .3 1.7-.1 2.5-.4z"/><path color="#8f6e0b" d="M245 865.3l-2.5 4.7 1.7 3 2.5-3.9z"/><path color="#e7c621" d="M242.5 870l-2.3 7.3 1.7 1.9 2.3-6.2z"/><path color="#e7e721" d="M240.2 877.3l-2.4 5.7 1.6 1.5 2.5-5.3z"/><path color="#dce72c" d="M237.8 883l-2.5 5.5 1.7 1.1 2.4-5.1z"/><path color="#d1e72c" d="M235.3 888.5l-2.4 5 1.7 1 2.4-4.9z"/><path color="#b0e721" d="M232.9 893.5l-2.4 4.3 1.6 .9 2.5-4.2z"/><path color="#9adc16" d="M230.5 897.8l-1.1 1.7 1.3 1.2 1.4-2z"/><path color="#79d116" d="M527.7 784.8l-.4 .4 1.6 .5 .2-.1z"/><path color="#6ed121" d="M527.3 785.2l-2.5 3.6 1.6 0 2.5-3.1z"/><path color="#4d6e0b" d="M522.2 788.7l-2.6-1 1.7 .6 2.6 .6z"/><path color="#589a0b" d="M519.6 787.7l-2.6-.6 1.7 .7 2.6 .5z"/><path color="#9a790b" d="M498.5 766.5l-2.5 5.3 1.7 2.5 2.5-4.3z"/><path color="#e7d121" d="M496 771.8l-2.4 6 1.7 1.7 2.4-5.2z"/><path color="#e7e721" d="M493.6 777.8l-2.4 5.3 1.7 1.4 2.4-5z"/><path color="#dce72c" d="M491.2 783.1l-2.4 5.1 1.7 1.2 2.4-4.9z"/><path color="#c6e72c" d="M488.8 788.2l-2.5 4.8 1.7 1 2.5-4.6z"/><path color="#b0e721" d="M486.3 793l-2.4 4.2 1.7 .8 2.4-4z"/><path color="#9adc16" d="M483.9 797.2l-2.5 3.4 1.7 .7 2.5-3.3z"/><path color="#8fdc16" d="M481.4 800.6l-2.5 2.8 1.7 .6 2.5-2.7z"/><path color="#84dc16" d="M478.9 803.4l-2.5 2.8 1.7 .4 2.5-2.6z"/><path color="#6ed121" d="M476.4 806.2l-2.4 4 1.6-.3 2.5-3.3z"/><path color="#4d8f0b" d="M471.4 808.8l-2.6-.8 1.6 .6 2.6 .5z"/><path color="#589a0b" d="M468.8 808l-2.6-.7 1.6 .7 2.6 .6z"/><path color="#b0840b" d="M447.5 785.2l-2.3 8.2 1.7 2.3 2.4-6.6z"/><path color="#e7d121" d="M445.2 793.4l-2.4 5.7 1.7 1.7 2.4-5.1z"/><path color="#e7e721" d="M442.8 799.1l-2.4 5.3 1.6 1.3 2.5-4.9z"/><path color="#dce72c" d="M440.4 804.4l-2.5 5.1 1.7 1.1 2.4-4.9z"/><path color="#c6e72c" d="M437.9 809.5l-2.4 4.7 1.7 1 2.4-4.6z"/><path color="#b0dc21" d="M435.5 814.2l-2.5 4 1.7 .8 2.5-3.8z"/><path color="#9adc16" d="M433 818.2l-2.4 3.3 1.6 .7 2.5-3.2z"/><path color="#84dc16" d="M430.6 821.5l-2.5 2.8 1.6 .6 2.5-2.7z"/><path color="#79dc16" d="M428.1 824.3l-2.5 2.8 1.6 .3 2.5-2.5z"/><path color="#63bb16" d="M425.6 827.1l-2.5 4.1 1.6-.4 2.5-3.4z"/><path color="#588f0b" d="M420.5 829l-2.6-.8 1.6 .7 2.6 .4z"/><path color="#a5840b" d="M399.4 811.4l-2.7-4.7 1.7 3.7 2.7 3.4z"/><path color="#dcbb21" d="M396.7 806.7l-2.3 8.2 1.7 2.2 2.3-6.7z"/><path color="#e7dc21" d="M394.4 814.9l-2.4 5.6 1.6 1.6 2.5-5z"/><path color="#e7e721" d="M392 820.5l-2.5 5.2 1.7 1.3 2.4-4.9z"/><path color="#d1e72c" d="M389.5 825.7l-2.4 5.1 1.7 1.1 2.4-4.9z"/><path color="#bbe721" d="M387.1 830.8l-2.4 4.6 1.6 .9 2.5-4.4z"/><path color="#a5dc21" d="M384.7 835.4l-2.5 3.8 1.7 .8 2.4-3.7z"/><path color="#8fdc16" d="M382.2 839.2l-2.5 3.2 1.7 .7 2.5-3.1z"/><path color="#84dc16" d="M379.7 842.4l-2.5 2.7 1.7 .6 2.5-2.6z"/><path color="#79d116" d="M377.2 845.1l-2.5 3 1.7 .2 2.5-2.6z"/><path color="#63bb16" d="M374.7 848.1l-2.5 2.8 1.7-.2 2.5-2.4z"/><path color="#588f0b" d="M369.6 849.2l-2.6-.7 1.7 .6 2.6 .5z"/><path color="#639a0b" d="M367 848.5l-2.6-.8 1.7 .7 2.6 .7z"/><path color="#a5840b" d="M348.5 830.8l-2.6-1.7 1.7 3.2 2.6 1.2z"/><path color="#e7c621" d="M345.9 829.1l-2.4 7.3 1.7 2 2.4-6.1z"/><path color="#e7dc21" d="M343.5 836.4l-2.4 5.4 1.7 1.5 2.4-4.9z"/><path color="#dce721" d="M341.1 841.8l-2.4 5.2 1.7 1.3 2.4-5z"/><path color="#d1e72c" d="M338.7 847l-2.4 5 1.6 1.1 2.5-4.8z"/><path color="#bbe721" d="M336.3 852l-2.5 4.5 1.7 .9 2.4-4.3z"/><path color="#a5dc21" d="M333.8 856.5l-2.5 3.7 1.7 .8 2.5-3.6z"/><path color="#8fdc16" d="M331.3 860.2l-2.4 3.1 1.6 .7 2.5-3z"/><path color="#84dc16" d="M328.9 863.3l-2.5 2.7 1.6 .5 2.5-2.5z"/><path color="#79d116" d="M326.4 866l-2.5 3.1 1.6 .2 2.5-2.8z"/><path color="#63bb16" d="M323.9 869.1l-2.5 1.6 1.6 0 2.5-1.4z"/><path color="#589a0b" d="M318.7 869.4l-2.5-.6 1.6 .6 2.6 .5z"/><path color="#846e00" d="M300.3 854.7l-2.7-4.6 1.7 2.9 2.7 3.6z"/><path color="#9a790b" d="M297.6 850.1l-2.5 1 1.7 2.9 2.5-1z"/><path color="#e7c621" d="M295.1 851.1l-2.4 6.7 1.7 1.9 2.4-5.7z"/><path color="#e7e721" d="M292.7 857.8l-2.4 5.3 1.6 1.5 2.5-4.9z"/><path color="#dce72c" d="M290.3 863.1l-2.5 5.2 1.7 1.3 2.4-5z"/><path color="#d1e72c" d="M287.8 868.3l-2.4 5 1.7 1 2.4-4.7z"/><path color="#bbe721" d="M285.4 873.3l-2.4 4.3 1.6 .9 2.5-4.2z"/><path color="#9adc16" d="M283 877.6l-2.5 3.6 1.6 .8 2.5-3.5z"/><path color="#8fdc16" d="M280.5 881.2l-2.5 3 1.7 .6 2.4-2.8z"/><path color="#84dc16" d="M278 884.2l-2.5 2.7 1.7 .4 2.5-2.5z"/><path color="#79d121" d="M275.5 886.9l-2.5 3.4 1.7 0 2.5-3z"/><path color="#63c616" d="M273 890.3l-2.5 .4 1.6 .2 2.6-.6z"/><path color="#4d6e0b" d="M270.5 890.7l-2.6-1.1 1.6 .6 2.6 .7z"/><path color="#589a0b" d="M267.9 889.6l-2.6-.6 1.6 .7 2.6 .5z"/><path color="#9a790b" d="M246.7 869.1l-2.5 3.9 1.8 2.6 2.4-3.2z"/><path color="#e7d121" d="M244.2 873l-2.3 6.2 1.6 1.7 2.5-5.3z"/><path color="#e7e721" d="M241.9 879.2l-2.5 5.3 1.7 1.4 2.4-5z"/><path color="#dce72c" d="M239.4 884.5l-2.4 5.1 1.7 1.2 2.4-4.9z"/><path color="#d1e72c" d="M237 889.6l-2.4 4.9 1.6 1 2.5-4.7z"/><path color="#b0e721" d="M234.6 894.5l-2.5 4.2 1.7 .8 2.4-4z"/><path color="#9adc16" d="M232.1 898.7l-1.4 2 1.4 1.1 1.7-2.3z"/><path color="#79d116" d="M528.9 785.7l-2.5 3.1 1.7 .1 2.3-2.5z"/><path color="#6ec616" d="M526.4 788.8l-2.5 .1 1.6 .3 2.6-.3z"/><path color="#588f16" d="M523.9 788.9l-2.6-.6 1.6 .5 2.6 .4z"/><path color="#6e6300" d="M502.9 774.3l-2.7-4.3 1.7 3 2.7 3.2z"/><path color="#a5840b" d="M500.2 770l-2.5 4.3 1.7 2.3 2.5-3.6z"/><path color="#e7d121" d="M497.7 774.3l-2.4 5.2 1.7 1.7 2.4-4.6z"/><path color="#e7e721" d="M495.3 779.5l-2.4 5 1.7 1.3 2.4-4.6z"/><path color="#dce721" d="M492.9 784.5l-2.4 4.9 1.6 1.2 2.5-4.8z"/><path color="#c6e721" d="M490.5 789.4l-2.5 4.6 1.7 1 2.4-4.4z"/><path color="#b0dc21" d="M488 794l-2.4 4 1.6 .9 2.5-3.9z"/><path color="#9adc16" d="M485.6 798l-2.5 3.3 1.6 .8 2.5-3.2z"/><path color="#8fdc16" d="M483.1 801.3l-2.5 2.7 1.6 .7 2.5-2.6z"/><path color="#84dc16" d="M480.6 804l-2.5 2.6 1.6 .4 2.5-2.3z"/><path color="#6ed116" d="M478.1 806.6l-2.5 3.3 1.6 0 2.5-2.9z"/><path color="#589a16" d="M473 809.1l-2.6-.5 1.7 .6 2.5 .3z"/><path color="#b09a0b" d="M449.3 789.1l-2.4 6.6 1.7 2.1 2.4-5.3z"/><path color="#e7dc21" d="M446.9 795.7l-2.4 5.1 1.7 1.6 2.4-4.6z"/><path color="#dce721" d="M444.5 800.8l-2.5 4.9 1.7 1.4 2.5-4.7z"/><path color="#d1e721" d="M442 805.7l-2.4 4.9 1.7 1.2 2.4-4.7z"/><path color="#c6e721" d="M439.6 810.6l-2.4 4.6 1.6 .9 2.5-4.3z"/><path color="#a5dc21" d="M437.2 815.2l-2.5 3.8 1.7 .9 2.4-3.8z"/><path color="#9adc16" d="M434.7 819l-2.5 3.2 1.7 .8 2.5-3.1z"/><path color="#84dc16" d="M432.2 822.2l-2.5 2.7 1.7 .6 2.5-2.5z"/><path color="#79dc16" d="M429.7 824.9l-2.5 2.5 1.7 .4 2.5-2.3z"/><path color="#63c616" d="M427.2 827.4l-2.5 3.4 1.7-.1 2.5-2.9z"/><path color="#589a16" d="M422.1 829.3l-2.6-.4 1.7 .6 2.6 .3z"/><path color="#639a0b" d="M419.5 828.9l-2.5-.7 1.6 .8 2.6 .5z"/><path color="#796e0b" d="M403.8 816.9l-2.7-3.1 1.7 2.2 2.7 2.5z"/><path color="#b08f0b" d="M401.1 813.8l-2.7-3.4 1.8 3.2 2.6 2.4z"/><path color="#dcc621" d="M398.4 810.4l-2.3 6.7 1.7 2 2.4-5.5z"/><path color="#e7dc21" d="M396.1 817.1l-2.5 5 1.7 1.5 2.5-4.5z"/><path color="#dce721" d="M393.6 822.1l-2.4 4.9 1.7 1.3 2.4-4.7z"/><path color="#d1e721" d="M391.2 827l-2.4 4.9 1.6 1.1 2.5-4.7z"/><path color="#bbe721" d="M388.8 831.9l-2.5 4.4 1.7 .9 2.4-4.2z"/><path color="#a5dc21" d="M386.3 836.3l-2.4 3.7 1.6 .9 2.5-3.7z"/><path color="#8fdc16" d="M383.9 840l-2.5 3.1 1.6 .7 2.5-2.9z"/><path color="#84dc16" d="M381.4 843.1l-2.5 2.6 1.6 .6 2.5-2.5z"/><path color="#79dc16" d="M378.9 845.7l-2.5 2.6 1.6 .4 2.5-2.4z"/><path color="#63bb16" d="M376.4 848.3l-2.5 2.4 1.6 .1 2.5-2.1z"/><path color="#4d6e0b" d="M373.9 850.7l-2.6-1.1 1.6 .5 2.6 .7z"/><path color="#589a16" d="M371.3 849.6l-2.6-.5 1.6 .7 2.6 .3z"/><path color="#796e0b" d="M352.9 836.7l-2.7-3.2 1.7 2.3 2.7 2.7z"/><path color="#a58f0b" d="M350.2 833.5l-2.6-1.2 1.7 2.9 2.6 .6z"/><path color="#dcc621" d="M347.6 832.3l-2.4 6.1 1.7 1.9 2.4-5.1z"/><path color="#e7e721" d="M345.2 838.4l-2.4 4.9 1.7 1.5 2.4-4.5z"/><path color="#dce721" d="M342.8 843.3l-2.4 5 1.6 1.2 2.5-4.7z"/><path color="#d1e721" d="M340.4 848.3l-2.5 4.8 1.7 1.1 2.4-4.7z"/><path color="#bbe721" d="M337.9 853.1l-2.4 4.3 1.6 .9 2.5-4.1z"/><path color="#a5dc16" d="M335.5 857.4l-2.5 3.6 1.7 .8 2.4-3.5z"/><path color="#8fdc16" d="M333 861l-2.5 3 1.7 .7 2.5-2.9z"/><path color="#84dc16" d="M330.5 864l-2.5 2.5 1.7 .6 2.5-2.4z"/><path color="#79d116" d="M328 866.5l-2.5 2.8 1.7 .2 2.5-2.4z"/><path color="#6ec616" d="M325.5 869.3l-2.5 1.4 1.6 .2 2.6-1.4z"/><path color="#4d6e0b" d="M323 870.7l-2.6-.8 1.6 .5 2.6 .5z"/><path color="#639a16" d="M320.4 869.9l-2.6-.5 1.7 .7 2.5 .3z"/><path color="#a58f0b" d="M299.3 853l-2.5 1 1.7 2.6 2.5-1z"/><path color="#dcd121" d="M296.8 854l-2.4 5.7 1.7 1.8 2.4-4.9z"/><path color="#e7e721" d="M294.4 859.7l-2.5 4.9 1.7 1.4 2.5-4.5z"/><path color="#dce721" d="M291.9 864.6l-2.4 5 1.7 1.2 2.4-4.8z"/><path color="#d1e721" d="M289.5 869.6l-2.4 4.7 1.6 1 2.5-4.5z"/><path color="#b0e721" d="M287.1 874.3l-2.5 4.2 1.7 .9 2.4-4.1z"/><path color="#9adc16" d="M284.6 878.5l-2.5 3.5 1.7 .8 2.5-3.4z"/><path color="#8fdc16" d="M282.1 882l-2.4 2.8 1.6 .7 2.5-2.7z"/><path color="#84dc16" d="M279.7 884.8l-2.5 2.5 1.6 .6 2.5-2.4z"/><path color="#79d116" d="M277.2 887.3l-2.5 3 1.6 .1 2.5-2.5z"/><path color="#6ec616" d="M274.7 890.3l-2.6 .6 1.7 .2 2.5-.7z"/><path color="#4d8f16" d="M272.1 890.9l-2.6-.7 1.7 .5 2.6 .4z"/><path color="#6e6300" d="M251.1 876.4l-2.7-4 1.8 2.9 2.6 3z"/><path color="#a58f0b" d="M248.4 872.4l-2.4 3.2 1.7 2.4 2.5-2.7z"/><path color="#e7d121" d="M246 875.6l-2.5 5.3 1.7 1.8 2.5-4.7z"/><path color="#e7e721" d="M243.5 880.9l-2.4 5 1.7 1.4 2.4-4.6z"/><path color="#dce721" d="M241.1 885.9l-2.4 4.9 1.6 1.2 2.5-4.7z"/><path color="#c6e721" d="M238.7 890.8l-2.5 4.7 1.7 1 2.4-4.5z"/><path color="#b0e721" d="M236.2 895.5l-2.4 4 1.6 .9 2.5-3.9z"/><path color="#9adc16" d="M233.8 899.5l-1.7 2.3 1.4 1.2 1.9-2.6z"/><path color="#79d116" d="M530.4 786.4l-2.3 2.5 1.6 .2 2.1-1.9z"/><path color="#6ed116" d="M528.1 788.9l-2.6 .3 1.7 .4 2.5-.5z"/><path color="#589a16" d="M525.5 789.2l-2.6-.4 1.7 .7 2.6 .1z"/><path color="#63a516" d="M522.9 788.8l-2.5-.3 1.6 .7 2.6 .3z"/><path color="#639a0b" d="M520.4 788.5l-2.6-.9 1.6 .8 2.6 .8z"/><path color="#84840b" d="M507.2 778.7l-2.6-2.5 1.7 1.8 2.6 2.2z"/><path color="#6e630b" d="M504.6 776.2l-2.7-3.2 1.7 2.6 2.7 2.4z"/><path color="#a59a0b" d="M501.9 773l-2.5 3.6 1.7 2.1 2.5-3.1z"/><path color="#dcdc16" d="M499.4 776.6l-2.4 4.6 1.7 1.6 2.4-4.1z"/><path color="#dce721" d="M497 781.2l-2.4 4.6 1.6 1.4 2.5-4.4z"/><path color="#d1e721" d="M494.6 785.8l-2.5 4.8 1.7 1.1 2.4-4.5z"/><path color="#c6e721" d="M492.1 790.6l-2.4 4.4 1.6 1 2.5-4.3z"/><path color="#b0dc21" d="M489.7 795l-2.5 3.9 1.7 .8 2.4-3.7z"/><path color="#9adc16" d="M487.2 798.9l-2.5 3.2 1.7 .7 2.5-3.1z"/><path color="#8fdc16" d="M484.7 802.1l-2.5 2.6 1.7 .7 2.5-2.6z"/><path color="#84dc16" d="M482.2 804.7l-2.5 2.3 1.7 .6 2.5-2.2z"/><path color="#79d116" d="M479.7 807l-2.5 2.9 1.7 .1 2.5-2.4z"/><path color="#6ed116" d="M477.2 809.9l-2.6-.4 1.7 .4 2.6 .1z"/><path color="#589a16" d="M474.6 809.5l-2.5-.3 1.6 .6 2.6 .1z"/><path color="#63a50b" d="M472.1 809.2l-2.6-.5 1.6 .8 2.6 .3z"/><path color="#79790b" d="M461.6 803.9l-2.6-2.7-2.7-2.6-2.6-2.5 1.7 1.9 2.6 2.1 2.7 2.4 2.6 2.5z"/><path color="#796e0b" d="M453.7 796.1l-2.7-3.6 1.7 2.9 2.7 2.6z"/><path color="#bba50b" d="M451 792.5l-2.4 5.3 1.7 2 2.4-4.4z"/><path color="#e7dc16" d="M448.6 797.8l-2.4 4.6 1.6 1.5 2.5-4.1z"/><path color="#dce721" d="M446.2 802.4l-2.5 4.7 1.7 1.3 2.4-4.5z"/><path color="#d1e721" d="M443.7 807.1l-2.4 4.7 1.6 1.1 2.5-4.5z"/><path color="#bbe721" d="M441.3 811.8l-2.5 4.3 1.7 1 2.4-4.2z"/><path color="#a5dc21" d="M438.8 816.1l-2.4 3.8 1.6 .8 2.5-3.6z"/><path color="#8fdc16" d="M436.4 819.9l-2.5 3.1 1.6 .7 2.5-3z"/><path color="#84dc16" d="M433.9 823l-2.5 2.5-2.5 2.3 1.6 .5 2.5-2.1 2.5-2.5z"/><path color="#6ec616" d="M428.9 827.8l-2.5 2.9 1.6 .1 2.5-2.5z"/><path color="#4d6e0b" d="M426.4 830.7l-2.6-.9 1.6 .5 2.6 .5z"/><path color="#63a516" d="M423.8 829.8l-2.6-.3 1.6 .7 2.6 .1z"/><path color="#639a0b" d="M421.2 829.5l-2.6-.5 1.7 .7 2.5 .5z"/><path color="#79790b" d="M405.5 818.5l-2.7-2.5 1.7 2 2.6 2.1z"/><path color="#bba50b" d="M402.8 816l-2.6-2.4 1.7 2.8 2.6 1.6z"/><path color="#dcc616" d="M400.2 813.6l-2.4 5.5 1.6 1.8 2.5-4.5z"/><path color="#e7e716" d="M397.8 819.1l-2.5 4.5 1.7 1.5 2.4-4.2z"/><path color="#dce721" d="M395.3 823.6l-2.4 4.7 1.6 1.3 2.5-4.5z"/><path color="#d1e721" d="M392.9 828.3l-2.5 4.7 1.7 1.1 2.4-4.5z"/><path color="#bbe721" d="M390.4 833l-2.4 4.2 1.6 1 2.5-4.1z"/><path color="#a5dc16" d="M388 837.2l-2.5 3.7 1.7 .8 2.4-3.5z"/><path color="#8fdc16" d="M385.5 840.9l-2.5 2.9 1.7 .8 2.5-2.9z"/><path color="#84dc16" d="M383 843.8l-2.5 2.5 1.7 .6 2.5-2.3z"/><path color="#79dc16" d="M380.5 846.3l-2.5 2.4 1.7 .4 2.5-2.2z"/><path color="#6ec616" d="M378 848.7l-2.5 2.1 1.6 .2 2.6-1.9z"/><path color="#4d8f16" d="M375.5 850.8l-2.6-.7 1.7 .5 2.5 .4z"/><path color="#63a516" d="M372.9 850.1l-2.6-.3 1.7 .7 2.6 .1z"/><path color="#639a0b" d="M370.3 849.8l-2.6-.6 1.7 .8 2.6 .5z"/><path color="#79790b" d="M354.6 838.5l-2.7-2.7 1.7 2.2 2.7 2.1z"/><path color="#b0a50b" d="M351.9 835.8l-2.6-.6 1.7 2.5 2.6 .3z"/><path color="#dcd116" d="M349.3 835.2l-2.4 5.1 1.7 1.7 2.4-4.3z"/><path color="#e7e716" d="M346.9 840.3l-2.4 4.5 1.6 1.5 2.5-4.3z"/><path color="#dce721" d="M344.5 844.8l-2.5 4.7 1.7 1.3 2.4-4.5z"/><path color="#d1e721" d="M342 849.5l-2.4 4.7 1.6 1 2.5-4.4z"/><path color="#bbe721" d="M339.6 854.2l-2.5 4.1 1.7 .9 2.4-4z"/><path color="#9adc16" d="M337.1 858.3l-2.4 3.5 1.6 .8 2.5-3.4z"/><path color="#8fdc16" d="M334.7 861.8l-2.5 2.9 1.6 .7 2.5-2.8z"/><path color="#84dc16" d="M332.2 864.7l-2.5 2.4 1.6 .6 2.5-2.3z"/><path color="#79dc16" d="M329.7 867.1l-2.5 2.4 1.6 .4 2.5-2.2z"/><path color="#6ec616" d="M327.2 869.5l-2.6 1.4 1.7 .3 2.5-1.3z"/><path color="#589a16" d="M324.6 870.9l-2.6-.5 1.7 .6 2.6 .2z"/><path color="#63a516" d="M322 870.4l-2.5-.3 1.6 .7 2.6 .2z"/><path color="#84840b" d="M306.3 860.9l-2.6-2.5 1.7 1.7 2.6 2.2z"/><path color="#796e0b" d="M303.7 858.4l-2.7-2.8 1.7 2.3 2.7 2.2z"/><path color="#b09a0b" d="M301 855.6l-2.5 1 1.7 2.3 2.5-1z"/><path color="#dcd116" d="M298.5 856.6l-2.4 4.9 1.6 1.7 2.5-4.3z"/><path color="#e7e721" d="M296.1 861.5l-2.5 4.5 1.7 1.4 2.4-4.2z"/><path color="#dce721" d="M293.6 866l-2.4 4.8 1.6 1.2 2.5-4.6z"/><path color="#c6e721" d="M291.2 870.8l-2.5 4.5 1.7 1.1 2.4-4.4z"/><path color="#b0e721" d="M288.7 875.3l-2.4 4.1 1.6 .9 2.5-3.9z"/><path color="#9adc16" d="M286.3 879.4l-2.5 3.4 1.7 .7 2.4-3.2z"/><path color="#8fdc16" d="M283.8 882.8l-2.5 2.7 1.7 .7 2.5-2.7z"/><path color="#84dc16" d="M281.3 885.5l-2.5 2.4 1.7 .6 2.5-2.3z"/><path color="#79d116" d="M278.8 887.9l-2.5 2.5 1.6 .3 2.6-2.2z"/><path color="#6ed116" d="M276.3 890.4l-2.5 .7 1.6 .4 2.5-.8z"/><path color="#589a16" d="M273.8 891.1l-2.6-.4 1.6 .6 2.6 .2z"/><path color="#63a516" d="M271.2 890.7l-2.6-.3 1.6 .7 2.6 .2z"/><path color="#84840b" d="M255.5 880.8l-2.7-2.5 1.7 1.8 2.6 2.1z"/><path color="#6e6e0b" d="M252.8 878.3l-2.6-3 1.7 2.5 2.6 2.3z"/><path color="#b09a0b" d="M250.2 875.3l-2.5 2.7 1.7 2.1 2.5-2.3z"/><path color="#dcdc16" d="M247.7 878l-2.5 4.7 1.7 1.6 2.5-4.2z"/><path color="#dce721" d="M245.2 882.7l-2.4 4.6 1.6 1.3 2.5-4.3z"/><path color="#d1e721" d="M242.8 887.3l-2.5 4.7 1.7 1.2 2.4-4.6z"/><path color="#c6e721" d="M240.3 892l-2.4 4.5 1.7 1 2.4-4.3z"/><path color="#b0dc21" d="M237.9 896.5l-2.5 3.9 1.7 .9 2.5-3.8z"/><path color="#9adc16" d="M235.4 900.4l-1.9 2.6 1.4 1.1 2.2-2.8z"/><path color="#79d116" d="M531.8 787.2l-2.1 1.9-2.5 .5 1.6 .5 2.6-.6 1.8-1.5z"/><path color="#63a516" d="M527.2 789.6l-2.6-.1-2.6-.3 1.7 .7 2.5 .2 2.6 0z"/><path color="#639a0b" d="M522 789.2l-2.6-.8 1.7 .8 2.6 .7z"/><path color="#84840b" d="M508.9 780.2l-2.6-2.2 1.6 1.7 2.7 1.9z"/><path color="#796e0b" d="M506.3 778l-2.7-2.4 1.7 2.4 2.6 1.7z"/><path color="#b0a50b" d="M503.6 775.6l-2.5 3.1 1.7 1.9 2.5-2.6z"/><path color="#dcdc16" d="M501.1 778.7l-2.4 4.1 1.7 1.5 2.4-3.7z"/><path color="#dce721" d="M498.7 782.8l-2.5 4.4 1.7 1.3 2.5-4.2z"/><path color="#d1e721" d="M496.2 787.2l-2.4 4.5 1.6 1.1 2.5-4.3z"/><path color="#c6e721" d="M493.8 791.7l-2.5 4.3 1.7 1 2.4-4.2z"/><path color="#a5dc21" d="M491.3 796l-2.4 3.7 1.6 .9 2.5-3.6z"/><path color="#9adc16" d="M488.9 799.7l-2.5 3.1 1.6 .8 2.5-3z"/><path color="#8fdc16" d="M486.4 802.8l-2.5 2.6 1.6 .7 2.5-2.5z"/><path color="#84dc16" d="M483.9 805.4l-2.5 2.2 1.6 .5 2.5-2z"/><path color="#79d116" d="M481.4 807.6l-2.5 2.4-2.6-.1 1.6 .6 2.6-.2 2.5-2.2z"/><path color="#63a516" d="M476.3 809.9l-2.6-.1-2.6-.3 1.7 .7 2.6 .3 2.5 0z"/><path color="#639a0b" d="M471.1 809.5l-2.6-.9 1.7 .8 2.6 .8z"/><path color="#84840b" d="M458 800.1l-2.6-2.1 1.7 1.8 2.6 1.8z"/><path color="#84790b" d="M455.4 798l-2.7-2.6 1.7 2.5 2.7 1.9z"/><path color="#c6b00b" d="M452.7 795.4l-2.4 4.4 1.7 1.8 2.4-3.7z"/><path color="#dce716" d="M450.3 799.8l-2.5 4.1 1.7 1.5 2.5-3.8z"/><path color="#dce721" d="M447.8 803.9l-2.4 4.5 1.7 1.2 2.4-4.2z"/><path color="#d1e721" d="M445.4 808.4l-2.5 4.5 1.7 1.1 2.5-4.4z"/><path color="#bbe721" d="M442.9 812.9l-2.4 4.2 1.6 .9 2.5-4z"/><path color="#a5dc16" d="M440.5 817.1l-2.5 3.6 1.7 .9 2.4-3.6z"/><path color="#8fdc16" d="M438 820.7l-2.5 3 1.7 .8 2.5-2.9z"/><path color="#84dc16" d="M435.5 823.7l-2.5 2.5-2.5 2.1 1.7 .6 2.5-2.1 2.5-2.3z"/><path color="#79d116" d="M430.5 828.3l-2.5 2.5 1.7 .2 2.5-2.1z"/><path color="#63a516" d="M428 830.8l-2.6-.5-2.6-.1 1.7 .6 2.6 0 2.6 .2z"/><path color="#63a50b" d="M422.8 830.2l-2.5-.5 1.6 .8 2.6 .3z"/><path color="#79790b" d="M412.4 824.9l-2.6-2.5-2.7-2.3 1.7 1.5 2.6 2.1 2.7 2.3z"/><path color="#84840b" d="M407.1 820.1l-2.6-2.1 1.7 1.9 2.6 1.7z"/><path color="#bbb00b" d="M404.5 818l-2.6-1.6 1.7 2.4 2.6 1.1z"/><path color="#dcd116" d="M401.9 816.4l-2.5 4.5 1.7 1.8 2.5-3.9z"/><path color="#dce716" d="M399.4 820.9l-2.4 4.2 1.7 1.4 2.4-3.8z"/><path color="#dce721" d="M397 825.1l-2.5 4.5 1.7 1.2 2.5-4.3z"/><path color="#d1e721" d="M394.5 829.6l-2.4 4.5 1.7 1 2.4-4.3z"/><path color="#bbe721" d="M392.1 834.1l-2.5 4.1 1.7 .9 2.5-4z"/><path color="#a5dc16" d="M389.6 838.2l-2.4 3.5 1.6 .8 2.5-3.4z"/><path color="#8fdc16" d="M387.2 841.7l-2.5 2.9 1.6 .7 2.5-2.8z"/><path color="#84dc16" d="M384.7 844.6l-2.5 2.3-2.5 2.2 1.6 .5 2.5-2 2.5-2.3z"/><path color="#6ec616" d="M379.7 849.1l-2.6 1.9 1.7 .3 2.5-1.7z"/><path color="#589a16" d="M377.1 851l-2.5-.4 1.6 .6 2.6 .1z"/><path color="#63a516" d="M374.6 850.6l-2.6-.1 1.6 .7 2.6 0z"/><path color="#639a0b" d="M372 850.5l-2.6-.5-2.6-1.1 1.6 .8 2.6 1 2.6 .5z"/><path color="#84840b" d="M358.9 842.4l-2.6-2.3 1.6 1.5 2.7 2.1z"/><path color="#84790b" d="M356.3 840.1l-2.7-2.1 1.7 2 2.6 1.6z"/><path color="#bbb00b" d="M353.6 838l-2.6-.3 1.7 2.2 2.6 .1z"/><path color="#dcd116" d="M351 837.7l-2.4 4.3 1.7 1.7 2.4-3.8z"/><path color="#dce716" d="M348.6 842l-2.5 4.3 1.7 1.4 2.5-4z"/><path color="#dce721" d="M346.1 846.3l-2.4 4.5 1.7 1.2 2.4-4.3z"/><path color="#d1e721" d="M343.7 850.8l-2.5 4.4 1.7 1.1 2.5-4.3z"/><path color="#b0e721" d="M341.2 855.2l-2.4 4 1.6 .9 2.5-3.8z"/><path color="#9adc16" d="M338.8 859.2l-2.5 3.4 1.7 .8 2.4-3.3z"/><path color="#8fdc16" d="M336.3 862.6l-2.5 2.8 1.7 .7 2.5-2.7z"/><path color="#84dc16" d="M333.8 865.4l-2.5 2.3 1.7 .6 2.5-2.2z"/><path color="#79dc16" d="M331.3 867.7l-2.5 2.2 1.6 .5 2.6-2.1z"/><path color="#79d116" d="M328.8 869.9l-2.5 1.3 1.6 .4 2.5-1.2z"/><path color="#58a516" d="M326.3 871.2l-2.6-.2 1.6 .6 2.6 0z"/><path color="#63a516" d="M323.7 871l-2.6-.2 1.7 .7 2.5 .1z"/><path color="#639a0b" d="M321.1 870.8l-2.6-.6 1.7 .8 2.6 .5z"/><path color="#84840b" d="M308 862.3l-2.6-2.2 1.7 1.6 2.6 2z"/><path color="#79790b" d="M305.4 860.1l-2.7-2.2 1.7 2.1 2.7 1.7z"/><path color="#bbb00b" d="M302.7 857.9l-2.5 1 1.7 2.1 2.5-1z"/><path color="#dcdc16" d="M300.2 858.9l-2.5 4.3 1.7 1.6 2.5-3.8z"/><path color="#dce716" d="M297.7 863.2l-2.4 4.2 1.7 1.4 2.4-4z"/><path color="#d1e721" d="M295.3 867.4l-2.5 4.6 1.7 1.1 2.5-4.3z"/><path color="#c6e721" d="M292.8 872l-2.4 4.4 1.7 1 2.4-4.3z"/><path color="#b0dc21" d="M290.4 876.4l-2.5 3.9 1.7 .9 2.5-3.8z"/><path color="#9adc16" d="M287.9 880.3l-2.4 3.2 1.6 .8 2.5-3.1z"/><path color="#8fdc16" d="M285.5 883.5l-2.5 2.7 1.6 .7 2.5-2.6z"/><path color="#84dc16" d="M283 886.2l-2.5 2.3 1.6 .6 2.5-2.2z"/><path color="#79d116" d="M280.5 888.5l-2.6 2.2-2.5 .8 1.6 .4 2.6-.8 2.5-2z"/><path color="#63a516" d="M275.4 891.5l-2.6-.2-2.6-.2 1.7 .7 2.6 .2 2.5-.1z"/><path color="#84840b" d="M257.1 882.2l-2.6-2.1 1.7 1.7 2.6 1.8z"/><path color="#79790b" d="M254.5 880.1l-2.6-2.3 1.7 2.2 2.6 1.8z"/><path color="#b0a50b" d="M251.9 877.8l-2.5 2.3 1.6 2 2.6-2.1z"/><path color="#dcdc16" d="M249.4 880.1l-2.5 4.2 1.7 1.5 2.4-3.7z"/><path color="#dce716" d="M246.9 884.3l-2.5 4.3 1.7 1.4 2.5-4.2z"/><path color="#d1e721" d="M244.4 888.6l-2.4 4.6 1.7 1.1 2.4-4.3z"/><path color="#c6e721" d="M242 893.2l-2.4 4.3 1.6 1 2.5-4.2z"/><path color="#b0dc21" d="M239.6 897.5l-2.5 3.8 1.6 .8 2.5-3.6z"/><path color="#9adc16" d="M237.1 901.3l-2.2 2.8 1.4 1.1 2.4-3.1z"/><path color="#8fdc16" d="M234.9 904.1l1.3 1.1 .1 0z"/><path color="#79d116" d="M533.2 788l-1.8 1.5-2.6 .6 1.7 .5 2.5-.7 1.5-1.1z"/><path color="#63b016" d="M528.8 790.1l-2.6 0 1.7 .7 2.6-.2z"/><path color="#639a0b" d="M523.7 789.9l-2.6-.7 1.6 .8 2.6 .7z"/><path color="#84790b" d="M507.9 779.7l-2.6-1.7 1.7 2.1 2.6 1.3z"/><path color="#bbb00b" d="M505.3 778l-2.5 2.6 1.7 1.8 2.5-2.3z"/><path color="#dcdc16" d="M502.8 780.6l-2.4 3.7 1.6 1.5 2.5-3.4z"/><path color="#dce716" d="M500.4 784.3l-2.5 4.2 1.7 1.3 2.4-4z"/><path color="#d1e721" d="M497.9 788.5l-2.5 4.3 1.7 1.1 2.5-4.1z"/><path color="#bbe721" d="M495.4 792.8l-2.4 4.2 1.7 .9 2.4-4z"/><path color="#a5dc16" d="M493 797l-2.5 3.6 1.7 .9 2.5-3.6z"/><path color="#9adc16" d="M490.5 800.6l-2.5 3 1.7 .8 2.5-2.9z"/><path color="#8fdc16" d="M488 803.6l-2.5 2.5 1.7 .6 2.5-2.3z"/><path color="#84dc16" d="M485.5 806.1l-2.5 2 1.7 .6 2.5-2z"/><path color="#79d116" d="M483 808.1l-2.5 2.2-2.6 .2 1.7 .5 2.6-.3 2.5-2z"/><path color="#63b016" d="M477.9 810.5l-2.5 0 1.6 .6 2.6-.1z"/><path color="#63a516" d="M475.4 810.5l-2.6-.3 1.6 .8 2.6 .1z"/><path color="#639a0b" d="M472.8 810.2l-2.6-.8 1.7 .8 2.5 .8z"/><path color="#848f0b" d="M462.3 803.8l-2.6-2.2 1.7 1.4 2.6 2z"/><path color="#84840b" d="M459.7 801.6l-2.6-1.8 1.6 1.7 2.7 1.5z"/><path color="#8f840b" d="M457.1 799.8l-2.7-1.9 1.7 2.3 2.6 1.3z"/><path color="#c6bb0b" d="M454.4 797.9l-2.4 3.7 1.7 1.7 2.4-3.1z"/><path color="#dcdc16" d="M452 801.6l-2.5 3.8 1.7 1.5 2.5-3.6z"/><path color="#dce716" d="M449.5 805.4l-2.4 4.2 1.6 1.3 2.5-4z"/><path color="#d1e721" d="M447.1 809.6l-2.5 4.4 1.7 1.1 2.4-4.2z"/><path color="#bbe721" d="M444.6 814l-2.5 4 1.7 1 2.5-3.9z"/><path color="#a5dc16" d="M442.1 818l-2.4 3.6 1.6 .8 2.5-3.4z"/><path color="#8fdc16" d="M439.7 821.6l-2.5 2.9-2.5 2.3 1.6 .7 2.5-2.3 2.5-2.8z"/><path color="#84dc16" d="M434.7 826.8l-2.5 2.1 1.6 .5 2.5-1.9z"/><path color="#79d116" d="M432.2 828.9l-2.5 2.1 1.6 .4 2.5-2z"/><path color="#63b016" d="M429.7 831l-2.6-.2-2.6 0 1.7 .7 2.5-.1 2.6 0z"/><path color="#63a50b" d="M424.5 830.8l-2.6-.3 1.7 .7 2.6 .3z"/><path color="#848f0b" d="M411.4 823.7l-2.6-2.1 1.7 1.5 2.6 1.9z"/><path color="#84840b" d="M408.8 821.6l-2.6-1.7 1.7 1.7 2.6 1.5z"/><path color="#c6bb0b" d="M406.2 819.9l-2.6-1.1 1.7 2.2 2.6 .6z"/><path color="#dcd10b" d="M403.6 818.8l-2.5 3.9 1.7 1.6 2.5-3.3z"/><path color="#dce716" d="M401.1 822.7l-2.4 3.8 1.6 1.4 2.5-3.6z"/><path color="#dce721" d="M398.7 826.5l-2.5 4.3 1.7 1.2 2.4-4.1z"/><path color="#d1e721" d="M396.2 830.8l-2.4 4.3 1.6 1.1 2.5-4.2z"/><path color="#bbe721" d="M393.8 835.1l-2.5 4 1.7 .9 2.4-3.8z"/><path color="#a5dc16" d="M391.3 839.1l-2.5 3.4 1.7 .8 2.5-3.3z"/><path color="#8fdc16" d="M388.8 842.5l-2.5 2.8 1.7 .7 2.5-2.7z"/><path color="#84dc16" d="M386.3 845.3l-2.5 2.3-2.5 2 1.7 .6 2.5-2 2.5-2.2z"/><path color="#79d116" d="M381.3 849.6l-2.5 1.7 1.6 .4 2.6-1.5z"/><path color="#63a516" d="M378.8 851.3l-2.6-.1 1.7 .6 2.5-.1z"/><path color="#63b016" d="M376.2 851.2l-2.6 0 1.7 .7 2.6-.1z"/><path color="#63a50b" d="M373.6 851.2l-2.6-.5 1.7 .8 2.6 .4z"/><path color="#84840b" d="M357.9 841.6l-2.6-1.6 1.7 1.8 2.6 1.3z"/><path color="#c6bb0b" d="M355.3 840l-2.6-.1 1.7 2.1 2.6-.2z"/><path color="#dcdc0b" d="M352.7 839.9l-2.4 3.8 1.6 1.6 2.5-3.3z"/><path color="#dce716" d="M350.3 843.7l-2.5 4 1.7 1.3 2.4-3.7z"/><path color="#d1e721" d="M347.8 847.7l-2.4 4.3 1.6 1.2 2.5-4.2z"/><path color="#c6e721" d="M345.4 852l-2.5 4.3 1.7 1 2.4-4.1z"/><path color="#b0e721" d="M342.9 856.3l-2.5 3.8 1.7 .9 2.5-3.7z"/><path color="#9adc16" d="M340.4 860.1l-2.4 3.3 1.6 .8 2.5-3.2z"/><path color="#8fdc16" d="M338 863.4l-2.5 2.7 1.6 .7 2.5-2.6z"/><path color="#84dc16" d="M335.5 866.1l-2.5 2.2-2.6 2.1 1.7 .5 2.5-1.9 2.5-2.2z"/><path color="#79d116" d="M330.4 870.4l-2.5 1.2 1.7 .5 2.5-1.2z"/><path color="#63a516" d="M327.9 871.6l-2.6 0-2.5-.1 1.6 .7 2.6 0 2.6-.1z"/><path color="#63a50b" d="M322.8 871.5l-2.6-.5 1.6 .8 2.6 .4z"/><path color="#79790b" d="M312.3 865.9l-2.6-2.2 1.7 1.3 2.6 2.1z"/><path color="#84840b" d="M309.7 863.7l-2.6-2-2.7-1.7 1.7 1.9 2.6 1.3 2.7 1.8z"/><path color="#bbbb0b" d="M304.4 860l-2.5 1 1.7 2 2.5-1.1z"/><path color="#dcdc16" d="M301.9 861l-2.5 3.8 1.7 1.5 2.5-3.3z"/><path color="#dce716" d="M299.4 864.8l-2.4 4 1.6 1.3 2.5-3.8z"/><path color="#d1e721" d="M297 868.8l-2.5 4.3 1.7 1.2 2.4-4.2z"/><path color="#c6e721" d="M294.5 873.1l-2.4 4.3 1.6 1 2.5-4.1z"/><path color="#b0dc21" d="M292.1 877.4l-2.5 3.8 1.7 .8 2.4-3.6z"/><path color="#9adc16" d="M289.6 881.2l-2.5 3.1 1.7 .8 2.5-3.1z"/><path color="#8fdc16" d="M287.1 884.3l-2.5 2.6 1.7 .7 2.5-2.5z"/><path color="#84dc16" d="M284.6 886.9l-2.5 2.2 1.7 .6 2.5-2.1z"/><path color="#79dc16" d="M282.1 889.1l-2.5 2 1.6 .5 2.6-1.9z"/><path color="#79d116" d="M279.6 891.1l-2.6 .8 1.7 .6 2.5-.9z"/><path color="#63b016" d="M277 891.9l-2.5 .1 1.6 .6 2.6-.1z"/><path color="#63a516" d="M274.5 892l-2.6-.2 1.6 .7 2.6 .1z"/><path color="#639a0b" d="M271.9 891.8l-2.6-.6 1.7 .8 2.5 .5z"/><path color="#84840b" d="M258.8 883.6l-2.6-1.8-2.6-1.8 1.6 2.1 2.7 1.2 2.6 1.7z"/><path color="#bbbb0b" d="M253.6 880l-2.6 2.1 1.7 1.8 2.5-1.8z"/><path color="#dcdc16" d="M251 882.1l-2.4 3.7 1.6 1.5 2.5-3.4z"/><path color="#dce716" d="M248.6 885.8l-2.5 4.2 1.7 1.3 2.4-4z"/><path color="#d1e721" d="M246.1 890l-2.4 4.3 1.6 1.1 2.5-4.1z"/><path color="#c6e721" d="M243.7 894.3l-2.5 4.2 1.7 1 2.4-4.1z"/><path color="#a5dc16" d="M241.2 898.5l-2.5 3.6 1.7 .9 2.5-3.5z"/><path color="#9adc16" d="M238.7 902.1l-2.4 3.1 1.6 .8 2.5-3z"/><path color="#8fdc16" d="M236.3 905.2l-.1 0 1.4 1.1 .3-.3z"/><path color="#6e8f0b" d="M522.7 790l-2.6-1.1-2.6-1.8 2.6 1.8 2.6 1.1z"/><path color="#848f0b" d="M514.9 785l-2.7-2-2.6-1.6 2.6 1.6 2.7 2z"/><path color="#84840b" d="M509.6 781.4l-2.6-1.3 2.6 1.3z"/><path color="#dcdc16" d="M504.5 782.4l-2.5 3.4 2.5-3.4z"/><path color="#6ea516" d="M477 811.1l-2.6-.1 2.6 .1z"/><path color="#848f0b" d="M464 805l-2.6-2-2.7-1.5 2.7 1.5 2.6 2z"/><path color="#8f8f0b" d="M458.7 801.5l-2.6-1.3 2.6 1.3z"/><path color="#dcdc16" d="M453.7 803.3l-2.5 3.6 2.5-3.6z"/><path color="#d1e721" d="M448.7 810.9l-2.4 4.2 2.4-4.2z"/><path color="#84dc16" d="M436.3 827.5l-2.5 1.9 2.5-1.9z"/><path color="#6ea50b" d="M426.2 831.5l-2.6-.3 2.6 .3z"/><path color="#848f0b" d="M413.1 825l-2.6-1.9-2.6-1.5 2.6 1.5 2.6 1.9z"/><path color="#c6bb0b" d="M407.9 821.6l-2.6-.6 2.6 .6z"/><path color="#848f0b" d="M364.9 847.1l-2.7-2.1-2.6-1.9 2.6 1.9 2.7 2.1z"/><path color="#84840b" d="M359.6 843.1l-2.6-1.3 2.6 1.3z"/><path color="#c6bb0b" d="M357 841.8l-2.6 .2 2.6-.2z"/><path color="#63a50b" d="M324.4 872.2l-2.6-.4 2.6 .4z"/><path color="#84840b" d="M308.7 863.2l-2.6-1.3 2.6 1.3z"/><path color="#c6bb0b" d="M306.1 861.9l-2.5 1.1 2.5-1.1z"/><path color="#639a0b" d="M273.5 892.5l-2.5-.5-2.6-1.1 2.6 1.1 2.5 .5z"/><path color="#84840b" d="M257.9 883.3l-2.7-1.2 2.7 1.2z"/><path color="#c6bb0b" d="M255.2 882.1l-2.5 1.8 2.5-1.8z"/><path color="#79d116" d="M533 789.9l-5.1 .9 5.1-.9z"/><path color="#6ea50b" d="M527.9 790.8l-5.2-.8 5.2 .8z"/><path color="#79d116" d="M482.2 810.7l-5.2 .4 5.2-.4z"/><path color="#6ea50b" d="M477 811.1l-5.1-.9 5.1 .9z"/><path color="#6eb016" d="M431.3 831.4l-5.1 .1 5.1-.1z"/><path color="#6ea50b" d="M426.2 831.5l-5.2-1.1 5.2 1.1z"/><path color="#6e9a0b" d="M375.3 851.9l-5.2-1.3 5.2 1.3z"/><path color="#c6c60b" d="M359.6 843.1l-5.2-1.1 5.2 1.1z"/><path color="#c6c60b" d="M308.7 863.2l-5.1-.2 5.1 .2z"/><path color="#63a516" d="M278.7 892.5l-5.2 0 5.2 0z"/><path color="#c6c60b" d="M257.9 883.3l-5.2 .6 5.2-.6z"/><path color="#79dc16" d="M534.5 788.8l-1.5 1.1 4.7 1.6 .7-.4z"/><path color="#84d116" d="M533 789.9l-5.1 .9 4.7 1.9 5.1-1.2z"/><path color="#6ea50b" d="M527.9 790.8l-5.2-.8 4.8 2.4 5.1 .3z"/><path color="#6e9a0b" d="M522.7 790l-5.2-2.9 4.7 2.9 5.3 2.4z"/><path color="#848f0b" d="M512.2 783l-5.2-2.9 4.8 5.1 5.2 1.5z"/><path color="#c6d10b" d="M507 780.1l-5 5.7 4.8 4 5-4.6z"/><path color="#d1e716" d="M502 785.8l-4.9 8.1 4.8 3.1 4.9-7.2z"/><path color="#b0dc16" d="M497.1 793.9l-4.9 7.6 4.7 2.4 5-6.9z"/><path color="#8fdc16" d="M492.2 801.5l-5 5.2 4.7 2.1 5-4.9z"/><path color="#84dc16" d="M487.2 806.7l-5 4 4.7 1.4 5-3.3z"/><path color="#84d116" d="M482.2 810.7l-5.2 .4 4.7 2 5.2-1z"/><path color="#6ea50b" d="M477 811.1l-5.1-.9 4.7 2.4 5.1 .5z"/><path color="#6e8f0b" d="M471.9 810.2l-5.3-3.1 4.8 3 5.2 2.5z"/><path color="#9a9a0b" d="M461.4 803l-5.3-2.8 4.9 5.3 5.1 1.4z"/><path color="#d1d10b" d="M456.1 800.2l-4.9 6.7 4.8 3.9 5-5.3z"/><path color="#d1e716" d="M451.2 806.9l-4.9 8.2 4.7 3 5-7.3z"/><path color="#b0dc16" d="M446.3 815.1l-5 7.3 4.8 2.4 4.9-6.7z"/><path color="#8fdc16" d="M441.3 822.4l-5 5.1 4.8 2 5-4.7z"/><path color="#84dc16" d="M436.3 827.5l-5 3.9 4.7 1.4 5.1-3.3z"/><path color="#6ebb16" d="M431.3 831.4l-5.1 .1 4.7 2 5.1-.7z"/><path color="#6ea50b" d="M426.2 831.5l-5.2-1.1 4.7 2.4 5.2 .7z"/><path color="#6e8f0b" d="M421 830.4l-5.3-3.3 4.8 3.1 5.2 2.6z"/><path color="#848f0b" d="M415.7 827.1l-5.2-4 4.8 3.9 5.2 3.2z"/><path color="#bbc60b" d="M410.5 823.1l-5.2-2.1 4.8 5.2 5.2 .8z"/><path color="#d1dc0b" d="M405.3 821l-5 6.9 4.8 3.9 5-5.6z"/><path color="#d1e716" d="M400.3 827.9l-4.9 8.3 4.8 2.9 4.9-7.3z"/><path color="#a5dc16" d="M395.4 836.2l-4.9 7.1 4.7 2.4 5-6.6z"/><path color="#8fdc16" d="M390.5 843.3l-5 4.9 4.7 2 5-4.5z"/><path color="#84dc16" d="M385.5 848.2l-5.1 3.5 4.7 1.5 5.1-3z"/><path color="#6eb016" d="M380.4 851.7l-5.1 .2 4.7 2 5.1-.7z"/><path color="#6ea50b" d="M375.3 851.9l-5.2-1.3 4.7 2.4 5.2 .9z"/><path color="#848f0b" d="M364.9 847.1l-5.3-4 4.8 4.1 5.2 3z"/><path color="#bbc60b" d="M359.6 843.1l-5.2-1.1 4.8 5 5.2 .2z"/><path color="#d1dc0b" d="M354.4 842l-4.9 7 4.8 3.8 4.9-5.8z"/><path color="#c6e716" d="M349.5 849l-4.9 8.3 4.7 2.9 5-7.4z"/><path color="#a5dc16" d="M344.6 857.3l-5 6.9 4.8 2.3 4.9-6.3z"/><path color="#8fdc16" d="M339.6 864.2l-5 4.8 4.7 1.9 5.1-4.4z"/><path color="#84dc16" d="M334.6 869l-5 3.1 4.7 1.6 5-2.8z"/><path color="#6eb016" d="M329.6 872.1l-5.2 .1 4.7 2.1 5.2-.6z"/><path color="#6e9a0b" d="M324.4 872.2l-5.2-1.5 4.8 2.5 5.1 1.1z"/><path color="#c6c60b" d="M308.7 863.2l-5.1-.2 4.8 4.8 5.1-.5z"/><path color="#d1dc16" d="M303.6 863l-5 7.1 4.8 3.7 5-6z"/><path color="#c6e716" d="M298.6 870.1l-4.9 8.3 4.8 2.8 4.9-7.4z"/><path color="#a5dc16" d="M293.7 878.4l-4.9 6.7 4.7 2.3 5-6.2z"/><path color="#8fdc16" d="M288.8 885.1l-5 4.6 4.7 1.9 5-4.2z"/><path color="#84dc16" d="M283.8 889.7l-5.1 2.8 4.7 1.6 5.1-2.5z"/><path color="#6eb016" d="M278.7 892.5l-5.2 0 4.8 2.1 5.1-.5z"/><path color="#6e9a0b" d="M273.5 892.5l-5.1-1.6 4.7 2.5 5.2 1.2z"/><path color="#848f0b" d="M263.1 887.1l-5.2-3.8 4.7 4.3 5.3 2.8z"/><path color="#c6c60b" d="M257.9 883.3l-5.2 .6 4.8 4.7 5.1-1z"/><path color="#d1dc16" d="M252.7 883.9l-4.9 7.4 4.8 3.5 4.9-6.2z"/><path color="#c6e721" d="M247.8 891.3l-4.9 8.2 4.7 2.7 5-7.4z"/><path color="#9adc16" d="M242.9 899.5l-5 6.5 4.7 2.2 5-6z"/><path color="#8fdc16" d="M237.9 906l-.3 .3 3.9 3 1.1-1.1z"/><path color="#84dc16" d="M538.4 791.1l-.7 .4 4.6 1.9z"/><path color="#84d116" d="M537.7 791.5l-5.1 1.2 4.7 2 5-1.3z"/><path color="#6eb016" d="M532.6 792.7l-5.1-.3 4.7 2.2 5.1 .1z"/><path color="#6e9a0b" d="M527.5 792.4l-5.3-2.4 4.8 2.8 5.2 1.8z"/><path color="#849a0b" d="M522.2 790l-5.2-3.3 4.8 3.6 5.2 2.5z"/><path color="#9aa50b" d="M517 786.7l-5.2-1.5 4.8 4.3 5.2 .8z"/><path color="#c6dc0b" d="M511.8 785.2l-5 4.6 4.8 3.7 5-4z"/><path color="#c6e716" d="M506.8 789.8l-4.9 7.2 4.7 3 5-6.5z"/><path color="#b0dc16" d="M501.9 797l-5 6.9 4.8 2.3 4.9-6.2z"/><path color="#8fdc16" d="M496.9 803.9l-5 4.9 4.7 2 5.1-4.6z"/><path color="#84dc16" d="M491.9 808.8l-5 3.3 4.7 1.8 5-3.1z"/><path color="#84d116" d="M486.9 812.1l-5.2 1 4.8 2 5.1-1.2z"/><path color="#6eb00b" d="M481.7 813.1l-5.1-.5 4.7 2.3 5.2 .2z"/><path color="#6e9a0b" d="M476.6 812.6l-5.2-2.5 4.7 2.9 5.2 1.9z"/><path color="#849a0b" d="M471.4 810.1l-5.3-3.2 4.8 3.5 5.2 2.6z"/><path color="#a5a50b" d="M466.1 806.9l-5.1-1.4 4.7 4.4 5.2 .5z"/><path color="#d1dc0b" d="M461 805.5l-5 5.3 4.7 3.6 5-4.5z"/><path color="#c6e716" d="M456 810.8l-5 7.3 4.8 2.9 4.9-6.6z"/><path color="#a5dc16" d="M451 818.1l-4.9 6.7 4.7 2.3 5-6.1z"/><path color="#8fdc16" d="M446.1 824.8l-5 4.7 4.7 2 5-4.4z"/><path color="#84dc16" d="M441.1 829.5l-5.1 3.3 4.7 1.7 5.1-3z"/><path color="#79c616" d="M436 832.8l-5.1 .7 4.7 2.1 5.1-1.1z"/><path color="#6ea50b" d="M430.9 833.5l-5.2-.7 4.7 2.4 5.2 .4z"/><path color="#799a0b" d="M425.7 832.8l-5.2-2.6 4.7 2.9 5.2 2.1z"/><path color="#849a0b" d="M420.5 830.2l-5.2-3.2 4.7 3.6 5.2 2.5z"/><path color="#bbc60b" d="M415.3 827l-5.2-.8 4.8 4.3 5.1 .1z"/><path color="#d1dc0b" d="M410.1 826.2l-5 5.6 4.8 3.5 5-4.8z"/><path color="#c6e716" d="M405.1 831.8l-4.9 7.3 4.7 2.9 5-6.7z"/><path color="#a5dc16" d="M400.2 839.1l-5 6.6 4.7 2.3 5-6z"/><path color="#8fdc16" d="M395.2 845.7l-5 4.5 4.7 2 5-4.2z"/><path color="#84dc16" d="M390.2 850.2l-5.1 3 4.8 1.8 5-2.8z"/><path color="#6ebb16" d="M385.1 853.2l-5.1 .7 4.7 2.1 5.2-1z"/><path color="#6ea50b" d="M380 853.9l-5.2-.9 4.8 2.4 5.1 .6z"/><path color="#799a0b" d="M374.8 853l-5.2-2.8 4.8 3 5.2 2.2z"/><path color="#849a0b" d="M369.6 850.2l-5.2-3 4.8 3.7 5.2 2.3z"/><path color="#bbc60b" d="M364.4 847.2l-5.2-.2 4.8 4.2 5.2-.3z"/><path color="#d1dc0b" d="M359.2 847l-4.9 5.8 4.7 3.4 5-5z"/><path color="#c6e716" d="M354.3 852.8l-5 7.4 4.8 2.8 4.9-6.8z"/><path color="#a5dc16" d="M349.3 860.2l-4.9 6.3 4.7 2.3 5-5.8z"/><path color="#8fdc16" d="M344.4 866.5l-5.1 4.4 4.8 2 5-4.1z"/><path color="#84dc16" d="M339.3 870.9l-5 2.8 4.7 1.8 5.1-2.6z"/><path color="#6ebb16" d="M334.3 873.7l-5.2 .6 4.8 2.1 5.1-.9z"/><path color="#6ea50b" d="M329.1 874.3l-5.1-1.1 4.7 2.5 5.2 .7z"/><path color="#799a0b" d="M324 873.2l-5.3-2.9 4.8 3.1 5.2 2.3z"/><path color="#8f9a0b" d="M318.7 870.3l-5.2-3 4.8 3.8 5.2 2.3z"/><path color="#bbc60b" d="M313.5 867.3l-5.1 .5 4.8 4.1 5.1-.8z"/><path color="#d1dc0b" d="M308.4 867.8l-5 6 4.8 3.4 5-5.3z"/><path color="#c6e716" d="M303.4 873.8l-4.9 7.4 4.7 2.7 5-6.7z"/><path color="#a5dc16" d="M298.5 881.2l-5 6.2 4.7 2.2 5-5.7z"/><path color="#8fdc16" d="M293.5 887.4l-5 4.2 4.7 2 5-4z"/><path color="#84dc16" d="M288.5 891.6l-5.1 2.5 4.7 1.9 5.1-2.4z"/><path color="#6ebb16" d="M283.4 894.1l-5.1 .5 4.7 2.1 5.1-.7z"/><path color="#6ea50b" d="M278.3 894.6l-5.2-1.2 4.7 2.5 5.2 .8z"/><path color="#799a0b" d="M273.1 893.4l-5.2-3 4.7 3.1 5.2 2.4z"/><path color="#8f9a0b" d="M267.9 890.4l-5.3-2.8 4.8 3.8 5.2 2.1z"/><path color="#c6d10b" d="M262.6 887.6l-5.1 1 4.8 4 5.1-1.2z"/><path color="#d1dc0b" d="M257.5 888.6l-4.9 6.2 4.7 3.4 5-5.6z"/><path color="#bbe716" d="M252.6 894.8l-5 7.4 4.8 2.7 4.9-6.7z"/><path color="#9adc16" d="M247.6 902.2l-5 6 4.8 2.2 5-5.5z"/><path color="#8fdc16" d="M242.6 908.2l-1.1 1.1 3.9 2.8 2-1.7z"/><path color="#79d116" d="M542.3 793.4l-5 1.3 4.8 2 4.1-1.1z"/><path color="#6eb016" d="M537.3 794.7l-5.1-.1 4.7 2.3 5.2-.2z"/><path color="#79a50b" d="M532.2 794.6l-5.2-1.8 4.7 2.8 5.2 1.3z"/><path color="#849a0b" d="M527 792.8l-5.2-2.5 4.7 3.3 5.2 2z"/><path color="#9ab00b" d="M521.8 790.3l-5.2-.8 4.8 3.8 5.1 .3z"/><path color="#c6dc0b" d="M516.6 789.5l-5 4 4.7 3.4 5.1-3.6z"/><path color="#c6e716" d="M511.6 793.5l-5 6.5 4.8 2.9 4.9-6z"/><path color="#a5dc16" d="M506.6 800l-4.9 6.2 4.7 2.4 5-5.7z"/><path color="#8fdc16" d="M501.7 806.2l-5.1 4.6 4.8 2.1 5-4.3z"/><path color="#84dc16" d="M496.6 810.8l-5 3.1 4.7 1.9 5.1-2.9z"/><path color="#84d116" d="M491.6 813.9l-5.1 1.2 4.7 2.1 5.1-1.4z"/><path color="#6eb016" d="M486.5 815.1l-5.2-.2 4.8 2.3 5.1 0z"/><path color="#79a50b" d="M481.3 814.9l-5.2-1.9 4.8 2.8 5.2 1.4z"/><path color="#849a0b" d="M476.1 813l-5.2-2.6 4.8 3.4 5.2 2z"/><path color="#a5bb0b" d="M470.9 810.4l-5.2-.5 4.8 3.9 5.2 0z"/><path color="#c6dc0b" d="M465.7 809.9l-5 4.5 4.8 3.4 5-4z"/><path color="#c6e716" d="M460.7 814.4l-4.9 6.6 4.7 2.8 5-6z"/><path color="#a5dc16" d="M455.8 821l-5 6.1 4.7 2.3 5-5.6z"/><path color="#8fdc16" d="M450.8 827.1l-5 4.4 4.7 2.1 5-4.2z"/><path color="#84dc16" d="M445.8 831.5l-5.1 3 4.7 1.9 5.1-2.8z"/><path color="#79c616" d="M440.7 834.5l-5.1 1.1 4.7 2 5.1-1.2z"/><path color="#6eb00b" d="M435.6 835.6l-5.2-.4 4.8 2.3 5.1 .1z"/><path color="#799a0b" d="M430.4 835.2l-5.2-2.1 4.8 2.9 5.2 1.5z"/><path color="#849a0b" d="M425.2 833.1l-5.2-2.5 4.8 3.5 5.2 1.9z"/><path color="#b0c60b" d="M420 830.6l-5.1-.1 4.8 3.9 5.1-.3z"/><path color="#c6dc16" d="M414.9 830.5l-5 4.8 4.7 3.3 5.1-4.2z"/><path color="#bbe716" d="M409.9 835.3l-5 6.7 4.8 2.7 4.9-6.1z"/><path color="#a5dc16" d="M404.9 842l-5 6 4.8 2.2 5-5.5z"/><path color="#8fdc16" d="M399.9 848l-5 4.2 4.7 2 5.1-4z"/><path color="#84dc16" d="M394.9 852.2l-5 2.8 4.7 1.9 5-2.7z"/><path color="#79c616" d="M389.9 855l-5.2 1 4.8 2 5.1-1.1z"/><path color="#6eb00b" d="M384.7 856l-5.1-.6 4.7 2.4 5.2 .2z"/><path color="#799a0b" d="M379.6 855.4l-5.2-2.2 4.7 2.9 5.2 1.7z"/><path color="#8fa50b" d="M374.4 853.2l-5.2-2.3 4.7 3.4 5.2 1.8z"/><path color="#bbc60b" d="M369.2 850.9l-5.2 .3 4.8 3.8 5.1-.7z"/><path color="#c6dc16" d="M364 851.2l-5 5 4.8 3.3 5-4.5z"/><path color="#bbe716" d="M359 856.2l-4.9 6.8 4.7 2.7 5-6.2z"/><path color="#a5dc16" d="M354.1 863l-5 5.8 4.7 2.2 5-5.3z"/><path color="#8fdc16" d="M349.1 868.8l-5 4.1 4.7 2 5-3.9z"/><path color="#84dc16" d="M344.1 872.9l-5.1 2.6 4.7 1.9 5.1-2.5z"/><path color="#79c616" d="M339 875.5l-5.1 .9 4.7 2.1 5.1-1.1z"/><path color="#6eb00b" d="M333.9 876.4l-5.2-.7 4.7 2.4 5.2 .4z"/><path color="#799a0b" d="M328.7 875.7l-5.2-2.3 4.7 2.9 5.2 1.8z"/><path color="#8fa50b" d="M323.5 873.4l-5.2-2.3 4.8 3.5 5.1 1.7z"/><path color="#bbd10b" d="M318.3 871.1l-5.1 .8 4.7 3.8 5.2-1.1z"/><path color="#c6dc16" d="M313.2 871.9l-5 5.3 4.7 3.2 5-4.7z"/><path color="#bbdc16" d="M308.2 877.2l-5 6.7 4.8 2.7 4.9-6.2z"/><path color="#9adc16" d="M303.2 883.9l-5 5.7 4.8 2.2 5-5.2z"/><path color="#8fdc16" d="M298.2 889.6l-5 4 4.7 2 5.1-3.8z"/><path color="#84dc16" d="M293.2 893.6l-5.1 2.4 4.7 1.9 5.1-2.3z"/><path color="#79bb16" d="M288.1 896l-5.1 .7 4.7 2.2 5.1-1z"/><path color="#6ea50b" d="M283 896.7l-5.2-.8 4.8 2.4 5.1 .6z"/><path color="#799a0b" d="M277.8 895.9l-5.2-2.4 4.8 3 5.2 1.8z"/><path color="#8fa50b" d="M272.6 893.5l-5.2-2.1 4.8 3.6 5.2 1.5z"/><path color="#c6d10b" d="M267.4 891.4l-5.1 1.2 4.8 3.8 5.1-1.4z"/><path color="#c6dc16" d="M262.3 892.6l-5 5.6 4.8 3.2 5-5z"/><path color="#bbdc16" d="M257.3 898.2l-4.9 6.7 4.7 2.6 5-6.1z"/><path color="#9adc16" d="M252.4 904.9l-5 5.5 4.7 2.2 5-5.1z"/><path color="#8fdc16" d="M247.4 910.4l-2 1.7 3.9 2.7 2.8-2.2z"/><path color="#84d116" d="M546.2 795.6l-4.1 1.1 4.7 2.1 3.3-.9z"/><path color="#79bb16" d="M542.1 796.7l-5.2 .2 4.8 2.3 5.1-.4z"/><path color="#79a50b" d="M536.9 796.9l-5.2-1.3 4.8 2.6 5.2 1z"/><path color="#84a50b" d="M531.7 795.6l-5.2-2 4.8 3.2 5.2 1.4z"/><path color="#a5bb0b" d="M526.5 793.6l-5.1-.3 4.8 3.5 5.1 0z"/><path color="#c6dc16" d="M521.4 793.3l-5.1 3.6 4.8 3.3 5.1-3.4z"/><path color="#bbdc16" d="M516.3 796.9l-4.9 6 4.7 2.7 5-5.4z"/><path color="#a5dc16" d="M511.4 802.9l-5 5.7 4.7 2.3 5-5.3z"/><path color="#8fdc16" d="M506.4 808.6l-5 4.3-5.1 2.9 4.7 1.9 5.1-2.7 5-4.1z"/><path color="#84d116" d="M496.3 815.8l-5.1 1.4 4.7 2 5.1-1.5z"/><path color="#79bb16" d="M491.2 817.2l-5.1 0 4.7 2.3 5.1-.3z"/><path color="#79a50b" d="M486.1 817.2l-5.2-1.4 4.7 2.7 5.2 1z"/><path color="#84a50b" d="M480.9 815.8l-5.2-2 4.7 3.2 5.2 1.5z"/><path color="#a5bb0b" d="M475.7 813.8l-5.2 0 4.8 3.5 5.1-.3z"/><path color="#c6dc16" d="M470.5 813.8l-5 4 4.7 3.2 5.1-3.7z"/><path color="#bbdc16" d="M465.5 817.8l-5 6 4.8 2.7 4.9-5.5z"/><path color="#a5dc16" d="M460.5 823.8l-5 5.6 4.8 2.3 5-5.2z"/><path color="#8fdc16" d="M455.5 829.4l-5 4.2 4.7 2 5.1-3.9z"/><path color="#84dc16" d="M450.5 833.6l-5.1 2.8 4.8 1.9 5-2.7z"/><path color="#79c616" d="M445.4 836.4l-5.1 1.2 4.8 2.1 5.1-1.4z"/><path color="#79b016" d="M440.3 837.6l-5.1-.1 4.7 2.3 5.2-.1z"/><path color="#79a50b" d="M435.2 837.5l-5.2-1.5 4.7 2.7 5.2 1.1z"/><path color="#8fa50b" d="M430 836l-5.2-1.9 4.8 3.2 5.1 1.4z"/><path color="#b0c60b" d="M424.8 834.1l-5.1 .3 4.7 3.5 5.2-.6z"/><path color="#c6dc16" d="M419.7 834.4l-5.1 4.2 4.8 3.2 5-3.9z"/><path color="#bbdc16" d="M414.6 838.6l-4.9 6.1 4.7 2.7 5-5.6z"/><path color="#a5dc16" d="M409.7 844.7l-5 5.5 4.7 2.3 5-5.1z"/><path color="#8fdc16" d="M404.7 850.2l-5.1 4 4.8 2.1 5-3.8z"/><path color="#84dc16" d="M399.6 854.2l-5 2.7 4.7 2 5.1-2.6z"/><path color="#79c616" d="M394.6 856.9l-5.1 1.1 4.7 2.1 5.1-1.2z"/><path color="#79b016" d="M389.5 858l-5.2-.2 4.7 2.4 5.2-.1z"/><path color="#79a50b" d="M384.3 857.8l-5.2-1.7 4.8 2.8 5.1 1.3z"/><path color="#8fa50b" d="M379.1 856.1l-5.2-1.8 4.8 3.3 5.2 1.3z"/><path color="#bbc60b" d="M373.9 854.3l-5.1 .7 4.8 3.5 5.1-.9z"/><path color="#c6dc16" d="M368.8 855l-5 4.5 4.7 3.2 5.1-4.2z"/><path color="#bbdc16" d="M363.8 859.5l-5 6.2 4.8 2.6 4.9-5.6z"/><path color="#9adc16" d="M358.8 865.7l-5 5.3 4.7 2.3 5.1-5z"/><path color="#8fdc16" d="M353.8 871l-5 3.9 4.7 2 5-3.6z"/><path color="#84dc16" d="M348.8 874.9l-5.1 2.5 4.7 2 5.1-2.5z"/><path color="#79c616" d="M343.7 877.4l-5.1 1.1 4.7 2.1 5.1-1.2z"/><path color="#79b00b" d="M338.6 878.5l-5.2-.4 4.8 2.4 5.1 .1z"/><path color="#79a50b" d="M333.4 878.1l-5.2-1.8 4.8 2.9 5.2 1.3z"/><path color="#8fa50b" d="M328.2 876.3l-5.1-1.7 4.7 3.4 5.2 1.2z"/><path color="#bbd10b" d="M323.1 874.6l-5.2 1.1 4.8 3.5 5.1-1.2z"/><path color="#c6dc16" d="M317.9 875.7l-5 4.7 4.8 3.1 5-4.3z"/><path color="#b0dc16" d="M312.9 880.4l-4.9 6.2 4.7 2.6 5-5.7z"/><path color="#9adc16" d="M308 886.6l-5 5.2 4.7 2.2 5-4.8z"/><path color="#8fdc16" d="M303 891.8l-5.1 3.8 4.7 2 5.1-3.6z"/><path color="#84dc16" d="M297.9 895.6l-5.1 2.3 4.8 2 5-2.3z"/><path color="#79c616" d="M292.8 897.9l-5.1 1 4.8 2.1 5.1-1.1z"/><path color="#79b00b" d="M287.7 898.9l-5.1-.6 4.7 2.5 5.2 .2z"/><path color="#79a50b" d="M282.6 898.3l-5.2-1.8 4.7 2.9 5.2 1.4z"/><path color="#8fa50b" d="M277.4 896.5l-5.2-1.5 4.7 3.3 5.2 1.1z"/><path color="#bbd10b" d="M272.2 895l-5.1 1.4 4.7 3.4 5.1-1.5z"/><path color="#c6dc16" d="M267.1 896.4l-5 5 4.7 3 5-4.6z"/><path color="#b0dc16" d="M262.1 901.4l-5 6.1 4.7 2.5 5-5.6z"/><path color="#9adc16" d="M257.1 907.5l-5 5.1 4.7 2.2 5-4.8z"/><path color="#8fdc16" d="M252.1 912.6l-2.8 2.2 3.9 2.6 3.6-2.6z"/><path color="#84d116" d="M550.1 797.9l-3.3 .9 9.4 4.1 1.7-.4z"/><path color="#79bb16" d="M546.8 798.8l-5.1 .4 9.4 4.4 5.1-.7z"/><path color="#79b00b" d="M541.7 799.2l-5.2-1 9.5 5.2 5.1 .2z"/><path color="#84b00b" d="M536.5 798.2l-5.2-1.4 9.5 5.9 5.2 .7z"/><path color="#a5c60b" d="M531.3 796.8l-5.1 0 9.5 6.5 5.1-.6z"/><path color="#c6dc16" d="M526.2 796.8l-5.1 3.4 9.5 6.1 5.1-3z"/><path color="#bbdc16" d="M521.1 800.2l-5 5.4 9.5 5.4 5-4.7z"/><path color="#a5dc16" d="M516.1 805.6l-5 5.3 9.5 4.6 5-4.5z"/><path color="#8fdc16" d="M511.1 810.9l-5 4.1-5.1 2.7 9.5 4.1 5-2.6 5.1-3.7z"/><path color="#84d116" d="M501 817.7l-5.1 1.5 9.5 4.2 5.1-1.6z"/><path color="#79bb16" d="M495.9 819.2l-5.1 .3 9.4 4.5 5.2-.6z"/><path color="#79b00b" d="M490.8 819.5l-5.2-1 9.5 5.2 5.1 .3z"/><path color="#8fb00b" d="M485.6 818.5l-5.2-1.5 9.5 6.1 5.2 .6z"/><path color="#b0c60b" d="M480.4 817l-5.1 .3 9.5 6.5 5.1-.7z"/><path color="#c6dc16" d="M475.3 817.3l-5.1 3.7 9.6 6.1 5-3.3z"/><path color="#b0dc16" d="M470.2 821l-4.9 5.5 9.4 5.3 5.1-4.7z"/><path color="#a5dc16" d="M465.3 826.5l-5 5.2 9.4 4.6 5-4.5z"/><path color="#8fdc16" d="M460.3 831.7l-5.1 3.9-5 2.7 9.4 4 5.1-2.5 5-3.5z"/><path color="#84d116" d="M450.2 838.3l-5.1 1.4 9.4 4.2 5.1-1.6z"/><path color="#79bb16" d="M445.1 839.7l-5.2 .1 9.5 4.6 5.1-.5z"/><path color="#79b00b" d="M439.9 839.8l-5.2-1.1 9.5 5.3 5.2 .4z"/><path color="#8fb00b" d="M434.7 838.7l-5.1-1.4 9.5 6.1 5.1 .6z"/><path color="#b0d116" d="M429.6 837.3l-5.2 .6 9.5 6.5 5.2-1z"/><path color="#c6dc16" d="M424.4 837.9l-5 3.9 9.5 6 5-3.4z"/><path color="#b0dc16" d="M419.4 841.8l-5 5.6 9.5 5.2 5-4.8z"/><path color="#9adc16" d="M414.4 847.4l-5 5.1 9.5 4.5 5-4.4z"/><path color="#8fdc16" d="M409.4 852.5l-5 3.8-5.1 2.6 9.4 4 5.1-2.5 5.1-3.4z"/><path color="#84d116" d="M399.3 858.9l-5.1 1.2 9.4 4.2 5.1-1.4z"/><path color="#79bb16" d="M394.2 860.1l-5.2 .1 9.5 4.6 5.1-.5z"/><path color="#79b00b" d="M389 860.2l-5.1-1.3 9.5 5.4 5.1 .5z"/><path color="#8fb00b" d="M383.9 858.9l-5.2-1.3 9.5 6.2 5.2 .5z"/><path color="#b0d116" d="M378.7 857.6l-5.1 .9 9.5 6.5 5.1-1.2z"/><path color="#c6dc16" d="M373.6 858.5l-5.1 4.2 9.5 5.9 5.1-3.6z"/><path color="#b0dc16" d="M368.5 862.7l-4.9 5.6 9.4 5.1 5-4.8z"/><path color="#9adc16" d="M363.6 868.3l-5.1 5 9.5 4.4 5-4.3z"/><path color="#8fdc16" d="M358.5 873.3l-5 3.6-5.1 2.5 9.5 4 5.1-2.3 5-3.4z"/><path color="#84c616" d="M348.4 879.4l-5.1 1.2 9.5 4.2 5.1-1.4z"/><path color="#79bb16" d="M343.3 880.6l-5.1-.1 9.4 4.6 5.2-.3z"/><path color="#79b00b" d="M338.2 880.5l-5.2-1.3 9.5 5.4 5.1 .5z"/><path color="#8fb00b" d="M333 879.2l-5.2-1.2 9.5 6.2 5.2 .4z"/><path color="#bbd116" d="M327.8 878l-5.1 1.2 9.5 6.4 5.1-1.4z"/><path color="#bbdc16" d="M322.7 879.2l-5 4.3 9.5 5.9 5-3.8z"/><path color="#b0dc16" d="M317.7 883.5l-5 5.7 9.5 5 5-4.8z"/><path color="#9adc16" d="M312.7 889.2l-5 4.8 9.5 4.5 5-4.3z"/><path color="#8fdc16" d="M307.7 894l-5.1 3.6-5 2.3 9.4 4.1 5.1-2.3 5.1-3.2z"/><path color="#84c616" d="M297.6 899.9l-5.1 1.1 9.4 4.2 5.1-1.2z"/><path color="#79bb16" d="M292.5 901l-5.2-.2 9.5 4.7 5.1-.3z"/><path color="#84b00b" d="M287.3 900.8l-5.2-1.4 9.5 5.5 5.2 .6z"/><path color="#8fb00b" d="M282.1 899.4l-5.2-1.1 9.6 6.3 5.1 .3z"/><path color="#bbdc16" d="M276.9 898.3l-5.1 1.5-5 4.6 9.5 5.8 5.1-4 5.1-1.6z"/><path color="#b0dc16" d="M266.8 904.4l-5 5.6 9.5 5 5-4.8z"/><path color="#9adc16" d="M261.8 910l-5 4.8 9.5 4.4 5-4.2z"/><path color="#8fdc16" d="M256.8 914.8l-3.6 2.6 7.8 5 .2-.1 5.1-3.1z"/><path color="#84d116" d="M557.9 802.5l-1.7 .4 9.4 4.2z"/><path color="#84c616" d="M556.2 802.9l-5.1 .7 9.5 4.5 5-1z"/><path color="#84bb0b" d="M551.1 803.6l-5.1-.2 9.4 4.9 5.2-.2z"/><path color="#8fbb0b" d="M546 803.4l-5.2-.7 9.5 5.6 5.1 0z"/><path color="#a5c616" d="M540.8 802.7l-5.1 .6 9.5 5.9 5.1-.9z"/><path color="#bbdc16" d="M535.7 803.3l-5.1 3 9.5 5.7 5.1-2.8z"/><path color="#b0dc16" d="M530.6 806.3l-5 4.7 9.5 5.1 5-4.1z"/><path color="#9adc16" d="M525.6 811l-5 4.5 9.4 4.6 5.1-4z"/><path color="#8fdc16" d="M520.6 815.5l-5.1 3.7-5 2.6 9.4 4.1 5.1-2.5 5-3.3z"/><path color="#84d116" d="M510.5 821.8l-5.1 1.6 9.4 4.2 5.1-1.7z"/><path color="#84c616" d="M505.4 823.4l-5.2 .6 9.5 4.5 5.1-.9z"/><path color="#84bb0b" d="M500.2 824l-5.1-.3 9.5 5 5.1-.2z"/><path color="#8fbb0b" d="M495.1 823.7l-5.2-.6 9.5 5.6 5.2 0z"/><path color="#a5d116" d="M489.9 823.1l-5.1 .7 9.5 6 5.1-1.1z"/><path color="#bbdc16" d="M484.8 823.8l-5 3.3 9.4 5.6 5.1-2.9z"/><path color="#b0dc16" d="M479.8 827.1l-5.1 4.7 9.5 5 5-4.1z"/><path color="#9adc16" d="M474.7 831.8l-5 4.5 9.5 4.5 5-4z"/><path color="#8fdc16" d="M469.7 836.3l-5 3.5-5.1 2.5 9.5 4.1 5-2.4 5.1-3.2z"/><path color="#84d116" d="M459.6 842.3l-5.1 1.6 9.5 4.2 5.1-1.7z"/><path color="#84c616" d="M454.5 843.9l-5.1 .5 9.4 4.5 5.2-.8z"/><path color="#84bb0b" d="M449.4 844.4l-5.2-.4 9.5 5.1 5.1-.2z"/><path color="#8fbb0b" d="M444.2 844l-5.1-.6 9.5 5.7 5.1 0z"/><path color="#b0d116" d="M439.1 843.4l-5.2 1 9.5 5.9 5.2-1.2z"/><path color="#bbdc16" d="M433.9 844.4l-5 3.4 9.5 5.6 5-3.1z"/><path color="#b0dc16" d="M428.9 847.8l-5 4.8 9.5 5 5-4.2z"/><path color="#9adc16" d="M423.9 852.6l-5 4.4 9.4 4.5 5.1-3.9z"/><path color="#8fdc16" d="M418.9 857l-5.1 3.4-5.1 2.5 9.5 4.1 5.1-2.4 5-3.1z"/><path color="#84d116" d="M408.7 862.9l-5.1 1.4 9.5 4.3 5.1-1.6z"/><path color="#84c616" d="M403.6 864.3l-5.1 .5 9.5 4.5 5.1-.7z"/><path color="#84bb0b" d="M398.5 864.8l-5.1-.5 9.4 5.1 5.2-.1z"/><path color="#8fbb0b" d="M393.4 864.3l-5.2-.5 9.5 5.7 5.1-.1z"/><path color="#b0d116" d="M388.2 863.8l-5.1 1.2 9.5 5.9 5.1-1.4z"/><path color="#bbdc16" d="M383.1 865l-5.1 3.6 9.5 5.6 5.1-3.3z"/><path color="#a5dc16" d="M378 868.6l-5 4.8 9.5 4.9 5-4.1z"/><path color="#9adc16" d="M373 873.4l-5 4.3 9.5 4.5 5-3.9z"/><path color="#8fdc16" d="M368 877.7l-5 3.4-5.1 2.3 9.4 4.1 5.1-2.3 5.1-3z"/><path color="#84d116" d="M357.9 883.4l-5.1 1.4 9.4 4.2 5.1-1.5z"/><path color="#84bb16" d="M352.8 884.8l-5.2 .3 9.5 4.6 5.1-.7z"/><path color="#84bb0b" d="M347.6 885.1l-5.1-.5 9.5 5.2 5.1-.1z"/><path color="#8fbb0b" d="M342.5 884.6l-5.2-.4 9.5 5.7 5.2-.1z"/><path color="#b0dc16" d="M337.3 884.2l-5.1 1.4 9.5 5.9 5.1-1.6z"/><path color="#bbdc16" d="M332.2 885.6l-5 3.8 9.5 5.5 5-3.4z"/><path color="#a5dc16" d="M327.2 889.4l-5 4.8 9.4 4.9 5.1-4.2z"/><path color="#9adc16" d="M322.2 894.2l-5 4.3 9.4 4.4 5-3.8z"/><path color="#8fdc16" d="M317.2 898.5l-5.1 3.2-5.1 2.3 9.5 4.1 5.1-2.2 5-3z"/><path color="#84d116" d="M307 904l-5.1 1.2 9.5 4.3 5.1-1.4z"/><path color="#84bb16" d="M301.9 905.2l-5.1 .3 9.4 4.6 5.2-.6z"/><path color="#84bb0b" d="M296.8 905.5l-5.2-.6 9.5 5.2 5.1 0z"/><path color="#9abb0b" d="M291.6 904.9l-5.1-.3 9.5 5.8 5.1-.3z"/><path color="#bbdc16" d="M286.5 904.6l-5.1 1.6-5.1 4 9.5 5.4 5.1-3.5 5.1-1.7z"/><path color="#a5dc16" d="M276.3 910.2l-5 4.8 9.5 4.8 5-4.2z"/><path color="#9adc16" d="M271.3 915l-5 4.2 9.5 4.3 5-3.7z"/><path color="#8fdc16" d="M266.3 919.2l-5.1 3.1-.2 .1 7.8 5 1.9-.9 5.1-3z"/><path color="#84d116" d="M565.6 807.1l-5 1 9.4 4.4 3.4-.7z"/><path color="#84c616" d="M560.6 808.1l-5.2 .2 9.5 4.8 5.1-.6z"/><path color="#8fc616" d="M555.4 808.3l-5.1 0 9.5 5.3 5.1-.5z"/><path color="#a5d116" d="M550.3 808.3l-5.1 .9 9.5 5.6 5.1-1.2z"/><path color="#b0e716" d="M545.2 809.2l-5.1 2.8 9.5 5.4 5.1-2.6z"/><path color="#a5dc16" d="M540.1 812l-5 4.1 9.5 4.9 5-3.6z"/><path color="#9adc16" d="M535.1 816.1l-5.1 4 9.5 4.5 5.1-3.6z"/><path color="#8fdc16" d="M530 820.1l-5 3.3-5.1 2.5-5.1 1.7 9.5 4.2 5.1-1.8 5-2.4 5.1-3z"/><path color="#84c616" d="M514.8 827.6l-5.1 .9 9.5 4.5 5.1-1.2z"/><path color="#84bb16" d="M509.7 828.5l-5.1 .2 9.4 4.8 5.2-.5z"/><path color="#8fc616" d="M504.6 828.7l-5.2 0 9.5 5.3 5.1-.5z"/><path color="#a5d116" d="M499.4 828.7l-5.1 1.1 9.5 5.5 5.1-1.3z"/><path color="#b0e716" d="M494.3 829.8l-5.1 2.9 9.5 5.4 5.1-2.8z"/><path color="#a5dc16" d="M489.2 832.7l-5 4.1 9.5 4.9 5-3.6z"/><path color="#9adc16" d="M484.2 836.8l-5 4 9.4 4.4 5.1-3.5z"/><path color="#8fdc16" d="M479.2 840.8l-5.1 3.2-5 2.4 9.4 4.2 5.1-2.4 5-3z"/><path color="#84d116" d="M469.1 846.4l-5.1 1.7 9.4 4.2 5.1-1.7z"/><path color="#84c616" d="M464 848.1l-5.2 .8 9.5 4.5 5.1-1.1z"/><path color="#84bb16" d="M458.8 848.9l-5.1 .2 9.5 4.9 5.1-.6z"/><path color="#8fc616" d="M453.7 849.1l-5.1 0 9.4 5.4 5.2-.5z"/><path color="#a5d116" d="M448.6 849.1l-5.2 1.2 9.5 5.6 5.1-1.4z"/><path color="#b0e716" d="M443.4 850.3l-5 3.1 9.5 5.3 5-2.8z"/><path color="#a5dc16" d="M438.4 853.4l-5 4.2 9.4 4.8 5.1-3.7z"/><path color="#9adc16" d="M433.4 857.6l-5.1 3.9 9.5 4.4 5-3.5z"/><path color="#8fdc16" d="M428.3 861.5l-5 3.1-5.1 2.4 9.4 4.2 5.1-2.3 5.1-3z"/><path color="#84d116" d="M418.2 867l-5.1 1.6 9.5 4.2 5-1.6z"/><path color="#84c616" d="M413.1 868.6l-5.1 .7 9.4 4.6 5.2-1.1z"/><path color="#84bb16" d="M408 869.3l-5.2 .1 9.5 5 5.1-.5z"/><path color="#8fc616" d="M402.8 869.4l-5.1 .1 9.5 5.4 5.1-.5z"/><path color="#b0dc16" d="M397.7 869.5l-5.1 1.4 9.5 5.6 5.1-1.6z"/><path color="#b0e716" d="M392.6 870.9l-5.1 3.3 9.5 5.2 5.1-2.9z"/><path color="#a5dc16" d="M387.5 874.2l-5 4.1 9.5 4.8 5-3.7z"/><path color="#9adc16" d="M382.5 878.3l-5 3.9 9.4 4.4 5.1-3.5z"/><path color="#8fdc16" d="M377.5 882.2l-5.1 3-5.1 2.3 9.5 4.2 5.1-2.2 5-2.9z"/><path color="#84d116" d="M367.3 887.5l-5.1 1.5 9.5 4.3 5.1-1.6z"/><path color="#84c616" d="M362.2 889l-5.1 .7 9.5 4.6 5.1-1z"/><path color="#84bb16" d="M357.1 889.7l-5.1 .1 9.4 5 5.2-.5z"/><path color="#9ac616" d="M352 889.8l-5.2 .1 9.5 5.5 5.1-.6z"/><path color="#b0dc16" d="M346.8 889.9l-5.1 1.6-5 3.4 9.5 5.2 5-3.1 5.1-1.6z"/><path color="#a5dc16" d="M336.7 894.9l-5.1 4.2 9.5 4.7 5.1-3.7z"/><path color="#9adc16" d="M331.6 899.1l-5 3.8 9.5 4.3 5-3.4z"/><path color="#8fdc16" d="M326.6 902.9l-5 3-5.1 2.2 9.4 4.1 5.1-2.1 5.1-2.9z"/><path color="#84d116" d="M316.5 908.1l-5.1 1.4 9.4 4.3 5.1-1.6z"/><path color="#84c616" d="M311.4 909.5l-5.2 .6 9.5 4.6 5.1-.9z"/><path color="#84bb16" d="M306.2 910.1l-5.1 0 9.5 5.1 5.1-.5z"/><path color="#9ac616" d="M301.1 910.1l-5.1 .3 9.4 5.4 5.2-.6z"/><path color="#b0dc16" d="M296 910.4l-5.1 1.7-5.1 3.5 9.5 5.2 5.1-3.2 5-1.8z"/><path color="#a5dc16" d="M285.8 915.6l-5 4.2 9.5 4.7 5-3.7z"/><path color="#9adc16" d="M280.8 919.8l-5 3.7 9.4 4.4 5.1-3.4z"/><path color="#8fdc16" d="M275.8 923.5l-5.1 3-1.9 .9 7.8 4.8 3.5-1.5 5.1-2.8z"/><path color="#8fd116" d="M573.4 811.8l-3.4 .7 9.5 4.4 1.7-.4z"/><path color="#84c616" d="M570 812.5l-5.1 .6 9.5 4.7 5.1-.9z"/><path color="#8fc616" d="M564.9 813.1l-5.1 .5 9.5 5 5.1-.8z"/><path color="#a5d116" d="M559.8 813.6l-5.1 1.2 9.4 5.2 5.2-1.4z"/><path color="#b0e716" d="M554.7 814.8l-5.1 2.6 9.5 5.1 5-2.5z"/><path color="#a5dc16" d="M549.6 817.4l-5 3.6 9.4 4.8 5.1-3.3z"/><path color="#9adc16" d="M544.6 821l-5.1 3.6 9.5 4.4 5-3.2z"/><path color="#8fdc16" d="M539.5 824.6l-5.1 3-5 2.4-5.1 1.8 9.4 4.3 5.1-1.9 5.1-2.3 5.1-2.9z"/><path color="#84d116" d="M524.3 831.8l-5.1 1.2 9.4 4.4 5.1-1.3z"/><path color="#84c616" d="M519.2 833l-5.2 .5 9.5 4.8 5.1-.9z"/><path color="#8fc616" d="M514 833.5l-5.1 .5 9.5 5.1 5.1-.8z"/><path color="#a5dc16" d="M508.9 834l-5.1 1.3 9.5 5.3 5.1-1.5z"/><path color="#b0e716" d="M503.8 835.3l-5.1 2.8 9.5 5.1 5.1-2.6z"/><path color="#a5dc16" d="M498.7 838.1l-5 3.6 9.5 4.8 5-3.3z"/><path color="#9adc16" d="M493.7 841.7l-5.1 3.5 9.5 4.5 5.1-3.2z"/><path color="#8fdc16" d="M488.6 845.2l-5 3-5.1 2.4-5.1 1.7 9.5 4.3 5.1-1.8 5-2.3 5.1-2.8z"/><path color="#84d116" d="M473.4 852.3l-5.1 1.1 9.5 4.5 5.1-1.3z"/><path color="#84c616" d="M468.3 853.4l-5.1 .6 9.4 4.7 5.2-.8z"/><path color="#8fc616" d="M463.2 854l-5.2 .5 9.5 5.1 5.1-.9z"/><path color="#a5dc16" d="M458 854.5l-5.1 1.4 9.5 5.3 5.1-1.6z"/><path color="#b0e716" d="M452.9 855.9l-5 2.8 9.5 5.1 5-2.6z"/><path color="#a5dc16" d="M447.9 858.7l-5.1 3.7 9.5 4.7 5.1-3.3z"/><path color="#9adc16" d="M442.8 862.4l-5 3.5 9.4 4.4 5.1-3.2z"/><path color="#8fdc16" d="M437.8 865.9l-5.1 3-5.1 2.3-5 1.6 9.4 4.3 5.1-1.7 5.1-2.3 5-2.8z"/><path color="#84d116" d="M422.6 872.8l-5.2 1.1 9.5 4.4 5.1-1.2z"/><path color="#84c616" d="M417.4 873.9l-5.1 .5 9.5 4.8 5.1-.9z"/><path color="#8fc616" d="M412.3 874.4l-5.1 .5 9.5 5.2 5.1-.9z"/><path color="#a5dc16" d="M407.2 874.9l-5.1 1.6 9.5 5.2 5.1-1.6z"/><path color="#b0e716" d="M402.1 876.5l-5.1 2.9 9.5 5.1 5.1-2.8z"/><path color="#a5dc16" d="M397 879.4l-5 3.7 9.4 4.7 5.1-3.3z"/><path color="#9adc16" d="M392 883.1l-5.1 3.5 9.5 4.4 5-3.2z"/><path color="#8fdc16" d="M386.9 886.6l-5 2.9-5.1 2.2 9.4 4.2 5.1-2.2 5.1-2.7z"/><path color="#8fd116" d="M376.8 891.7l-5.1 1.6 9.4 4.3 5.1-1.7z"/><path color="#84d116" d="M371.7 893.3l-5.1 1 9.4 4.5 5.1-1.2z"/><path color="#8fc616" d="M366.6 894.3l-5.2 .5 9.5 4.8 5.1-.8z"/><path color="#9ac616" d="M361.4 894.8l-5.1 .6 9.5 5.1 5.1-.9z"/><path color="#a5dc16" d="M356.3 895.4l-5.1 1.6 9.5 5.3 5.1-1.8z"/><path color="#a5e716" d="M351.2 897l-5 3.1 9.4 5.1 5.1-2.9z"/><path color="#a5dc16" d="M346.2 900.1l-5.1 3.7 9.5 4.7 5-3.3z"/><path color="#9adc16" d="M341.1 903.8l-5 3.4 9.4 4.4 5.1-3.1z"/><path color="#8fdc16" d="M336.1 907.2l-5.1 2.9-5.1 2.1 9.5 4.3 5.1-2.2 5-2.7z"/><path color="#8fd116" d="M325.9 912.2l-5.1 1.6 9.5 4.3 5.1-1.6z"/><path color="#84c616" d="M320.8 913.8l-5.1 .9 9.5 4.6 5.1-1.2z"/><path color="#8fc616" d="M315.7 914.7l-5.1 .5 9.4 4.9 5.2-.8z"/><path color="#9ad116" d="M310.6 915.2l-5.2 .6 9.5 5.2 5.1-.9z"/><path color="#a5dc16" d="M305.4 915.8l-5 1.8 9.4 5.3 5.1-1.9z"/><path color="#a5e716" d="M300.4 917.6l-5.1 3.2 9.5 5 5-2.9z"/><path color="#a5dc16" d="M295.3 920.8l-5 3.7 9.4 4.7 5.1-3.4z"/><path color="#9adc16" d="M290.3 924.5l-5.1 3.4 9.5 4.4 5-3.1z"/><path color="#8fdc16" d="M285.2 927.9l-5.1 2.8-3.5 1.5 7.8 4.9 .1-.1 5.1-2.1 5.1-2.6z"/><path color="#8fd116" d="M581.2 816.5l-1.7 .4-5.1 .9-5.1 .8 9.4 5 5.1-1.1 5.2-1.2z"/><path color="#9adc16" d="M569.3 818.6l-5.2 1.4 9.5 5.1 5.1-1.5z"/><path color="#a5e716" d="M564.1 820l-5 2.5-5.1 3.3 9.5 4.7 5-3 5.1-2.4z"/><path color="#9adc16" d="M554 825.8l-5 3.2-5.1 2.9 9.5 4.3 5-2.7 5.1-3z"/><path color="#8fdc16" d="M543.9 831.9l-5.1 2.3-5.1 1.9 9.5 4.2 5.1-1.8 5.1-2.3z"/><path color="#8fd116" d="M533.7 836.1l-5.1 1.3-5.1 .9-5.1 .8 9.5 4.9 5.1-1 5.1-1.2 5.1-1.5z"/><path color="#a5dc16" d="M518.4 839.1l-5.1 1.5 9.5 5.1 5.1-1.7z"/><path color="#a5e716" d="M513.3 840.6l-5.1 2.6-5 3.3 9.4 4.6 5.1-3 5.1-2.4z"/><path color="#9adc16" d="M503.2 846.5l-5.1 3.2-5.1 2.8 9.5 4.3 5.1-2.7 5-3z"/><path color="#8fdc16" d="M493 852.5l-5 2.3-5.1 1.8 9.4 4.3 5.1-1.9 5.1-2.2z"/><path color="#8fd116" d="M482.9 856.6l-5.1 1.3-5.2 .8-5.1 .9 9.5 4.9 5.1-1.1 5.1-1.1 5.1-1.4z"/><path color="#a5dc16" d="M467.5 859.6l-5.1 1.6 9.5 5 5.1-1.7z"/><path color="#a5e716" d="M462.4 861.2l-5 2.6-5.1 3.3 9.5 4.7 5-3 5.1-2.6z"/><path color="#9adc16" d="M452.3 867.1l-5.1 3.2 9.5 4.4 5.1-2.9z"/><path color="#8fdc16" d="M447.2 870.3l-5 2.8-5.1 2.3-5.1 1.7 9.5 4.3 5.1-1.8 5-2.2 5.1-2.7z"/><path color="#8fd116" d="M432 877.1l-5.1 1.2-5.1 .9 9.4 4.7 5.2-1.1 5.1-1.4z"/><path color="#9ad116" d="M421.8 879.2l-5.1 .9 9.4 4.9 5.1-1.1z"/><path color="#a5dc16" d="M416.7 880.1l-5.1 1.6 9.4 5.1 5.1-1.8z"/><path color="#a5e716" d="M411.6 881.7l-5.1 2.8 9.5 4.9 5-2.6z"/><path color="#9adc16" d="M406.5 884.5l-5.1 3.3-5 3.2 9.4 4.4 5.1-3 5.1-3z"/><path color="#8fdc16" d="M396.4 891l-5.1 2.7-5.1 2.2-5.1 1.7 9.5 4.3 5.1-1.8 5.1-2.1 5-2.6z"/><path color="#8fd116" d="M381.1 897.6l-5.1 1.2-5.1 .8 9.5 4.8 5.1-1.1 5.1-1.4z"/><path color="#9ad116" d="M370.9 899.6l-5.1 .9 9.5 5 5.1-1.1z"/><path color="#a5dc16" d="M365.8 900.5l-5.1 1.8 9.5 5.1 5.1-1.9z"/><path color="#a5e716" d="M360.7 902.3l-5.1 2.9 9.5 4.8 5.1-2.6z"/><path color="#9adc16" d="M355.6 905.2l-5 3.3-5.1 3.1 9.5 4.4 5-2.9 5.1-3.1z"/><path color="#8fdc16" d="M345.5 911.6l-5 2.7-5.1 2.2-5.1 1.6 9.4 4.3 5.1-1.7 5.1-2.1 5.1-2.6z"/><path color="#8fd116" d="M330.3 918.1l-5.1 1.2-5.2 .8 9.5 4.7 5.1-1.1 5.1-1.3z"/><path color="#9ad116" d="M320 920.1l-5.1 .9 9.5 5 5.1-1.2z"/><path color="#a5dc16" d="M314.9 921l-5.1 1.9 9.5 5 5.1-1.9z"/><path color="#a5e716" d="M309.8 922.9l-5 2.9 9.4 4.9 5.1-2.8z"/><path color="#9adc16" d="M304.8 925.8l-5.1 3.4-5 3.1 9.4 4.3 5.1-2.9 5-3z"/><path color="#8fdc16" d="M294.7 932.3l-5.1 2.6-5.1 2.1-.1 .1 7.8 4.8 1.8-.7 5.1-2.1 5-2.5z"/><path color="#8fd116" d="M589 821.3l-5.2 1.2-5.1 1.1 9.5 4.8 5.1-1.3 3.5-.9z"/><path color="#9adc16" d="M578.7 823.6l-5.1 1.5 9.5 4.9 5.1-1.6z"/><path color="#a5e716" d="M573.6 825.1l-5.1 2.4 9.5 4.8 5.1-2.3z"/><path color="#9ae716" d="M568.5 827.5l-5 3-5.1 3-5 2.7 9.4 4.3 5.1-2.6 5.1-2.8 5-2.8z"/><path color="#8fe716" d="M553.4 836.2l-5.1 2.3 9.4 4.2 5.1-2.2z"/><path color="#8fdc16" d="M548.3 838.5l-5.1 1.8 9.4 4.3 5.1-1.9z"/><path color="#8fd116" d="M543.2 840.3l-5.1 1.5-5.1 1.2-5.1 1 9.4 4.9 5.1-1.3 5.1-1.4 5.1-1.6z"/><path color="#9adc16" d="M527.9 844l-5.1 1.7 9.4 4.9 5.1-1.7z"/><path color="#a5e716" d="M522.8 845.7l-5.1 2.4 9.5 4.8 5-2.3z"/><path color="#9ae716" d="M517.7 848.1l-5.1 3-5 3-5.1 2.7 9.5 4.3 5-2.6 5.1-2.8 5.1-2.8z"/><path color="#8fdc16" d="M502.5 856.8l-5.1 2.2-5.1 1.9 9.5 4.3 5.1-1.9 5.1-2.2z"/><path color="#8fd116" d="M492.3 860.9l-5.1 1.4-5.1 1.1 9.5 4.6 5.1-1.3 5.1-1.5z"/><path color="#9ad116" d="M482.1 863.4l-5.1 1.1 9.5 4.9 5.1-1.4z"/><path color="#a5dc16" d="M477 864.5l-5.1 1.7 9.5 4.9 5.1-1.7z"/><path color="#a5e716" d="M471.9 866.2l-5.1 2.6 9.5 4.8 5.1-2.5z"/><path color="#9ae716" d="M466.8 868.8l-5 3-5.1 2.9-5.1 2.7 9.5 4.3 5.1-2.5 5-2.8 5.1-2.8z"/><path color="#8fdc16" d="M451.6 877.4l-5 2.2-5.1 1.8 9.4 4.3 5.1-1.8 5.1-2.2z"/><path color="#8fd116" d="M441.5 881.4l-5.1 1.4-5.2 1.1 9.5 4.6 5.1-1.3 5.1-1.5z"/><path color="#9ad116" d="M431.2 883.9l-5.1 1.1 9.5 4.9 5.1-1.4z"/><path color="#a5dc16" d="M426.1 885l-5.1 1.8 9.5 4.9 5.1-1.8z"/><path color="#a5e716" d="M421 886.8l-5 2.6 9.4 4.8 5.1-2.5z"/><path color="#9ae716" d="M416 889.4l-5.1 3-5.1 3-5 2.6 9.4 4.3 5.1-2.5 5.1-2.8 5-2.8z"/><path color="#8fdc16" d="M400.8 898l-5.1 2.1-5.1 1.8 9.5 4.3 5-1.8 5.1-2.1z"/><path color="#8fd116" d="M390.6 901.9l-5.1 1.4-5.1 1.1 9.4 4.6 5.2-1.3 5.1-1.5z"/><path color="#9ad116" d="M380.4 904.4l-5.1 1.1 9.4 4.9 5.1-1.4z"/><path color="#a5dc16" d="M375.3 905.5l-5.1 1.9 9.4 4.9 5.1-1.9z"/><path color="#a5e716" d="M370.2 907.4l-5.1 2.6 9.5 4.8 5-2.5z"/><path color="#9ae716" d="M365.1 910l-5.1 3.1-5 2.9 9.4 4.4 5.1-2.8 5.1-2.8z"/><path color="#8fe716" d="M355 916l-5.1 2.6 9.5 4.2 5-2.4z"/><path color="#8fdc16" d="M349.9 918.6l-5.1 2.1-5.1 1.7 9.5 4.3 5.1-1.7 5.1-2.2z"/><path color="#8fd116" d="M339.7 922.4l-5.1 1.3-5.1 1.1 9.5 4.7 5.1-1.3 5.1-1.5z"/><path color="#9ad116" d="M329.5 924.8l-5.1 1.2 9.5 4.9 5.1-1.4z"/><path color="#a5e716" d="M324.4 926l-5.1 1.9-5.1 2.8 9.5 4.7 5.1-2.6 5.1-1.9z"/><path color="#9ae716" d="M314.2 930.7l-5 3-5.1 2.9 9.5 4.4 5-2.7 5.1-2.9z"/><path color="#8fe716" d="M304.1 936.6l-5 2.5 9.4 4.3 5.1-2.4z"/><path color="#8fdc16" d="M299.1 939.1l-5.1 2.1-1.8 .7 7.7 4.8 3.5-1.2 5.1-2.1z"/><path color="#8fdc16" d="M596.8 826.2l-3.5 .9 9.5 4.5 1.8-.5z"/><path color="#9adc16" d="M593.3 827.1l-5.1 1.3-5.1 1.6 9.5 4.8 5.1-1.7 5.1-1.5z"/><path color="#a5e716" d="M583.1 830l-5.1 2.3 9.5 4.8 5.1-2.3z"/><path color="#9ae716" d="M578 832.3l-5 2.8-5.1 2.8-5.1 2.6 9.5 4.3 5-2.5 5.1-2.6 5.1-2.6z"/><path color="#8fe716" d="M562.8 840.5l-5.1 2.2 9.5 4.3 5.1-2.2z"/><path color="#8fdc16" d="M557.7 842.7l-5.1 1.9-5.1 1.6 9.5 4.4 5.1-1.6 5.1-2z"/><path color="#8fd116" d="M547.5 846.2l-5.1 1.4 9.5 4.5 5.1-1.5z"/><path color="#9adc16" d="M542.4 847.6l-5.1 1.3-5.1 1.7 9.5 4.8 5.1-1.8 5.1-1.5z"/><path color="#a5e716" d="M532.2 850.6l-5 2.3 9.4 4.8 5.1-2.3z"/><path color="#9ae716" d="M527.2 852.9l-5.1 2.8-5.1 2.8-5 2.6 9.4 4.3 5.1-2.5 5.1-2.6 5-2.6z"/><path color="#8fe716" d="M512 861.1l-5.1 2.2 9.4 4.3 5.1-2.2z"/><path color="#8fdc16" d="M506.9 863.3l-5.1 1.9-5.1 1.5 9.4 4.4 5.1-1.6 5.1-1.9z"/><path color="#8fd116" d="M496.7 866.7l-5.1 1.3 9.4 4.6 5.1-1.5z"/><path color="#9adc16" d="M491.6 868l-5.1 1.4-5.1 1.7 9.4 4.8 5.1-1.8 5.1-1.5z"/><path color="#a5e716" d="M481.4 871.1l-5.1 2.5 9.5 4.7 5-2.4z"/><path color="#9ae716" d="M476.3 873.6l-5.1 2.8-5 2.8-5.1 2.5 9.4 4.3 5.1-2.4 5.1-2.7 5.1-2.6z"/><path color="#8fe716" d="M461.1 881.7l-5.1 2.2 9.5 4.2 5-2.1z"/><path color="#8fdc16" d="M456 883.9l-5.1 1.8-5.1 1.5 9.5 4.5 5.1-1.7 5.1-1.9z"/><path color="#8fd116" d="M445.8 887.2l-5.1 1.3 9.5 4.6 5.1-1.4z"/><path color="#9adc16" d="M440.7 888.5l-5.1 1.4-5.1 1.8 9.5 4.8 5.1-1.9 5.1-1.5z"/><path color="#a5e716" d="M430.5 891.7l-5.1 2.5 9.5 4.7 5.1-2.4z"/><path color="#9ae716" d="M425.4 894.2l-5 2.8-5.1 2.8-5.1 2.5 9.5 4.3 5.1-2.4 5-2.7 5.1-2.6z"/><path color="#8fe716" d="M410.2 902.3l-5.1 2.1 9.5 4.3 5.1-2.1z"/><path color="#8fdc16" d="M405.1 904.4l-5 1.8-5.1 1.5 9.4 4.5 5.1-1.6 5.1-1.9z"/><path color="#8fd116" d="M395 907.7l-5.2 1.3 9.5 4.6 5.1-1.4z"/><path color="#9adc16" d="M389.8 909l-5.1 1.4 9.5 4.7 5.1-1.5z"/><path color="#a5dc16" d="M384.7 910.4l-5.1 1.9 9.5 4.8 5.1-2z"/><path color="#a5e716" d="M379.6 912.3l-5 2.5 9.4 4.7 5.1-2.4z"/><path color="#9ae716" d="M374.6 914.8l-5.1 2.8-5.1 2.8-5 2.4 9.4 4.3 5.1-2.3 5.1-2.7 5-2.6z"/><path color="#8fe716" d="M359.4 922.8l-5.1 2.2 9.4 4.3 5.1-2.2z"/><path color="#8fdc16" d="M354.3 925l-5.1 1.7-5.1 1.5 9.4 4.5 5.1-1.6 5.1-1.8z"/><path color="#8fd116" d="M344.1 928.2l-5.1 1.3 9.4 4.6 5.1-1.4z"/><path color="#9adc16" d="M339 929.5l-5.1 1.4 9.4 4.8 5.1-1.6z"/><path color="#a5e716" d="M333.9 930.9l-5.1 1.9-5.1 2.6 9.5 4.7 5.1-2.5 5-1.9z"/><path color="#9ae716" d="M323.7 935.4l-5.1 2.9-5 2.7-5.1 2.4 9.5 4.3 5-2.3 5.1-2.6 5.1-2.7z"/><path color="#8fe716" d="M308.5 943.4l-5.1 2.1 9.5 4.3 5.1-2.1z"/><path color="#8fdc16" d="M303.4 945.5l-3.5 1.2 7.8 4.9 .1 0 5.1-1.8z"/><path color="#9adc16" d="M604.6 831.1l-1.8 .5-5.1 1.5-5.1 1.7 9.4 4.7 5.1-1.8 5.1-1.6 .2 0z"/><path color="#9ae716" d="M592.6 834.8l-5.1 2.3-5.1 2.6-5.1 2.6-5 2.5-5.1 2.2 9.4 4.3 5.1-2.2 5.1-2.3 5.1-2.6 5.1-2.5 5-2.2z"/><path color="#8fdc16" d="M567.2 847l-5.1 2-5.1 1.6-5.1 1.5 9.5 4.5 5.1-1.6 5.1-1.7 5-2z"/><path color="#9adc16" d="M551.9 852.1l-5.1 1.5-5.1 1.8 9.5 4.7 5.1-1.9 5.1-1.6z"/><path color="#9ae716" d="M541.7 855.4l-5.1 2.3-5 2.6-5.1 2.6-5.1 2.5-5.1 2.2 9.5 4.3 5.1-2.2 5-2.3 5.1-2.6 5.1-2.5 5.1-2.2z"/><path color="#8fdc16" d="M516.3 867.6l-5.1 1.9-5.1 1.6-5.1 1.5 9.5 4.5 5.1-1.5 5.1-1.8 5.1-1.9z"/><path color="#9adc16" d="M501 872.6l-5.1 1.5-5.1 1.8 9.5 4.7 5.1-1.9 5.1-1.6z"/><path color="#9ae716" d="M490.8 875.9l-5 2.4-5.1 2.6-5.1 2.7-5.1 2.4-5 2.1 9.4 4.4 5.1-2.2 5.1-2.4 5.1-2.5 5-2.5 5.1-2.3z"/><path color="#8fdc16" d="M465.5 888.1l-5.1 1.9-5.1 1.7-5.1 1.4 9.4 4.6 5.1-1.6 5.1-1.7 5.1-1.9z"/><path color="#9adc16" d="M450.2 893.1l-5.1 1.5-5.1 1.9 9.4 4.7 5.1-1.9 5.1-1.6z"/><path color="#9ae716" d="M440 896.5l-5.1 2.4-5.1 2.6-5 2.7-5.1 2.4 9.4 4.3 5.1-2.4 5.1-2.5 5.1-2.5 5-2.3z"/><path color="#8fe716" d="M419.7 906.6l-5.1 2.1 9.5 4.3 5-2.1z"/><path color="#8fdc16" d="M414.6 908.7l-5.1 1.9-5.1 1.6-5.1 1.4 9.5 4.6 5.1-1.6 5.1-1.7 5.1-1.9z"/><path color="#9adc16" d="M399.3 913.6l-5.1 1.5 9.5 4.7 5.1-1.6z"/><path color="#9ae716" d="M394.2 915.1l-5.1 2-5.1 2.4-5 2.6-5.1 2.7-5.1 2.3 9.5 4.4 5.1-2.4 5-2.5 5.1-2.5 5.1-2.3 5.1-2z"/><path color="#8fe716" d="M368.8 927.1l-5.1 2.2 9.5 4.3 5.1-2.1z"/><path color="#8fdc16" d="M363.7 929.3l-5.1 1.8-5.1 1.6-5.1 1.4 9.5 4.6 5.1-1.6 5.1-1.7 5.1-1.8z"/><path color="#9adc16" d="M348.4 934.1l-5.1 1.6 9.5 4.6 5.1-1.6z"/><path color="#9ae716" d="M343.3 935.7l-5 1.9-5.1 2.5-5.1 2.7-5.1 2.6-5 2.3 9.4 4.3 5.1-2.3 5.1-2.5 5-2.5 5.1-2.4 5.1-2z"/><path color="#8fe716" d="M318 947.7l-5.1 2.1 9.4 4.3 5.1-2.1z"/><path color="#8fdc16" d="M312.9 949.8l-5.1 1.8-.1 0 7.8 4.9 1.7-.5 5.1-1.9z"/><path color="#9adc16" d="M612.4 836.1l-.2 0-5.1 1.6-5.1 1.8 9.5 4.6 5.1-1.8 3.6-1.2z"/><path color="#9ae716" d="M602 839.5l-5 2.2-5.1 2.5-5.1 2.6-5.1 2.3-5.1 2.2 9.5 4.4 5.1-2.2 5.1-2.3 5-2.5 5.1-2.4 5.1-2.2z"/><path color="#8fdc16" d="M576.6 851.3l-5 2-5.1 1.7-5.1 1.6 9.4 4.5 5.1-1.7 5.1-1.8 5.1-1.9z"/><path color="#9adc16" d="M561.4 856.6l-5.1 1.6-5.1 1.9 9.4 4.6 5.1-1.9 5.1-1.7z"/><path color="#9ae716" d="M551.2 860.1l-5.1 2.2-5.1 2.5-5.1 2.6-5 2.3-5.1 2.2 9.4 4.3 5.1-2.1 5.1-2.3 5.1-2.5 5.1-2.4 5-2.2z"/><path color="#8fdc16" d="M525.8 871.9l-5.1 1.9-5.1 1.8-5.1 1.5 9.5 4.5 5.1-1.6 5.1-1.8 5-2z"/><path color="#9adc16" d="M510.5 877.1l-5.1 1.6-5.1 1.9 9.5 4.7 5.1-2 5.1-1.7z"/><path color="#9ae716" d="M500.3 880.6l-5.1 2.3-5 2.5-5.1 2.5-5.1 2.4-5.1 2.2 9.5 4.3 5.1-2.2 5-2.3 5.1-2.4 5.1-2.4 5.1-2.2z"/><path color="#8fdc16" d="M474.9 892.5l-5.1 1.9-5.1 1.7-5.1 1.6 9.5 4.5 5.1-1.7 5.1-1.8 5.1-1.9z"/><path color="#9adc16" d="M459.6 897.7l-5.1 1.6 9.5 4.6 5.1-1.7z"/><path color="#9ae716" d="M454.5 899.3l-5.1 1.9-5 2.3-5.1 2.5-5.1 2.5-5.1 2.4-5 2.1 9.4 4.3 5.1-2.1 5.1-2.3 5.1-2.4 5-2.4 5.1-2.3 5.1-1.9z"/><path color="#8fdc16" d="M424.1 913l-5.1 1.9-5.1 1.7-5.1 1.6 9.4 4.5 5.1-1.7 5.1-1.7 5.1-2z"/><path color="#9adc16" d="M408.8 918.2l-5.1 1.6 9.4 4.6 5.1-1.7z"/><path color="#9ae716" d="M403.7 919.8l-5.1 2-5.1 2.3-5.1 2.5-5 2.5-5.1 2.4-5.1 2.1 9.5 4.3 5-2.1 5.1-2.3 5.1-2.4 5.1-2.4 5-2.3 5.1-2z"/><path color="#8fdc16" d="M373.2 933.6l-5.1 1.8-5.1 1.7-5.1 1.6 9.5 4.5 5.1-1.7 5.1-1.7 5.1-1.9z"/><path color="#9adc16" d="M357.9 938.7l-5.1 1.6 9.5 4.6 5.1-1.7z"/><path color="#9ae716" d="M352.8 940.3l-5.1 2-5.1 2.4-5 2.5-5.1 2.5-5.1 2.3-5.1 2.1 9.5 4.3 5.1-2 5.1-2.3 5-2.4 5.1-2.4 5.1-2.3 5.1-2.1z"/><path color="#8fdc16" d="M322.3 954.1l-5.1 1.9-1.7 .5 7.8 5 3.4-1.2 5.1-1.9z"/><path color="#9adc16" d="M620.2 841.1l-3.6 1.2-5.1 1.8 7.6 3.7 5.1-1.9 2.2-.8z"/><path color="#9ae716" d="M611.5 844.1l-5.1 2.2-5.1 2.4-5 2.5-5.1 2.3-5.1 2.2 7.6 3.4 5.1-2.1 5-2.3 5.1-2.4 5.1-2.3 5.1-2.2z"/><path color="#8fdc16" d="M586.1 855.7l-5.1 1.9-5.1 1.8-5.1 1.7 7.6 3.6 5.1-1.7 5.1-1.9 5.1-2z"/><path color="#9adc16" d="M570.8 861.1l-5.1 1.7-5.1 1.9 7.6 3.7 5.1-2 5.1-1.7z"/><path color="#9ae716" d="M560.6 864.7l-5 2.2-5.1 2.4-5.1 2.5-5.1 2.3-5.1 2.1 7.6 3.5 5.1-2.1 5.1-2.3 5-2.4 5.1-2.4 5.1-2.1z"/><path color="#8fdc16" d="M535.2 876.2l-5 2-5.1 1.8-5.1 1.6 7.5 3.6 5.1-1.7 5.1-1.8 5.1-2z"/><path color="#9adc16" d="M520 881.6l-5.1 1.7 7.5 3.7 5.1-1.8z"/><path color="#9ae716" d="M514.9 883.3l-5.1 2-5.1 2.2-5.1 2.4-5.1 2.4-5 2.3-5.1 2.2 7.5 3.4 5.1-2.1 5.1-2.2 5.1-2.4 5.1-2.4 5-2.2 5.1-1.9z"/><path color="#8fdc16" d="M484.4 896.8l-5.1 1.9-5.1 1.8-5.1 1.7 7.6 3.6 5.1-1.8 5.1-1.8 5-2z"/><path color="#9adc16" d="M469.1 902.2l-5.1 1.7 7.6 3.6 5.1-1.7z"/><path color="#9ae716" d="M464 903.9l-5.1 1.9-5.1 2.3-5 2.4-5.1 2.4-5.1 2.3-5.1 2.1 7.6 3.5 5.1-2.1 5-2.3 5.1-2.3 5.1-2.4 5.1-2.2 5.1-2z"/><path color="#8fdc16" d="M433.5 917.3l-5.1 2-5.1 1.7-5.1 1.7 7.6 3.6 5.1-1.7 5.1-1.9 5.1-1.9z"/><path color="#9adc16" d="M418.2 922.7l-5.1 1.7 7.6 3.7 5.1-1.8z"/><path color="#9ae716" d="M413.1 924.4l-5.1 2-5 2.3-5.1 2.4-5.1 2.4-5.1 2.3-5 2.1 7.5 3.5 5.1-2.1 5.1-2.3 5.1-2.3 5-2.4 5.1-2.2 5.1-2z"/><path color="#8fdc16" d="M382.7 937.9l-5.1 1.9-5.1 1.7 7.5 3.6 5.1-1.8 5.1-1.9z"/><path color="#9adc16" d="M372.5 941.5l-5.1 1.7-5.1 1.7 7.5 3.7 5.1-1.8 5.1-1.7z"/><path color="#9ae716" d="M362.3 944.9l-5.1 2.1-5.1 2.3-5.1 2.4-5 2.4-5.1 2.3-5.1 2 7.6 3.5 5-2.1 5.1-2.2 5.1-2.3 5.1-2.4 5.1-2.3 5-2z"/><path color="#8fdc16" d="M331.8 958.4l-5.1 1.9-3.4 1.2 6.2 4 4.8-1.7 5.1-1.9z"/></g><path fill="#ff0a0a" fill-rule="evenodd" d="M421.5 696.5 418.8 694.7 419.8 693.6 436.3 686.8 440 685.6 442.1 685.6 453.2 690.4 488.4 707.1 490.2 708.3 491 711.2 492.3 713.6 488.2 716.2 480.9 718.6 467.5 717.4 454.1 711.8 421.5 696.5ZM371.1 716.8 368.4 715.1 369.4 714 385.9 707.2 389.6 706 391.7 706 402.8 710.7 438 727.5 439.8 728.7 440.6 731.6 441.9 733.9 437.8 736.6 430.5 739 417.1 737.7 403.7 732.1 371.1 716.8ZM320.7 737.2 318 735.5 319 734.4 335.5 727.5 339.2 726.3 341.3 726.4 352.4 731.1 387.6 747.9 389.4 749.1 390.2 752 391.5 754.3 387.4 757 380.1 759.3 366.7 758.1 353.3 752.5 320.7 737.2ZM270.3 757.6 267.6 755.9 268.6 754.7 285.1 747.9 288.8 746.7 290.9 746.8 302 751.5 337.2 768.2 339 769.4 339.8 772.4 341.1 774.7 337 777.3 329.7 779.7 316.3 778.5 302.9 772.9 270.3 757.6ZM219.9 777.9 217.2 776.2 218.2 775.1 234.7 768.3 238.4 767.1 240.5 767.1 251.6 771.9 286.8 788.6 288.6 789.8 289.4 792.7 290.7 795.1 286.6 797.7 279.3 800.1 265.9 798.9 252.5 793.2 219.9 777.9ZM211.4 818.1 173.1 793.1 186.5 787.9 190.1 787.5 221.9 801.8 237.7 809.8 238.5 810.7 240.2 815.6 237.2 817.6 231.9 819.7 227.2 820.6 215.3 819.3 211.4 818.1Z"/></g>
<path fill="none" stroke="#333" stroke-width="2" d="M108.5 960.2L99.5 644.7M108.5 960.2h-13M106.5 889.2h-13M104.5 818.1h-13M102.4 747h-13M100.4 676h-13M108.1 946h-8M107.7 931.8h-8M107.3 917.6h-8M106.9 903.4h-8M106.1 874.9h-8M105.7 860.7h-8M105.3 846.5h-8M104.9 832.3h-8M104.1 803.9h-8M103.7 789.7h-8M103.3 775.5h-8M102.8 761.3h-8M102 732.8h-8M101.6 718.6h-8M101.2 704.4h-8M100.8 690.2h-8M100 661.8h-8M99.6 647.6h-8M140.2 980.9L133.8 983.5M179.2 1006.3L172.7 1008.9M218.2 1031.7L211.7 1034.4M257.2 1057.1L250.7 1059.8M296.1 1082.5L289.6 1085.2M120.8 968.2L117.1 969.7M159.7 993.6L156 995.1M198.7 1019L195 1020.5M237.7 1044.4L234 1045.9M276.7 1069.8L272.9 1071.3M315.6 1095.2L311.9 1096.7M620.7 990.9v7M574.5 1009.5v7M528.2 1028.2v7M482 1046.9v7M435.7 1065.6v7M389.5 1084.3v7M343.3 1103v7M597.6 1000.2v4M551.3 1018.9v4M505.1 1037.6v4M458.9 1056.3v4M412.6 1075v4M366.4 1093.7v4"/><path fill="none" stroke="#2a3a10" stroke-width="1.3" d="M108.5 960.2 333.6 1106.9 630.4 986.9"/><text x="93.5" y="967.2" font-size="19.5" font-family="DejaVu Sans, sans-serif" fill="#3c3c3c" text-anchor="end" textLength="40.1" lengthAdjust="spacingAndGlyphs">-10</text><text x="91.5" y="896.2" font-size="19.5" font-family="DejaVu Sans, sans-serif" fill="#3c3c3c" text-anchor="end" textLength="26.3" lengthAdjust="spacingAndGlyphs">-5</text><text x="89.5" y="825.1" font-size="19.5" font-family="DejaVu Sans, sans-serif" fill="#3c3c3c" text-anchor="end" textLength="13.8" lengthAdjust="spacingAndGlyphs">0</text><text x="87.4" y="754" font-size="19.5" font-family="DejaVu Sans, sans-serif" fill="#3c3c3c" text-anchor="end" textLength="13.8" lengthAdjust="spacingAndGlyphs">5</text><text x="85.4" y="683" font-size="19.5" font-family="DejaVu Sans, sans-serif" fill="#3c3c3c" text-anchor="end" textLength="27.6" lengthAdjust="spacingAndGlyphs">10</text><text x="130.2" y="1001.9" font-size="19.5" font-family="DejaVu Sans, sans-serif" fill="#3c3c3c" text-anchor="end" textLength="40.1" lengthAdjust="spacingAndGlyphs">-20</text><text x="169.2" y="1027.3" font-size="19.5" font-family="DejaVu Sans, sans-serif" fill="#3c3c3c" text-anchor="end" textLength="13.8" lengthAdjust="spacingAndGlyphs">0</text><text x="208.2" y="1052.7" font-size="19.5" font-family="DejaVu Sans, sans-serif" fill="#3c3c3c" text-anchor="end" textLength="27.6" lengthAdjust="spacingAndGlyphs">20</text><text x="247.2" y="1078.1" font-size="19.5" font-family="DejaVu Sans, sans-serif" fill="#3c3c3c" text-anchor="end" textLength="27.6" lengthAdjust="spacingAndGlyphs">40</text><text x="286.1" y="1103.5" font-size="19.5" font-family="DejaVu Sans, sans-serif" fill="#3c3c3c" text-anchor="end" textLength="27.6" lengthAdjust="spacingAndGlyphs">60</text><text x="625.2" y="1022.4" font-size="19.5" font-family="DejaVu Sans, sans-serif" fill="#3c3c3c" text-anchor="middle" textLength="40.1" lengthAdjust="spacingAndGlyphs">-30</text><text x="579" y="1041" font-size="19.5" font-family="DejaVu Sans, sans-serif" fill="#3c3c3c" text-anchor="middle" textLength="40.1" lengthAdjust="spacingAndGlyphs">-20</text><text x="532.7" y="1059.7" font-size="19.5" font-family="DejaVu Sans, sans-serif" fill="#3c3c3c" text-anchor="middle" textLength="40.1" lengthAdjust="spacingAndGlyphs">-10</text><text x="484" y="1078.4" font-size="19.5" font-family="DejaVu Sans, sans-serif" fill="#3c3c3c" text-anchor="middle" textLength="13.8" lengthAdjust="spacingAndGlyphs">0</text><text x="437.7" y="1097.1" font-size="19.5" font-family="DejaVu Sans, sans-serif" fill="#3c3c3c" text-anchor="middle" textLength="27.6" lengthAdjust="spacingAndGlyphs">10</text><text x="391.5" y="1115.8" font-size="19.5" font-family="DejaVu Sans, sans-serif" fill="#3c3c3c" text-anchor="middle" textLength="27.6" lengthAdjust="spacingAndGlyphs">20</text><text x="345.3" y="1134.5" font-size="19.5" font-family="DejaVu Sans, sans-serif" fill="#3c3c3c" text-anchor="middle" textLength="27.6" lengthAdjust="spacingAndGlyphs">30</text>
<text transform="translate(38 795) rotate(-90)" text-anchor="middle" font-size="33" font-family="DejaVu Sans Mono, monospace" fill="#1a1a1a" textLength="191.5" lengthAdjust="spacingAndGlyphs">Im(Q(x,t))</text>
<text x="150" y="1080" font-size="30" font-family="DejaVu Sans Mono, monospace" fill="#1a1a1a" text-anchor="middle">t</text>
<text x="482" y="1128" font-size="30" font-family="DejaVu Sans Mono, monospace" fill="#1a1a1a" text-anchor="middle">x</text>
<text x="318" y="1196" font-size="30" font-family="Liberation Serif, serif" font-weight="bold" fill="#000" text-anchor="middle" textLength="92" lengthAdjust="spacingAndGlyphs">&#920;=0.5</text>
<g clip-path="url(#c2)">
<path fill="#008000" fill-opacity="0.3" d="M816.8 235.2 816.8 285.1 820.3 299.2 823.2 314.9 825.7 332.2 827.9 352.2 831.3 400.5 834 468.5 840.5 468.5 840.7 4.5 847.3 4.5 847.3 5.1 849.5 63.5 852.4 109 856.3 144.9 858.7 160.2 861.5 173.8 866 191.2 871.8 207.7 877.8 221.6 892.6 252.9 899.7 270.4 905.6 290.2 910.2 312.1 914.1 339.7 917.1 372.8 919.4 413.7 921.4 468.5 927.9 468.5 928.1 4.5 934.7 4.5 934.8 5.1 937 63.5 939.9 109 943.7 144.9 946.2 160.2 948.9 173.8 953.5 191.2 959.3 207.7 965.3 221.6 980.1 252.9 987.1 270.4 993.1 290.2 997.7 312.1 1001.5 339.7 1004.5 372.8 1006.9 413.7 1008.9 468.5 1015.4 468.5 1015.6 4.5 1022.2 4.5 1022.2 5.1 1024.4 63.5 1027.3 109 1031.2 144.9 1033.6 160.2 1036.4 173.8 1040.9 191.2 1046.8 207.7 1052.7 221.6 1067.5 252.9 1074.6 270.4 1080.5 290.2 1085.1 312.1 1089 339.7 1092 372.8 1094.3 413.7 1096.3 468.5 1102.8 468.5 1103 4.5 1109.6 4.5 1109.7 5.1 1111.9 63.5 1114.8 109 1118.6 144.9 1121.1 160.2 1123.8 173.8 1128.4 191.2 1134.2 207.7 1140.2 221.6 1155 252.9 1162 270.4 1168 290.2 1172.6 312.1 1176.4 339.7 1179.4 372.8 1181.8 413.7 1183.8 468.5 1190.3 468.5 1190.5 4.5 1197.1 4.5 1197.2 5.1 1199.3 63.5 1202.2 109 1206.1 144.9 1208.5 160.2 1211.3 173.8 1215.9 191.2 1221.7 207.7 1227.6 221.6 1242.4 252.9 1249.5 270.4 1255.4 290.2 1260 312.1 1263.9 339.7 1266.9 372.8 1269.2 413.7 1271.2 468.5 1277.8 468.5 1277.9 4.5 1284.5 4.5 1284.6 5.1 1286.9 66.8 1290.2 114.6 1294.5 151.4 1297.3 167 1300.4 180.8 1300.4 235.2Z"/>
<path fill="#008000" fill-opacity="0.3" d="M816.8 235.2 816.8 274.8 828 301.6 829.5 303.7 830.7 304.6 831.8 304.3 832.8 303 834.9 295 837 279.1 842.9 204.4 845.3 181.6 846.5 173.7 847.9 168.6 849.4 166.1 850.2 165.8 851.1 166.1 852.7 168.1 854.8 172.1 864.8 196.6 871.7 211.6 892.3 249.8 899 263.1 914.6 299.9 917.1 303.9 918.1 304.6 919 304.4 920.4 302.6 921.7 298.5 924.1 282.9 930.4 203.4 932.8 181 935.2 169 936.6 166.3 938.1 165.9 939.9 167.6 942.1 171.7 952.4 197 959.5 212.3 979.6 249.5 986.2 262.6 1002 299.9 1004.4 303.7 1006.2 304.5 1007.7 303 1009 298.9 1011.4 283.6 1018 202.5 1020.2 181 1022.7 169 1023.9 166.4 1025.4 165.8 1027.2 167.4 1029.4 171.5 1039.9 197.2 1047.1 212.6 1067 249.4 1073.6 262.4 1089.6 300 1091.8 303.7 1093.6 304.6 1095 303.1 1096.4 299.2 1098.9 283.6 1105.4 202.5 1107.7 181 1110 169.2 1111.3 166.5 1112.8 165.8 1114.5 167.3 1116.8 171.4 1127.4 197.3 1134.7 212.9 1161 262.2 1166.6 274.8 1177 300 1179.2 303.6 1181 304.6 1182.5 303.1 1183.9 299.2 1186.4 283.6 1192.9 202.5 1195.1 181 1197.4 169.5 1198.6 166.8 1200 165.8 1201.7 167 1203.8 170.5 1219.4 207.3 1226.1 220.6 1246.7 258.8 1253.7 273.8 1263.6 298.3 1265.7 302.3 1267.4 304.3 1268.2 304.6 1269 304.3 1270.5 301.8 1271.9 296.7 1273.2 288.8 1275.5 266 1281.4 191.3 1283.4 175.8 1285.6 167.6 1286.5 166.2 1287.7 165.8 1288.9 166.6 1290.2 168.4 1293.1 174.5 1300.4 192.8 1300.4 235.2Z"/>
<path fill="none" stroke="#ff0000" stroke-width="4.5" stroke-linejoin="round" d="M816.8 235.2 1300.4 235.2"/>
<path fill="none" stroke="#0000ff" stroke-width="5" stroke-linecap="round" stroke-dasharray="9 8 0.1 8" d="M816.8 274.8 825.5 296.3 828.6 302.5 830.1 304.3 831.4 304.5 832.6 303.3 833.6 300.7 835.5 291.6 837.4 275.9 842.8 206.3 844.9 184.1 847.5 169.7 848.9 166.6 850.5 165.8 852.3 167.4 854.5 171.5 865 197.2 872.2 212.6 892.1 249.4 898.7 262.4 914.7 300.2 917.3 304.1 918.4 304.6 919.3 304.2 920.7 301.8 921.9 297.5 924.2 281.4 930.4 203.4 932.7 181.6 935 169.5 936.3 166.6 937.8 165.8 939.6 167.3 941.9 171.4 952.5 197.3 959.9 213.1 986 262.1 991.7 274.8 1002.1 300 1004.5 303.9 1005.6 304.6 1006.5 304.4 1007.8 302.6 1009.1 298.5 1011.5 282.9 1017.9 203.4 1020.2 181.6 1022.5 169.5 1023.8 166.6 1025.2 165.8 1027.1 167.3 1029.3 171.4 1040 197.3 1047.3 213.1 1073.4 262.1 1079.2 274.8 1089.6 300 1091.9 303.8 1092.9 304.5 1093.7 304.5 1095.2 302.8 1096.5 298.9 1099 282.9 1105.3 203.4 1107.6 181.6 1109.9 169.5 1111.2 166.6 1112.6 165.8 1114.5 167.2 1116.7 171.2 1127.4 197.3 1134.8 213.3 1160.9 262.1 1166.6 274.8 1177 300 1179.3 303.7 1181.1 304.5 1182.6 303 1183.9 298.9 1186.4 283.6 1192.9 202.5 1195.1 181 1197.4 169.5 1198.7 166.6 1200.1 165.8 1201.9 167.2 1204.2 171.2 1214.9 197.3 1222.3 213.3 1248.3 262.1 1254.1 274.8 1264.5 300 1266.6 303.6 1268.4 304.6 1269.9 303.3 1271.1 299.8 1273.6 285.6 1275.7 264.1 1281 195.4 1282.7 179.9 1284.6 170.3 1285.7 167.4 1286.9 166 1288.1 166 1289.6 167.5 1292.7 173.7 1300.4 192.8"/>
<path fill="none" stroke="#ffa000" stroke-width="5.5" stroke-linecap="round" stroke-dasharray="0.1 14.5" d="M816.8 285.1 820.3 299.6 823.3 315.4 825.8 332.9 828 353.1 831.4 402.1 833.9 468.2 840.5 468.5 840.7 4.5 847.3 4.5 849.3 58.4 851.6 98.7 854.6 131.4 858.4 158.3 863 180.2 868.9 200 875.9 217.3 890.8 248.8 896.8 262.9 902.6 279.5 907.2 297 910 310.7 912.4 326.1 916.3 362.3 919.2 408.6 921.3 468.2 927.9 468.5 928.1 4.5 934.7 4.5 936.7 58.4 939.1 98.7 942.1 131.4 945.8 158.3 950.4 180.2 956.4 200 963.3 217.3 978.2 248.8 984.3 262.9 990.1 279.5 994.7 297 997.4 310.7 999.8 326.1 1003.7 362.3 1006.6 408.6 1008.8 468.2 1015.4 468.5 1015.6 4.5 1022.2 4.5 1024.2 58.4 1026.5 98.7 1029.5 131.4 1033.3 158.3 1037.9 180.2 1043.9 200 1050.8 217.3 1065.7 248.8 1071.7 262.9 1077.5 279.5 1082.1 297 1084.9 310.7 1087.3 326.1 1091.2 362.3 1094.1 408.6 1096.2 468.2 1102.8 468.5 1103 4.5 1109.6 4.5 1111.6 58.4 1114 98.7 1117 131.4 1120.7 158.3 1125.3 180.2 1131.3 200 1138.2 217.3 1153.1 248.8 1159.2 262.9 1165 279.5 1169.6 297 1172.3 310.7 1174.7 326.1 1178.6 362.3 1181.5 408.6 1183.7 468.2 1190.3 468.5 1190.5 4.5 1197.1 4.5 1199.1 58.4 1201.4 98.7 1204.4 131.4 1208.2 158.3 1212.8 180.2 1218.8 200 1225.7 217.3 1240.6 248.8 1246.6 262.9 1252.4 279.5 1257 297 1259.8 310.7 1262.2 326.1 1266.1 362.3 1269 408.6 1271.1 468.2 1277.8 468.5 1277.9 4.5 1284.5 4.5 1284.6 5.1 1286.9 66.8 1290.2 114.6 1294.5 151.4 1297.3 167 1300.4 180.8"/>
</g>
<path fill="none" stroke="#555555" stroke-width="2.6" d="M815.5 6.5V466.5H1300.5"/>
<path fill="none" stroke="#555555" stroke-width="2.2" d="M808.5 448.8H815.5M808.5 395.4H815.5M808.5 342H815.5M808.5 288.6H815.5M808.5 235.2H815.5M808.5 181.8H815.5M808.5 128.4H815.5M808.5 75H815.5M808.5 21.6H815.5M811.5 422.1H815.5M811.5 368.7H815.5M811.5 315.3H815.5M811.5 261.9H815.5M811.5 208.5H815.5M811.5 155.1H815.5M811.5 101.7H815.5M811.5 48.3H815.5M816.8 466.5V472.5M897.4 466.5V472.5M978 466.5V472.5M1058.6 466.5V472.5M1139.2 466.5V472.5M1219.8 466.5V472.5M1300.4 466.5V472.5M857.1 466.5V470.5M937.7 466.5V470.5M1018.3 466.5V470.5M1098.9 466.5V470.5M1179.5 466.5V470.5M1260.1 466.5V470.5"/>
<text x="803.5" y="455.8" font-size="19.5" font-family="DejaVu Sans, sans-serif" fill="#53535e" text-anchor="end" textLength="67.7" lengthAdjust="spacingAndGlyphs">-4000</text>
<text x="803.5" y="402.4" font-size="19.5" font-family="DejaVu Sans, sans-serif" fill="#53535e" text-anchor="end" textLength="67.7" lengthAdjust="spacingAndGlyphs">-3000</text>
<text x="803.5" y="349" font-size="19.5" font-family="DejaVu Sans, sans-serif" fill="#53535e" text-anchor="end" textLength="67.7" lengthAdjust="spacingAndGlyphs">-2000</text>
<text x="803.5" y="295.6" font-size="19.5" font-family="DejaVu Sans, sans-serif" fill="#53535e" text-anchor="end" textLength="67.7" lengthAdjust="spacingAndGlyphs">-1000</text>
<text x="803.5" y="242.2" font-size="19.5" font-family="DejaVu Sans, sans-serif" fill="#53535e" text-anchor="end" textLength="13.8" lengthAdjust="spacingAndGlyphs">0</text>
<text x="803.5" y="188.8" font-size="19.5" font-family="DejaVu Sans, sans-serif" fill="#53535e" text-anchor="end" textLength="55.2" lengthAdjust="spacingAndGlyphs">1000</text>
<text x="803.5" y="135.4" font-size="19.5" font-family="DejaVu Sans, sans-serif" fill="#53535e" text-anchor="end" textLength="55.2" lengthAdjust="spacingAndGlyphs">2000</text>
<text x="803.5" y="82" font-size="19.5" font-family="DejaVu Sans, sans-serif" fill="#53535e" text-anchor="end" textLength="55.2" lengthAdjust="spacingAndGlyphs">3000</text>
<text x="803.5" y="28.6" font-size="19.5" font-family="DejaVu Sans, sans-serif" fill="#53535e" text-anchor="end" textLength="55.2" lengthAdjust="spacingAndGlyphs">4000</text>
<text x="819.1" y="495.5" font-size="19.5" font-family="DejaVu Sans, sans-serif" fill="#53535e" text-anchor="middle" textLength="40.1" lengthAdjust="spacingAndGlyphs">-30</text>
<text x="899.7" y="495.5" font-size="19.5" font-family="DejaVu Sans, sans-serif" fill="#53535e" text-anchor="middle" textLength="40.1" lengthAdjust="spacingAndGlyphs">-20</text>
<text x="980.3" y="495.5" font-size="19.5" font-family="DejaVu Sans, sans-serif" fill="#53535e" text-anchor="middle" textLength="40.1" lengthAdjust="spacingAndGlyphs">-10</text>
<text x="1058.6" y="495.5" font-size="19.5" font-family="DejaVu Sans, sans-serif" fill="#53535e" text-anchor="middle" textLength="13.8" lengthAdjust="spacingAndGlyphs">0</text>
<text x="1139.2" y="495.5" font-size="19.5" font-family="DejaVu Sans, sans-serif" fill="#53535e" text-anchor="middle" textLength="27.6" lengthAdjust="spacingAndGlyphs">10</text>
<text x="1219.8" y="495.5" font-size="19.5" font-family="DejaVu Sans, sans-serif" fill="#53535e" text-anchor="middle" textLength="27.6" lengthAdjust="spacingAndGlyphs">20</text>
<text x="1300.4" y="495.5" font-size="19.5" font-family="DejaVu Sans, sans-serif" fill="#53535e" text-anchor="middle" textLength="27.6" lengthAdjust="spacingAndGlyphs">30</text>
<text x="1057.5" y="524" font-size="30" font-family="DejaVu Sans Mono, monospace" fill="#1a1a1a" text-anchor="middle">x</text>
<text transform="translate(723.6 235) rotate(-90)" text-anchor="middle" font-size="33" font-family="DejaVu Sans Mono, monospace" fill="#1a1a1a" textLength="176.2" lengthAdjust="spacingAndGlyphs">Im(Q(x,1))</text>
<rect x="795.4" y="535" width="32.6" height="34.4" fill="#ff0000"/>
<text x="836.8" y="561.8" font-size="29" font-family="Liberation Serif, serif" font-weight="bold" fill="#000" textLength="90.6" lengthAdjust="spacingAndGlyphs">&#920;=0.1,</text>
<rect x="934.7" y="535" width="32.6" height="34.4" fill="#0000ff"/>
<text x="976.1" y="561.8" font-size="29" font-family="Liberation Serif, serif" font-weight="bold" fill="#000" textLength="89.6" lengthAdjust="spacingAndGlyphs">&#920;=0.5,</text>
<rect x="1072.6" y="535" width="32.6" height="34.4" fill="#ffcc00"/>
<text x="1114" y="561.8" font-size="29" font-family="Liberation Serif, serif" font-weight="bold" fill="#000" textLength="79.6" lengthAdjust="spacingAndGlyphs">&#920;=0.9</text>
<g clip-path="url(#c5)">
<path fill="#008000" fill-opacity="0.3" d="M815.9 951.5 815.9 1066.1 818.1 1069.6 819.7 1070.6 821.2 1069.4 822.4 1065.9 824.6 1050.9 826.4 1023.6 828.5 966.6 830.3 882.7 834.3 584 843.2 584 846.3 829 849.1 969.5 850.7 1015.2 852.5 1045.4 854.5 1062.9 855.7 1067.9 857 1070.3 858.6 1070.4 860.4 1068.3 868.4 1052.2 872.6 1045.4 876.6 1041.2 880.6 1039.2 883.4 1039.1 886 1039.9 888.7 1041.7 891.4 1044.5 896.1 1051.8 903.8 1067.5 906.1 1070.4 907.6 1070.4 908.9 1068.3 911 1058.1 912.6 1041.1 914 1015.2 916.6 931 918.8 801.6 921.5 584 930.4 584 933.5 829 936.3 969.5 937.8 1013.3 939.6 1044.3 941.6 1062.4 942.8 1067.6 944.2 1070.3 945.7 1070.5 947.6 1068.3 955.6 1052.2 959.9 1045.3 963.9 1041.2 967.9 1039.2 970.6 1039.1 973.3 1040 975.9 1041.7 978.6 1044.5 983.3 1051.8 991 1067.5 993.3 1070.4 994.8 1070.4 996.1 1068.3 998.1 1058.1 999.8 1041.1 1001.2 1015.2 1003.8 931 1006 801.6 1008.7 584 1017.6 584 1020.7 829 1023.4 966.6 1024.9 1011.5 1026.7 1043.3 1028.7 1062 1029.8 1067.1 1031.1 1070 1031.9 1070.6 1032.7 1070.5 1034.6 1068.5 1042.9 1051.9 1047.3 1045 1051.3 1041 1055.2 1039.2 1057.9 1039.1 1060.6 1040 1063.2 1041.8 1065.9 1044.6 1070.6 1051.9 1078.1 1067.3 1080.5 1070.4 1081.9 1070.5 1083.2 1068.5 1085.3 1058.7 1087 1041.1 1088.4 1015.2 1091 931 1093.2 801.6 1095.9 584 1104.8 584 1107.8 823.7 1110.5 963.7 1112 1007.6 1113.7 1040 1115.6 1059.9 1116.7 1065.9 1117.9 1069.4 1119.4 1070.7 1121.2 1069.4 1123.5 1065.7 1130 1052.2 1133.5 1046.4 1138 1041.4 1140.2 1040 1142.5 1039.2 1145.1 1039.1 1147.8 1040 1150.4 1041.8 1153.1 1044.6 1157.8 1051.9 1165.3 1067.3 1167.7 1070.4 1169.1 1070.5 1170.4 1068.5 1172.5 1058.7 1174.2 1041.1 1175.6 1015.2 1178.2 931 1180.4 801.6 1183.1 584 1192 584 1194.9 818.3 1197.5 954.6 1198.9 1001.5 1200.5 1033.8 1202.2 1055.5 1204.3 1067.4 1206 1070.5 1207 1070.6 1208.1 1069.8 1210.5 1066 1217.3 1051.9 1220.8 1046.2 1225.4 1041.2 1227.7 1039.8 1230 1039.1 1232.6 1039.2 1235.2 1040.1 1237.8 1042 1240.4 1044.8 1245.1 1052.1 1252.5 1067.3 1254.9 1070.4 1256.3 1070.5 1257.6 1068.5 1259.7 1058.7 1261.4 1041.1 1262.8 1015.2 1265.4 931 1267.6 801.6 1270.3 584 1279.2 584 1281.6 778.3 1283.6 904.1 1285.7 990.2 1288.2 1042.2 1289.8 1058.7 1291.8 1068.1 1292.9 1070.2 1294.1 1070.6 1295.5 1069.5 1297.2 1066.9 1297.2 951.5Z"/>
<path fill="#008000" fill-opacity="0.3" d="M815.9 951.5 815.9 1001.6 819.1 988.2 822 968.9 824.4 946 826.7 917.1 834.9 790.5 836.9 771.5 837.9 766.8 838.8 765.4 839.6 766.8 840.6 771.5 842.5 789.6 850.9 919.3 853.4 949.4 856 972.7 859 991.1 862.4 1004 864.3 1008.5 866.4 1011.8 868.8 1014.2 871.6 1015.9 877 1017 886.2 1017.1 891.5 1016.4 895.3 1014.7 898.4 1011.7 900.9 1007.3 903.2 1001.1 905.3 993 908.6 973.3 911.7 945.1 914.9 903.3 921.9 793.5 923.9 772.6 924.9 767.4 925.9 765.4 926.8 766.6 927.7 771 929.7 789.6 938.1 919.3 940.6 948.6 943 971.4 945.9 989.9 949.2 1002.9 951.1 1007.5 953.1 1011 955.3 1013.6 958 1015.5 963.1 1016.9 971.8 1017.2 977.9 1016.6 982.2 1014.9 985.3 1012 988 1007.7 990.3 1001.6 992.5 993.3 995.8 973.3 998.9 945.1 1002.1 903.3 1009.1 793.5 1011.1 772.6 1012.1 767.4 1013.1 765.4 1014 766.6 1014.9 771 1016.9 789.6 1025.2 917.1 1027.6 946.8 1030 969.5 1032.7 987.8 1035.9 1001.1 1039.5 1009.8 1041.5 1012.7 1044 1014.8 1048.5 1016.6 1055.4 1017.2 1063.9 1016.8 1069 1015.1 1072.2 1012.4 1074.9 1008.2 1077.3 1002.1 1079.5 994.1 1082.9 974.5 1086 946 1089.3 903.3 1096.3 792.5 1098.3 772.6 1099.3 767.4 1100.3 765.4 1101.2 766.8 1102.2 771.5 1104.2 790.5 1112.2 914.9 1116.8 966.2 1119.4 985 1122.3 998.6 1125.6 1007.8 1127.5 1011 1129.6 1013.5 1133.6 1016 1139 1017 1149.6 1017 1155.5 1015.5 1158.9 1012.9 1161.8 1008.8 1164.3 1002.9 1166.5 995.1 1170 975.1 1173.2 946 1176.5 903.3 1183.5 792.5 1185.5 772.6 1186.5 767.4 1187.5 765.4 1188.4 766.8 1189.4 771.5 1191.4 790.5 1199.2 911.5 1203.4 960.5 1205.6 978.5 1208.1 992.6 1210.8 1002.9 1213.9 1009.8 1217.6 1014.2 1222.5 1016.5 1233 1017.2 1237.8 1016.9 1241.1 1016.1 1245.1 1013.9 1248.2 1010.2 1250.9 1004.4 1253.3 996.4 1257 976.2 1260.3 946.8 1263.6 904.5 1270.7 793.5 1272.7 773.1 1273.6 767.7 1274.6 765.4 1275.6 766.6 1276.5 771 1278.5 789.6 1286.8 917.1 1291.4 968.2 1294.2 986.9 1297.2 1000.3 1297.2 951.5Z"/>
<path fill="none" stroke="#ff0000" stroke-width="4.5" stroke-linejoin="round" d="M815.9 951.5 1297.2 951.5"/>
<path fill="none" stroke="#0000ff" stroke-width="5" stroke-linecap="round" stroke-dasharray="9 8 0.1 8" d="M815.9 1001.6 818.1 993 820.1 982.1 823.9 951.1 827.4 906.9 834.7 792.5 836.8 772 837.8 767.1 838.8 765.4 839.6 766.8 840.6 771.5 842.5 789.6 850.9 919.3 853.4 948.6 855.8 971.4 858.7 989.9 862 1002.9 863.9 1007.5 865.9 1011 868.1 1013.6 870.7 1015.4 875.8 1016.9 884.4 1017.2 890.7 1016.6 895 1014.9 898.1 1012 900.8 1007.7 903.1 1001.6 905.3 993.3 908.5 973.9 911.6 946 914.9 903.3 921.9 792.5 924 772 925 767.1 926 765.4 926.8 766.8 927.8 771.5 929.8 790.5 938 917.1 940.4 946.8 942.8 969.5 945.6 988.2 948.7 1001.4 952.3 1009.9 954.5 1012.8 956.9 1014.9 961.6 1016.6 968.8 1017.2 976.9 1016.8 981.9 1015.1 985.1 1012.3 987.8 1008 990.1 1002.1 992.3 994.1 995.7 974.5 998.8 946 1002.1 903.3 1009.1 792.5 1011.2 772 1012.2 767.1 1013.2 765.4 1014 766.8 1015 771.5 1017 790.5 1025.1 916 1029.8 967.6 1032.4 986 1035.4 999.5 1038.7 1008.5 1040.7 1011.6 1042.9 1014 1047 1016.2 1052.9 1017.1 1062.9 1016.9 1068.6 1015.3 1071.9 1012.8 1074.7 1008.6 1077.2 1002.6 1079.3 994.8 1082.8 975.1 1085.9 946.8 1089.2 904.5 1096.3 792.5 1098.4 772 1099.4 767.1 1100.4 765.4 1101.2 766.8 1102.2 771.5 1104.2 790.5 1112.1 913.8 1116.6 964.1 1119 982.6 1121.8 996.4 1124.8 1006.1 1128.4 1012.3 1132.3 1015.4 1137.4 1016.9 1148.5 1017.1 1155 1015.7 1158.5 1013.3 1161.5 1009.4 1164 1003.6 1166.3 995.8 1169.9 975.6 1173.1 946.8 1176.4 904.5 1183.5 792.5 1185.6 772 1186.6 767.1 1187.5 765.4 1188.5 767.1 1189.5 772 1191.5 791.5 1199 909.2 1203 956.7 1205.1 975.1 1207.4 989 1209.9 999.8 1212.6 1007.3 1216.3 1013.1 1218.6 1014.9 1221.2 1016.1 1224.6 1016.9 1229.4 1017.2 1235.8 1017.1 1239.9 1016.5 1244.3 1014.5 1247.6 1011 1250.5 1005.5 1253.1 997.4 1256.8 977.9 1260.1 948.6 1263.6 904.5 1270.7 792.5 1272.8 772 1273.8 767.1 1274.7 765.4 1275.7 767.1 1276.7 772 1278.8 792.5 1286 905.7 1289.5 950.3 1293.1 980.6 1295 991.5 1297.2 1000.3"/>
<path fill="none" stroke="#ffa000" stroke-width="5.5" stroke-linecap="round" stroke-dasharray="0.1 14.5" d="M815.9 1066.1 818.3 1069.9 819.3 1070.6 820.1 1070.5 821.7 1068.3 823 1062.9 825.4 1041.1 827.4 1001.5 829.1 941.5 830.7 859.4 834.3 584 843.2 584 846.5 839.5 849.3 977.7 851 1022 852.9 1050 855 1065.6 856.3 1069.4 857.8 1070.7 859.2 1069.9 860.8 1067.6 868 1052.9 872.1 1046.1 876.3 1041.5 880.5 1039.2 883.3 1039.1 886 1039.9 888.7 1041.7 891.4 1044.5 896.1 1051.8 903.8 1067.5 906.1 1070.4 907.6 1070.4 908.9 1068.3 911 1058.1 912.6 1041.1 914 1015.2 916.6 931 918.8 801.6 921.5 584 930.4 584 933.4 823.7 936.1 963.7 937.7 1009.6 939.3 1041.1 941.4 1061 942.5 1066.6 943.8 1069.8 944.6 1070.5 945.4 1070.6 947.4 1068.6 955.7 1051.9 960.2 1044.9 964.1 1041 968 1039.2 970.7 1039.1 973.4 1040 976 1041.8 978.7 1044.6 983.4 1051.9 990.9 1067.3 993.3 1070.4 994.7 1070.5 996 1068.5 998.1 1058.7 999.8 1041.1 1001.2 1015.2 1003.8 931 1006 801.6 1008.7 584 1017.6 584 1020.5 818.3 1023.1 954.6 1024.5 1001.5 1026.1 1033.8 1027.8 1055.5 1030 1067.6 1031.7 1070.5 1032.6 1070.6 1033.8 1069.7 1036.1 1066 1042.9 1051.9 1046.5 1046.1 1051.2 1041.1 1053.5 1039.7 1055.8 1039.1 1058.4 1039.2 1061 1040.2 1063.5 1042.1 1066.1 1044.9 1070.7 1052.1 1078.1 1067.3 1080.4 1070.3 1081.7 1070.5 1082.9 1069.1 1084.9 1061 1086.7 1044.3 1088.2 1018.7 1090.9 934.6 1093.2 801.6 1095.9 584 1104.8 584 1107.5 801.6 1109.7 931 1112.3 1015.2 1113.7 1041.1 1115.4 1058.7 1117.5 1068.5 1118.8 1070.5 1120.2 1070.4 1122.6 1067.3 1130.1 1051.9 1134.8 1044.7 1137.4 1041.9 1140.1 1040 1142.7 1039.1 1145.4 1039.2 1147.7 1040 1149.9 1041.4 1154.4 1046.4 1157.9 1052.2 1164.5 1065.8 1166.8 1069.5 1168.5 1070.6 1170.1 1069.2 1171.3 1065.6 1172.4 1059.3 1174.3 1038.8 1176 1005.6 1177.4 960.7 1180.1 823.7 1183.1 584 1192 584 1194.7 801.6 1196.9 931 1199.5 1015.2 1200.9 1041.1 1202.6 1058.7 1204.7 1068.5 1206 1070.5 1207.4 1070.4 1209.8 1067.3 1217.3 1051.9 1222 1044.6 1224.7 1041.8 1227.3 1040 1230 1039.1 1232.7 1039.2 1236.7 1041.1 1240.7 1045.1 1245.1 1052.1 1253.2 1068.4 1255.1 1070.5 1255.9 1070.6 1256.7 1070.1 1258 1067.4 1259.2 1062 1261.2 1043.3 1263 1011.5 1264.5 966.6 1267.2 829 1270.3 584 1279.2 584 1282.7 854.6 1284.3 938.1 1286.1 999.3 1288 1038.8 1290.3 1062 1291.6 1067.6 1293.1 1070.4 1293.9 1070.6 1294.9 1070.2 1297.2 1066.9"/>
</g>
<path fill="none" stroke="#555555" stroke-width="2.6" d="M815.9 586V1080.5H1297.2"/>
<path fill="none" stroke="#555555" stroke-width="2.2" d="M808.9 1060.9H815.9M808.9 951.5H815.9M808.9 842.1H815.9M808.9 732.7H815.9M808.9 623.3H815.9M811.9 1006.2H815.9M811.9 896.8H815.9M811.9 787.4H815.9M811.9 678H815.9M815.9 1080.5V1086.5M896.1 1080.5V1086.5M976.3 1080.5V1086.5M1056.5 1080.5V1086.5M1136.8 1080.5V1086.5M1217 1080.5V1086.5M1297.2 1080.5V1086.5M856 1080.5V1084.5M936.2 1080.5V1084.5M1016.4 1080.5V1084.5M1096.7 1080.5V1084.5M1176.9 1080.5V1084.5M1257.1 1080.5V1084.5"/>
<text x="803.5" y="1067.9" font-size="19.5" font-family="DejaVu Sans, sans-serif" fill="#53535e" text-anchor="end" textLength="67.7" lengthAdjust="spacingAndGlyphs">-1000</text>
<text x="803.5" y="958.5" font-size="19.5" font-family="DejaVu Sans, sans-serif" fill="#53535e" text-anchor="end" textLength="13.8" lengthAdjust="spacingAndGlyphs">0</text>
<text x="803.5" y="849.1" font-size="19.5" font-family="DejaVu Sans, sans-serif" fill="#53535e" text-anchor="end" textLength="55.2" lengthAdjust="spacingAndGlyphs">1000</text>
<text x="803.5" y="739.7" font-size="19.5" font-family="DejaVu Sans, sans-serif" fill="#53535e" text-anchor="end" textLength="55.2" lengthAdjust="spacingAndGlyphs">2000</text>
<text x="803.5" y="630.3" font-size="19.5" font-family="DejaVu Sans, sans-serif" fill="#53535e" text-anchor="end" textLength="55.2" lengthAdjust="spacingAndGlyphs">3000</text>
<text x="818.2" y="1109" font-size="19.5" font-family="DejaVu Sans, sans-serif" fill="#53535e" text-anchor="middle" textLength="40.1" lengthAdjust="spacingAndGlyphs">-30</text>
<text x="898.4" y="1109" font-size="19.5" font-family="DejaVu Sans, sans-serif" fill="#53535e" text-anchor="middle" textLength="40.1" lengthAdjust="spacingAndGlyphs">-20</text>
<text x="978.6" y="1109" font-size="19.5" font-family="DejaVu Sans, sans-serif" fill="#53535e" text-anchor="middle" textLength="40.1" lengthAdjust="spacingAndGlyphs">-10</text>
<text x="1056.5" y="1109" font-size="19.5" font-family="DejaVu Sans, sans-serif" fill="#53535e" text-anchor="middle" textLength="13.8" lengthAdjust="spacingAndGlyphs">0</text>
<text x="1136.8" y="1109" font-size="19.5" font-family="DejaVu Sans, sans-serif" fill="#53535e" text-anchor="middle" textLength="27.6" lengthAdjust="spacingAndGlyphs">10</text>
<text x="1217" y="1109" font-size="19.5" font-family="DejaVu Sans, sans-serif" fill="#53535e" text-anchor="middle" textLength="27.6" lengthAdjust="spacingAndGlyphs">20</text>
<text x="1297.2" y="1109" font-size="19.5" font-family="DejaVu Sans, sans-serif" fill="#53535e" text-anchor="middle" textLength="27.6" lengthAdjust="spacingAndGlyphs">30</text>
<text x="1056" y="1142" font-size="30" font-family="DejaVu Sans Mono, monospace" fill="#1a1a1a" text-anchor="middle">x</text>
<text transform="translate(723.7 832.1) rotate(-90)" text-anchor="middle" font-size="33" font-family="DejaVu Sans Mono, monospace" fill="#1a1a1a" textLength="232" lengthAdjust="spacingAndGlyphs">Real(Q(x,1))</text>
<rect x="795.4" y="1154.7" width="32.6" height="34.4" fill="#ff0000"/>
<text x="836.8" y="1181.5" font-size="29" font-family="Liberation Serif, serif" font-weight="bold" fill="#000" textLength="90.6" lengthAdjust="spacingAndGlyphs">&#920;=0.1,</text>
<rect x="934.7" y="1154.7" width="32.6" height="34.4" fill="#0000ff"/>
<text x="976.1" y="1181.5" font-size="29" font-family="Liberation Serif, serif" font-weight="bold" fill="#000" textLength="89.6" lengthAdjust="spacingAndGlyphs">&#920;=0.5,</text>
<rect x="1072.6" y="1154.7" width="32.6" height="34.4" fill="#ffcc00"/>
<text x="1114" y="1181.5" font-size="29" font-family="Liberation Serif, serif" font-weight="bold" fill="#000" textLength="79.6" lengthAdjust="spacingAndGlyphs">&#920;=0.9</text>
<g clip-path="url(#c3)">
<path fill="#008000" fill-opacity="0.3" d="M1475.6 148.5 1584.9 148.5 1598.3 154.3 1607.1 170.4 1620.4 228.6 1627.1 199.6 1632.3 160.5 1638.5 131.3 1639.9 96.7 1641.7 11.4 1644.8 136.1 1647.5 370.6 1649.7 461.2 1655.9 382 1671.3 225 1676.7 192.2 1682.4 170.7 1689.2 157.2 1695.7 151.4 1704.6 148.5 1989.9 148.5Z"/>
<path fill="#008000" fill-opacity="0.3" d="M1475.6 148.5 1635.9 148.5 1641.7 150 1645.6 155.7 1647 236.1 1647.9 457.9 1653.7 410.9 1660.4 344.9 1671.4 257.6 1676.7 228.7 1682.5 203.9 1689.1 189 1698.1 173.2 1707.7 164.5 1717.9 157.3 1729.4 153.7 1744.5 151.1 1762.2 149.7 1788.7 148.8 1989.9 148.5Z"/>
<path fill="#008000" fill-opacity="0.3" d="M1475.6 148.5 1576.1 148.5 1602.8 147 1624.7 144.9 1633.8 142.6 1640.3 138.3 1643.5 130.4 1644.8 117.2 1645.5 71.1 1646.2 71.1 1646.4 73 1647.3 148.6 1649.7 154.3 1655.9 151.4 1673.6 150 1713.5 148.9 1989.9 148.5Z"/>
<path fill="none" stroke="#ff0000" stroke-width="4.5" stroke-linejoin="round" d="M1475.6 148.5 1576.1 148.5 1602.8 147 1624.7 144.9 1633.8 142.6 1640.3 138.3 1643.4 131.1 1644.8 117.2 1645.5 71.1 1646.2 71.1 1647.3 148.6 1649.7 154.3 1655.9 151.4 1673.6 150 1713.5 148.9 1989.9 148.5"/>
<path fill="none" stroke="#0000ff" stroke-width="5" stroke-linecap="round" stroke-dasharray="9 8 0.1 8" d="M1475.6 148.5 1635.9 148.5 1641.7 150 1645.6 155.7 1647 236.1 1647.9 457.9 1653.7 410.9 1660.4 344.9 1671.4 257.6 1676.7 228.7 1682.5 203.9 1689.1 189 1698.1 173.2 1707.7 164.5 1717.9 157.3 1729.4 153.7 1744.5 151.1 1762.2 149.7 1788.7 148.8 1989.9 148.5"/>
<path fill="none" stroke="#ffa000" stroke-width="5.5" stroke-linecap="round" stroke-dasharray="0.1 14.5" d="M1475.6 148.5 1584.9 148.5 1598.3 154.3 1607.1 170.4 1620.4 228.6 1627.1 199.6 1632.3 160.5 1638.5 131.3 1639.9 96.7 1641.7 11.4 1644.8 136.1 1647.5 370.6 1649.7 461.2 1655.9 382 1671.3 225 1676.7 192.2 1682.4 170.7 1689.2 157.2 1695.7 151.4 1704.6 148.5 1989.9 148.5"/>
</g>
<path fill="none" stroke="#555555" stroke-width="2.6" d="M1475.5 5.8V459.2H1990"/>
<path fill="none" stroke="#555555" stroke-width="2.2" d="M1468.5 440.5H1475.5M1468.5 367.5H1475.5M1468.5 294.5H1475.5M1468.5 221.5H1475.5M1468.5 148.5H1475.5M1468.5 75.5H1475.5M1471.5 455.1H1475.5M1471.5 425.9H1475.5M1471.5 411.3H1475.5M1471.5 396.7H1475.5M1471.5 382.1H1475.5M1471.5 352.9H1475.5M1471.5 338.3H1475.5M1471.5 323.7H1475.5M1471.5 309.1H1475.5M1471.5 279.9H1475.5M1471.5 265.3H1475.5M1471.5 250.7H1475.5M1471.5 236.1H1475.5M1471.5 206.9H1475.5M1471.5 192.3H1475.5M1471.5 177.7H1475.5M1471.5 163.1H1475.5M1471.5 133.9H1475.5M1471.5 119.3H1475.5M1471.5 104.7H1475.5M1471.5 90.1H1475.5M1471.5 60.9H1475.5M1471.5 46.3H1475.5M1471.5 31.7H1475.5M1471.5 17.1H1475.5M1558.4 459.2V465.2M1647 459.2V465.2M1735.6 459.2V465.2M1824.2 459.2V465.2M1912.8 459.2V465.2M1514.1 459.2V463.2M1602.7 459.2V463.2M1691.3 459.2V463.2M1779.9 459.2V463.2M1868.5 459.2V463.2M1957.1 459.2V463.2"/>
<text x="1466" y="447.5" font-size="19.5" font-family="DejaVu Sans, sans-serif" fill="#53535e" text-anchor="end" textLength="53.9" lengthAdjust="spacingAndGlyphs">-200</text>
<text x="1466" y="374.5" font-size="19.5" font-family="DejaVu Sans, sans-serif" fill="#53535e" text-anchor="end" textLength="53.9" lengthAdjust="spacingAndGlyphs">-150</text>
<text x="1466" y="301.5" font-size="19.5" font-family="DejaVu Sans, sans-serif" fill="#53535e" text-anchor="end" textLength="53.9" lengthAdjust="spacingAndGlyphs">-100</text>
<text x="1466" y="228.5" font-size="19.5" font-family="DejaVu Sans, sans-serif" fill="#53535e" text-anchor="end" textLength="40.1" lengthAdjust="spacingAndGlyphs">-50</text>
<text x="1466" y="155.5" font-size="19.5" font-family="DejaVu Sans, sans-serif" fill="#53535e" text-anchor="end" textLength="13.8" lengthAdjust="spacingAndGlyphs">0</text>
<text x="1466" y="82.5" font-size="19.5" font-family="DejaVu Sans, sans-serif" fill="#53535e" text-anchor="end" textLength="27.6" lengthAdjust="spacingAndGlyphs">50</text>
<text x="1560.7" y="488" font-size="19.5" font-family="DejaVu Sans, sans-serif" fill="#53535e" text-anchor="middle" textLength="40.1" lengthAdjust="spacingAndGlyphs">-20</text>
<text x="1647" y="488" font-size="19.5" font-family="DejaVu Sans, sans-serif" fill="#53535e" text-anchor="middle" textLength="13.8" lengthAdjust="spacingAndGlyphs">0</text>
<text x="1735.6" y="488" font-size="19.5" font-family="DejaVu Sans, sans-serif" fill="#53535e" text-anchor="middle" textLength="27.6" lengthAdjust="spacingAndGlyphs">20</text>
<text x="1824.2" y="488" font-size="19.5" font-family="DejaVu Sans, sans-serif" fill="#53535e" text-anchor="middle" textLength="27.6" lengthAdjust="spacingAndGlyphs">40</text>
<text x="1912.8" y="488" font-size="19.5" font-family="DejaVu Sans, sans-serif" fill="#53535e" text-anchor="middle" textLength="27.6" lengthAdjust="spacingAndGlyphs">60</text>
<text x="1733" y="517" font-size="30" font-family="DejaVu Sans Mono, monospace" fill="#1a1a1a" text-anchor="middle">t</text>
<text transform="translate(1396.6 231.1) rotate(-90)" text-anchor="middle" font-size="33" font-family="DejaVu Sans Mono, monospace" fill="#1a1a1a" textLength="172.4" lengthAdjust="spacingAndGlyphs">Im(Q(1,t))</text>
<rect x="1472" y="527.7" width="32.6" height="34.4" fill="#ff0000"/>
<text x="1513.4" y="554.5" font-size="29" font-family="Liberation Serif, serif" font-weight="bold" fill="#000" textLength="90.6" lengthAdjust="spacingAndGlyphs">&#920;=0.1,</text>
<rect x="1611.3" y="527.7" width="32.6" height="34.4" fill="#0000ff"/>
<text x="1652.7" y="554.5" font-size="29" font-family="Liberation Serif, serif" font-weight="bold" fill="#000" textLength="89.6" lengthAdjust="spacingAndGlyphs">&#920;=0.5,</text>
<rect x="1749.2" y="527.7" width="32.6" height="34.4" fill="#ffcc00"/>
<text x="1790.6" y="554.5" font-size="29" font-family="Liberation Serif, serif" font-weight="bold" fill="#000" textLength="79.6" lengthAdjust="spacingAndGlyphs">&#920;=0.9</text>
<g clip-path="url(#c6)">
<path fill="#008000" fill-opacity="0.3" d="M1492.2 778.1 1492.2 905.7 1498.5 887.3 1504 873.5 1511.4 858.6 1518 847.9 1524.5 840.3 1532.6 833 1546 823.3 1555.6 817.7 1565.6 813.8 1576.6 812.1 1584.9 812.8 1598 815.7 1605.4 819 1617.3 826.9 1622.7 832.5 1627.8 840.8 1632 850.8 1635.5 863.1 1638.2 877.3 1640.5 895.2 1643.1 935 1650.8 1085.5 1681.5 1085.5 1689.7 920.5 1691.6 894.1 1694.2 873.7 1696.9 859.2 1700 846.2 1703.7 835.1 1707.3 826.5 1711.3 820.8 1715.4 816.9 1717.6 816 1724.2 815.8 1727.1 817.2 1731.6 822.3 1734.4 827.5 1737.6 835.2 1739.2 843.7 1741.6 873.2 1742.3 895.5 1742.6 1085.5 1743.2 585.8 1744.6 585.8 1744.7 586.9 1745.4 683.3 1746.4 735.8 1748.6 747.9 1751.1 753.5 1754.4 756.4 1762 772 1765.8 776.2 1769.7 778.1 1993.4 778.1Z"/>
<path fill="#008000" fill-opacity="0.3" d="M1492.2 778.1 1729.9 778.1 1734.7 777 1738 769.9 1740.2 732.3 1741.2 590.6 1741.3 585.8 1742.4 585.8 1742.9 1085.5 1743.9 1085.5 1745.1 702.2 1746.7 647.1 1748.6 740.4 1751.2 766.9 1754 775 1758.8 778.1 1993.4 778.1Z"/>
<path fill="none" stroke="#ff0000" stroke-width="4.5" stroke-linejoin="round" d="M1492.2 778.1 1993.4 778.1"/>
<path fill="none" stroke="#0000ff" stroke-width="5" stroke-linecap="round" stroke-dasharray="9 8 0.1 8" d="M1492.2 905.7 1498.3 887.9 1503.6 874.4 1510.5 860.3 1516.8 849.7 1522.2 842.8 1529.5 835.6 1538.2 828.8 1549.8 820.9 1556.6 817.2 1565.3 813.8 1574.6 812.2 1581.3 812.2 1592.6 814.2 1601.6 817 1612.5 823.4 1619 828.5 1622.7 832.5 1626.3 838.1 1629.4 844.1 1632.1 851.1 1636.4 867.2 1639.8 888.9 1642.7 927.8 1650.8 1085.5 1681.5 1085.5 1689.9 917.2 1691.7 893 1694.6 871.3 1697.6 856 1700.5 844.4 1704.6 832.7 1708 825.2 1712.6 819.3 1716.2 816.4 1717.8 816 1724.3 815.8 1726.5 816.7 1729.4 819.6 1732.4 823.5 1736.3 831.7 1737.9 836.3 1739.3 844.7 1741.7 874.7 1742.3 895.5 1742.6 1085.5 1743.2 585.8 1744.6 585.8 1744.7 586.9 1745.4 683.3 1746.4 735.8 1748.6 747.9 1751.1 753.5 1754.4 756.4 1762 772 1765.8 776.2 1769.7 778.1 1993.4 778.1"/>
<path fill="none" stroke="#ffa000" stroke-width="5.5" stroke-linecap="round" stroke-dasharray="0.1 14.5" d="M1492.2 778.1 1729.9 778.1 1734.7 777 1738 769.9 1740.2 732.3 1741.2 590.6 1741.3 585.8 1742.4 585.8 1742.9 1085.5 1743.9 1085.5 1745.1 702.2 1746.7 647.1 1748.6 740.4 1751.2 766.9 1754 775 1758.8 778.1 1993.4 778.1"/>
</g>
<path fill="none" stroke="#555555" stroke-width="2.6" d="M1491 587.8V1083.5H1993.8"/>
<path fill="none" stroke="#555555" stroke-width="2.2" d="M1484 1079.7H1491M1484 1004.3H1491M1484 928.9H1491M1484 853.5H1491M1484 778.1H1491M1484 702.7H1491M1484 627.3H1491M1487 1042H1491M1487 966.6H1491M1487 891.2H1491M1487 815.8H1491M1487 740.4H1491M1487 665H1491M1487 589.6H1491M1550.8 1083.5V1089.5M1614.8 1083.5V1089.5M1678.8 1083.5V1089.5M1742.8 1083.5V1089.5M1806.8 1083.5V1089.5M1870.8 1083.5V1089.5M1934.8 1083.5V1089.5M1518.8 1083.5V1087.5M1582.8 1083.5V1087.5M1646.8 1083.5V1087.5M1710.8 1083.5V1087.5M1774.8 1083.5V1087.5M1838.8 1083.5V1087.5M1902.8 1083.5V1087.5M1966.8 1083.5V1087.5"/>
<text x="1481" y="1087.2" font-size="19.5" font-family="DejaVu Sans, sans-serif" fill="#53535e" text-anchor="end" textLength="67.7" lengthAdjust="spacingAndGlyphs">-8000</text>
<text x="1481" y="1011.8" font-size="19.5" font-family="DejaVu Sans, sans-serif" fill="#53535e" text-anchor="end" textLength="67.7" lengthAdjust="spacingAndGlyphs">-6000</text>
<text x="1481" y="936.4" font-size="19.5" font-family="DejaVu Sans, sans-serif" fill="#53535e" text-anchor="end" textLength="67.7" lengthAdjust="spacingAndGlyphs">-4000</text>
<text x="1481" y="861" font-size="19.5" font-family="DejaVu Sans, sans-serif" fill="#53535e" text-anchor="end" textLength="67.7" lengthAdjust="spacingAndGlyphs">-2000</text>
<text x="1481" y="785.6" font-size="19.5" font-family="DejaVu Sans, sans-serif" fill="#53535e" text-anchor="end" textLength="13.8" lengthAdjust="spacingAndGlyphs">0</text>
<text x="1481" y="710.2" font-size="19.5" font-family="DejaVu Sans, sans-serif" fill="#53535e" text-anchor="end" textLength="55.2" lengthAdjust="spacingAndGlyphs">2000</text>
<text x="1481" y="634.8" font-size="19.5" font-family="DejaVu Sans, sans-serif" fill="#53535e" text-anchor="end" textLength="55.2" lengthAdjust="spacingAndGlyphs">4000</text>
<text x="1553.1" y="1114" font-size="19.5" font-family="DejaVu Sans, sans-serif" fill="#53535e" text-anchor="middle" textLength="40.1" lengthAdjust="spacingAndGlyphs">-60</text>
<text x="1617.1" y="1114" font-size="19.5" font-family="DejaVu Sans, sans-serif" fill="#53535e" text-anchor="middle" textLength="40.1" lengthAdjust="spacingAndGlyphs">-40</text>
<text x="1681.1" y="1114" font-size="19.5" font-family="DejaVu Sans, sans-serif" fill="#53535e" text-anchor="middle" textLength="40.1" lengthAdjust="spacingAndGlyphs">-20</text>
<text x="1742.8" y="1114" font-size="19.5" font-family="DejaVu Sans, sans-serif" fill="#53535e" text-anchor="middle" textLength="13.8" lengthAdjust="spacingAndGlyphs">0</text>
<text x="1806.8" y="1114" font-size="19.5" font-family="DejaVu Sans, sans-serif" fill="#53535e" text-anchor="middle" textLength="27.6" lengthAdjust="spacingAndGlyphs">20</text>
<text x="1870.8" y="1114" font-size="19.5" font-family="DejaVu Sans, sans-serif" fill="#53535e" text-anchor="middle" textLength="27.6" lengthAdjust="spacingAndGlyphs">40</text>
<text x="1934.8" y="1114" font-size="19.5" font-family="DejaVu Sans, sans-serif" fill="#53535e" text-anchor="middle" textLength="27.6" lengthAdjust="spacingAndGlyphs">60</text>
<text x="1742" y="1147" font-size="30" font-family="DejaVu Sans Mono, monospace" fill="#1a1a1a" text-anchor="middle">t</text>
<text transform="translate(1397.7 836.5) rotate(-90)" text-anchor="middle" font-size="33" font-family="DejaVu Sans Mono, monospace" fill="#1a1a1a" textLength="256" lengthAdjust="spacingAndGlyphs">Real(Q(-5,t))</text>
<rect x="1472" y="1160.2" width="32.6" height="34.4" fill="#ff0000"/>
<text x="1513.4" y="1187" font-size="29" font-family="Liberation Serif, serif" font-weight="bold" fill="#000" textLength="90.6" lengthAdjust="spacingAndGlyphs">&#920;=0.1,</text>
<rect x="1611.3" y="1160.2" width="32.6" height="34.4" fill="#0000ff"/>
<text x="1652.7" y="1187" font-size="29" font-family="Liberation Serif, serif" font-weight="bold" fill="#000" textLength="89.6" lengthAdjust="spacingAndGlyphs">&#920;=0.5,</text>
<rect x="1749.2" y="1160.2" width="32.6" height="34.4" fill="#ffcc00"/>
<text x="1790.6" y="1187" font-size="29" font-family="Liberation Serif, serif" font-weight="bold" fill="#000" textLength="79.6" lengthAdjust="spacingAndGlyphs">&#920;=0.9</text></svg></body></html>
